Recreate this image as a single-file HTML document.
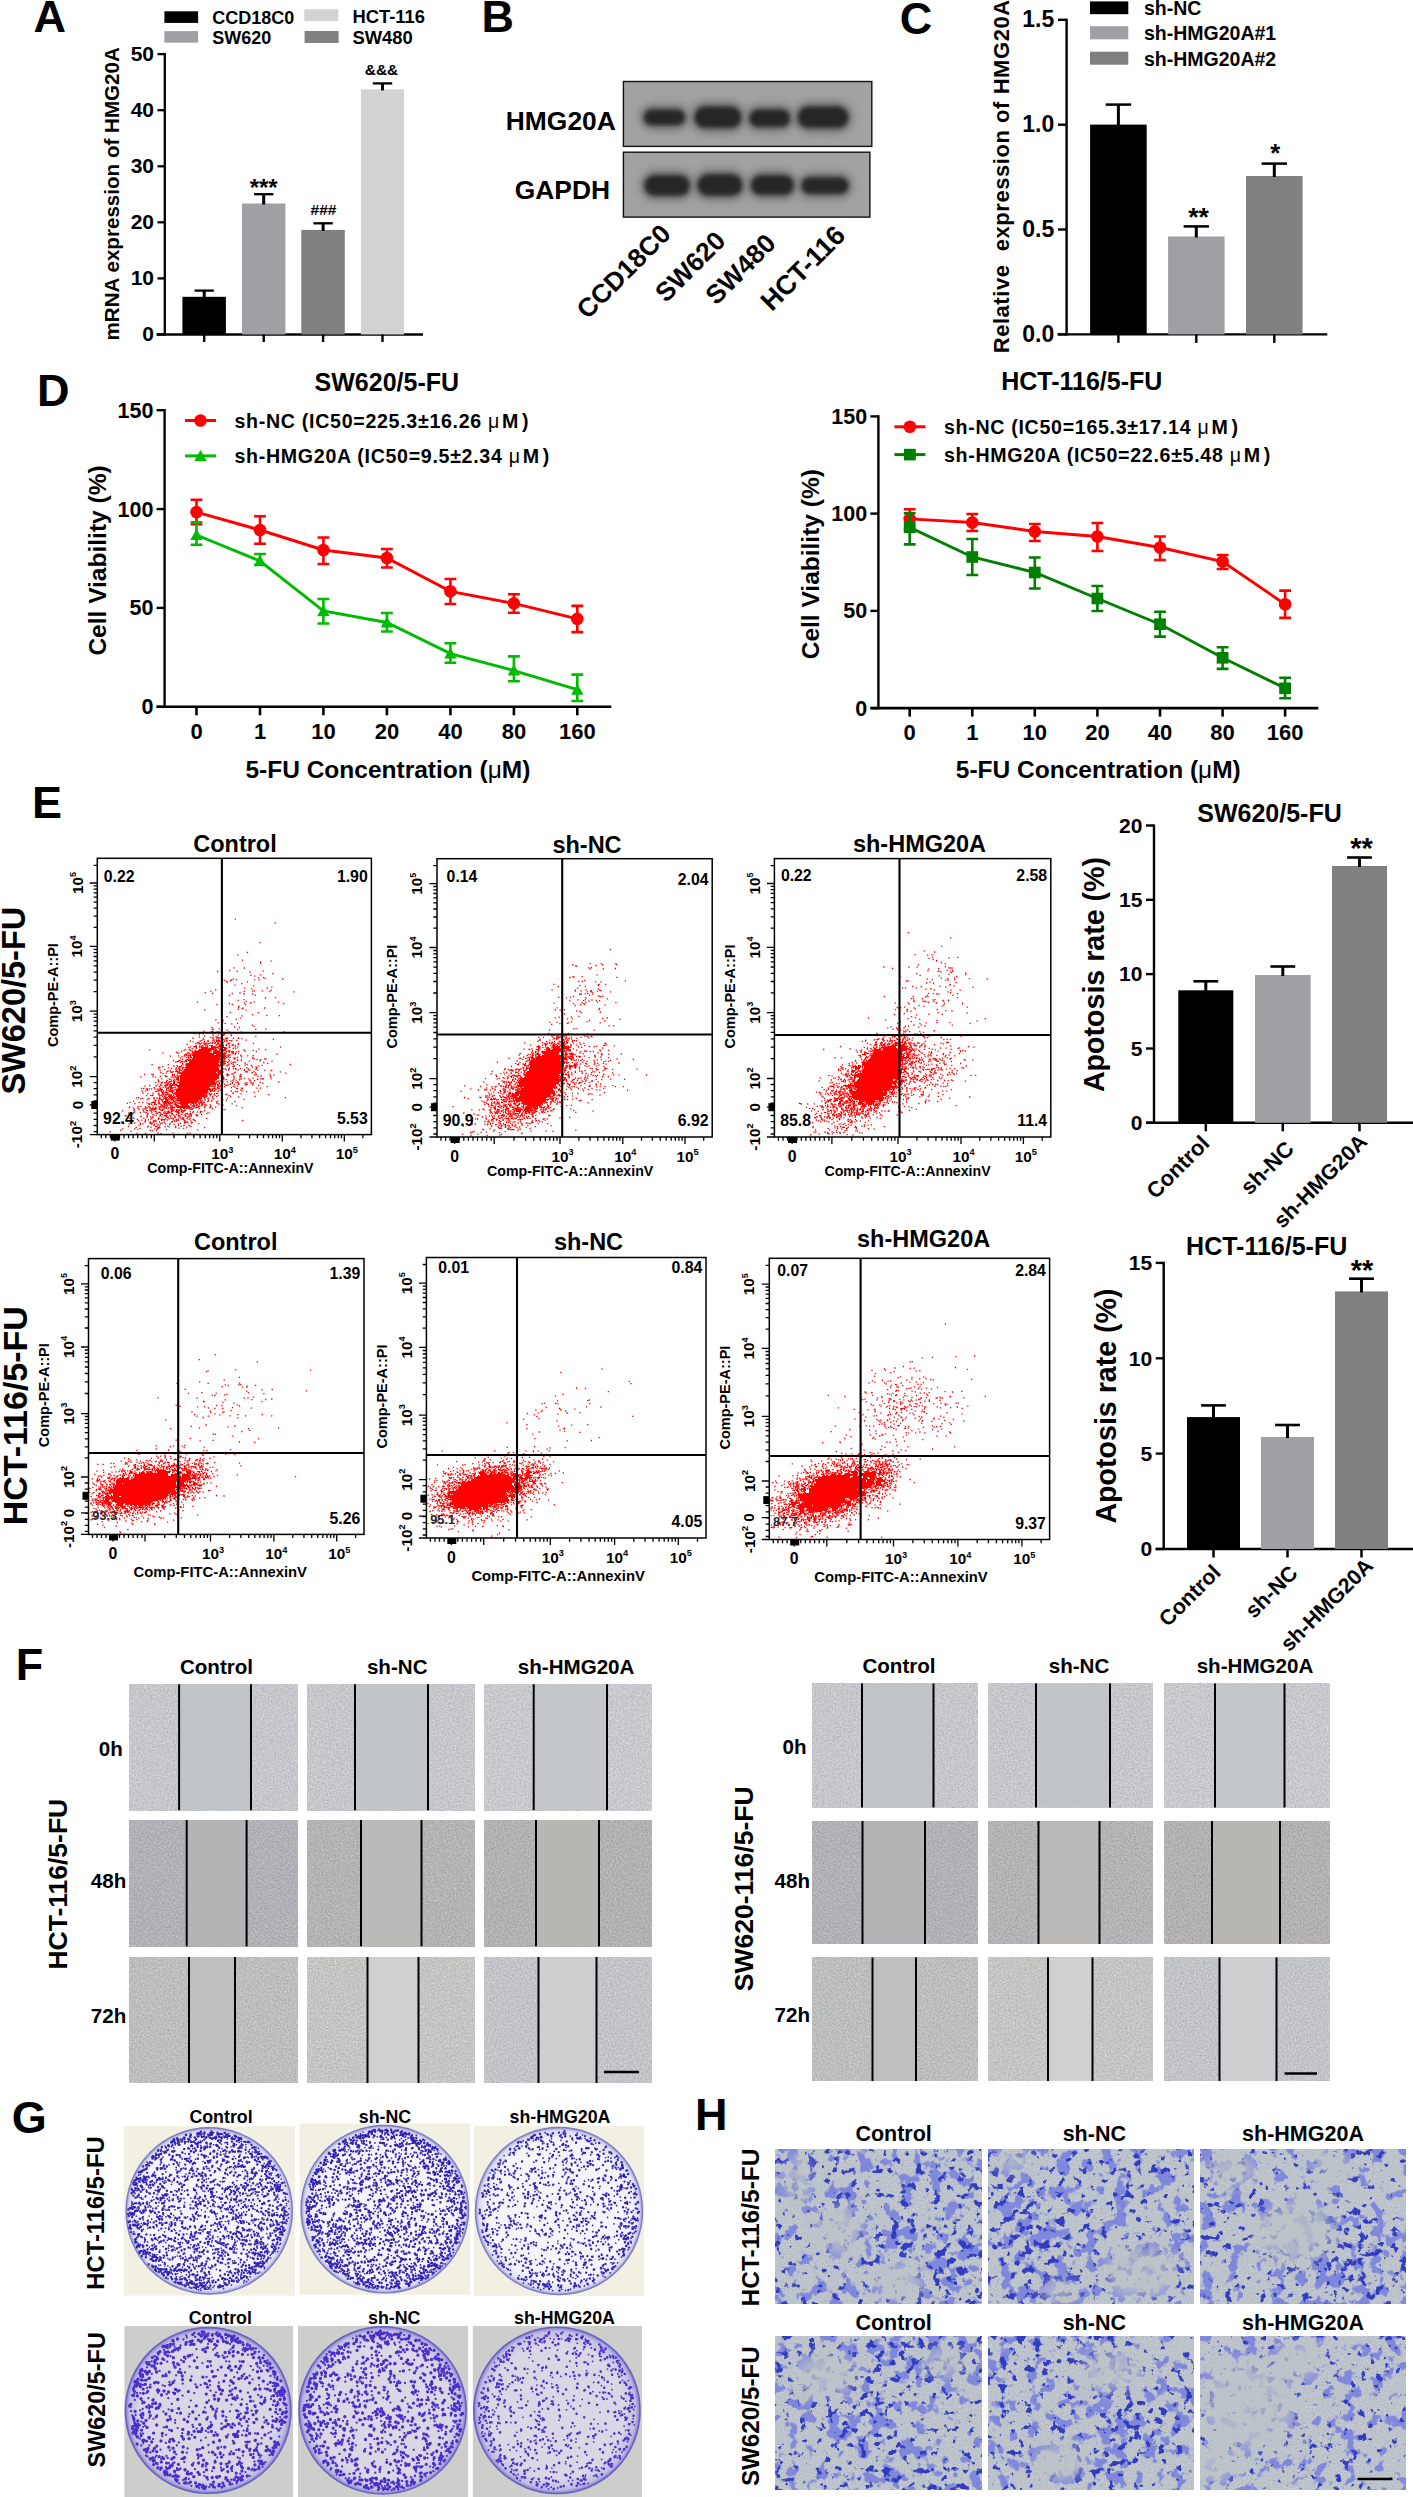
<!DOCTYPE html>
<html><head><meta charset="utf-8"><title>Figure</title>
<style>html,body{margin:0;padding:0;background:#fff;overflow:hidden;width:1413px;height:2497px;} svg{display:block;} text{font-family:"Liberation Sans", sans-serif;font-weight:bold;}</style>
</head><body>
<svg width="1413" height="2497" viewBox="0 0 1413 2497">
<rect width="1413" height="2497" fill="#fff"/>
<text x="33.6" y="31.7" font-size="45">A</text>
<rect x="164.4" y="11.3" width="33.7" height="11.6" fill="#000"/>
<text x="212.2" y="24.0" font-size="18">CCD18C0</text>
<rect x="164.4" y="31.1" width="33.7" height="11.6" fill="#a09fa4"/>
<text x="212.2" y="43.8" font-size="18">SW620</text>
<rect x="304.3" y="9.3" width="34.0" height="11.7" fill="#d3d3d3"/>
<text x="352.4" y="22.5" font-size="18.4">HCT-116</text>
<rect x="304.6" y="31.0" width="34.0" height="12.0" fill="#808080"/>
<text x="352.4" y="43.5" font-size="18.4">SW480</text>
<line x1="164.8" y1="53.0" x2="164.8" y2="335.6" stroke="#000" stroke-width="2.3"/>
<line x1="156.5" y1="334.5" x2="423.0" y2="334.5" stroke="#000" stroke-width="2.4"/>
<line x1="157.5" y1="334.5" x2="164.8" y2="334.5" stroke="#000" stroke-width="2.3"/>
<text x="154.0" y="341.3" font-size="21" text-anchor="end">0</text>
<line x1="157.5" y1="278.4" x2="164.8" y2="278.4" stroke="#000" stroke-width="2.3"/>
<text x="154.0" y="285.2" font-size="21" text-anchor="end">10</text>
<line x1="157.5" y1="222.3" x2="164.8" y2="222.3" stroke="#000" stroke-width="2.3"/>
<text x="154.0" y="229.1" font-size="21" text-anchor="end">20</text>
<line x1="157.5" y1="166.3" x2="164.8" y2="166.3" stroke="#000" stroke-width="2.3"/>
<text x="154.0" y="173.1" font-size="21" text-anchor="end">30</text>
<line x1="157.5" y1="110.2" x2="164.8" y2="110.2" stroke="#000" stroke-width="2.3"/>
<text x="154.0" y="117.0" font-size="21" text-anchor="end">40</text>
<line x1="157.5" y1="54.1" x2="164.8" y2="54.1" stroke="#000" stroke-width="2.3"/>
<text x="154.0" y="60.9" font-size="21" text-anchor="end">50</text>
<rect x="182.4" y="296.8" width="43.5" height="37.7" fill="#000"/>
<line x1="204.2" y1="297.8" x2="204.2" y2="290.6" stroke="#000" stroke-width="3"/>
<line x1="194.5" y1="290.6" x2="213.8" y2="290.6" stroke="#000" stroke-width="2.3"/>
<line x1="204.2" y1="334.5" x2="204.2" y2="342.0" stroke="#000" stroke-width="2.4"/>
<rect x="242.0" y="203.5" width="43.4" height="131.0" fill="#a09fa4"/>
<line x1="263.7" y1="204.5" x2="263.7" y2="194.2" stroke="#000" stroke-width="3"/>
<line x1="254.0" y1="194.2" x2="273.4" y2="194.2" stroke="#000" stroke-width="2.3"/>
<line x1="263.7" y1="334.5" x2="263.7" y2="342.0" stroke="#000" stroke-width="2.4"/>
<rect x="301.3" y="229.9" width="43.5" height="104.6" fill="#808080"/>
<line x1="323.1" y1="230.9" x2="323.1" y2="223.3" stroke="#000" stroke-width="3"/>
<line x1="313.4" y1="223.3" x2="332.8" y2="223.3" stroke="#000" stroke-width="2.3"/>
<line x1="323.1" y1="334.5" x2="323.1" y2="342.0" stroke="#000" stroke-width="2.4"/>
<rect x="360.9" y="89.4" width="43.2" height="245.1" fill="#d3d3d3"/>
<line x1="382.5" y1="90.4" x2="382.5" y2="83.4" stroke="#000" stroke-width="3"/>
<line x1="372.8" y1="83.4" x2="392.2" y2="83.4" stroke="#000" stroke-width="2.3"/>
<line x1="382.5" y1="334.5" x2="382.5" y2="342.0" stroke="#000" stroke-width="2.4"/>
<text x="263.7" y="196.0" font-size="24" text-anchor="middle">***</text>
<text x="323.5" y="215.0" font-size="15.5" text-anchor="middle">###</text>
<text x="381.5" y="74.9" font-size="15.5" text-anchor="middle">&amp;&amp;&amp;</text>
<text x="118.8" y="193.8" font-size="20.6" text-anchor="middle" transform="rotate(-90 118.8 193.8)">mRNA expression of HMG20A</text>
<text x="481.6" y="31.7" font-size="45">B</text>
<defs><filter id="bl" x="-30%" y="-80%" width="160%" height="260%"><feGaussianBlur stdDeviation="2.0"/></filter><filter id="bl2" x="-30%" y="-80%" width="160%" height="260%"><feGaussianBlur stdDeviation="4"/></filter></defs>
<rect x="623.4" y="81.5" width="248.4" height="64.9" fill="#a2a2a2" stroke="#111" stroke-width="1.4"/>
<rect x="640.4" y="105.2" width="48.1" height="24.2" rx="12.1" fill="#6a6a6a" filter="url(#bl2)"/>
<rect x="643.9" y="109.7" width="41.1" height="15.2" rx="7.6" fill="#262626" filter="url(#bl)"/>
<rect x="691.0" y="102.3" width="53.9" height="30.0" rx="15.0" fill="#6a6a6a" filter="url(#bl2)"/>
<rect x="694.5" y="106.8" width="46.9" height="21.0" rx="10.5" fill="#262626" filter="url(#bl)"/>
<rect x="746.0" y="105.2" width="47.6" height="26.1" rx="13.0" fill="#6a6a6a" filter="url(#bl2)"/>
<rect x="749.5" y="109.7" width="40.6" height="17.1" rx="8.5" fill="#262626" filter="url(#bl)"/>
<rect x="794.3" y="102.3" width="57.6" height="30.0" rx="15.0" fill="#6a6a6a" filter="url(#bl2)"/>
<rect x="797.8" y="106.8" width="50.6" height="21.0" rx="10.5" fill="#262626" filter="url(#bl)"/>
<rect x="623.4" y="152.2" width="246.5" height="64.9" fill="#a2a2a2" stroke="#111" stroke-width="1.4"/>
<rect x="641.0" y="171.1" width="52.3" height="29.0" rx="14.5" fill="#6a6a6a" filter="url(#bl2)"/>
<rect x="644.5" y="175.6" width="45.3" height="20.0" rx="10.0" fill="#262626" filter="url(#bl)"/>
<rect x="694.0" y="170.1" width="51.8" height="30.0" rx="15.0" fill="#6a6a6a" filter="url(#bl2)"/>
<rect x="697.5" y="174.6" width="44.8" height="21.0" rx="10.5" fill="#262626" filter="url(#bl)"/>
<rect x="747.5" y="171.1" width="49.9" height="28.1" rx="14.0" fill="#6a6a6a" filter="url(#bl2)"/>
<rect x="751.0" y="175.6" width="42.9" height="19.1" rx="9.5" fill="#262626" filter="url(#bl)"/>
<rect x="798.0" y="173.0" width="53.9" height="25.2" rx="12.6" fill="#6a6a6a" filter="url(#bl2)"/>
<rect x="801.5" y="177.5" width="46.9" height="16.2" rx="8.1" fill="#262626" filter="url(#bl)"/>
<text x="615.8" y="130.4" font-size="26.4" text-anchor="end">HMG20A</text>
<text x="610.0" y="199.0" font-size="26.4" text-anchor="end">GAPDH</text>
<text x="672.3" y="235.5" font-size="26.3" text-anchor="end" transform="rotate(-45 672.3 235.5)">CCD18C0</text>
<text x="727.0" y="242.4" font-size="26.3" text-anchor="end" transform="rotate(-45 727.0 242.4)">SW620</text>
<text x="777.3" y="244.9" font-size="26.3" text-anchor="end" transform="rotate(-45 777.3 244.9)">SW480</text>
<text x="847.0" y="236.9" font-size="27" text-anchor="end" transform="rotate(-45 847.0 236.9)">HCT-116</text>
<text x="899.7" y="34.4" font-size="45">C</text>
<line x1="1066.6" y1="18.7" x2="1066.6" y2="335.5" stroke="#000" stroke-width="2.4"/>
<line x1="1057.5" y1="334.4" x2="1327.3" y2="334.4" stroke="#000" stroke-width="2.4"/>
<line x1="1058.0" y1="334.4" x2="1066.6" y2="334.4" stroke="#000" stroke-width="2.4"/>
<text x="1054.3" y="341.8" font-size="23" text-anchor="end">0.0</text>
<line x1="1058.0" y1="229.5" x2="1066.6" y2="229.5" stroke="#000" stroke-width="2.4"/>
<text x="1054.3" y="236.9" font-size="23" text-anchor="end">0.5</text>
<line x1="1058.0" y1="124.7" x2="1066.6" y2="124.7" stroke="#000" stroke-width="2.4"/>
<text x="1054.3" y="132.1" font-size="23" text-anchor="end">1.0</text>
<line x1="1058.0" y1="19.8" x2="1066.6" y2="19.8" stroke="#000" stroke-width="2.4"/>
<text x="1054.3" y="27.2" font-size="23" text-anchor="end">1.5</text>
<rect x="1090.1" y="124.6" width="56.6" height="209.8" fill="#000"/>
<line x1="1118.4" y1="125.6" x2="1118.4" y2="104.6" stroke="#000" stroke-width="3"/>
<line x1="1105.7" y1="104.6" x2="1131.1" y2="104.6" stroke="#000" stroke-width="2.5"/>
<line x1="1118.4" y1="334.4" x2="1118.4" y2="342.9" stroke="#000" stroke-width="2.4"/>
<rect x="1168.1" y="236.5" width="56.5" height="97.9" fill="#a09fa4"/>
<line x1="1196.3" y1="237.5" x2="1196.3" y2="226.4" stroke="#000" stroke-width="3"/>
<line x1="1183.6" y1="226.4" x2="1209.0" y2="226.4" stroke="#000" stroke-width="2.5"/>
<line x1="1196.3" y1="334.4" x2="1196.3" y2="342.9" stroke="#000" stroke-width="2.4"/>
<rect x="1246.0" y="176.0" width="56.6" height="158.4" fill="#808080"/>
<line x1="1274.3" y1="177.0" x2="1274.3" y2="163.6" stroke="#000" stroke-width="3"/>
<line x1="1261.6" y1="163.6" x2="1287.0" y2="163.6" stroke="#000" stroke-width="2.5"/>
<line x1="1274.3" y1="334.4" x2="1274.3" y2="342.9" stroke="#000" stroke-width="2.4"/>
<text x="1198.5" y="226.4" font-size="26.6" text-anchor="middle">**</text>
<text x="1275.3" y="162.4" font-size="25.7" text-anchor="middle">*</text>
<rect x="1090.0" y="1.4" width="38.3" height="12.8" fill="#000"/>
<text x="1144.0" y="14.9" font-size="19.5">sh-NC</text>
<rect x="1090.0" y="26.2" width="38.3" height="13.1" fill="#a09fa4"/>
<text x="1144.0" y="40.4" font-size="19.5">sh-HMG20A#1</text>
<rect x="1090.0" y="51.7" width="38.3" height="13.0" fill="#808080"/>
<text x="1144.0" y="65.6" font-size="19.5">sh-HMG20A#2</text>
<text x="1008.9" y="353.3" font-size="22" transform="rotate(-90 1008.9 353.3)" letter-spacing="0.55">Relative&#160; expression of HMG20A</text>
<text x="37.0" y="406.0" font-size="45">D</text>
<line x1="164.6" y1="409.1" x2="164.6" y2="707.9" stroke="#000" stroke-width="2.4"/>
<line x1="156.6" y1="706.8" x2="611.3" y2="706.8" stroke="#000" stroke-width="2.6"/>
<line x1="156.6" y1="706.8" x2="164.6" y2="706.8" stroke="#000" stroke-width="2.4"/>
<text x="153.4" y="714.3" font-size="21.5" text-anchor="end">0</text>
<line x1="156.6" y1="607.9" x2="164.6" y2="607.9" stroke="#000" stroke-width="2.4"/>
<text x="153.4" y="615.4" font-size="21.5" text-anchor="end">50</text>
<line x1="156.6" y1="509.1" x2="164.6" y2="509.1" stroke="#000" stroke-width="2.4"/>
<text x="153.4" y="516.6" font-size="21.5" text-anchor="end">100</text>
<line x1="156.6" y1="410.2" x2="164.6" y2="410.2" stroke="#000" stroke-width="2.4"/>
<text x="153.4" y="417.7" font-size="21.5" text-anchor="end">150</text>
<line x1="196.5" y1="706.8" x2="196.5" y2="715.3" stroke="#000" stroke-width="2.6"/>
<text x="196.5" y="738.5" font-size="22" text-anchor="middle">0</text>
<line x1="260.0" y1="706.8" x2="260.0" y2="715.3" stroke="#000" stroke-width="2.6"/>
<text x="260.0" y="738.5" font-size="22" text-anchor="middle">1</text>
<line x1="323.4" y1="706.8" x2="323.4" y2="715.3" stroke="#000" stroke-width="2.6"/>
<text x="323.4" y="738.5" font-size="22" text-anchor="middle">10</text>
<line x1="386.9" y1="706.8" x2="386.9" y2="715.3" stroke="#000" stroke-width="2.6"/>
<text x="386.9" y="738.5" font-size="22" text-anchor="middle">20</text>
<line x1="450.4" y1="706.8" x2="450.4" y2="715.3" stroke="#000" stroke-width="2.6"/>
<text x="450.4" y="738.5" font-size="22" text-anchor="middle">40</text>
<line x1="513.9" y1="706.8" x2="513.9" y2="715.3" stroke="#000" stroke-width="2.6"/>
<text x="513.9" y="738.5" font-size="22" text-anchor="middle">80</text>
<line x1="577.3" y1="706.8" x2="577.3" y2="715.3" stroke="#000" stroke-width="2.6"/>
<text x="577.3" y="738.5" font-size="22" text-anchor="middle">160</text>
<text x="386.8" y="390.7" font-size="25" text-anchor="middle">SW620/5-FU</text>
<text x="387.9" y="778.0" font-size="24.5" text-anchor="middle">5-FU Concentration (<tspan font-weight="normal">&#956;</tspan>M)</text>
<text x="105.5" y="560.5" font-size="24.5" text-anchor="middle" transform="rotate(-90 105.5 560.5)">Cell Viability (%)</text>
<polyline points="196.5,512.1 260.0,530.0 323.4,550.0 386.9,558.0 450.4,591.3 513.9,603.4 577.3,618.9" fill="none" stroke="#ff0000" stroke-width="2.9"/>
<path d="M196.5 499.8V524.3M190.6 499.8h11.8M190.6 524.3h11.8" stroke="#ff0000" stroke-width="2.6" fill="none"/>
<circle cx="196.5" cy="512.1" r="6.3" fill="#ff0000"/>
<path d="M260.0 516.3V543.7M254.1 516.3h11.8M254.1 543.7h11.8" stroke="#ff0000" stroke-width="2.6" fill="none"/>
<circle cx="260.0" cy="530.0" r="6.3" fill="#ff0000"/>
<path d="M323.4 537.5V564.0M317.5 537.5h11.8M317.5 564.0h11.8" stroke="#ff0000" stroke-width="2.6" fill="none"/>
<circle cx="323.4" cy="550.0" r="6.3" fill="#ff0000"/>
<path d="M386.9 549.0V567.5M381.0 549.0h11.8M381.0 567.5h11.8" stroke="#ff0000" stroke-width="2.6" fill="none"/>
<circle cx="386.9" cy="558.0" r="6.3" fill="#ff0000"/>
<path d="M450.4 579.0V604.0M444.5 579.0h11.8M444.5 604.0h11.8" stroke="#ff0000" stroke-width="2.6" fill="none"/>
<circle cx="450.4" cy="591.3" r="6.3" fill="#ff0000"/>
<path d="M513.9 594.2V612.8M508.0 594.2h11.8M508.0 612.8h11.8" stroke="#ff0000" stroke-width="2.6" fill="none"/>
<circle cx="513.9" cy="603.4" r="6.3" fill="#ff0000"/>
<path d="M577.3 605.9V632.1M571.4 605.9h11.8M571.4 632.1h11.8" stroke="#ff0000" stroke-width="2.6" fill="none"/>
<circle cx="577.3" cy="618.9" r="6.3" fill="#ff0000"/>
<polyline points="196.5,535.0 260.0,561.0 323.4,611.0 386.9,622.5 450.4,653.6 513.9,670.6 577.3,689.7" fill="none" stroke="#00bb00" stroke-width="2.9"/>
<path d="M196.5 522.4V544.7M190.6 522.4h11.8M190.6 544.7h11.8" stroke="#00bb00" stroke-width="2.6" fill="none"/>
<path d="M196.5 529.0L202.7 540.0L190.3 540.0Z" fill="#00bb00"/>
<path d="M260.0 554.0V565.0M254.1 554.0h11.8M254.1 565.0h11.8" stroke="#00bb00" stroke-width="2.6" fill="none"/>
<path d="M260.0 555.0L266.2 566.0L253.8 566.0Z" fill="#00bb00"/>
<path d="M323.4 599.0V623.5M317.5 599.0h11.8M317.5 623.5h11.8" stroke="#00bb00" stroke-width="2.6" fill="none"/>
<path d="M323.4 605.0L329.6 616.0L317.2 616.0Z" fill="#00bb00"/>
<path d="M386.9 613.0V631.5M381.0 613.0h11.8M381.0 631.5h11.8" stroke="#00bb00" stroke-width="2.6" fill="none"/>
<path d="M386.9 616.5L393.1 627.5L380.7 627.5Z" fill="#00bb00"/>
<path d="M450.4 643.3V662.8M444.5 643.3h11.8M444.5 662.8h11.8" stroke="#00bb00" stroke-width="2.6" fill="none"/>
<path d="M450.4 647.6L456.6 658.6L444.2 658.6Z" fill="#00bb00"/>
<path d="M513.9 656.4V681.2M508.0 656.4h11.8M508.0 681.2h11.8" stroke="#00bb00" stroke-width="2.6" fill="none"/>
<path d="M513.9 664.6L520.1 675.6L507.7 675.6Z" fill="#00bb00"/>
<path d="M577.3 674.6V701.0M571.4 674.6h11.8M571.4 701.0h11.8" stroke="#00bb00" stroke-width="2.6" fill="none"/>
<path d="M577.3 683.7L583.5 694.7L571.1 694.7Z" fill="#00bb00"/>
<line x1="185.0" y1="420.5" x2="216.0" y2="420.5" stroke="#ff0000" stroke-width="3"/>
<circle cx="200.5" cy="420.5" r="6.3" fill="#ff0000"/>
<text x="234.5" y="428.0" font-size="19.6" letter-spacing="0.7">sh-NC (IC50=225.3±16.26 <tspan font-weight="normal">&#956;</tspan><tspan dx="2">M</tspan><tspan dx="3">)</tspan></text>
<line x1="185.0" y1="455.9" x2="216.0" y2="455.9" stroke="#00bb00" stroke-width="3"/>
<path d="M200.5 449.9L206.7 460.9L194.3 460.9Z" fill="#00bb00"/>
<text x="234.5" y="462.6" font-size="19.6" letter-spacing="0.7">sh-HMG20A (IC50=9.5±2.34 <tspan font-weight="normal">&#956;</tspan><tspan dx="2">M</tspan><tspan dx="3">)</tspan></text>
<line x1="878.4" y1="415.3" x2="878.4" y2="709.2" stroke="#000" stroke-width="2.4"/>
<line x1="870.4" y1="708.1" x2="1318.3" y2="708.1" stroke="#000" stroke-width="2.6"/>
<line x1="870.4" y1="708.1" x2="878.4" y2="708.1" stroke="#000" stroke-width="2.4"/>
<text x="867.2" y="715.6" font-size="21.5" text-anchor="end">0</text>
<line x1="870.4" y1="610.9" x2="878.4" y2="610.9" stroke="#000" stroke-width="2.4"/>
<text x="867.2" y="618.4" font-size="21.5" text-anchor="end">50</text>
<line x1="870.4" y1="513.6" x2="878.4" y2="513.6" stroke="#000" stroke-width="2.4"/>
<text x="867.2" y="521.1" font-size="21.5" text-anchor="end">100</text>
<line x1="870.4" y1="416.4" x2="878.4" y2="416.4" stroke="#000" stroke-width="2.4"/>
<text x="867.2" y="423.9" font-size="21.5" text-anchor="end">150</text>
<line x1="909.7" y1="708.1" x2="909.7" y2="716.6" stroke="#000" stroke-width="2.6"/>
<text x="909.7" y="740.0" font-size="22" text-anchor="middle">0</text>
<line x1="972.3" y1="708.1" x2="972.3" y2="716.6" stroke="#000" stroke-width="2.6"/>
<text x="972.3" y="740.0" font-size="22" text-anchor="middle">1</text>
<line x1="1034.8" y1="708.1" x2="1034.8" y2="716.6" stroke="#000" stroke-width="2.6"/>
<text x="1034.8" y="740.0" font-size="22" text-anchor="middle">10</text>
<line x1="1097.4" y1="708.1" x2="1097.4" y2="716.6" stroke="#000" stroke-width="2.6"/>
<text x="1097.4" y="740.0" font-size="22" text-anchor="middle">20</text>
<line x1="1160.0" y1="708.1" x2="1160.0" y2="716.6" stroke="#000" stroke-width="2.6"/>
<text x="1160.0" y="740.0" font-size="22" text-anchor="middle">40</text>
<line x1="1222.6" y1="708.1" x2="1222.6" y2="716.6" stroke="#000" stroke-width="2.6"/>
<text x="1222.6" y="740.0" font-size="22" text-anchor="middle">80</text>
<line x1="1285.1" y1="708.1" x2="1285.1" y2="716.6" stroke="#000" stroke-width="2.6"/>
<text x="1285.1" y="740.0" font-size="22" text-anchor="middle">160</text>
<text x="1081.8" y="390.0" font-size="25" text-anchor="middle">HCT-116/5-FU</text>
<text x="1098.3" y="778.2" font-size="24.5" text-anchor="middle">5-FU Concentration (<tspan font-weight="normal">&#956;</tspan>M)</text>
<text x="819.0" y="564.2" font-size="24.5" text-anchor="middle" transform="rotate(-90 819.0 564.2)">Cell Viability (%)</text>
<polyline points="909.7,518.9 972.3,522.5 1034.8,531.5 1097.4,536.5 1160.0,547.5 1222.6,561.5 1285.1,604.3" fill="none" stroke="#ff0000" stroke-width="2.9"/>
<path d="M909.7 509.3V529.1M903.8 509.3h11.8M903.8 529.1h11.8" stroke="#ff0000" stroke-width="2.6" fill="none"/>
<circle cx="909.7" cy="518.9" r="6.3" fill="#ff0000"/>
<path d="M972.3 514.0V531.0M966.4 514.0h11.8M966.4 531.0h11.8" stroke="#ff0000" stroke-width="2.6" fill="none"/>
<circle cx="972.3" cy="522.5" r="6.3" fill="#ff0000"/>
<path d="M1034.8 524.0V541.0M1028.9 524.0h11.8M1028.9 541.0h11.8" stroke="#ff0000" stroke-width="2.6" fill="none"/>
<circle cx="1034.8" cy="531.5" r="6.3" fill="#ff0000"/>
<path d="M1097.4 523.0V551.0M1091.5 523.0h11.8M1091.5 551.0h11.8" stroke="#ff0000" stroke-width="2.6" fill="none"/>
<circle cx="1097.4" cy="536.5" r="6.3" fill="#ff0000"/>
<path d="M1160.0 536.5V560.0M1154.1 536.5h11.8M1154.1 560.0h11.8" stroke="#ff0000" stroke-width="2.6" fill="none"/>
<circle cx="1160.0" cy="547.5" r="6.3" fill="#ff0000"/>
<path d="M1222.6 555.0V569.0M1216.7 555.0h11.8M1216.7 569.0h11.8" stroke="#ff0000" stroke-width="2.6" fill="none"/>
<circle cx="1222.6" cy="561.5" r="6.3" fill="#ff0000"/>
<path d="M1285.1 590.6V617.9M1279.2 590.6h11.8M1279.2 617.9h11.8" stroke="#ff0000" stroke-width="2.6" fill="none"/>
<circle cx="1285.1" cy="604.3" r="6.3" fill="#ff0000"/>
<polyline points="909.7,527.4 972.3,557.0 1034.8,572.5 1097.4,598.5 1160.0,624.2 1222.6,657.8 1285.1,688.3" fill="none" stroke="#008000" stroke-width="2.9"/>
<path d="M909.7 513.2V544.4M903.8 513.2h11.8M903.8 544.4h11.8" stroke="#008000" stroke-width="2.6" fill="none"/>
<rect x="903.8" y="521.6" width="11.8" height="11.6" fill="#008000"/>
<path d="M972.3 539.0V575.0M966.4 539.0h11.8M966.4 575.0h11.8" stroke="#008000" stroke-width="2.6" fill="none"/>
<rect x="966.4" y="551.2" width="11.8" height="11.6" fill="#008000"/>
<path d="M1034.8 557.5V588.5M1028.9 557.5h11.8M1028.9 588.5h11.8" stroke="#008000" stroke-width="2.6" fill="none"/>
<rect x="1028.9" y="566.7" width="11.8" height="11.6" fill="#008000"/>
<path d="M1097.4 586.0V611.0M1091.5 586.0h11.8M1091.5 611.0h11.8" stroke="#008000" stroke-width="2.6" fill="none"/>
<rect x="1091.5" y="592.7" width="11.8" height="11.6" fill="#008000"/>
<path d="M1160.0 611.8V636.6M1154.1 611.8h11.8M1154.1 636.6h11.8" stroke="#008000" stroke-width="2.6" fill="none"/>
<rect x="1154.1" y="618.4" width="11.8" height="11.6" fill="#008000"/>
<path d="M1222.6 647.2V668.9M1216.7 647.2h11.8M1216.7 668.9h11.8" stroke="#008000" stroke-width="2.6" fill="none"/>
<rect x="1216.7" y="652.0" width="11.8" height="11.6" fill="#008000"/>
<path d="M1285.1 677.7V698.2M1279.2 677.7h11.8M1279.2 698.2h11.8" stroke="#008000" stroke-width="2.6" fill="none"/>
<rect x="1279.2" y="682.5" width="11.8" height="11.6" fill="#008000"/>
<line x1="894.4" y1="426.8" x2="925.4" y2="426.8" stroke="#ff0000" stroke-width="3"/>
<circle cx="909.9" cy="426.8" r="6.3" fill="#ff0000"/>
<text x="943.9" y="434.3" font-size="19.6" letter-spacing="0.7">sh-NC (IC50=165.3±17.14 <tspan font-weight="normal">&#956;</tspan><tspan dx="2">M</tspan><tspan dx="3">)</tspan></text>
<line x1="894.4" y1="454.6" x2="925.4" y2="454.6" stroke="#008000" stroke-width="3"/>
<rect x="904.0" y="448.8" width="11.8" height="11.6" fill="#008000"/>
<text x="943.9" y="462.3" font-size="19.6" letter-spacing="0.7">sh-HMG20A (IC50=22.6±5.48 <tspan font-weight="normal">&#956;</tspan><tspan dx="2">M</tspan><tspan dx="3">)</tspan></text>
<text x="32.0" y="818.0" font-size="45">E</text>
<text x="24.7" y="1000.7" font-size="32.5" text-anchor="middle" transform="rotate(-90 24.7 1000.7)">SW620/5-FU</text>
<text x="27.0" y="1415.7" font-size="34" text-anchor="middle" transform="rotate(-90 27.0 1415.7)">HCT-116/5-FU</text>
<path d="M217 1043h1v1h-1zM211 1045h2v1h-2zM220 1045h1v1h-1zM222 1045h2v1h-2zM211 1046h3v1h-3zM220 1046h4v1h-4zM201 1047h7v1h-7zM211 1047h3v1h-3zM222 1047h4v1h-4zM201 1048h7v1h-7zM210 1048h4v1h-4zM224 1048h2v1h-2zM199 1049h15v1h-15zM223 1049h3v1h-3zM198 1050h14v1h-14zM214 1050h4v1h-4zM223 1050h3v1h-3zM195 1051h15v1h-15zM214 1051h6v1h-6zM193 1052h17v1h-17zM213 1052h7v1h-7zM193 1053h28v1h-28zM223 1053h1v1h-1zM192 1054h22v1h-22zM216 1054h9v1h-9zM189 1055h1v1h-1zM192 1055h33v1h-33zM193 1056h33v1h-33zM193 1057h27v1h-27zM223 1057h2v1h-2zM192 1058h28v1h-28zM192 1059h27v1h-27zM188 1060h31v1h-31zM221 1060h3v1h-3zM189 1061h30v1h-30zM220 1061h2v1h-2zM189 1062h29v1h-29zM220 1062h1v1h-1zM186 1063h32v1h-32zM186 1064h33v1h-33zM220 1064h1v1h-1zM186 1065h36v1h-36zM186 1066h32v1h-32zM185 1067h33v1h-33zM185 1068h34v1h-34zM184 1069h35v1h-35zM184 1070h37v1h-37zM183 1071h34v1h-34zM218 1071h3v1h-3zM182 1072h34v1h-34zM218 1072h3v1h-3zM182 1073h35v1h-35zM218 1073h3v1h-3zM181 1074h39v1h-39zM181 1075h38v1h-38zM180 1076h38v1h-38zM177 1077h2v1h-2zM180 1077h38v1h-38zM176 1078h3v1h-3zM180 1078h38v1h-38zM176 1079h3v1h-3zM180 1079h37v1h-37zM180 1080h35v1h-35zM173 1081h2v1h-2zM180 1081h35v1h-35zM173 1082h2v1h-2zM180 1082h35v1h-35zM173 1083h2v1h-2zM179 1083h37v1h-37zM172 1084h3v1h-3zM179 1084h36v1h-36zM171 1085h2v1h-2zM178 1085h33v1h-33zM170 1086h2v1h-2zM177 1086h33v1h-33zM170 1087h2v1h-2zM178 1087h31v1h-31zM178 1088h31v1h-31zM177 1089h32v1h-32zM176 1090h32v1h-32zM172 1091h1v1h-1zM176 1091h31v1h-31zM176 1092h31v1h-31zM176 1093h30v1h-30zM176 1094h29v1h-29zM169 1095h3v1h-3zM176 1095h29v1h-29zM169 1096h4v1h-4zM176 1096h29v1h-29zM165 1097h1v1h-1zM169 1097h4v1h-4zM177 1097h25v1h-25zM165 1098h2v1h-2zM170 1098h3v1h-3zM177 1098h24v1h-24zM165 1099h3v1h-3zM172 1099h1v1h-1zM177 1099h22v1h-22zM161 1100h1v1h-1zM165 1100h3v1h-3zM178 1100h20v1h-20zM164 1101h4v1h-4zM180 1101h18v1h-18zM154 1102h2v1h-2zM164 1102h5v1h-5zM180 1102h17v1h-17zM164 1103h2v1h-2zM168 1103h2v1h-2zM180 1103h9v1h-9zM192 1103h2v1h-2zM181 1104h7v1h-7zM177 1105h1v1h-1zM181 1105h8v1h-8zM172 1106h1v1h-1zM177 1106h12v1h-12zM171 1107h3v1h-3zM177 1107h11v1h-11zM172 1108h1v1h-1zM183 1108h2v1h-2z" fill="#ff0000"/>
<path d="M177.3 1071.6h0m-9.9 22.6h0m32.6 11.9h0m-0.8 -62.6h0m15.8 3.2h0m-41.0 48.0h0m6.7 -27.9h0m22.5 35.7h0m21.2 -61.0h0m-34.1 13.2h0m7.2 57.3h0m-8.6 -56.1h0m17.4 -13.0h0m14.6 4.7h0m-38.1 11.8h0m23.8 45.7h0m9.8 -22.8h0m-7.8 17.8h0m-8.4 -56.1h0m-11.6 13.8h0m7.6 56.8h0m-25.5 -26.0h0m51.2 -13.0h0m-2.5 12.6h0m-26.3 -46.4h0m14.9 1.7h0m-33.9 41.9h0m33.6 6.2h0m10.4 -13.7h0m5.3 1.5h0m-0.6 -57.3h0m-5.7 9.9h0m-0.3 64.7h0m-0.7 -60.3h0m-51.7 71.6h0m6.9 3.4h0m16.3 2.0h0m46.7 -54.4h0m-32.8 43.6h0m6.4 -10.2h0m-23.2 17.6h0m2.2 -50.2h0m27.6 27.3h0m-13.1 14.0h0m-29.2 -13.1h0m27.4 -54.9h0m21.3 53.2h0m-9.3 0.3h0m-23.7 -29.7h0m17.2 43.1h0m-3.4 4.5h0m4.7 -8.0h0m-27.2 -35.8h0m43.7 8.1h0m-29.2 35.3h0m-22.0 4.6h0m27.7 -73.9h0m-4.4 11.8h0m23.1 16.0h0m-0.6 24.7h0m-2.0 -44.6h0m-4.8 -5.3h0m-21.6 11.7h0m-19.3 55.8h0m29.9 -58.9h0m17.5 -5.1h0m-8.5 2.5h0m-4.0 -1.7h0m7.5 58.1h0m12.1 -46.1h0m0.3 9.6h0m-30.0 42.6h0m-27.4 -20.5h0m45.8 -47.7h0m-40.9 50.8h0m36.2 -47.5h0m-10.0 1.6h0m-8.5 65.2h0m-0.6 11.4h0m23.2 -75.9h0m6.7 -4.5h0m-18.9 2.2h0m-21.8 35.8h0m40.4 11.9h0m0.5 -42.1h0m-24.5 4.4h0m12.9 -10.0h0m12.1 -0.3h0m-23.6 5.2h0m20.1 -5.9h0m-26.5 69.0h0m-6.5 -38.2h0m13.0 -22.4h0m23.4 18.3h0m-25.0 39.8h0m4.7 -69.3h0m-1.4 69.9h0m-13.0 8.7h0m-15.9 3.0h0m49.2 -75.6h0m-31.0 75.5h0m26.6 -79.0h0m-3.0 66.2h0m6.3 -24.6h0m6.6 -3.3h0m-25.1 -35.7h0m24.9 -7.1h0m-3.7 15.0h0m-7.5 38.6h0m-37.0 -4.2h0m14.1 41.0h0m29.8 -85.1h0m-31.1 14.5h0m-6.1 1.8h0m0.8 7.8h0m30.6 -12.8h0m-9.7 -8.8h0m-1.2 3.1h0m-24.0 66.6h0m6.1 -57.8h0m-3.5 18.0h0m36.9 -32.4h0m-0.2 50.7h0m-31.2 -30.4h0m18.0 -19.5h0m-25.4 34.7h0m43.6 -24.5h0m-6.9 32.2h0m-8.8 8.8h0m-3.3 -52.9h0m-24.0 30.8h0m25.8 24.7h0m-9.2 -49.5h0m-20.1 65.4h0m15.9 -2.4h0m34.6 -34.2h0m-7.9 -12.2h0m-21.4 67.7h0m15.1 -87.6h0m-39.1 38.1h0m12.7 -22.9h0m12.9 51.0h0m21.2 -34.5h0m5.1 -12.6h0m-8.9 -19.8h0m-25.2 16.0h0m-25.2 56.0h0m24.2 -54.0h0m-10.9 22.9h0m11.2 -25.2h0m1.8 -4.8h0m11.7 45.2h0m2.5 -4.1h0m-21.2 -28.8h0m-12.0 -4.1h0m35.3 -12.3h0m9.7 -10.8h0m-42.2 48.1h0m14.8 18.1h0m27.2 -27.4h0m0.8 -25.5h0m-7.8 35.2h0m-38.7 -11.0h0m15.5 -15.8h0m-5.5 9.7h0m8.9 38.7h0m16.2 -6.0h0m-5.9 3.7h0m19.9 -70.1h0m-19.9 10.8h0m18.8 2.3h0m-15.4 46.6h0m17.1 -23.6h0m-10.5 -44.0h0m-46.7 68.7h0m48.6 -9.9h0m6.7 -27.7h0m-10.5 36.2h0m-8.1 -51.5h0m17.0 5.2h0m-35.2 63.3h0m16.1 -63.8h0m-9.1 9.3h0m-15.9 35.8h0m17.5 29.6h0m7.7 -19.4h0m16.2 -14.0h0m-23.1 16.5h0m-10.0 -44.2h0m-6.1 4.1h0m41.1 12.3h0m-4.7 -42.3h0m-16.3 69.5h0m19.1 -59.6h0m-28.4 7.8h0m25.1 35.3h0m-40.5 20.6h0m19.8 -58.4h0m11.7 -19.7h0m-11.1 81.4h0m26.7 -29.3h0m-10.5 -39.7h0m-30.6 38.9h0m32.3 7.1h0m11.6 -53.9h0m-0.1 39.2h0m-22.6 29.0h0m17.5 -59.2h0m-26.0 76.4h0m-12.6 -5.8h0m14.8 4.3h0m-12.5 -43.5h0m37.5 -40.8h0m-15.9 65.7h0m-32.1 -29.9h0m23.4 36.4h0m-15.2 -46.0h0m32.8 25.3h0m-31.5 -16.9h0m33.1 -31.4h0m-9.4 -4.5h0m-21.6 27.8h0m27.9 27.3h0m17.5 -58.8h0m-27.5 69.1h0m-3.4 -52.2h0m-19.0 65.4h0m32.1 -24.2h0m8.2 -0.4h0m-36.8 -29.7h0m-11.0 46.0h0m19.8 -50.9h0m4.2 -6.4h0m-10.1 71.1h0m-13.8 -33.2h0m49.4 -55.9h0m-26.3 23.9h0m2.1 -19.1h0m-9.3 27.4h0m-10.7 41.5h0m10.8 -41.7h0m34.4 -16.6h0m-2.1 -2.1h0m0.2 1.6h0m-29.6 3.6h0m-16.3 27.0h0m34.6 -27.4h0m10.9 34.4h0m-27.4 -25.5h0m18.4 42.2h0m-39.6 -16.7h0m15.0 -25.3h0m0.9 54.4h0m-8.1 -21.5h0m33.4 2.7h0m4.6 -43.0h0m-19.1 -1.1h0m6.3 -14.8h0m15.3 39.8h0m3.6 -9.3h0m-54.5 25.7h0m15.0 23.2h0m38.8 -48.4h0m-27.9 -11.9h0m10.2 -6.4h0m11.4 48.5h0m-17.2 22.0h0m-25.7 -47.6h0m46.3 2.8h0m-4.9 -37.3h0m-3.4 55.9h0m-20.0 16.7h0m-13.3 -7.6h0m3.0 -27.5h0m44.0 -9.8h0m-4.8 27.3h0m-37.9 -15.5h0m8.3 -17.6h0m-6.6 5.9h0m8.2 -20.7h0m14.4 -4.9h0m-20.7 74.5h0m28.9 -70.3h0m-31.3 71.3h0m1.2 -43.7h0m35.6 23.4h0m-30.3 -38.7h0m26.6 -19.4h0m-48.0 59.3h0m49.4 -43.1h0m-28.9 -5.0h0m18.2 1.8h0m-1.1 -2.2h0m12.8 -5.6h0m-39.0 72.5h0m12.9 -1.4h0m5.2 -5.7h0m-21.4 17.8h0m16.1 -62.1h0m-0.7 -8.8h0m-17.8 62.7h0m46.0 -27.3h0m-40.8 -12.4h0m36.2 -22.7h0m-20.9 -12.9h0m29.0 -5.0h0m-5.8 3.7h0m6.9 -16.5h0m-2.7 53.7h0m-37.6 -10.5h0m21.9 47.1h0m-4.5 -66.4h0m-9.9 5.6h0m11.2 -3.0h0m12.7 41.8h0m0.5 -40.4h0m-5.1 45.4h0m-3.9 11.2h0m7.3 -73.3h0m-12.8 69.7h0m-9.4 12.2h0m14.9 -68.9h0m13.3 -12.6h0m-6.1 6.2h0m12.4 25.4h0m-54.4 52.4h0m24.9 -72.4h0m11.5 52.5h0m-33.1 -15.8h0m31.4 -36.7h0m-5.6 3.1h0m7.0 67.1h0m8.4 -70.6h0m0.3 37.1h0m-23.4 -31.5h0m-6.5 5.4h0m16.8 49.7h0m-24.1 1.8h0m-8.7 -3.7h0m40.4 2.9h0m-7.5 -1.3h0m18.2 -18.1h0m-31.9 -26.8h0m43.0 -17.7h0m-72.9 87.0h0m61.4 -37.6h0m-63.9 40.0h0m2.0 -27.2h0m10.9 -24.1h0m8.8 41.3h0m6.1 1.5h0m-16.2 -37.7h0m-5.3 -10.5h0m58.3 16.5h0m-50.7 -4.4h0m10.1 -23.4h0m66.6 2.1h0m-112.4 47.6h0m87.4 -26.5h0m-47.3 4.2h0m37.7 -3.5h0m-51.1 4.6h0m43.4 15.7h0m-22.2 5.8h0m-19.6 -17.8h0m-15.5 -4.8h0m18.4 5.5h0m-1.3 2.8h0m-8.4 6.5h0m-21.3 -0.8h0m84.1 -19.0h0m-46.7 8.1h0m6.2 32.5h0m36.8 -40.5h0m7.6 -7.5h0m-55.5 29.1h0m8.5 5.4h0m-6.6 15.0h0m13.7 -7.8h0m-3.1 -16.8h0m-36.5 8.3h0m51.9 -6.8h0m-16.2 6.6h0m-8.9 -20.3h0m1.9 20.9h0m-4.6 6.8h0m-16.7 4.5h0m27.4 -20.9h0m8.9 20.5h0m-6.7 -61.7h0m-0.5 57.4h0m-24.0 -10.3h0m4.8 -16.3h0m-11.4 13.6h0m16.9 -31.3h0m0.6 17.4h0m19.1 31.5h0m10.3 -16.7h0m-30.3 -19.4h0m-15.9 22.2h0m29.8 -35.7h0m-13.3 41.5h0m-6.0 -37.7h0m16.3 28.2h0m-19.4 -19.6h0m57.0 5.7h0m-74.0 21.9h0m36.2 -5.9h0m-13.1 -15.6h0m16.3 24.1h0m-18.6 -10.8h0m25.8 9.5h0m57.6 -43.4h0m-11.2 -25.6h0m-61.4 58.6h0m-19.8 19.9h0m6.1 -43.4h0m68.4 -22.3h0m-8.5 9.5h0m-64.9 55.1h0m-12.4 -45.3h0m33.9 10.3h0m48.3 -15.2h0m-40.3 45.9h0m12.6 3.0h0m-33.8 -0.5h0m-1.3 -14.1h0m25.6 9.7h0m-10.3 -39.2h0m-11.1 42.8h0m-16.1 0.2h0m63.0 -29.4h0m-28.7 -22.4h0m-8.6 39.9h0m-6.0 4.1h0m-5.9 -29.7h0m6.0 35.5h0m43.4 -23.9h0m-47.9 -1.2h0m23.0 -31.1h0m-19.9 41.9h0m59.4 -33.9h0m12.5 -18.3h0m-84.1 53.1h0m11.8 -14.0h0m11.1 -37.6h0m-16.2 42.3h0m-3.4 33.5h0m-17.2 -22.2h0m13.3 19.2h0m9.7 -19.1h0m12.3 -0.9h0m32.4 -4.8h0m-37.0 -17.1h0m-20.9 11.6h0m11.2 -9.9h0m48.3 -39.7h0m-37.6 26.4h0m-2.4 51.4h0m57.2 -85.3h0m-58.9 26.5h0m1.9 5.7h0m-23.3 41.8h0m58.4 -15.0h0m-71.5 13.5h0m25.4 -7.1h0m33.2 5.5h0m36.0 -52.1h0m-37.8 58.2h0m-43.3 -0.4h0m81.4 -50.7h0m-52.7 13.4h0m42.2 0.7h0m-34.4 47.5h0m-9.6 -27.8h0m-8.6 -5.9h0m44.5 3.9h0m-54.5 -18.8h0m-7.8 49.8h0m1.9 -3.8h0m83.3 -29.8h0m-94.0 32.4h0m39.6 -69.9h0m31.6 35.0h0m-27.4 28.3h0m-2.2 4.2h0m-12.3 -36.1h0m-21.1 29.4h0m1.1 -18.2h0m20.6 -3.9h0m4.3 16.2h0m3.3 4.0h0m-20.6 5.8h0m15.9 -14.9h0m-5.0 10.1h0m-8.7 11.8h0m56.3 -40.0h0m-77.7 10.4h0m74.0 -54.8h0m-57.8 71.7h0m-42.7 17.0h0m58.5 -42.7h0m17.7 -33.7h0m-55.3 76.0h0m45.6 -46.7h0m38.2 10.4h0m-59.0 -3.6h0m2.9 2.8h0m-1.5 34.7h0m14.6 -38.2h0m-16.5 18.6h0m63.3 -32.3h0m-66.0 39.9h0m9.1 -27.2h0m-8.8 5.2h0m88.4 -35.2h0m-65.1 40.5h0m-14.0 10.1h0m65.0 -36.2h0m-61.8 49.7h0m-5.0 -39.2h0m80.6 -5.7h0m-99.8 37.3h0m36.0 -30.9h0m27.7 19.1h0m-29.0 15.7h0m1.6 -43.7h0m-15.8 31.1h0m9.1 5.3h0m58.1 -47.7h0m-30.7 41.7h0m-41.4 19.8h0m17.4 -52.1h0m-8.2 23.3h0m50.8 5.5h0m17.1 -41.2h0m-54.4 51.0h0m-18.6 20.4h0m-14.0 -30.7h0m67.1 -11.5h0m-57.0 0.0h0m88.0 -40.4h0m-6.8 -12.7h0m-79.5 29.0h0m20.7 5.9h0m-29.9 36.9h0m21.7 0.0h0m-6.4 -5.6h0m-16.6 9.2h0m23.6 4.5h0m0.4 -15.5h0m4.8 -41.0h0m-33.4 27.0h0m8.4 -24.1h0m12.5 5.0h0m12.5 5.7h0m-22.9 34.0h0m14.9 -14.9h0m10.6 -27.7h0m1.6 7.3h0m-40.9 50.4h0m19.2 -28.2h0m33.0 12.4h0m12.0 -0.7h0m-63.0 -19.6h0m64.7 6.7h0m-47.7 -5.0h0m6.1 23.9h0m22.7 19.4h0m44.4 -80.9h0m-24.0 -6.2h0m-35.5 59.6h0m4.2 -53.7h0m-21.1 59.2h0m8.2 -13.4h0m-9.6 16.9h0m-2.4 -10.3h0m77.9 -43.8h0m-68.5 34.9h0m9.6 10.9h0m0.2 -26.8h0m3.4 -3.5h0m-30.4 42.2h0m21.7 0.4h0m10.9 -47.5h0m-1.1 31.7h0m34.1 -54.5h0m-7.5 63.1h0m-26.0 -13.0h0m-6.0 17.4h0m52.0 -34.3h0m-45.6 28.2h0m-53.8 1.0h0m30.5 -4.9h0m72.0 3.7h0m2.4 -33.9h0m-74.3 17.3h0m61.7 -45.5h0m-58.3 64.3h0m-1.6 -8.1h0m-0.1 25.1h0m-41.2 -8.1h0m58.5 -6.4h0m6.7 -61.2h0m6.4 61.4h0m-25.8 -28.1h0m-5.2 35.1h0m-32.5 0.4h0m41.6 -29.2h0m-17.9 27.2h0m23.0 -9.2h0m22.7 5.6h0m-54.8 11.0h0m38.6 -29.6h0m13.7 -38.0h0m30.5 -14.7h0m-59.1 54.1h0m5.1 -5.1h0m-18.5 1.6h0m32.4 -27.9h0m-4.8 56.8h0m-15.4 -42.6h0m8.3 30.0h0m-1.5 -24.8h0m54.3 -37.7h0m-8.8 41.6h0m-1.3 16.4h0m25.5 -59.7h0m-59.7 46.6h0m-8.1 -10.5h0m-13.2 36.7h0m-3.6 -3.7h0m17.7 -49.1h0m0.3 28.5h0m-0.5 -1.8h0m-18.1 13.2h0m8.2 -17.2h0m2.2 22.8h0m74.6 -55.2h0m-28.4 60.3h0m-78.0 -5.3h0m35.6 -17.0h0m32.2 11.2h0m-5.7 19.0h0m-43.5 -26.5h0m86.3 -23.7h0m-65.6 6.9h0m9.7 26.4h0m2.5 8.3h0m-18.6 -12.4h0m72.4 -26.5h0m-60.8 21.5h0m-15.1 24.5h0m16.0 -20.5h0m52.0 -52.9h0m-87.2 58.1h0m89.1 -24.5h0m-57.0 9.4h0m66.8 -33.9h0m-69.9 44.5h0m53.6 -18.9h0m-16.5 18.8h0m23.8 -45.2h0m-103.5 56.2h0m107.8 -49.3h0m-52.0 42.3h0m18.2 -4.9h0m-78.4 26.4h0m39.2 -60.0h0m15.1 30.5h0m-30.2 21.2h0m71.6 -28.5h0m-32.4 31.7h0m-50.4 -7.3h0m39.5 -22.4h0m-6.8 -14.1h0m4.4 0.2h0m-2.5 5.5h0m-0.4 1.0h0m-1.7 41.4h0m-7.8 -11.5h0m56.6 -29.3h0m-56.3 4.3h0m-29.0 9.3h0m-0.7 21.4h0m43.8 -12.7h0m-32.8 17.3h0m34.9 -38.3h0m14.0 24.5h0m-51.6 4.8h0m77.9 -33.2h0m-18.6 20.9h0m-21.5 10.4h0m-28.0 -1.4h0m71.8 -33.4h0m-67.2 -8.5h0m14.5 33.1h0m-7.9 -13.3h0m-12.5 14.0h0m89.0 -6.5h0m-59.3 -29.8h0m22.1 43.4h0m-25.1 6.6h0m-17.2 -13.7h0m10.4 7.6h0m-5.4 0.1h0m20.8 10.6h0m17.1 -25.3h0m-29.9 12.2h0m52.7 -54.8h0m-98.0 65.3h0m38.1 -4.3h0m10.0 -47.1h0m13.7 48.2h0m-13.3 -39.4h0m-4.5 12.8h0m27.1 12.5h0m-40.4 1.8h0m35.3 17.3h0m16.4 -28.4h0m-30.5 20.1h0m-14.8 -9.5h0m0.3 -8.9h0m14.9 -10.9h0m-16.8 -19.0h0m15.6 32.6h0m-10.9 2.7h0m12.3 -42.0h0m7.3 9.6h0m-27.2 54.9h0m38.0 -15.1h0m37.1 -15.1h0m-83.9 20.6h0m17.8 -11.6h0m46.4 -53.5h0m-21.0 80.8h0m27.7 -47.2h0m-68.1 18.1h0m73.9 -40.7h0m3.3 31.1h0m-67.1 9.8h0m5.9 3.7h0m11.0 11.9h0m22.0 -13.7h0m12.9 -4.6h0m-53.2 18.1h0m23.1 -67.8h0m-20.8 37.9h0m-15.0 23.5h0m66.6 -81.3h0m-61.7 91.5h0m-0.2 7.2h0m-15.8 -20.8h0m38.7 -37.9h0m-30.3 37.3h0m-2.6 14.2h0m88.5 -71.2h0m-55.8 39.3h0m-9.0 16.2h0m11.4 -14.7h0m-11.0 23.0h0m2.5 -27.6h0m57.7 -25.2h0m-46.8 18.0h0m-26.8 46.3h0m20.3 -26.4h0m25.9 -57.6h0m-33.9 58.7h0m25.4 5.4h0m-15.3 -9.6h0m-13.6 -30.4h0m26.7 41.1h0m-18.0 -0.5h0m53.0 -9.3h0m-61.7 14.1h0m10.0 -21.8h0m-23.8 -1.9h0m16.9 4.4h0m1.2 26.8h0m17.2 -53.6h0m2.6 -16.3h0m-7.0 52.2h0m-22.9 -14.8h0m63.6 -3.3h0m5.6 -50.0h0m-53.7 50.6h0m-30.5 17.3h0m35.7 -5.6h0m-11.5 -9.4h0m69.8 -39.0h0m-73.3 67.5h0m35.7 5.0h0m-22.4 12.3h0m54.5 -58.8h0m-67.3 24.2h0m-3.9 17.0h0m18.0 -5.6h0m-4.3 -5.7h0m15.6 11.4h0m14.7 -3.1h0m-50.0 9.4h0m-1.3 -23.1h0m77.7 -60.5h0m-77.2 11.5h0m14.1 59.7h0m92.6 -58.0h0m-82.2 69.1h0m-46.8 -17.3h0m40.0 -10.2h0m23.5 11.0h0m43.5 -26.7h0m-16.2 3.4h0m-61.0 8.4h0m43.4 22.3h0m-20.8 -39.3h0m-4.5 44.3h0m26.4 -17.9h0m-1.0 1.2h0m-41.0 22.2h0m-14.0 11.3h0m90.0 -41.7h0m23.2 -25.7h0m-40.0 20.7h0m-56.2 5.9h0m14.2 -22.4h0m32.4 23.6h0m-46.1 5.6h0m7.5 3.3h0m17.5 14.6h0m-2.2 5.0h0m-26.9 -18.5h0m4.0 15.9h0m-34.5 6.8h0m42.6 -17.0h0m27.8 -3.2h0m-36.1 -39.6h0m15.0 33.9h0m51.6 -32.5h0m-57.8 31.3h0m-9.9 0.6h0m-8.4 -25.4h0m17.2 17.1h0m4.2 15.5h0m-10.0 -21.6h0m-7.8 12.5h0m36.9 7.0h0m24.0 -3.9h0m-51.4 4.0h0m65.0 -41.4h0m-76.5 25.4h0m31.5 -34.7h0m-30.6 46.1h0m29.4 21.4h0m-22.7 -20.9h0m-19.7 -2.6h0m71.0 0.2h0m-35.4 20.3h0m-16.1 0.4h0m-0.7 -40.4h0m-14.1 11.6h0m30.4 21.3h0m-18.9 -9.4h0m-29.3 4.7h0m44.3 -41.1h0m37.1 -33.9h0m-49.2 51.0h0m67.2 12.4h0m-61.7 18.2h0m10.4 -47.0h0m22.5 35.9h0m-8.0 3.2h0m9.3 8.9h0m-14.8 12.8h0m4.2 -13.4h0m0.3 -6.7h0m-46.5 1.6h0m31.9 12.2h0m-5.6 -8.2h0m-8.5 -23.6h0m65.0 -7.7h0m-48.9 34.3h0m-0.1 -47.2h0m-26.9 20.1h0m33.7 -39.6h0m-24.1 33.4h0m-15.8 24.2h0m86.6 -61.8h0m-64.1 26.0h0m15.6 48.8h0m-23.8 5.3h0m-30.5 -17.6h0m48.7 3.8h0m-25.9 -15.8h0m-3.5 8.3h0m14.2 -51.1h0m9.7 49.9h0m8.3 -27.1h0m-21.7 31.4h0m45.7 -8.6h0m2.2 -53.2h0m-72.3 83.6h0m84.0 -24.8h0m-40.4 -31.9h0m-26.9 36.8h0m-1.9 -20.1h0m73.6 -20.3h0m-24.4 55.2h0m-17.2 -12.7h0m-22.3 7.2h0m3.1 -3.6h0m2.9 -2.3h0m-39.1 3.3h0m21.8 -22.0h0m22.5 9.3h0m-2.6 23.2h0m3.9 -4.1h0m0.6 -29.4h0m4.4 -3.1h0m-11.9 22.1h0m-35.6 6.6h0m37.0 -22.9h0m-14.5 28.7h0m4.3 -38.0h0m42.5 16.5h0m-25.5 -24.6h0m-22.3 45.0h0m40.6 0.1h0m-11.4 -54.2h0m-39.1 47.9h0m27.2 -23.9h0m-12.0 28.8h0m34.8 -16.5h0m-22.7 -4.1h0m13.2 -30.7h0m-2.3 -9.1h0m-19.8 66.0h0m4.5 -25.1h0m-20.7 -9.1h0m80.4 -16.9h0m-48.6 3.2h0m-11.2 33.6h0m-11.4 -2.8h0m73.6 -25.0h0m-15.0 9.2h0m-43.9 -17.8h0m34.8 -36.2h0m-46.9 63.1h0m24.8 0.2h0m-20.7 -4.8h0m32.8 -44.6h0m-20.6 55.1h0m9.8 -1.2h0m-20.2 15.5h0m-1.3 -25.7h0m11.2 10.0h0m0.6 -30.8h0m5.2 -9.1h0m-13.3 34.4h0m-8.9 22.4h0m12.1 -40.4h0m1.0 13.0h0m8.1 14.3h0m-14.8 -23.2h0m38.9 15.4h0m17.3 -1.9h0m-42.2 14.1h0m65.2 -38.0h0m-66.5 40.5h0m-11.5 -26.6h0m26.1 30.9h0m-32.6 -21.7h0m43.8 4.9h0m-28.8 -22.1h0m-0.5 -2.0h0m13.9 46.3h0m-31.8 -15.5h0m18.3 -8.3h0m37.9 7.8h0m-46.1 4.8h0m10.8 -41.5h0m-4.9 29.1h0m53.1 -45.7h0m-69.3 43.6h0m44.0 5.6h0m22.0 -14.8h0m-84.3 14.6h0m4.6 -1.6h0m29.3 5.7h0m-1.9 3.9h0m42.3 -17.2h0m-69.8 9.2h0m14.0 10.3h0m86.3 -48.5h0m-56.6 41.5h0m-22.9 0.8h0m2.8 -22.6h0m8.1 34.9h0m3.4 -24.3h0m-7.4 -23.7h0m37.6 -37.9h0m28.9 7.1h0m-9.2 64.2h0m-56.3 7.2h0m12.3 11.2h0m28.1 -83.2h0m-68.4 75.5h0m47.4 -6.9h0m-15.2 -23.0h0m-37.4 22.4h0m42.3 14.6h0m-13.5 -4.6h0m-15.0 -15.2h0m86.1 -14.8h0m-79.5 17.9h0m69.8 -32.0h0m-39.8 -11.2h0m-18.6 17.6h0m1.9 -13.7h0m59.1 8.0h0m-68.0 21.1h0m65.1 -57.8h0m3.6 22.6h0m-53.8 22.2h0m49.5 -26.3h0m-52.2 -5.2h0m-24.2 54.0h0m-12.6 -8.9h0m84.6 -5.7h0m-22.5 -45.1h0m-16.6 65.1h0m-18.1 -1.3h0m-8.6 16.3h0m21.3 -11.4h0m-19.6 -21.6h0m-1.1 4.7h0m107.9 -42.6h0m-88.4 16.1h0m-23.8 30.9h0m20.2 -24.6h0m-12.0 41.7h0m-9.3 -34.9h0m108.2 -52.6h0m-101.3 87.9h0m5.5 -37.3h0m15.7 39.7h0m-18.1 -13.1h0m71.3 -44.5h0m-24.3 58.6h0m-63.9 -28.7h0m20.2 11.2h0m-5.6 -1.6h0m26.5 -42.1h0m-17.5 55.7h0m-22.2 -31.1h0m27.9 13.7h0m-7.4 -8.6h0m16.0 15.9h0m-16.4 -5.3h0m-12.5 -21.2h0m90.4 -10.3h0m-89.2 34.0h0m-5.0 -1.7h0m19.2 -31.8h0m10.5 27.1h0m-22.8 5.3h0m41.6 12.1h0m-49.0 0.6h0m70.7 -38.3h0m-41.3 7.6h0m-27.3 20.5h0m5.9 10.6h0m84.0 -56.5h0m-52.8 -2.9h0m-39.1 29.3h0m21.2 17.3h0m18.7 -48.3h0m-16.5 30.9h0m58.0 -39.3h0m-36.6 60.0h0m22.1 -3.2h0m14.9 -34.0h0m-60.0 6.0h0m57.3 3.6h0m-22.1 20.5h0m-43.4 -15.6h0m63.6 -5.2h0m13.5 -1.5h0m19.6 -53.0h0m-88.6 90.7h0m-44.5 8.8h0m36.6 -38.2h0m-5.1 7.3h0m-3.4 21.2h0m5.3 -5.8h0m3.8 -3.8h0m3.7 -15.4h0m1.8 -8.1h0m-10.2 14.8h0m13.6 -2.5h0m8.4 -15.5h0m1.3 41.0h0m-10.5 -23.7h0m56.0 -36.1h0m-56.2 24.2h0m21.6 25.9h0m-20.1 -1.4h0m-36.7 0.9h0m26.5 -18.7h0m28.4 21.9h0m46.0 -48.1h0m-45.5 48.5h0m-51.0 16.2h0m129.1 -74.2h0m-68.7 45.8h0m-21.6 -23.8h0m-3.5 9.5h0m61.4 -37.3h0m-89.1 21.0h0m68.3 22.0h0m18.4 -8.7h0m-34.9 27.4h0m19.4 -25.2h0m-40.3 14.5h0m-21.3 -5.3h0m14.7 8.9h0m-6.1 -2.4h0m-3.7 -4.6h0m-24.4 22.0h0m36.1 -34.5h0m-11.0 39.0h0m44.5 -25.0h0m6.3 4.5h0m-59.3 3.6h0m2.5 -8.6h0m36.3 16.5h0m-17.1 -27.8h0m-20.0 -14.2h0m20.9 22.5h0m-11.4 10.4h0m4.3 -24.9h0m-8.3 -3.8h0m76.0 -15.1h0m-12.3 11.8h0m-79.6 24.9h0m5.7 23.9h0m33.2 -7.3h0m0.0 -53.0h0m-0.8 50.9h0m-22.8 16.2h0m79.5 -75.6h0m-61.8 11.9h0m-37.1 28.2h0m36.8 -20.4h0m-27.9 37.5h0m93.0 -46.0h0m-74.7 28.3h0m-9.4 11.8h0m97.1 -65.4h0m-90.9 50.6h0m25.9 14.4h0m-17.4 9.7h0m11.0 -3.6h0m9.3 0.9h0m-22.4 -3.7h0m-13.2 -29.0h0m9.1 0.0h0m19.8 40.5h0m5.9 -76.3h0m-6.7 72.9h0m-5.3 -16.2h0m-25.7 5.8h0m45.6 -8.5h0m-33.6 5.4h0m1.2 -23.6h0m12.5 -2.2h0m-14.5 23.6h0m-4.9 -0.8h0m0.1 5.4h0m34.1 -70.4h0m-32.4 34.3h0m0.9 37.7h0m-23.8 18.9h0m98.6 -77.3h0m-54.3 58.5h0m-8.7 4.5h0m-8.4 12.1h0m3.1 -9.6h0m12.6 -12.4h0m-7.4 -3.3h0m-22.5 10.1h0m-9.2 8.4h0m2.2 -8.1h0m29.3 -18.3h0m4.9 -21.0h0m-35.0 51.2h0m11.3 -36.3h0m-4.8 19.9h0m30.1 2.5h0m1.2 -0.7h0m-36.0 -23.2h0m44.4 30.2h0m-17.9 -24.8h0m6.6 21.8h0m-8.3 -26.3h0m-0.1 12.7h0m6.7 6.3h0m52.4 -51.0h0m-1.5 -14.2h0m-5.3 18.4h0m10.9 -6.9h0m2.7 -6.7h0m-9.7 9.4h0m12.8 -11.5h0m-13.5 15.1h0m-4.2 -24.6h0m5.7 10.7h0m2.4 3.0h0m-13.1 0.0h0m6.4 3.2h0m-4.1 -4.3h0m-3.7 -3.3h0m18.5 1.4h0m-1.7 -4.1h0m-5.3 -0.4h0m2.0 3.5h0m-7.6 15.6h0m6.3 -17.7h0m2.0 9.4h0m-1.2 14.9h0m-4.9 -30.4h0m-1.1 4.1h0m8.3 15.4h0m-6.7 -10.2h0m-4.4 -3.5h0m18.1 -0.8h0m-8.5 2.9h0m6.2 -16.4h0m-7.6 38.3h0m0.4 -9.5h0m10.4 -8.6h0m-23.4 -6.1h0m2.4 -0.7h0m7.0 -0.9h0m-4.1 20.5h0m15.6 -5.6h0m0.3 -1.3h0m-11.6 6.7h0m-2.8 -11.0h0m17.0 -4.3h0m-12.6 8.9h0m8.6 4.6h0m4.4 -4.9h0m-14.3 5.7h0m9.0 -20.4h0m-9.2 1.4h0m-1.9 0.0h0m1.6 25.3h0m3.7 -27.1h0m2.1 14.0h0m-3.4 0.1h0m4.6 -18.3h0m-4.3 11.1h0m-6.6 0.8h0m6.1 11.5h0m-3.6 -16.3h0m-1.4 9.1h0m8.4 -4.2h0m-6.9 6.5h0m1.5 27.6h0m17.2 -47.8h0m-2.7 5.7h0m-11.8 11.1h0m-3.1 9.5h0m1.9 -20.3h0m4.3 2.5h0m-12.2 7.0h0m9.0 0.6h0m8.7 -2.1h0m-5.5 1.2h0m-3.6 -7.3h0m2.2 21.9h0m-3.8 -8.9h0m8.7 -1.3h0m-12.7 -9.6h0m9.2 1.1h0m0.3 14.3h0m-5.5 3.5h0m-4.5 -8.9h0m-3.8 -4.6h0m4.4 5.0h0m8.3 -8.7h0m-8.7 -6.0h0m1.7 0.8h0m13.6 10.1h0m-9.2 -3.0h0m3.3 5.0h0m1.7 -15.2h0m-9.9 6.5h0m-6.5 7.9h0m37.1 22.9h0m13.6 -23.2h0m-18.1 6.3h0m25.7 -16.5h0m-42.3 41.8h0m20.2 1.3h0m-16.3 4.7h0m-8.4 -1.9h0m32.1 5.8h0m-32.2 9.1h0m28.6 -3.9h0m9.7 -37.4h0m-12.3 8.1h0m-10.3 23.9h0m-8.0 -24.8h0m22.1 0.7h0m15.8 -5.6h0m-36.0 8.3h0m8.6 0.2h0m15.6 12.8h0m-13.9 2.1h0m14.2 3.6h0m-15.3 -23.1h0m22.5 -1.7h0m-39.0 6.6h0m22.2 12.5h0m7.7 3.0h0m-33.5 -16.7h0m8.5 -0.5h0m20.7 24.0h0m-12.8 -4.2h0m-8.7 -14.1h0m4.7 14.7h0m0.6 -6.2h0m19.5 -12.4h0m27.8 27.5h0m-31.4 -38.6h0m-20.6 27.4h0m11.6 -23.4h0m-2.3 57.4h0m6.6 -59.2h0m7.5 6.4h0m-10.2 24.0h0m-14.6 -40.1h0m20.8 6.0h0m10.4 21.5h0m-22.4 10.8h0m-12.4 -14.6h0m6.9 -3.0h0m2.2 13.6h0m-5.4 -31.9h0m25.8 22.7h0m-30.7 -2.2h0m12.3 5.4h0m-17.7 17.7h0m23.2 -13.9h0m-8.8 -3.5h0m4.6 -24.7h0m15.1 14.0h0m6.0 9.3h0m-30.9 -16.9h0m10.4 -1.2h0m5.8 11.4h0m6.1 -21.7h0m-40.9 40.2h0m15.3 -34.6h0m4.6 27.7h0m18.7 -0.9h0m13.6 -12.5h0m-17.7 1.3h0m-1.4 0.4h0m-9.0 16.5h0m16.6 -10.3h0m3.9 10.0h0m-25.7 2.9h0m12.5 -41.2h0m-6.0 32.0h0m-22.1 25.2h0m30.0 -22.2h0m12.2 -5.4h0m-5.4 -7.1h0m-0.3 11.7h0m-16.7 -21.9h0m25.4 16.7h0m-5.4 -5.9h0m-23.1 9.8h0m4.8 -23.0h0m7.1 18.7h0m8.3 -20.2h0m-6.5 -18.0h0m6.9 44.6h0m-18.7 -12.0h0m46.0 -1.0h0m-49.9 12.2h0m16.7 0.3h0m30.1 -29.9h0m-14.2 29.0h0m5.8 11.2h0m-28.4 -26.0h0m23.4 -6.1h0m20.5 -30.5h0m-35.9 37.9h0m-8.4 6.4h0m29.9 -2.1h0m15.9 -1.0h0m-36.0 -3.1h0m-11.0 26.9h0m2.2 -41.5h0m16.1 4.1h0m-24.2 3.1h0m21.1 8.4h0m-4.3 9.7h0m-7.8 -42.2h0m-29.2 58.9h0m28.8 -40.7h0m11.9 26.1h0m-6.6 -15.3h0m32.1 14.4h0m-34.7 17.4h0m13.2 -20.3h0m-18.8 5.3h0m2.4 -7.9h0m1.4 12.0h0m-19.6 11.1h0m18.4 -5.8h0m32.6 -18.9h0m-50.5 6.9h0m27.2 -1.6h0m-27.5 24.9h0m48.1 -26.3h0m-43.8 19.3h0m9.3 7.5h0m4.3 -31.2h0m10.3 -9.1h0m-19.0 38.5h0m14.8 -21.1h0m9.4 -8.2h0m-16.8 -8.9h0m-2.4 25.9h0m17.6 -16.5h0m15.9 1.8h0m19.6 -12.3h0m-19.2 6.2h0m-12.1 -21.5h0m0.9 11.8h0m-11.7 7.9h0m19.0 17.8h0m3.4 -10.7h0m-35.0 -7.4h0m-11.2 18.1h0m8.8 -22.3h0m23.0 4.1h0m-24.3 5.4h0m1.5 6.0h0m-13.2 0.9h0m31.4 -15.5h0m-6.4 17.9h0m-10.7 1.5h0m37.2 -14.2h0m-9.5 -5.2h0m18.5 -18.2h0m-47.8 33.7h0m9.2 26.9h0m12.4 -27.0h0m-28.7 14.0h0m13.3 -11.1h0m22.0 -7.6h0m-12.4 2.8h0m4.5 -23.1h0m-24.6 19.3h0m-1.1 -12.6h0m-22.8 -52.5h0m25.5 2.5h0m7.4 11.0h0m34.2 -36.2h0m3.7 10.5h0m-59.8 -7.8h0m27.4 18.2h0m12.3 -13.0h0m-17.5 -39.9h0m35.0 18.3h0m-34.4 34.0h0m12.4 -32.2h0m16.0 40.1h0m15.9 -36.4h0m-47.5 -59.9h0m12.0 62.8h0m31.2 20.2h0m-24.9 -16.3h0m-37.7 34.2h0m23.1 -13.5h0m32.3 -16.3h0m-46.1 33.1h0m34.8 -80.6h0m-13.9 67.4h0m23.8 -18.6h0m-17.4 23.1h0m31.2 -11.0h0m-62.1 -9.5h0m18.4 -1.1h0m-22.9 44.4h0m37.7 -61.2h0m-17.5 -4.9h0m8.2 33.3h0m12.9 8.0h0m-41.3 -8.0h0m48.6 24.6h0m-13.1 -35.2h0m-19.1 -15.1h0m0.7 -11.1h0m26.2 7.1h0m-1.9 3.0h0m-6.8 10.9h0m1.1 2.4h0m-8.8 8.4h0m-1.6 -39.5h0m-13.0 43.4h0m-16.7 -10.0h0m29.2 -9.9h0m-10.1 40.3h0m12.7 -20.9h0m-47.0 -0.9h0m44.7 13.7h0m33.1 -93.0h0m-38.4 110.2h0m13.3 -60.8h0m-8.1 36.6h0m-5.9 10.6h0m1.3 10.1h0m24.8 -38.6h0m-24.2 9.5h0m-11.0 -18.2h0m33.4 -20.3h0m-21.1 65.6h0m-27.1 1.7h0m67.1 -13.6h0m-16.2 -44.4h0m-45.6 0.3h0m76.4 20.4h0m-30.5 -14.3h0m-27.0 2.0h0m-25.6 11.5h0m19.6 -10.4h0m34.7 -2.4h0m-35.4 -7.8h0m-5.5 9.9h0m30.0 10.4h0m-10.4 3.2h0m23.3 -6.0h0m-20.9 13.4h0m1.2 -48.9h0m18.0 45.5h0m-33.7 -18.0h0m-13.5 42.9h0m-5.0 6.5h0m37.4 -26.4h0m-21.2 -7.7h0m41.6 -34.2h0m-32.8 48.3h0m15.7 17.0h0m0.7 -46.5h0m-30.2 54.5h0m10.3 -49.2h0m-7.8 31.5h0m2.2 15.3h0m21.8 -28.8h0m3.2 -1.3h0m-21.9 -8.4h0m20.1 31.6h0m12.3 -17.1h0m-19.9 -19.9h0m-18.2 -6.8h0m34.2 -17.9h0m-1.6 16.5h0m-53.9 12.8h0m27.0 11.8h0m8.1 13.3h0m3.9 -26.3h0m0.1 -23.5h0" stroke="#ff0000" stroke-width="1.3" stroke-linecap="square" fill="none"/>
<rect x="97.3" y="858.3" width="274.1" height="276.3" fill="none" stroke="#000" stroke-width="1.5"/>
<line x1="221.9" y1="858.3" x2="221.9" y2="1134.6" stroke="#000" stroke-width="2.1"/>
<line x1="97.3" y1="1032.8" x2="371.4" y2="1032.8" stroke="#000" stroke-width="2.1"/>
<text x="235.0" y="851.9" font-size="23.5" text-anchor="middle">Control</text>
<text x="103.8" y="882.3" font-size="15.8">0.22</text>
<text x="367.7" y="882.3" font-size="15.8" text-anchor="end">1.90</text>
<text x="103.1" y="1124.0" font-size="15.8">92.4</text>
<text x="367.7" y="1124.0" font-size="15.8" text-anchor="end">5.53</text>
<path d="M89.8 883.0H97.3M89.8 946.4H97.3M89.8 1011.1H97.3M89.8 1076.6H97.3M89.8 1105.0H97.3M89.8 1134.6H97.3M93.6 927.3H97.3M93.6 916.2H97.3M93.6 908.2H97.3M93.6 902.1H97.3M93.6 897.1H97.3M93.6 892.8H97.3M93.6 889.1H97.3M93.6 885.9H97.3M93.6 991.6H97.3M93.6 980.2H97.3M93.6 972.2H97.3M93.6 965.9H97.3M93.6 960.8H97.3M93.6 956.5H97.3M93.6 952.7H97.3M93.6 949.4H97.3M93.6 1056.9H97.3M93.6 1045.3H97.3M93.6 1037.2H97.3M93.6 1030.8H97.3M93.6 1025.6H97.3M93.6 1021.2H97.3M93.6 1017.4H97.3M93.6 1014.1H97.3M93.6 865.3H97.3M93.6 1082.6H97.3M93.6 1088.7H97.3M93.6 1094.8H97.3M93.6 1101.0H97.3M93.6 1107.1H97.3M93.6 1113.2H97.3M93.6 1119.3H97.3M93.6 1125.5H97.3M93.6 1131.6H97.3M114.8 1134.6V1141.6M154.3 1134.6V1141.6M219.8 1134.6V1141.6M282.3 1134.6V1141.6M344.3 1134.6V1141.6M174.0 1134.6V1138.3M185.6 1134.6V1138.3M193.8 1134.6V1138.3M200.1 1134.6V1138.3M205.3 1134.6V1138.3M209.7 1134.6V1138.3M213.5 1134.6V1138.3M216.8 1134.6V1138.3M238.6 1134.6V1138.3M249.6 1134.6V1138.3M257.4 1134.6V1138.3M263.5 1134.6V1138.3M268.5 1134.6V1138.3M272.6 1134.6V1138.3M276.3 1134.6V1138.3M279.5 1134.6V1138.3M301.0 1134.6V1138.3M311.9 1134.6V1138.3M319.6 1134.6V1138.3M325.6 1134.6V1138.3M330.5 1134.6V1138.3M334.7 1134.6V1138.3M338.3 1134.6V1138.3M341.4 1134.6V1138.3M362.9 1134.6V1138.3M101.3 1134.6V1138.3M105.8 1134.6V1138.3M110.4 1134.6V1138.3M114.9 1134.6V1138.3M119.5 1134.6V1138.3M124.0 1134.6V1138.3M128.6 1134.6V1138.3M133.1 1134.6V1138.3M137.7 1134.6V1138.3M142.2 1134.6V1138.3M146.8 1134.6V1138.3M151.3 1134.6V1138.3" stroke="#000" stroke-width="1.3" fill="none"/>
<rect x="110.8" y="1134.6" width="9" height="6" fill="#000"/>
<rect x="91.3" y="1101.0" width="6" height="8" fill="#000"/>
<text x="82.5" y="883.0" font-size="15.3" text-anchor="middle" transform="rotate(-90 82.5 883.0)">10<tspan font-size="9.2" dy="-6.4">5</tspan></text>
<text x="82.5" y="946.4" font-size="15.3" text-anchor="middle" transform="rotate(-90 82.5 946.4)">10<tspan font-size="9.2" dy="-6.4">4</tspan></text>
<text x="82.5" y="1011.1" font-size="15.3" text-anchor="middle" transform="rotate(-90 82.5 1011.1)">10<tspan font-size="9.2" dy="-6.4">3</tspan></text>
<text x="82.5" y="1076.6" font-size="15.3" text-anchor="middle" transform="rotate(-90 82.5 1076.6)">10<tspan font-size="9.2" dy="-6.4">2</tspan></text>
<text x="82.5" y="1105.0" font-size="15.3" text-anchor="middle" transform="rotate(-90 82.5 1105.0)">0</text>
<text x="82.5" y="1134.6" font-size="15.3" text-anchor="middle" transform="rotate(-90 82.5 1134.6)">-10<tspan font-size="9.2" dy="-6.4">2</tspan></text>
<text x="114.8" y="1159.2" font-size="15.8" text-anchor="middle">0</text>
<text x="222.3" y="1159.2" font-size="15.3" text-anchor="middle">10<tspan font-size="9.2" dy="-6.4">3</tspan></text>
<text x="284.8" y="1159.2" font-size="15.3" text-anchor="middle">10<tspan font-size="9.2" dy="-6.4">4</tspan></text>
<text x="346.8" y="1159.2" font-size="15.3" text-anchor="middle">10<tspan font-size="9.2" dy="-6.4">5</tspan></text>
<text x="147.3" y="1173.1" font-size="14.2">Comp-FITC-A::AnnexinV</text>
<text x="57.7" y="995.1" font-size="14.5" text-anchor="middle" transform="rotate(-90 57.7 995.1)">Comp-PE-A::PI</text>
<path d="M562 1042h2v1h-2zM561 1043h3v1h-3zM553 1044h1v1h-1zM561 1044h3v1h-3zM553 1045h2v1h-2zM557 1045h1v1h-1zM562 1045h3v1h-3zM553 1046h6v1h-6zM563 1046h4v1h-4zM553 1047h7v1h-7zM563 1047h6v1h-6zM538 1048h1v1h-1zM547 1048h3v1h-3zM553 1048h9v1h-9zM563 1048h6v1h-6zM538 1049h1v1h-1zM546 1049h5v1h-5zM552 1049h12v1h-12zM568 1049h2v1h-2zM538 1050h1v1h-1zM546 1050h17v1h-17zM569 1050h1v1h-1zM543 1051h18v1h-18zM542 1052h16v1h-16zM537 1053h2v1h-2zM543 1053h15v1h-15zM566 1053h1v1h-1zM569 1053h2v1h-2zM537 1054h3v1h-3zM544 1054h14v1h-14zM565 1054h2v1h-2zM538 1055h2v1h-2zM542 1055h18v1h-18zM537 1056h27v1h-27zM531 1057h2v1h-2zM537 1057h29v1h-29zM531 1058h3v1h-3zM536 1058h31v1h-31zM532 1059h28v1h-28zM562 1059h5v1h-5zM531 1060h29v1h-29zM561 1060h3v1h-3zM530 1061h35v1h-35zM529 1062h36v1h-36zM530 1063h35v1h-35zM530 1064h34v1h-34zM530 1065h34v1h-34zM530 1066h33v1h-33zM529 1067h32v1h-32zM529 1068h32v1h-32zM529 1069h33v1h-33zM529 1070h33v1h-33zM527 1071h35v1h-35zM526 1072h35v1h-35zM526 1073h34v1h-34zM526 1074h33v1h-33zM525 1075h34v1h-34zM525 1076h34v1h-34zM524 1077h35v1h-35zM521 1078h38v1h-38zM520 1079h41v1h-41zM519 1080h43v1h-43zM519 1081h43v1h-43zM519 1082h40v1h-40zM519 1083h38v1h-38zM519 1084h37v1h-37zM518 1085h38v1h-38zM519 1086h3v1h-3zM523 1086h32v1h-32zM521 1087h1v1h-1zM524 1087h30v1h-30zM521 1088h32v1h-32zM521 1089h32v1h-32zM517 1090h2v1h-2zM520 1090h33v1h-33zM516 1091h38v1h-38zM515 1092h40v1h-40zM515 1093h40v1h-40zM512 1094h7v1h-7zM520 1094h31v1h-31zM553 1094h2v1h-2zM512 1095h7v1h-7zM520 1095h30v1h-30zM512 1096h4v1h-4zM519 1096h31v1h-31zM513 1097h4v1h-4zM518 1097h29v1h-29zM515 1098h31v1h-31zM515 1099h32v1h-32zM514 1100h32v1h-32zM514 1101h1v1h-1zM516 1101h3v1h-3zM522 1101h24v1h-24zM514 1102h1v1h-1zM522 1102h21v1h-21zM514 1103h1v1h-1zM523 1103h19v1h-19zM523 1104h18v1h-18zM517 1105h2v1h-2zM527 1105h13v1h-13zM517 1106h1v1h-1zM527 1106h10v1h-10zM517 1107h1v1h-1zM526 1107h6v1h-6zM533 1107h3v1h-3zM506 1108h2v1h-2zM518 1108h1v1h-1zM525 1108h7v1h-7zM534 1108h2v1h-2zM506 1109h2v1h-2zM516 1109h5v1h-5zM524 1109h8v1h-8zM516 1110h5v1h-5zM524 1110h8v1h-8zM516 1111h5v1h-5zM525 1111h4v1h-4zM519 1112h1v1h-1zM508 1113h2v1h-2z" fill="#ff0000"/>
<path d="M511.0 1073.6h0m8.9 16.4h0m-8.4 6.5h0m47.1 -43.1h0m-27.9 1.0h0m-1.0 -4.9h0m31.1 -3.6h0m-35.8 19.9h0m-0.6 6.3h0m-4.5 -9.5h0m41.6 10.7h0m-31.5 -12.4h0m5.0 51.4h0m13.5 -78.4h0m-25.2 71.7h0m24.0 -5.6h0m4.6 -0.5h0m-30.2 10.1h0m9.5 1.9h0m24.0 -24.5h0m-30.0 -12.7h0m23.3 -26.8h0m-10.3 -6.3h0m-20.6 48.1h0m18.3 -34.1h0m21.4 -19.3h0m-28.6 32.3h0m22.6 -24.6h0m13.3 35.6h0m-18.0 -37.7h0m-8.2 5.9h0m-15.3 62.8h0m13.6 -52.8h0m-18.4 47.4h0m24.5 -51.0h0m-25.2 54.9h0m5.7 -40.1h0m-13.0 46.0h0m-4.1 -7.3h0m59.9 -36.9h0m-22.2 31.6h0m20.0 -47.4h0m-5.0 -10.8h0m1.8 33.1h0m-31.7 -27.5h0m27.5 37.5h0m0.1 11.5h0m-24.1 -42.9h0m28.0 4.4h0m-10.7 -19.8h0m-21.6 25.4h0m37.1 12.1h0m-36.1 -13.7h0m16.2 -17.1h0m-8.0 60.5h0m13.6 -11.2h0m-20.4 -50.9h0m18.9 -15.2h0m-9.7 18.8h0m18.3 34.5h0m2.9 -6.3h0m-31.6 34.7h0m21.2 -14.8h0m1.3 13.6h0m-9.6 -59.2h0m-5.9 57.2h0m5.8 13.3h0m3.3 -76.6h0m7.8 -6.0h0m0.5 -3.8h0m-18.1 74.4h0m21.6 -8.7h0m7.7 -45.2h0m-36.5 9.7h0m11.5 -11.2h0m4.9 52.4h0m20.1 -14.2h0m5.1 -41.7h0m-17.0 -13.6h0m-11.9 68.2h0m4.0 -62.0h0m26.8 31.1h0m-14.2 -31.5h0m-31.0 24.5h0m0.0 -6.2h0m20.5 45.4h0m1.7 1.6h0m-41.2 -10.9h0m24.4 15.5h0m37.0 -46.5h0m7.2 -6.7h0m-3.0 -11.0h0m-15.1 41.0h0m-13.3 -40.1h0m-21.5 24.1h0m47.3 -14.4h0m-32.0 -22.1h0m-10.0 20.2h0m30.7 28.4h0m-24.8 -27.3h0m-19.8 26.0h0m47.0 -12.6h0m1.0 8.6h0m1.0 -1.5h0m-15.3 26.9h0m-40.0 -8.8h0m52.0 -6.9h0m6.3 -15.1h0m-48.7 40.2h0m47.8 -62.5h0m6.9 -12.3h0m-48.5 33.9h0m18.1 -31.9h0m-10.2 78.3h0m7.4 -81.1h0m-26.2 49.1h0m27.1 17.0h0m14.7 -88.0h0m5.6 55.5h0m9.6 -7.6h0m-19.8 41.9h0m-31.6 -3.5h0m39.2 -67.6h0m-23.7 74.0h0m37.1 -37.8h0m-15.1 -28.1h0m-11.2 0.0h0m21.3 13.0h0m-7.8 -13.3h0m2.8 40.2h0m0.7 -2.3h0m-17.7 20.9h0m-1.8 -55.9h0m27.4 20.3h0m-32.4 -18.0h0m9.7 61.9h0m27.8 -43.5h0m-48.8 -0.7h0m-6.0 1.9h0m26.9 -21.8h0m-26.2 75.7h0m46.6 -50.5h0m-8.8 -35.3h0m-49.0 47.7h0m-2.8 14.9h0m8.1 -23.7h0m27.7 31.4h0m18.7 -40.6h0m-8.5 31.7h0m-34.8 -34.7h0m17.2 -11.4h0m-6.2 6.2h0m-2.3 64.3h0m35.7 -68.3h0m-36.1 14.5h0m34.0 9.6h0m-26.2 30.1h0m30.3 -64.3h0m-43.7 33.1h0m8.3 -18.0h0m-12.2 53.6h0m45.7 -29.6h0m0.3 -9.5h0m-23.3 -27.0h0m-28.1 47.7h0m9.3 6.7h0m42.2 -35.3h0m1.0 1.5h0m-25.8 -22.2h0m6.2 -2.1h0m18.6 9.9h0m13.2 -3.4h0m-14.6 -3.2h0m1.2 26.9h0m-19.0 33.6h0m-18.1 -45.8h0m34.4 30.4h0m-25.1 27.2h0m-2.8 -9.4h0m0.0 3.7h0m29.7 -41.7h0m2.8 -2.3h0m-41.8 36.4h0m2.8 -40.2h0m38.7 -14.2h0m-39.4 55.6h0m41.6 -44.3h0m3.9 -7.9h0m-33.5 51.7h0m-13.9 1.3h0m-4.2 -4.8h0m16.6 -51.6h0m4.1 54.4h0m-7.4 -54.9h0m7.5 -11.7h0m-10.5 74.6h0m-11.6 -26.0h0m41.0 -44.7h0m-7.5 0.5h0m20.2 23.0h0m-47.2 -2.0h0m11.4 -7.0h0m1.0 53.8h0m-4.0 -56.3h0m6.5 -8.7h0m10.9 57.6h0m12.3 -19.0h0m-30.6 -28.5h0m-13.1 13.0h0m-2.2 20.0h0m23.0 -39.9h0m27.3 -3.8h0m-16.1 51.6h0m-1.7 0.3h0m5.5 -2.3h0m-0.4 -51.4h0m-31.0 63.6h0m47.3 -38.6h0m-4.8 -6.7h0m-16.1 -19.3h0m-17.8 5.7h0m-8.9 18.6h0m-2.0 1.4h0m25.5 -20.6h0m-27.4 22.0h0m24.3 -32.8h0m-5.0 13.6h0m14.0 -8.6h0m-27.5 70.5h0m27.8 -65.9h0m-8.8 62.6h0m20.5 -9.9h0m-28.0 -50.4h0m-12.7 58.7h0m33.9 -24.3h0m-31.8 -13.3h0m7.8 40.2h0m-5.8 -50.3h0m8.4 -6.4h0m23.2 -7.2h0m-33.9 23.8h0m29.8 16.7h0m-35.9 1.6h0m-3.8 -25.5h0m5.5 14.7h0m20.0 30.8h0m22.1 -39.5h0m-8.2 32.9h0m-33.9 -30.0h0m4.4 -8.6h0m12.6 -16.3h0m13.8 0.8h0m6.2 50.7h0m-32.4 13.8h0m9.7 -3.3h0m17.7 -9.8h0m-31.4 -22.0h0m37.2 -22.6h0m-2.4 -16.2h0m-3.5 4.1h0m1.7 -4.4h0m-8.1 6.1h0m-14.1 12.1h0m14.0 52.8h0m19.6 -43.6h0m-7.9 18.6h0m-11.1 -41.0h0m-22.3 32.3h0m33.8 14.4h0m-33.3 -25.2h0m6.6 -5.0h0m-5.6 46.8h0m21.0 -9.6h0m-32.0 -21.2h0m50.8 3.2h0m-6.2 -3.6h0m-10.5 -33.2h0m3.9 67.1h0m-17.8 -58.0h0m-4.4 60.6h0m10.6 -4.7h0m7.0 8.2h0m17.6 -63.3h0m-42.7 18.1h0m27.1 26.4h0m2.4 -6.2h0m-23.9 21.1h0m8.8 -60.6h0m-14.0 23.1h0m36.6 12.2h0m5.5 -30.9h0m-22.5 52.6h0m-40.4 2.3h0m-6.1 9.4h0m70.0 -33.6h0m-35.0 35.4h0m-4.3 4.2h0m45.9 -15.4h0m-20.4 -14.8h0m-43.2 -12.3h0m0.4 22.0h0m16.1 11.3h0m-14.4 -9.2h0m23.6 11.1h0m-37.6 -1.9h0m15.0 -16.9h0m-9.6 24.1h0m76.0 -56.1h0m-74.3 64.0h0m5.9 -29.8h0m31.4 1.3h0m-37.1 -16.6h0m27.9 -28.7h0m-40.9 41.8h0m26.6 1.7h0m10.9 22.4h0m-35.8 -7.7h0m12.4 -28.8h0m20.5 -29.4h0m-20.3 27.2h0m60.3 -21.8h0m-5.5 -25.7h0m-70.0 64.9h0m18.6 -25.8h0m3.4 0.8h0m41.8 -32.6h0m21.5 0.2h0m-53.2 66.4h0m-23.3 1.9h0m-6.4 5.1h0m26.0 -6.3h0m-23.9 -25.7h0m17.8 7.2h0m-14.9 -9.0h0m-14.5 4.9h0m29.7 -14.0h0m-3.7 38.4h0m-15.1 -27.3h0m11.1 29.8h0m-22.9 13.2h0m40.9 -64.3h0m-3.8 50.1h0m-14.7 -10.4h0m25.8 -52.5h0m5.3 56.6h0m-22.8 -10.9h0m32.5 4.6h0m9.4 -14.9h0m-45.7 6.0h0m-27.8 35.4h0m19.4 -23.1h0m15.2 -9.0h0m-5.6 -26.7h0m-19.5 26.0h0m74.1 -35.6h0m-72.5 46.8h0m27.6 -4.2h0m-16.7 -20.7h0m8.1 24.4h0m3.2 10.9h0m-2.0 -0.2h0m-8.2 -16.7h0m44.7 0.5h0m-34.9 -22.8h0m-4.3 32.0h0m14.9 12.0h0m25.7 -86.9h0m-19.1 78.9h0m-34.2 -8.3h0m20.3 0.7h0m-19.7 -28.8h0m73.0 -15.9h0m-47.1 51.0h0m25.4 -2.8h0m-52.7 -1.4h0m63.4 -25.9h0m-61.7 49.2h0m5.7 -64.0h0m45.5 -22.8h0m-61.9 47.0h0m65.8 -4.9h0m-28.0 -19.1h0m-12.6 40.0h0m15.6 -44.0h0m-19.3 5.1h0m44.9 18.3h0m-54.1 36.2h0m-5.1 -19.8h0m16.4 -11.3h0m-17.8 36.4h0m43.0 -21.5h0m24.8 -40.1h0m-66.2 6.9h0m4.0 30.4h0m60.8 -14.1h0m-67.9 4.4h0m57.9 29.9h0m-46.8 -24.7h0m68.3 -7.6h0m-87.6 28.1h0m69.2 -29.5h0m-62.2 12.9h0m19.7 -28.7h0m-17.2 19.3h0m38.6 27.1h0m-13.2 -44.1h0m-18.4 28.1h0m73.6 -52.1h0m-70.9 27.0h0m-5.1 29.6h0m18.2 6.2h0m-1.4 -9.3h0m-10.0 2.7h0m-34.8 24.4h0m17.9 -15.0h0m-24.2 -34.3h0m59.8 -43.0h0m-20.8 43.5h0m53.3 1.6h0m-9.2 19.6h0m-24.3 -1.5h0m55.4 -49.6h0m-51.3 12.0h0m-13.4 13.1h0m-19.1 17.3h0m20.9 -29.4h0m55.0 11.8h0m-18.3 15.4h0m-57.2 15.7h0m37.8 -4.3h0m-26.7 -12.2h0m-0.4 -14.5h0m-18.3 40.2h0m13.3 5.1h0m46.6 -15.3h0m-37.1 16.3h0m45.3 -29.6h0m-57.9 14.4h0m15.7 -0.4h0m-21.9 7.7h0m19.5 -32.9h0m6.2 -9.7h0m-6.0 0.3h0m40.7 23.4h0m-68.4 1.2h0m1.0 2.6h0m58.2 14.7h0m-49.1 -19.9h0m2.5 12.4h0m80.6 -46.9h0m-46.2 66.3h0m-34.3 -54.7h0m64.2 26.1h0m-50.6 4.1h0m49.3 -31.1h0m0.4 42.6h0m-64.6 -31.3h0m24.6 -33.3h0m19.0 -7.0h0m-74.3 51.3h0m64.6 25.6h0m36.8 -49.7h0m-62.1 32.0h0m17.2 13.6h0m-49.3 -9.6h0m117.7 -24.4h0m-89.7 49.8h0m22.8 -22.2h0m-10.2 -6.0h0m47.0 -22.1h0m-12.3 17.4h0m-62.4 21.8h0m24.4 -2.0h0m-18.2 -14.4h0m-28.1 26.7h0m32.5 -26.3h0m8.2 4.3h0m3.7 -5.4h0m-26.1 25.4h0m25.0 -19.1h0m6.1 4.7h0m39.5 -93.5h0m-57.0 77.3h0m7.5 -20.9h0m15.7 -0.6h0m-0.1 3.6h0m47.9 10.8h0m-60.4 11.7h0m-15.2 6.5h0m53.2 -1.2h0m-56.9 20.2h0m25.0 -65.6h0m0.6 3.3h0m57.7 -11.2h0m-36.3 58.4h0m-18.6 -2.1h0m-5.0 -15.3h0m7.8 -14.0h0m-22.9 17.7h0m15.2 -13.1h0m37.9 15.4h0m-41.2 -32.9h0m15.4 60.9h0m-34.2 -29.6h0m37.8 -40.4h0m-27.6 43.3h0m39.9 -53.8h0m-57.1 44.4h0m31.8 10.3h0m-7.4 19.7h0m10.9 -8.9h0m50.8 -68.0h0m-42.6 20.8h0m-20.4 43.8h0m65.2 -57.1h0m-74.1 31.3h0m-7.7 6.7h0m-15.2 28.1h0m13.4 -45.4h0m76.4 13.7h0m-72.4 23.8h0m-25.7 -3.1h0m27.2 -3.7h0m22.0 -38.3h0m-6.0 50.2h0m-6.5 -24.3h0m51.4 -49.2h0m-9.3 -2.5h0m-39.2 65.0h0m-15.0 11.7h0m26.5 4.6h0m-1.3 -16.7h0m-23.1 1.2h0m12.4 -16.8h0m-7.2 30.6h0m7.5 -25.3h0m38.4 -47.7h0m4.4 79.3h0m-46.6 -5.9h0m13.6 -27.6h0m-13.9 20.4h0m27.1 -48.3h0m27.8 39.2h0m-41.2 0.7h0m44.6 -6.7h0m-54.2 5.0h0m-31.0 24.1h0m46.7 -61.0h0m-18.7 19.9h0m18.5 -15.8h0m9.8 41.4h0m-35.5 5.0h0m52.4 -11.4h0m-34.6 -27.0h0m88.2 -17.9h0m-7.1 29.0h0m-55.8 -36.4h0m-38.9 52.5h0m89.4 -59.1h0m-89.6 60.1h0m24.6 2.8h0m-19.8 -28.1h0m14.4 29.5h0m-6.2 -44.8h0m8.7 8.1h0m-17.6 38.7h0m40.6 -5.5h0m-42.5 -9.6h0m13.8 -1.6h0m-17.4 -2.3h0m23.4 -43.1h0m-1.0 58.4h0m38.5 -76.7h0m-43.7 64.6h0m-18.3 16.7h0m76.6 -52.1h0m-65.9 35.7h0m-0.7 -27.8h0m5.1 51.6h0m-4.5 -28.4h0m-3.4 13.5h0m0.7 4.5h0m22.0 -0.1h0m37.7 -46.0h0m-51.0 18.9h0m4.8 -15.4h0m-3.1 41.2h0m11.4 4.4h0m-4.9 -5.3h0m-18.0 15.3h0m9.2 -45.4h0m75.5 -2.6h0m-73.7 45.4h0m4.5 1.7h0m11.5 -73.2h0m-47.3 43.2h0m37.1 22.3h0m-9.2 -7.2h0m6.6 -22.6h0m53.9 -13.2h0m-78.8 46.9h0m22.5 6.0h0m20.3 -76.5h0m10.7 65.5h0m-38.5 -31.0h0m17.3 -28.3h0m-14.1 42.6h0m0.8 3.1h0m-6.3 -22.8h0m33.7 -35.7h0m47.8 41.3h0m-83.4 23.4h0m12.0 0.8h0m-29.1 -2.3h0m25.3 -24.7h0m-0.8 10.9h0m-17.7 15.8h0m23.9 -7.5h0m20.7 7.0h0m-44.1 4.1h0m-0.6 -8.1h0m6.4 -45.2h0m37.9 64.6h0m-64.6 5.9h0m41.5 -8.1h0m-0.9 -19.4h0m1.0 -16.6h0m27.3 33.2h0m-31.2 -40.4h0m63.0 -15.6h0m-67.8 30.9h0m-16.7 -11.7h0m39.4 42.5h0m-9.4 -18.4h0m-5.4 -27.0h0m-12.6 1.7h0m32.6 30.9h0m-25.1 -29.8h0m87.0 -33.3h0m-64.7 65.0h0m-23.3 -7.2h0m30.9 11.4h0m-32.4 -15.3h0m-24.8 4.4h0m31.0 1.8h0m10.3 8.2h0m-17.6 -19.5h0m17.2 -25.0h0m-6.9 11.7h0m11.5 -15.8h0m-10.7 35.6h0m-15.1 16.2h0m27.3 -10.1h0m56.4 -53.6h0m-79.6 59.5h0m14.9 -38.6h0m34.3 18.3h0m-2.1 17.2h0m-31.9 -26.5h0m-1.4 -2.8h0m50.9 10.2h0m-72.7 2.4h0m3.2 27.8h0m16.8 -4.8h0m-23.1 3.9h0m7.7 2.4h0m21.0 -74.7h0m-11.6 28.7h0m8.5 -17.7h0m-23.0 47.3h0m78.9 -46.5h0m-66.0 11.4h0m14.5 48.4h0m-16.4 -13.6h0m-35.1 4.5h0m31.3 10.1h0m-10.0 -32.4h0m-6.0 2.1h0m19.2 9.6h0m-12.2 8.1h0m17.3 7.2h0m-18.4 -8.3h0m7.7 -5.2h0m72.4 -17.8h0m-66.5 2.6h0m11.3 -9.6h0m-55.3 8.8h0m54.7 -3.5h0m-10.2 24.9h0m9.6 -9.0h0m-24.0 -5.0h0m16.5 19.6h0m24.7 -7.4h0m-45.2 -13.1h0m87.7 -32.9h0m-90.0 37.8h0m20.2 15.7h0m3.8 -14.3h0m-17.3 22.5h0m17.2 -31.8h0m60.9 22.6h0m-47.4 -2.4h0m-7.1 -4.5h0m44.4 -21.4h0m-21.5 34.5h0m-23.5 -36.4h0m-8.0 35.5h0m67.6 -36.2h0m-81.4 19.3h0m20.8 8.2h0m-3.8 -8.0h0m9.6 -4.9h0m-8.4 12.2h0m61.3 -55.3h0m-58.5 71.7h0m13.1 -11.8h0m23.1 -19.0h0m35.0 -33.2h0m-18.7 1.2h0m-73.5 56.4h0m29.8 -7.1h0m-2.1 -7.9h0m-2.6 8.3h0m-21.3 3.4h0m13.0 -21.7h0m-4.1 -8.8h0m8.2 14.2h0m-20.0 -5.1h0m28.7 4.5h0m-16.2 1.5h0m-4.6 -2.1h0m8.9 -9.8h0m56.3 -11.2h0m-56.1 31.7h0m42.3 18.2h0m-7.1 -29.3h0m18.2 -29.8h0m-57.5 46.4h0m-2.0 -3.0h0m8.5 -17.2h0m1.7 23.4h0m51.8 -81.1h0m-24.3 63.5h0m-26.9 -34.4h0m36.5 -27.8h0m23.4 29.4h0m-81.7 20.7h0m27.2 -33.9h0m-48.2 60.0h0m26.7 -14.1h0m11.0 12.6h0m-14.8 -7.7h0m85.6 -48.5h0m-65.3 11.3h0m-17.4 55.6h0m-0.1 -27.9h0m13.3 -13.8h0m-3.3 36.4h0m64.6 -39.8h0m-61.9 47.2h0m-33.8 -14.8h0m31.5 -4.3h0m2.6 -37.7h0m-8.0 4.8h0m30.2 -22.8h0m-26.5 40.1h0m-3.3 -4.1h0m11.3 13.4h0m52.4 -38.2h0m-54.5 9.4h0m-3.4 40.8h0m10.8 0.0h0m9.7 2.1h0m38.0 -34.5h0m-71.0 19.5h0m62.9 -1.7h0m-44.7 17.2h0m-11.2 6.1h0m3.9 -28.1h0m-2.8 -5.6h0m18.7 -23.0h0m8.9 48.4h0m-31.2 17.9h0m2.7 -56.4h0m60.9 -9.2h0m-86.7 21.1h0m37.0 -6.2h0m-12.2 5.4h0m44.4 15.6h0m39.7 -68.5h0m-75.5 79.1h0m-6.1 10.4h0m-7.2 -33.1h0m69.9 -18.2h0m-64.6 -2.4h0m-5.9 40.0h0m12.5 -29.6h0m74.6 -4.9h0m-57.1 -11.2h0m-24.7 44.2h0m-4.7 -7.4h0m22.1 -15.2h0m-20.0 2.6h0m19.9 -13.9h0m36.2 27.4h0m-67.8 -7.0h0m20.4 31.9h0m31.5 -21.9h0m-5.0 8.3h0m-22.9 -3.4h0m2.5 -32.5h0m9.3 -7.1h0m43.7 -9.7h0m-49.8 19.8h0m43.1 -3.3h0m-22.9 41.2h0m-28.0 -16.5h0m-9.8 -30.3h0m-23.4 45.4h0m41.0 10.1h0m-5.2 -50.0h0m-22.9 20.4h0m27.4 31.4h0m37.8 -31.1h0m-46.5 1.0h0m-1.0 8.1h0m86.1 -78.7h0m-98.3 45.0h0m4.0 46.4h0m46.5 -19.1h0m-1.8 9.8h0m43.1 -35.4h0m-109.9 57.3h0m5.2 -25.2h0m90.0 -29.4h0m-50.6 7.2h0m-12.8 -2.2h0m26.1 -28.4h0m47.5 -2.5h0m-10.7 26.6h0m-64.1 7.5h0m-5.0 28.5h0m6.1 -24.2h0m-8.7 29.3h0m26.3 -65.9h0m64.9 44.1h0m-73.9 -34.8h0m0.5 8.6h0m56.8 -1.1h0m-57.0 14.0h0m-54.1 11.0h0m54.9 21.8h0m-13.9 5.6h0m5.2 -1.5h0m27.2 -82.1h0m-35.6 76.0h0m19.4 16.6h0m29.7 -31.6h0m-3.9 16.7h0m-33.9 -18.7h0m6.3 7.8h0m-19.0 -16.3h0m-9.6 -17.6h0m-1.4 48.1h0m9.4 -12.4h0m-3.9 -2.8h0m64.6 -83.2h0m18.1 55.0h0m-76.1 47.1h0m71.7 -66.4h0m-53.3 69.7h0m-14.1 -27.6h0m23.9 27.0h0m-56.0 3.0h0m74.2 -24.6h0m-38.4 -13.8h0m-2.2 6.5h0m-8.5 21.1h0m17.2 -44.5h0m-10.2 21.6h0m0.0 -12.5h0m10.5 28.3h0m-14.1 -11.3h0m-4.1 7.9h0m-8.0 -20.0h0m18.3 36.8h0m59.6 -93.6h0m-28.5 6.9h0m7.7 83.3h0m-60.6 -23.1h0m21.7 -7.1h0m55.6 -13.3h0m-53.8 16.0h0m25.3 -41.1h0m-35.2 30.9h0m2.4 10.6h0m86.3 -50.0h0m-107.4 54.6h0m77.1 -5.6h0m-49.8 -37.2h0m5.3 52.8h0m15.9 -54.0h0m-22.1 57.7h0m-15.8 -26.3h0m36.7 -28.2h0m-6.0 3.7h0m-24.7 48.0h0m-2.0 0.8h0m15.5 16.9h0m36.5 -30.0h0m-33.6 13.4h0m-6.3 6.9h0m58.2 -54.4h0m-54.3 15.1h0m-13.5 34.7h0m-7.6 -9.7h0m83.3 -38.5h0m-4.1 20.9h0m-2.0 -11.8h0m-48.9 50.5h0m-2.6 -65.8h0m55.1 21.4h0m-82.3 46.5h0m31.9 -15.4h0m-13.0 -38.4h0m16.9 -16.5h0m-8.5 13.7h0m-38.5 42.9h0m7.6 3.9h0m22.5 -14.8h0m15.3 14.6h0m32.7 -26.9h0m-61.8 -2.0h0m76.4 -52.9h0m-83.3 62.4h0m32.2 22.0h0m-67.2 -14.9h0m51.3 -14.9h0m-9.0 17.9h0m21.0 -22.5h0m43.1 -1.8h0m-33.4 28.1h0m-24.7 -13.8h0m14.3 25.4h0m-15.9 -29.4h0m-19.9 1.7h0m89.3 -41.0h0m1.8 1.7h0m-14.2 37.9h0m28.7 -14.2h0m-6.4 1.8h0m-66.1 5.9h0m-8.6 8.3h0m35.1 15.4h0m30.3 -46.0h0m-78.3 53.2h0m16.4 5.1h0m-7.7 2.9h0m-14.3 -31.2h0m32.5 -15.3h0m35.6 16.0h0m-43.1 17.7h0m55.8 -9.9h0m-21.4 14.5h0m5.9 -20.8h0m-67.3 -17.2h0m83.1 -22.8h0m-73.4 43.6h0m-6.5 32.4h0m21.2 -65.8h0m73.4 -22.2h0m-20.5 59.3h0m9.0 -55.6h0m-84.4 38.8h0m33.6 14.6h0m-14.4 -4.8h0m-7.8 -20.5h0m4.0 36.3h0m15.8 -39.8h0m-31.1 40.3h0m5.7 -16.1h0m54.2 8.6h0m-37.7 2.9h0m4.6 -31.7h0m30.4 31.4h0m-46.2 8.2h0m35.6 -65.6h0m25.8 41.7h0m22.7 -9.6h0m8.0 -48.5h0m-77.0 79.3h0m72.3 -60.3h0m-71.0 63.0h0m78.1 -83.1h0m-71.9 22.3h0m2.4 48.1h0m-35.4 -3.4h0m21.8 -25.2h0m31.3 29.1h0m9.1 -73.6h0m-73.5 90.6h0m33.3 5.6h0m-1.9 -31.0h0m80.9 -64.6h0m-82.2 65.4h0m-41.8 26.9h0m106.6 -42.1h0m-83.9 33.9h0m-10.5 0.8h0m103.6 -49.7h0m9.6 -31.4h0m-9.5 29.3h0m-71.6 46.9h0m3.5 4.6h0m58.1 -33.7h0m-35.6 27.3h0m-40.9 7.3h0m16.7 -18.0h0m-9.5 17.2h0m22.4 0.4h0m-2.7 -2.0h0m-12.1 11.5h0m74.5 -55.2h0m-81.9 49.9h0m71.2 -67.1h0m-43.3 56.4h0m44.4 -57.7h0m-79.0 76.3h0m13.8 -39.9h0m-33.5 22.7h0m58.7 -6.2h0m27.1 -30.3h0m5.2 21.9h0m-58.8 10.9h0m-2.2 -21.8h0m-23.4 -2.1h0m84.6 -47.0h0m-5.2 51.0h0m-44.3 23.3h0m-4.2 -15.3h0m4.5 11.0h0m-11.8 -16.3h0m49.4 8.4h0m-40.6 20.7h0m2.7 -42.6h0m-10.5 10.0h0m18.2 15.5h0m31.8 -10.7h0m31.9 -32.9h0m-51.0 59.5h0m-12.0 -71.8h0m18.6 63.3h0m-48.2 -3.8h0m5.4 19.5h0m76.4 -45.3h0m-12.9 -13.5h0m-33.9 43.6h0m-24.7 -43.3h0m-12.2 47.3h0m22.7 8.5h0m-6.0 -24.0h0m-21.8 23.4h0m-5.0 -7.9h0m41.2 -60.0h0m39.9 23.5h0m-50.3 -5.4h0m-21.4 28.5h0m19.9 -33.5h0m17.6 42.2h0m-1.6 6.0h0m-38.7 -20.9h0m12.5 0.3h0m14.9 -1.1h0m-9.0 -18.0h0m-20.9 9.4h0m8.3 18.2h0m60.1 -63.1h0m5.5 52.6h0m-17.4 14.1h0m-24.8 13.2h0m-22.8 -9.3h0m-8.8 -23.9h0m45.0 32.7h0m-25.9 4.2h0m45.3 -23.9h0m-34.9 2.7h0m31.5 -6.2h0m-38.6 19.6h0m-19.6 -8.8h0m27.5 -4.4h0m-12.8 -13.1h0m-6.1 11.2h0m-8.3 -8.7h0m1.9 24.9h0m16.9 -1.9h0m32.2 -8.1h0m-16.7 7.3h0m-9.2 -12.9h0m-6.2 -18.8h0m-12.4 38.8h0m72.8 -46.5h0m-71.6 24.1h0m20.5 -16.2h0m0.6 -10.0h0m0.8 -6.3h0m-9.7 25.1h0m17.0 18.9h0m-34.6 -26.7h0m11.3 33.5h0m-14.5 -14.3h0m72.5 -33.2h0m-64.0 40.8h0m5.4 0.5h0m6.4 -21.0h0m-16.0 25.1h0m15.3 -31.0h0m-7.5 6.1h0m10.2 7.4h0m-7.1 3.5h0m75.8 -51.2h0m-58.0 56.1h0m10.7 7.4h0m-25.7 -33.9h0m1.8 25.8h0m56.3 -40.0h0m-47.3 12.2h0m-8.3 17.2h0m-38.5 -9.0h0m92.6 -11.5h0m-75.5 46.5h0m46.0 -10.6h0m-19.3 -4.9h0m-17.8 -8.3h0m-4.5 -28.5h0m24.6 31.1h0m0.2 -33.6h0m-49.0 29.6h0m35.5 8.8h0m81.3 -56.7h0m-83.9 57.4h0m21.4 16.0h0m49.1 -70.1h0m-66.3 36.8h0m-15.8 3.8h0m-0.9 9.8h0m2.0 19.9h0m12.6 -4.1h0m71.5 -55.4h0m-16.6 -26.4h0m9.1 17.9h0m-6.3 -11.4h0m4.4 -0.9h0m1.8 -0.8h0m7.5 -2.3h0m-15.2 0.3h0m10.6 13.0h0m-4.3 -0.8h0m-0.7 -2.7h0m-0.6 -8.0h0m12.3 -2.1h0m-9.0 -6.3h0m2.8 15.6h0m-3.2 -6.5h0m-1.1 -8.2h0m10.9 3.2h0m-13.7 -3.3h0m10.1 19.6h0m-6.7 -12.7h0m-0.3 7.8h0m3.1 -2.1h0m2.1 12.3h0m-6.3 -24.8h0m3.3 21.7h0m-5.4 -5.0h0m1.9 -7.5h0m-1.6 -4.6h0m2.0 17.0h0m7.2 -15.6h0m-4.9 8.5h0m-15.4 -4.5h0m13.8 -6.9h0m-7.0 8.7h0m5.0 -10.2h0m-1.5 18.5h0m18.2 -3.7h0m-22.9 -14.3h0m16.5 3.4h0m-10.1 0.5h0m-1.9 14.3h0m5.7 -14.6h0m-3.9 9.2h0m8.1 -8.6h0m-1.8 5.5h0m-10.2 8.6h0m7.8 -9.0h0m3.2 -1.2h0m0.4 7.6h0m-5.7 -17.8h0m7.0 18.5h0m-4.8 -14.7h0m3.6 -4.9h0m-5.1 33.1h0m-0.2 -3.7h0m11.7 -16.5h0m-4.7 -3.7h0m-2.9 1.5h0m-1.9 6.1h0m-1.6 10.2h0m-2.6 -19.6h0m3.9 4.9h0m-2.1 -9.5h0m1.3 17.4h0m-0.1 -15.2h0m4.0 0.1h0m-11.4 -2.5h0m3.7 14.6h0m5.7 -13.2h0m-2.2 16.2h0m-5.9 -1.6h0m-3.0 -0.2h0m14.1 3.9h0m-12.3 -14.4h0m-3.6 -2.5h0m5.6 16.2h0m12.5 7.8h0m-0.1 -2.9h0m-5.6 -13.7h0m6.9 -18.3h0m27.9 45.8h0m-9.1 -10.4h0m1.5 12.3h0m-36.4 19.5h0m4.8 -18.0h0m-3.5 0.7h0m8.3 -9.7h0m20.7 17.3h0m18.4 -32.0h0m28.6 15.1h0m-34.8 7.7h0m-26.3 -12.8h0m19.2 -7.1h0m-29.4 -19.5h0m23.2 28.3h0m-9.5 5.3h0m22.3 -15.9h0m-29.1 3.7h0m9.4 14.0h0m13.9 12.1h0m-13.2 4.1h0m20.2 -18.4h0m-33.6 15.3h0m11.4 -25.5h0m15.6 26.3h0m-31.3 -16.1h0m19.9 -0.2h0m9.5 -14.7h0m-16.1 4.4h0m21.0 12.1h0m-8.3 2.0h0m-14.9 24.1h0m-10.4 -30.5h0m23.9 14.7h0m-10.8 -4.4h0m42.3 -24.3h0m-40.4 28.9h0m22.9 5.6h0m-7.5 -3.7h0m-14.3 -13.6h0m5.0 7.4h0m-14.4 20.6h0m40.0 -26.3h0m-33.1 9.7h0m-10.6 1.8h0m0.5 -19.5h0m24.8 -0.6h0m-18.4 2.5h0m5.2 11.2h0m5.9 -13.9h0m-20.4 25.5h0m21.9 0.0h0m7.8 -10.2h0m-21.9 3.9h0m18.0 -14.4h0m-33.2 20.0h0m44.4 -43.1h0m-44.3 56.7h0m30.0 -44.7h0m-14.9 21.5h0m10.4 -0.1h0m-15.8 8.6h0m44.8 -12.9h0m-32.2 -3.6h0m-4.2 9.1h0m3.8 19.8h0m12.0 -24.6h0m-24.0 -18.5h0m50.9 -37.6h0m-28.4 53.2h0m9.7 -18.4h0m-25.2 12.3h0m5.0 33.8h0m33.3 -54.4h0m-10.8 28.4h0m-18.9 -38.3h0m23.7 40.5h0m-25.6 -14.1h0m-18.4 34.6h0m23.7 5.8h0m27.3 -16.2h0m-27.4 -11.4h0m3.9 -38.4h0m-31.1 49.6h0m44.9 -25.3h0m-28.8 26.0h0m28.3 -17.2h0m-46.0 24.4h0m12.2 11.0h0m8.3 -62.5h0m27.2 25.5h0m-42.5 15.1h0m39.6 -21.8h0m-31.9 25.1h0m36.5 -25.4h0m-18.6 32.3h0m-14.2 18.7h0m10.4 -38.8h0m9.1 2.1h0m-15.7 -18.5h0m23.3 19.0h0m-6.1 -6.1h0m8.1 -24.7h0m-20.1 0.3h0m23.9 4.8h0m-2.2 -5.3h0m-28.1 43.4h0m26.5 -2.2h0m-2.3 -38.2h0m-4.6 21.6h0m0.0 -16.8h0m2.9 4.1h0m-6.2 5.4h0m-4.2 5.9h0m-36.2 23.1h0m37.7 -2.7h0m-2.8 -2.6h0m8.9 -4.3h0m-31.7 -1.7h0m17.0 10.7h0m27.3 -11.6h0m-36.2 -13.0h0m25.5 28.6h0m27.5 -4.3h0m-46.4 -53.2h0m18.8 52.6h0m-46.7 5.1h0m22.2 -30.1h0m21.4 24.9h0m-14.0 -8.1h0m13.2 2.5h0m-11.3 -0.5h0m-14.0 25.5h0m-7.9 -34.2h0m3.3 -0.8h0m31.1 -14.4h0m49.3 15.2h0m-40.7 -31.6h0m-32.3 14.0h0m10.6 3.2h0m-25.8 34.5h0m43.8 -41.4h0m-21.7 3.0h0m12.5 14.8h0m8.1 -20.3h0m-15.4 12.3h0m12.0 0.0h0m-9.2 30.7h0m45.0 -34.9h0m-24.7 -1.7h0m-28.5 6.4h0m17.5 11.3h0m-20.6 -12.6h0m24.3 -3.4h0m-25.8 6.5h0m25.7 -31.0h0m-1.2 51.6h0m-35.0 -11.8h0m2.2 8.9h0m9.4 -19.5h0m-8.1 7.9h0m36.0 -3.3h0m-49.0 31.7h0m16.7 -33.4h0m2.6 17.5h0m28.5 -21.0h0m-23.6 37.6h0m32.8 -31.6h0m-43.8 5.7h0m24.4 36.1h0m-15.3 -17.7h0m16.4 -46.9h0m2.5 -0.4h0m-14.8 34.6h0m5.1 -14.2h0m9.0 2.1h0m-11.1 -17.1h0m5.4 0.0h0m-26.2 31.7h0m15.1 -26.9h0m15.7 -1.2h0m1.8 11.0h0m-20.1 -9.7h0m-12.6 14.5h0m8.4 24.9h0m8.3 -51.5h0m24.1 -0.9h0m-10.3 28.4h0m-9.2 4.2h0m38.1 10.5h0m-32.0 -5.4h0m12.3 -14.7h0m-3.2 17.5h0m5.4 -19.9h0m-39.6 -6.2h0m35.5 21.7h0m-18.0 -36.3h0m26.5 17.1h0m-39.7 -4.1h0m23.3 4.2h0m30.6 18.9h0m-5.7 -16.4h0m-14.5 29.6h0m8.2 -7.0h0m-37.0 -7.7h0m0.2 52.3h0m-9.1 -62.7h0m38.6 0.6h0m-24.7 14.8h0m36.4 -24.1h0m2.1 16.4h0m-26.5 5.8h0m-25.1 -38.9h0m0.0 57.4h0m37.6 -55.8h0m-16.1 -42.7h0m-3.2 -3.1h0m-12.9 -21.3h0m27.0 73.4h0m-18.7 -55.8h0m35.6 -16.9h0m-17.6 18.9h0m-8.5 -4.7h0m-30.6 18.6h0m13.4 -13.6h0m27.8 -32.9h0m-44.3 58.5h0m14.4 -4.9h0m31.3 -21.1h0m-12.5 -32.4h0m9.5 26.6h0m-23.0 -24.2h0m-10.3 31.8h0m36.9 -28.9h0m-24.5 12.5h0m10.8 13.7h0m12.9 23.1h0m-27.2 -27.2h0m-20.0 18.9h0m30.1 -23.6h0m10.8 -20.9h0m-23.3 -0.5h0m0.6 38.6h0m18.7 -11.2h0m8.8 -1.8h0m-19.9 0.2h0m18.5 17.7h0m-17.6 -5.9h0m-23.3 -5.3h0m21.0 -2.9h0m-29.9 27.9h0m17.6 1.0h0m32.2 -22.7h0m-35.0 9.1h0m26.4 -19.0h0m-15.8 14.8h0m16.7 -5.5h0m-19.6 18.8h0m26.0 -22.7h0m-44.3 7.0h0m17.5 18.8h0m26.9 -32.9h0m-14.9 11.7h0m32.4 1.9h0m-10.3 -18.3h0m-35.7 -6.8h0m16.1 12.3h0m-0.2 12.7h0m9.8 -20.7h0m-6.0 38.7h0m-22.1 -1.7h0m8.2 -52.9h0m15.6 1.7h0m13.8 37.6h0m8.8 20.5h0m-39.8 -48.6h0m24.4 7.5h0m2.2 12.0h0m9.7 -47.1h0m-30.4 62.0h0m1.2 -17.8h0m7.5 -25.8h0m-6.3 13.6h0m34.1 -16.9h0m-9.3 53.4h0m-16.0 -27.0h0m6.4 11.2h0m-16.9 2.4h0m16.7 -13.5h0m28.0 -10.2h0m-26.5 28.6h0m-16.7 -32.8h0m15.0 -1.8h0m-40.1 33.0h0m58.8 -44.3h0m-30.4 30.2h0m-8.7 17.2h0m1.1 -11.2h0m-24.1 -15.4h0m4.1 53.8h0m32.3 -69.4h0m-6.4 34.8h0m-3.9 -17.9h0m-4.6 4.5h0m40.1 -21.7h0m-16.8 17.0h0m-28.1 11.7h0m25.8 3.3h0m-11.8 -20.2h0m-10.8 48.5h0m11.7 -29.0h0m22.0 -0.9h0m-7.2 23.9h0m-30.4 -21.9h0m18.1 -7.3h0m-0.9 28.1h0m13.4 -9.7h0m4.5 9.0h0m-5.8 -36.5h0m10.1 41.3h0m-44.6 -11.8h0m36.5 -32.2h0m-41.9 35.4h0m33.4 -23.1h0m-11.3 18.6h0m-13.0 10.2h0m16.2 -18.5h0m-26.2 -17.8h0m-6.2 3.2h0m2.4 51.6h0m48.2 -76.4h0m-23.7 51.4h0m31.6 -24.5h0m-32.8 -3.7h0m9.6 3.6h0" stroke="#ff0000" stroke-width="1.3" stroke-linecap="square" fill="none"/>
<rect x="437" y="858.7" width="275.2" height="278.3" fill="none" stroke="#000" stroke-width="1.5"/>
<line x1="562.2" y1="858.7" x2="562.2" y2="1137.0" stroke="#000" stroke-width="2.1"/>
<line x1="437.0" y1="1034.5" x2="712.2" y2="1034.5" stroke="#000" stroke-width="2.1"/>
<text x="587.0" y="852.6" font-size="23.5" text-anchor="middle">sh-NC</text>
<text x="446.6" y="882.0" font-size="15.8">0.14</text>
<text x="708.5" y="885.0" font-size="15.8" text-anchor="end">2.04</text>
<text x="442.8" y="1126.4" font-size="15.8">90.9</text>
<text x="708.5" y="1126.4" font-size="15.8" text-anchor="end">6.92</text>
<path d="M429.5 883.6H437M429.5 947.5H437M429.5 1012.6H437M429.5 1078.6H437M429.5 1107.2H437M429.5 1137.0H437M433.3 928.2H437M433.3 917.0H437M433.3 909.0H437M433.3 902.8H437M433.3 897.8H437M433.3 893.5H437M433.3 889.8H437M433.3 886.5H437M433.3 993.0H437M433.3 981.5H437M433.3 973.4H437M433.3 967.1H437M433.3 961.9H437M433.3 957.6H437M433.3 953.8H437M433.3 950.5H437M433.3 1058.7H437M433.3 1047.1H437M433.3 1038.8H437M433.3 1032.5H437M433.3 1027.2H437M433.3 1022.8H437M433.3 1019.0H437M433.3 1015.6H437M433.3 865.7H437M433.3 1084.6H437M433.3 1090.7H437M433.3 1096.9H437M433.3 1103.1H437M433.3 1109.3H437M433.3 1115.5H437M433.3 1121.6H437M433.3 1127.8H437M433.3 1134.0H437M454.6 1137V1144M494.2 1137V1144M560.0 1137V1144M622.8 1137V1144M685.0 1137V1144M514.0 1137V1140.7M525.6 1137V1140.7M533.8 1137V1140.7M540.2 1137V1140.7M545.4 1137V1140.7M549.8 1137V1140.7M553.6 1137V1140.7M557.0 1137V1140.7M578.9 1137V1140.7M590.0 1137V1140.7M597.8 1137V1140.7M603.9 1137V1140.7M608.8 1137V1140.7M613.0 1137V1140.7M616.7 1137V1140.7M619.9 1137V1140.7M641.5 1137V1140.7M652.4 1137V1140.7M660.2 1137V1140.7M666.2 1137V1140.7M671.2 1137V1140.7M675.3 1137V1140.7M678.9 1137V1140.7M682.1 1137V1140.7M703.7 1137V1140.7M441.0 1137V1140.7M445.6 1137V1140.7M450.1 1137V1140.7M454.7 1137V1140.7M459.3 1137V1140.7M463.8 1137V1140.7M468.4 1137V1140.7M473.0 1137V1140.7M477.5 1137V1140.7M482.1 1137V1140.7M486.7 1137V1140.7M491.2 1137V1140.7" stroke="#000" stroke-width="1.3" fill="none"/>
<rect x="450.6" y="1137" width="9" height="6" fill="#000"/>
<rect x="431.0" y="1103.2" width="6" height="8" fill="#000"/>
<text x="422.2" y="883.6" font-size="15.3" text-anchor="middle" transform="rotate(-90 422.2 883.6)">10<tspan font-size="9.2" dy="-6.4">5</tspan></text>
<text x="422.2" y="947.5" font-size="15.3" text-anchor="middle" transform="rotate(-90 422.2 947.5)">10<tspan font-size="9.2" dy="-6.4">4</tspan></text>
<text x="422.2" y="1012.6" font-size="15.3" text-anchor="middle" transform="rotate(-90 422.2 1012.6)">10<tspan font-size="9.2" dy="-6.4">3</tspan></text>
<text x="422.2" y="1078.6" font-size="15.3" text-anchor="middle" transform="rotate(-90 422.2 1078.6)">10<tspan font-size="9.2" dy="-6.4">2</tspan></text>
<text x="422.2" y="1107.2" font-size="15.3" text-anchor="middle" transform="rotate(-90 422.2 1107.2)">0</text>
<text x="422.2" y="1137.0" font-size="15.3" text-anchor="middle" transform="rotate(-90 422.2 1137.0)">-10<tspan font-size="9.2" dy="-6.4">2</tspan></text>
<text x="454.6" y="1161.6" font-size="15.8" text-anchor="middle">0</text>
<text x="562.5" y="1161.6" font-size="15.3" text-anchor="middle">10<tspan font-size="9.2" dy="-6.4">3</tspan></text>
<text x="625.3" y="1161.6" font-size="15.3" text-anchor="middle">10<tspan font-size="9.2" dy="-6.4">4</tspan></text>
<text x="687.5" y="1161.6" font-size="15.3" text-anchor="middle">10<tspan font-size="9.2" dy="-6.4">5</tspan></text>
<text x="487.0" y="1175.5" font-size="14.2">Comp-FITC-A::AnnexinV</text>
<text x="397.4" y="996.6" font-size="14.5" text-anchor="middle" transform="rotate(-90 397.4 996.6)">Comp-PE-A::PI</text>
<path d="M896 1042h1v1h-1zM895 1043h3v1h-3zM904 1043h1v1h-1zM895 1044h2v1h-2zM902 1044h3v1h-3zM891 1045h6v1h-6zM900 1045h5v1h-5zM884 1046h1v1h-1zM888 1046h8v1h-8zM900 1046h6v1h-6zM883 1047h13v1h-13zM900 1047h7v1h-7zM875 1048h1v1h-1zM883 1048h14v1h-14zM900 1048h8v1h-8zM874 1049h6v1h-6zM883 1049h24v1h-24zM874 1050h7v1h-7zM882 1050h25v1h-25zM874 1051h29v1h-29zM873 1052h29v1h-29zM873 1053h29v1h-29zM873 1054h29v1h-29zM907 1054h2v1h-2zM871 1055h31v1h-31zM907 1055h2v1h-2zM871 1056h33v1h-33zM906 1056h3v1h-3zM871 1057h38v1h-38zM870 1058h35v1h-35zM869 1059h34v1h-34zM868 1060h35v1h-35zM867 1061h33v1h-33zM901 1061h1v1h-1zM863 1062h3v1h-3zM867 1062h33v1h-33zM862 1063h38v1h-38zM862 1064h38v1h-38zM859 1065h2v1h-2zM862 1065h36v1h-36zM854 1066h3v1h-3zM858 1066h3v1h-3zM864 1066h34v1h-34zM855 1067h6v1h-6zM864 1067h34v1h-34zM856 1068h4v1h-4zM864 1068h34v1h-34zM901 1068h2v1h-2zM858 1069h1v1h-1zM863 1069h41v1h-41zM862 1070h40v1h-40zM862 1071h40v1h-40zM862 1072h40v1h-40zM855 1073h1v1h-1zM858 1073h44v1h-44zM854 1074h47v1h-47zM854 1075h47v1h-47zM854 1076h46v1h-46zM854 1077h2v1h-2zM859 1077h41v1h-41zM859 1078h35v1h-35zM895 1078h4v1h-4zM858 1079h35v1h-35zM896 1079h4v1h-4zM858 1080h35v1h-35zM899 1080h5v1h-5zM857 1081h39v1h-39zM899 1081h5v1h-5zM855 1082h42v1h-42zM899 1082h3v1h-3zM854 1083h42v1h-42zM899 1083h2v1h-2zM850 1084h1v1h-1zM854 1084h38v1h-38zM894 1084h2v1h-2zM848 1085h44v1h-44zM846 1086h5v1h-5zM852 1086h44v1h-44zM848 1087h2v1h-2zM855 1087h41v1h-41zM857 1088h34v1h-34zM892 1088h3v1h-3zM850 1089h2v1h-2zM857 1089h33v1h-33zM893 1089h1v1h-1zM850 1090h3v1h-3zM856 1090h33v1h-33zM850 1091h4v1h-4zM855 1091h28v1h-28zM884 1091h3v1h-3zM851 1092h36v1h-36zM851 1093h36v1h-36zM852 1094h35v1h-35zM852 1095h34v1h-34zM852 1096h31v1h-31zM852 1097h32v1h-32zM836 1098h2v1h-2zM849 1098h1v1h-1zM854 1098h30v1h-30zM835 1099h3v1h-3zM849 1099h2v1h-2zM855 1099h28v1h-28zM835 1100h3v1h-3zM849 1100h2v1h-2zM859 1100h16v1h-16zM879 1100h3v1h-3zM840 1101h1v1h-1zM853 1101h2v1h-2zM859 1101h5v1h-5zM865 1101h10v1h-10zM839 1102h2v1h-2zM853 1102h2v1h-2zM858 1102h5v1h-5zM866 1102h8v1h-8zM839 1103h2v1h-2zM853 1103h2v1h-2zM858 1103h6v1h-6zM868 1103h6v1h-6zM859 1104h5v1h-5zM868 1104h4v1h-4zM876 1104h2v1h-2zM862 1105h2v1h-2zM876 1105h2v1h-2zM862 1106h2v1h-2zM870 1107h1v1h-1zM850 1108h2v1h-2zM870 1108h1v1h-1z" fill="#ff0000"/>
<path d="M906.8 1054.7h0m-35.4 70.1h0m30.6 -63.4h0m-41.6 -6.1h0m21.0 -11.5h0m-4.9 3.6h0m6.5 -7.5h0m20.2 20.4h0m-42.0 -8.3h0m7.9 64.4h0m17.3 -20.0h0m-23.8 -26.5h0m-7.2 -9.4h0m21.5 -13.7h0m12.3 -5.1h0m9.1 26.0h0m7.9 -4.4h0m-3.7 -23.1h0m-29.9 14.0h0m-10.7 16.1h0m41.2 -31.4h0m-3.9 28.1h0m-0.9 -20.0h0m5.4 -13.8h0m5.5 10.3h0m-35.9 71.3h0m-2.0 -6.6h0m-0.4 -59.8h0m24.1 30.0h0m-0.4 23.6h0m4.0 -65.9h0m-25.8 14.0h0m11.3 -4.6h0m-18.3 61.1h0m7.9 -59.6h0m14.4 -3.3h0m-28.0 27.1h0m3.3 40.7h0m1.0 -4.7h0m1.1 -53.8h0m28.3 -8.1h0m-54.4 47.8h0m66.1 -23.1h0m-20.6 -24.4h0m-29.7 20.8h0m5.4 47.5h0m33.0 -17.2h0m-41.2 -21.1h0m9.8 36.3h0m14.7 -63.6h0m-34.8 52.9h0m39.2 -58.3h0m15.4 45.5h0m-24.0 -34.2h0m-7.2 -1.1h0m15.9 -5.2h0m24.1 -4.2h0m-43.1 23.7h0m37.1 -22.5h0m-43.9 25.1h0m7.8 39.1h0m2.3 -67.5h0m-6.7 29.8h0m20.7 -23.1h0m-8.9 3.6h0m-4.3 9.0h0m37.8 -46.8h0m-41.6 104.2h0m24.8 -72.7h0m-6.8 -1.2h0m2.7 0.6h0m20.4 -9.3h0m-4.9 -2.4h0m-9.0 5.3h0m-19.4 19.7h0m-4.2 4.1h0m17.0 -23.2h0m17.3 23.8h0m-3.2 -33.0h0m3.8 54.6h0m-39.6 -24.7h0m34.0 -16.9h0m-39.1 39.3h0m8.0 -28.6h0m17.3 -5.2h0m-32.4 40.4h0m55.8 -10.9h0m-34.3 -21.9h0m-12.7 15.2h0m32.2 -32.1h0m-26.4 22.0h0m-12.2 40.6h0m27.9 -53.0h0m-10.9 8.4h0m19.0 41.6h0m-31.1 3.3h0m28.2 -58.1h0m10.3 -0.6h0m-23.9 67.9h0m33.3 -46.8h0m-52.0 6.8h0m16.4 37.6h0m36.7 -31.2h0m-35.4 -22.5h0m-16.3 28.0h0m21.0 25.9h0m-17.6 -36.3h0m11.3 -12.5h0m19.8 35.7h0m-0.7 -67.8h0m4.7 14.1h0m-13.6 61.6h0m23.2 -36.1h0m-36.1 37.0h0m21.6 -2.9h0m16.4 -63.3h0m-52.7 55.8h0m37.8 -49.0h0m10.5 -6.2h0m-43.7 50.7h0m17.7 20.1h0m13.6 -62.9h0m-9.4 54.5h0m-15.3 -46.5h0m37.0 23.6h0m-15.2 -42.0h0m-21.4 32.0h0m8.3 -14.7h0m34.9 7.4h0m-26.1 -15.4h0m-12.9 11.4h0m34.5 7.3h0m-27.8 -16.1h0m-3.3 58.2h0m-9.7 -55.2h0m21.5 -11.7h0m10.3 -3.4h0m1.6 7.9h0m-41.3 64.7h0m31.7 -64.4h0m14.3 -16.2h0m-24.5 11.8h0m32.4 43.8h0m-24.0 -44.7h0m12.2 1.5h0m-5.3 51.3h0m20.2 -28.3h0m-17.3 29.9h0m-9.9 -47.6h0m31.6 7.7h0m-50.2 7.8h0m41.2 -34.9h0m-9.2 55.6h0m-14.0 18.2h0m5.3 -59.3h0m-31.5 31.4h0m53.7 -24.8h0m-4.8 -4.9h0m-38.5 10.3h0m35.6 -16.5h0m-40.4 13.6h0m13.4 -4.6h0m-21.3 22.4h0m52.7 0.6h0m-31.7 -28.7h0m1.2 4.6h0m-36.0 49.9h0m50.1 6.2h0m11.6 -57.9h0m-3.6 2.8h0m-19.5 -6.2h0m-2.0 6.0h0m28.5 23.9h0m-31.9 -17.2h0m-2.0 -0.1h0m16.5 -11.3h0m-32.7 65.7h0m10.1 -54.1h0m29.6 26.1h0m-11.5 -30.5h0m-25.6 4.5h0m9.6 51.4h0m-17.6 -12.9h0m17.9 -41.6h0m7.5 -0.6h0m-1.5 2.0h0m28.2 -15.3h0m-37.2 69.8h0m-10.4 0.8h0m42.3 -20.6h0m-20.6 22.1h0m-11.8 -52.5h0m39.3 -0.2h0m-22.9 -5.5h0m19.1 -30.4h0m6.6 48.6h0m-3.1 -4.1h0m-1.4 21.4h0m-35.8 -44.3h0m14.3 8.5h0m-0.3 -3.1h0m-29.4 31.7h0m17.9 35.9h0m-10.0 -42.3h0m6.3 53.9h0m32.7 -96.1h0m2.0 13.7h0m-27.9 6.8h0m19.9 43.5h0m-29.9 14.3h0m39.3 -43.2h0m-14.3 34.3h0m-37.2 -13.1h0m53.9 -12.3h0m-12.4 -32.4h0m-13.9 62.5h0m28.5 -38.7h0m-13.0 -23.5h0m-4.8 4.4h0m-4.3 -7.1h0m-31.0 50.2h0m23.9 13.5h0m4.5 -58.3h0m-15.1 74.2h0m49.5 -42.4h0m-58.2 -12.0h0m31.2 33.3h0m-12.0 15.1h0m43.0 -56.9h0m-42.3 -10.0h0m-9.1 9.1h0m31.4 -12.1h0m-32.2 15.1h0m-8.4 14.4h0m21.0 34.1h0m-21.9 5.7h0m48.9 -52.3h0m-62.8 22.7h0m22.2 -23.3h0m13.2 46.2h0m-18.1 -32.1h0m43.6 2.6h0m-2.4 -32.2h0m-4.2 40.5h0m-38.1 27.0h0m-7.8 -21.5h0m29.9 -43.1h0m-7.3 56.7h0m18.0 -11.0h0m-0.7 -48.1h0m-45.4 58.6h0m58.5 -59.7h0m-9.4 1.0h0m-51.3 45.8h0m26.3 -44.0h0m-9.5 12.3h0m16.1 -23.7h0m7.1 7.2h0m-1.0 59.7h0m-16.2 -46.9h0m34.9 33.9h0m-25.6 -45.3h0m5.0 7.8h0m-1.0 51.7h0m-10.3 -46.5h0m5.2 -10.4h0m14.7 -3.3h0m5.6 -4.8h0m3.7 5.9h0m-2.8 45.1h0m4.4 -42.7h0m4.5 13.5h0m-19.7 -15.0h0m1.7 56.8h0m-18.5 -46.6h0m37.7 18.7h0m-24.3 -25.0h0m20.2 17.4h0m10.4 -2.7h0m-59.4 10.5h0m2.1 44.7h0m10.4 -5.0h0m1.8 -64.2h0m24.0 45.4h0m-23.5 17.2h0m-23.0 3.1h0m51.8 -32.9h0m-21.2 -38.0h0m1.9 65.9h0m19.2 -80.6h0m-18.5 79.7h0m-4.6 -2.4h0m30.6 -67.3h0m1.1 22.3h0m-16.1 50.4h0m-37.3 -10.8h0m25.7 -60.3h0m15.0 5.5h0m-47.2 70.7h0m23.6 -64.6h0m49.7 -0.7h0m-61.1 30.1h0m32.3 -36.4h0m21.0 -1.2h0m-57.0 36.5h0m35.7 12.0h0m39.6 -32.0h0m-80.0 4.3h0m15.6 -8.9h0m-4.8 17.4h0m-29.9 27.3h0m38.2 29.2h0m-31.0 -19.6h0m-23.2 23.1h0m42.6 -30.7h0m-17.5 -23.7h0m6.1 13.4h0m-5.8 8.2h0m42.7 1.1h0m-53.8 -11.1h0m22.8 9.0h0m-24.5 22.7h0m14.3 -14.8h0m1.7 21.0h0m25.7 -15.1h0m-25.1 12.4h0m-14.2 -24.2h0m11.6 -11.2h0m0.8 -7.7h0m23.8 40.8h0m16.9 -6.5h0m-37.0 -41.2h0m-16.2 42.3h0m79.6 -56.9h0m-10.2 29.8h0m-15.2 16.6h0m-49.7 26.3h0m61.4 -52.6h0m-57.7 41.3h0m52.7 -25.0h0m-43.6 -2.6h0m-8.7 -6.3h0m5.4 1.9h0m8.1 32.7h0m22.5 -18.0h0m-29.9 7.1h0m1.8 -8.1h0m-14.0 7.9h0m5.0 -19.2h0m29.1 19.6h0m-16.3 -5.5h0m-35.1 -2.0h0m22.6 28.4h0m-4.0 -16.8h0m17.9 -10.6h0m1.6 -4.8h0m-6.8 7.1h0m-9.3 -13.0h0m73.7 -16.1h0m-65.1 52.9h0m75.4 -63.2h0m-43.6 40.1h0m48.5 -51.1h0m-125.8 46.5h0m63.0 3.8h0m-10.9 3.9h0m1.0 4.9h0m10.2 -2.3h0m-28.6 2.2h0m15.4 -11.3h0m45.7 -19.2h0m-30.9 -37.9h0m-23.7 57.4h0m14.3 5.0h0m-23.6 -5.7h0m14.3 -2.9h0m29.2 4.5h0m-33.8 10.3h0m6.6 -5.1h0m-4.6 -5.8h0m36.5 7.8h0m-36.4 -38.0h0m0.6 29.5h0m15.3 8.0h0m-6.0 -5.1h0m47.3 -64.8h0m5.0 43.5h0m-58.5 24.0h0m2.7 2.2h0m61.3 -57.3h0m-36.5 52.9h0m-10.3 0.4h0m1.6 -53.0h0m-15.8 33.7h0m43.6 1.5h0m-47.1 17.2h0m-11.1 -6.2h0m0.7 -9.8h0m16.1 31.3h0m21.9 -10.7h0m-40.2 -25.8h0m0.6 12.0h0m48.9 6.7h0m-0.1 0.1h0m-44.1 -1.0h0m37.7 6.9h0m-45.2 -11.8h0m12.3 -7.4h0m12.0 38.9h0m1.1 -25.3h0m-8.3 0.8h0m3.0 -9.6h0m1.4 12.9h0m35.6 -11.9h0m-51.5 -12.4h0m8.9 -10.5h0m3.8 21.9h0m49.6 -5.8h0m-58.3 -24.2h0m-17.6 40.4h0m29.6 -19.3h0m52.6 9.0h0m-87.5 14.5h0m21.0 -5.1h0m7.8 1.4h0m4.9 -36.1h0m14.6 31.7h0m-19.7 -7.3h0m57.0 -0.4h0m-63.1 -49.0h0m4.6 63.8h0m6.0 -36.3h0m-12.8 -3.6h0m-2.6 37.0h0m-12.7 -10.2h0m20.2 -16.5h0m59.0 -39.3h0m-69.3 63.6h0m14.4 5.4h0m0.8 -2.3h0m8.8 -6.9h0m-18.7 12.8h0m16.0 -43.0h0m-29.1 61.2h0m38.6 -18.4h0m5.9 -3.6h0m10.7 -8.0h0m-46.7 -0.9h0m10.6 -15.9h0m0.1 -6.0h0m-7.3 47.1h0m5.4 -16.4h0m8.9 -31.8h0m7.5 36.4h0m-8.7 -11.8h0m-12.0 -23.3h0m12.1 13.5h0m-23.1 16.3h0m84.0 -16.2h0m-76.7 17.7h0m43.5 -7.8h0m32.6 -60.6h0m-95.5 71.8h0m7.0 -8.3h0m19.3 -48.1h0m9.4 51.8h0m-9.3 -22.8h0m-10.2 3.8h0m20.9 30.6h0m-1.1 -46.7h0m-32.5 46.1h0m42.1 -11.1h0m-12.3 -13.9h0m36.5 15.3h0m-34.4 -33.9h0m11.7 35.1h0m36.9 -0.7h0m-68.8 -18.7h0m7.3 36.0h0m6.0 -42.9h0m-18.8 46.3h0m2.6 -20.3h0m103.1 -56.8h0m-76.5 26.5h0m-8.8 -1.3h0m67.5 -21.9h0m-60.7 23.6h0m-31.7 23.9h0m-4.9 24.0h0m24.0 -28.5h0m56.0 -91.5h0m-45.3 95.8h0m-18.1 25.9h0m0.1 -49.1h0m23.4 -16.9h0m-22.5 52.5h0m-0.9 -35.6h0m25.7 31.7h0m-12.7 -32.2h0m9.7 45.6h0m-30.2 -6.5h0m14.4 3.0h0m86.0 -86.3h0m-90.9 50.0h0m66.6 -57.6h0m-35.1 75.8h0m-46.6 28.2h0m18.0 -26.0h0m20.2 2.8h0m34.0 -12.2h0m-22.5 15.3h0m-15.7 -9.5h0m-3.5 -23.0h0m60.0 -27.5h0m-85.4 35.5h0m7.2 23.2h0m10.0 -11.8h0m55.4 -14.6h0m7.5 -15.1h0m-74.1 11.6h0m83.6 -15.8h0m-2.0 28.2h0m-19.4 6.7h0m-56.2 -11.8h0m-1.1 7.8h0m-2.4 16.6h0m104.3 -94.1h0m-95.0 87.8h0m6.3 19.0h0m45.9 -34.3h0m-2.5 -3.7h0m-43.0 25.2h0m-14.8 -0.6h0m23.2 -42.1h0m6.1 38.0h0m-32.4 -23.2h0m-1.1 43.2h0m17.4 -36.7h0m-2.3 21.3h0m70.6 -59.2h0m-87.8 77.1h0m6.1 -18.0h0m7.6 -18.7h0m13.1 -16.1h0m2.6 30.4h0m49.0 -70.0h0m-64.8 54.4h0m-0.8 21.4h0m8.3 -8.7h0m64.3 -44.1h0m-12.3 14.7h0m-81.6 3.6h0m22.4 8.0h0m34.5 12.1h0m-58.6 5.1h0m59.6 11.3h0m-38.1 -25.5h0m15.8 -13.5h0m-17.6 32.1h0m-5.0 8.8h0m2.4 -18.9h0m50.6 4.5h0m7.2 -13.2h0m-35.7 20.5h0m-5.6 1.9h0m-2.3 -30.0h0m-20.5 3.6h0m86.5 -12.3h0m-82.4 58.1h0m-4.6 -33.6h0m1.3 11.2h0m7.9 -2.8h0m14.3 -1.5h0m0.4 13.9h0m40.4 -26.5h0m-53.4 9.1h0m10.7 -28.1h0m-2.8 53.0h0m19.0 -11.0h0m-26.9 -1.1h0m41.7 2.0h0m-31.7 -3.7h0m-8.1 -0.6h0m7.5 -20.0h0m14.0 39.1h0m-36.3 -20.6h0m8.6 -14.7h0m-11.0 11.5h0m5.7 -33.8h0m13.2 11.5h0m1.2 25.1h0m11.2 -29.9h0m29.5 20.3h0m-38.3 -1.5h0m-12.4 5.5h0m23.3 14.4h0m-8.7 -8.3h0m3.6 -0.2h0m27.2 -11.4h0m-40.0 -2.2h0m23.1 7.5h0m-19.7 -41.5h0m3.9 8.6h0m6.6 -9.3h0m-10.6 35.6h0m-5.9 -8.3h0m41.2 16.6h0m-66.8 26.8h0m42.9 -36.4h0m-18.0 -20.4h0m13.2 16.7h0m3.3 -15.7h0m66.0 10.6h0m-66.9 35.5h0m-10.5 -54.9h0m13.4 36.7h0m13.3 3.5h0m-46.6 -16.0h0m122.8 -41.0h0m-102.7 26.0h0m5.1 29.0h0m8.4 -3.6h0m-33.7 10.5h0m-17.2 8.2h0m18.3 -4.8h0m31.3 -38.2h0m-3.9 -1.4h0m59.8 -3.2h0m-87.0 31.3h0m90.5 -57.5h0m-66.8 36.5h0m14.8 34.9h0m-1.7 -17.0h0m25.6 22.5h0m28.6 -65.6h0m-93.4 54.3h0m19.6 -1.7h0m15.3 1.2h0m55.7 -36.8h0m-71.2 8.5h0m-18.5 6.2h0m-7.8 29.7h0m9.2 -15.9h0m15.8 -11.8h0m-3.4 11.7h0m5.5 -12.4h0m27.2 -36.2h0m-8.5 46.3h0m-21.3 12.8h0m5.2 -22.9h0m14.5 16.3h0m-8.3 -11.7h0m-5.2 6.9h0m-2.4 -4.8h0m0.2 -13.2h0m41.9 18.2h0m-36.1 -2.7h0m36.9 -61.9h0m-42.3 66.7h0m-24.1 9.0h0m34.3 -45.4h0m-15.0 37.2h0m8.7 -15.6h0m-2.1 34.0h0m12.4 -56.9h0m46.1 8.8h0m-35.4 37.4h0m-1.0 -57.6h0m-26.3 60.4h0m-5.3 -9.1h0m6.9 -14.5h0m2.2 -27.6h0m9.1 -1.9h0m-10.6 7.2h0m19.1 35.3h0m-7.6 -27.2h0m1.4 -1.1h0m-25.3 36.9h0m60.8 -25.1h0m-57.7 11.9h0m63.9 -23.6h0m9.0 13.9h0m-74.6 23.4h0m0.0 -10.5h0m2.5 -1.2h0m63.7 -18.4h0m-69.9 2.5h0m3.8 10.9h0m16.2 29.1h0m-4.0 -32.3h0m1.1 17.1h0m75.2 -52.3h0m-69.1 53.6h0m40.4 -19.6h0m22.2 -40.4h0m-84.2 72.5h0m33.3 -11.5h0m31.5 -22.4h0m24.0 -37.1h0m-13.0 22.5h0m-39.3 -26.4h0m-28.9 51.1h0m78.7 -54.0h0m-59.1 21.8h0m1.1 41.8h0m-4.4 -30.0h0m-24.3 29.3h0m18.0 -27.5h0m44.5 3.3h0m12.0 -1.1h0m10.6 0.6h0m-92.2 32.7h0m41.6 -80.5h0m-15.7 47.6h0m6.2 23.3h0m-19.0 -4.9h0m-8.5 -3.7h0m70.6 -9.4h0m-31.3 9.9h0m-21.1 -5.7h0m24.9 22.5h0m-21.2 -50.0h0m0.8 0.8h0m14.3 39.1h0m-67.9 7.6h0m114.6 -11.6h0m-82.3 -4.9h0m17.2 -8.0h0m-3.7 39.4h0m-1.7 -64.2h0m57.3 27.5h0m-48.5 4.9h0m-13.8 -23.4h0m11.7 2.8h0m43.0 30.5h0m-72.1 5.5h0m39.3 2.8h0m-26.5 -6.0h0m33.3 4.1h0m-17.4 5.5h0m10.8 -55.0h0m-13.4 29.0h0m10.7 37.9h0m-18.4 -35.2h0m20.8 26.3h0m-8.4 -24.1h0m78.7 -28.3h0m-85.8 19.6h0m62.3 -27.4h0m-51.6 21.4h0m-18.6 -11.6h0m51.7 28.8h0m-39.8 6.7h0m6.9 -34.3h0m-6.9 24.7h0m3.0 -13.7h0m55.4 -8.2h0m22.1 2.9h0m-97.3 34.2h0m22.8 -25.1h0m52.5 -29.8h0m-37.8 -7.2h0m-35.6 79.0h0m8.4 -46.8h0m19.6 24.7h0m-28.2 -36.2h0m-0.2 19.2h0m77.5 -22.7h0m-7.4 -41.4h0m6.8 7.2h0m-56.6 60.2h0m-7.6 -18.7h0m2.4 31.4h0m5.8 -0.4h0m22.1 -59.2h0m-20.9 49.9h0m20.4 8.4h0m26.2 5.5h0m6.1 -59.2h0m-55.1 14.1h0m-6.5 43.5h0m-13.2 2.8h0m35.9 -13.9h0m-21.4 -33.0h0m-3.5 45.8h0m75.9 -48.3h0m-64.6 47.1h0m61.2 -57.0h0m-61.9 62.9h0m-18.7 -16.5h0m22.2 -36.4h0m-2.3 42.5h0m69.6 -56.5h0m-88.0 55.3h0m-4.9 -1.7h0m26.8 -28.2h0m-5.2 38.2h0m9.5 -3.4h0m85.3 -109.8h0m-32.5 70.9h0m-49.3 -4.3h0m-15.0 22.9h0m11.3 -37.4h0m5.4 50.7h0m13.5 0.1h0m-43.6 -21.9h0m22.1 43.1h0m-8.1 -22.1h0m-28.0 -27.5h0m47.6 47.3h0m-45.8 -37.7h0m51.9 41.7h0m-27.0 -28.7h0m6.4 -34.0h0m-0.1 4.2h0m66.8 -24.5h0m-92.7 72.1h0m0.8 -8.0h0m48.6 2.9h0m20.3 -67.9h0m-36.9 11.9h0m38.3 25.1h0m-46.6 1.6h0m-5.2 -8.7h0m-35.2 36.0h0m35.1 -5.2h0m9.1 -1.1h0m-18.4 23.3h0m63.5 -51.2h0m-62.0 28.3h0m2.9 4.1h0m12.8 3.5h0m-6.9 -36.5h0m-21.9 17.8h0m39.8 20.4h0m15.3 -13.2h0m-18.9 24.8h0m-21.2 0.4h0m29.5 -8.3h0m-1.5 -12.6h0m-21.2 -12.1h0m-16.5 0.5h0m-7.3 -44.5h0m21.1 46.7h0m13.2 -19.1h0m-23.3 38.2h0m-10.6 4.5h0m38.7 -10.6h0m-8.0 3.4h0m-27.1 -19.0h0m22.6 2.9h0m-7.1 -3.2h0m7.6 -9.7h0m-16.2 16.9h0m-13.2 19.2h0m23.0 -17.0h0m7.4 -23.3h0m-11.3 32.5h0m-6.6 -27.4h0m7.3 32.6h0m8.9 -68.1h0m66.2 19.5h0m-66.0 11.0h0m-17.6 6.6h0m1.2 36.4h0m-6.2 -16.1h0m63.1 -9.8h0m-49.4 18.2h0m25.0 0.3h0m-18.2 -41.7h0m6.3 34.5h0m-14.5 -12.3h0m36.9 -55.9h0m34.0 5.5h0m-82.2 56.5h0m28.8 8.2h0m-43.0 7.7h0m22.1 -0.1h0m-11.9 -0.5h0m-5.4 -24.5h0m11.0 17.8h0m-2.5 -5.5h0m17.6 -19.6h0m7.4 -18.1h0m-11.5 1.2h0m34.6 37.0h0m-41.1 22.6h0m-12.0 -18.4h0m-1.2 -8.3h0m24.0 -32.4h0m3.0 45.8h0m6.1 -5.9h0m23.3 -2.0h0m-18.2 26.2h0m2.1 -70.6h0m-21.9 28.3h0m11.4 -16.5h0m-16.5 51.8h0m45.7 -11.3h0m-33.6 -3.3h0m6.3 -5.1h0m-21.9 -26.2h0m-8.9 40.1h0m20.5 -10.7h0m-16.7 -17.5h0m76.5 12.0h0m-17.6 -6.3h0m-27.6 33.6h0m-8.7 -9.9h0m-10.1 -23.4h0m57.9 -59.6h0m-52.6 53.6h0m3.1 42.8h0m-14.7 -39.4h0m24.2 18.4h0m-15.8 10.1h0m14.1 -35.7h0m69.4 -33.4h0m-97.4 52.5h0m14.6 -9.4h0m-19.8 -1.7h0m50.0 12.6h0m-29.7 -9.3h0m-19.1 -2.2h0m65.6 6.1h0m-35.6 -31.6h0m1.1 28.8h0m-19.5 11.8h0m6.5 -12.7h0m15.1 -10.5h0m1.3 19.0h0m43.3 -42.1h0m-64.4 48.6h0m15.8 -11.4h0m-23.3 12.3h0m19.1 5.5h0m60.6 -71.5h0m20.6 2.7h0m-87.0 39.9h0m32.2 18.3h0m-46.7 23.1h0m14.6 -32.5h0m6.7 -35.6h0m-4.6 62.0h0m-3.6 -35.9h0m53.7 0.4h0m-66.4 24.4h0m82.3 -35.2h0m-63.1 47.0h0m-7.5 -9.9h0m-32.1 -14.2h0m100.0 -30.7h0m-79.0 48.6h0m6.0 -27.2h0m57.7 -57.5h0m-37.9 51.8h0m27.4 22.0h0m-34.7 -22.3h0m1.1 35.6h0m-6.9 -12.0h0m82.6 -36.2h0m-25.7 11.0h0m-81.5 26.3h0m29.4 -28.1h0m-10.5 8.2h0m29.9 -35.2h0m1.9 51.2h0m-54.4 18.1h0m19.3 -36.6h0m-2.8 27.7h0m3.8 -4.8h0m10.8 -10.7h0m17.4 8.8h0m43.6 -42.3h0m-42.2 -6.9h0m-4.2 51.7h0m-4.1 -23.1h0m-3.9 28.4h0m8.4 -4.4h0m6.9 0.1h0m-14.5 -2.4h0m35.3 -10.5h0m-33.1 -31.3h0m-2.3 -3.4h0m63.2 9.8h0m-16.5 -38.0h0m-54.1 55.3h0m-4.1 37.9h0m2.4 -29.0h0m9.2 -30.8h0m67.8 7.6h0m-52.1 33.6h0m-18.8 -14.2h0m-2.2 7.8h0m4.2 -24.4h0m-7.7 21.2h0m61.2 -40.3h0m-5.8 1.6h0m-76.9 51.7h0m20.1 -50.8h0m-0.5 39.3h0m14.0 15.6h0m-21.6 -35.2h0m10.4 46.0h0m12.0 -71.4h0m-4.8 40.6h0m-30.7 15.1h0m19.7 -10.0h0m18.4 -41.5h0m-12.2 60.0h0m4.2 -2.7h0m-5.8 -33.1h0m-1.3 19.7h0m24.4 -6.3h0m-20.4 -6.0h0m-12.9 -4.0h0m30.2 22.7h0m-16.2 3.5h0m-8.7 0.3h0m-23.9 -1.6h0m0.1 14.0h0m85.5 -37.4h0m3.0 -12.4h0m-55.5 20.6h0m2.3 -8.3h0m-11.3 38.0h0m9.5 -35.2h0m-2.3 -20.2h0m1.8 21.1h0m-10.2 -21.5h0m-4.5 34.3h0m79.5 -39.3h0m-65.6 8.6h0m-19.9 21.3h0m-18.6 7.2h0m53.6 -47.7h0m26.9 33.1h0m-58.6 16.2h0m75.4 -18.7h0m-44.8 26.2h0m35.3 -74.8h0m-51.4 32.7h0m-2.2 13.1h0m0.8 1.0h0m-52.7 34.7h0m32.9 -25.8h0m18.8 -17.5h0m-42.7 22.5h0m37.9 -11.8h0m12.8 7.0h0m-35.2 21.1h0m24.3 -21.6h0m15.7 -48.2h0m36.8 34.9h0m-40.8 -7.2h0m51.7 -1.3h0m-64.9 6.9h0m4.8 34.4h0m35.3 -79.1h0m-57.9 78.4h0m26.8 2.1h0m-42.3 -5.4h0m99.8 -71.9h0m-69.3 88.8h0m17.0 -20.2h0m-51.8 -6.5h0m35.5 11.9h0m30.4 -72.7h0m-25.6 85.7h0m-28.7 -2.3h0m11.9 -26.1h0m31.6 -31.3h0m-31.1 33.3h0m28.0 -27.3h0m-19.0 28.9h0m-0.5 -11.8h0m30.6 -32.9h0m-58.1 47.9h0m75.8 -64.7h0m-35.0 43.1h0m4.9 -15.9h0m-39.5 38.5h0m27.2 -14.8h0m9.9 -28.0h0m-14.8 -8.0h0m44.2 45.5h0m-47.2 20.7h0m65.3 -36.7h0m-21.1 -44.1h0m-44.7 43.3h0m9.6 11.3h0m32.0 6.8h0m-34.0 -7.9h0m75.9 -62.8h0m-79.8 77.9h0m9.0 -14.3h0m62.2 -45.5h0m-91.9 57.9h0m15.5 -23.6h0m18.1 8.6h0m14.1 16.9h0m-37.7 0.7h0m69.5 -18.4h0m-29.6 32.5h0m26.7 -85.5h0m18.9 16.2h0m-57.9 5.3h0m-23.5 27.0h0m51.7 14.4h0m-63.8 -11.6h0m38.8 23.7h0m-3.7 -0.9h0m5.3 -3.6h0m53.2 -58.8h0m-76.7 37.5h0m65.4 -54.6h0m-73.2 70.2h0m22.3 -30.9h0m8.8 54.2h0m1.1 -20.4h0m-21.3 -25.3h0m-15.1 30.1h0m18.3 -21.6h0m58.9 -55.3h0m14.1 12.3h0m-3.2 -9.8h0m-5.2 14.4h0m-5.3 -16.6h0m3.9 6.1h0m-0.4 11.0h0m7.0 -6.6h0m4.7 -3.8h0m2.8 11.9h0m-11.8 -2.6h0m6.5 -4.8h0m-0.1 2.1h0m-1.3 1.4h0m6.4 -2.3h0m-17.1 -16.0h0m8.3 -3.6h0m0.2 19.0h0m-0.1 25.0h0m-9.6 -29.9h0m10.9 8.1h0m5.6 -2.7h0m-0.4 8.9h0m-11.1 -18.2h0m7.8 -5.3h0m8.3 0.5h0m-34.3 11.4h0m26.1 4.6h0m-4.0 11.0h0m1.0 -18.8h0m-0.5 -5.4h0m3.3 13.4h0m-2.6 -8.4h0m4.4 -4.9h0m3.7 17.9h0m-2.3 -10.1h0m6.7 17.9h0m-16.8 6.4h0m0.7 -9.5h0m2.8 -14.2h0m-14.6 -17.2h0m20.8 14.7h0m-2.8 3.4h0m-11.6 -8.4h0m10.1 -7.1h0m-3.9 2.8h0m-1.3 2.2h0m-11.4 -0.3h0m4.0 3.1h0m11.5 20.9h0m-2.7 -17.1h0m11.9 -9.3h0m-7.3 25.0h0m8.2 2.4h0m-1.1 -18.4h0m-6.2 3.3h0m-3.9 7.5h0m-0.9 -7.5h0m0.0 -10.3h0m3.6 13.7h0m-5.9 5.6h0m21.1 -9.8h0m-18.6 8.0h0m-2.9 -22.5h0m9.7 19.1h0m-7.4 -6.0h0m5.5 21.5h0m4.2 -19.6h0m-17.0 2.7h0m14.3 -4.9h0m-14.7 4.0h0m11.8 -2.6h0m-6.3 21.6h0m7.6 -4.9h0m10.2 -16.3h0m-12.6 12.7h0m-4.5 -16.4h0m2.5 -1.2h0m-8.9 7.9h0m7.1 -16.8h0m4.0 22.3h0m-14.7 -17.1h0m15.2 24.1h0m8.4 -25.5h0m-3.6 20.2h0m-7.3 -2.4h0m-1.9 10.6h0m4.3 -19.9h0m0.8 5.8h0m-21.1 -6.6h0m19.2 -17.3h0m11.3 70.8h0m24.9 -32.1h0m-15.3 19.9h0m-4.1 17.1h0m-5.7 -42.0h0m-7.9 48.0h0m47.7 -59.8h0m-13.7 7.6h0m-70.2 48.7h0m23.0 -19.3h0m20.9 -18.3h0m23.8 -22.7h0m-11.1 24.9h0m-10.3 12.9h0m-7.2 -19.4h0m20.2 6.3h0m-10.2 -21.7h0m4.6 48.0h0m20.7 -35.9h0m-2.7 -19.7h0m-15.8 13.8h0m-25.3 26.5h0m30.5 -18.8h0m3.4 17.6h0m22.8 -27.9h0m-34.4 11.0h0m8.4 -6.1h0m6.2 -0.7h0m-17.3 26.3h0m-11.8 -4.0h0m33.9 -1.9h0m-37.0 -10.6h0m-2.6 4.6h0m-0.2 24.9h0m62.9 -18.6h0m-23.5 -33.1h0m0.1 41.3h0m-5.3 -23.3h0m-9.3 -1.2h0m8.0 -15.9h0m-16.7 20.9h0m21.7 -15.9h0m-38.0 -8.4h0m26.9 46.2h0m-28.2 2.6h0m31.1 -8.1h0m-24.8 -0.9h0m25.0 -28.4h0m-22.8 -6.1h0m-12.1 31.5h0m47.0 -8.2h0m-49.3 43.5h0m31.1 -47.8h0m7.8 -4.9h0m-24.7 23.3h0m-0.5 5.5h0m22.8 -22.7h0m-32.8 41.0h0m18.6 -13.8h0m-3.3 -6.5h0m0.6 -13.9h0m6.8 7.5h0m13.7 6.5h0m-10.0 -10.6h0m-12.0 -4.1h0m12.3 8.3h0m15.6 11.4h0m-56.7 1.1h0m29.5 -40.7h0m3.4 28.3h0m24.8 5.9h0m25.0 -25.9h0m-50.1 -0.5h0m24.6 -1.4h0m-31.6 3.9h0m-1.3 -10.6h0m26.1 -3.2h0m-33.9 54.0h0m61.9 -55.4h0m-63.8 38.9h0m5.2 -50.9h0m11.3 59.9h0m-14.9 -14.7h0m32.8 -2.9h0m-41.1 6.3h0m22.9 -49.7h0m4.3 8.0h0m5.9 35.3h0m-5.0 23.2h0m34.7 -48.5h0m-28.0 26.1h0m-16.8 1.5h0m-5.7 9.6h0m14.7 -0.8h0m1.5 -12.8h0m-12.9 19.6h0m5.5 -36.4h0m32.3 31.4h0m-43.1 8.4h0m15.2 -27.8h0m11.5 -11.6h0m30.5 22.5h0m-29.6 -7.9h0m13.4 -0.8h0m-49.0 25.7h0m21.3 -40.4h0m-1.3 30.9h0m31.1 -27.0h0m-8.9 29.2h0m17.1 -37.4h0m-11.4 27.1h0m-26.3 -36.1h0m30.2 27.9h0m0.0 -1.7h0m-29.3 24.8h0m21.6 -31.7h0m-6.0 3.5h0m-29.3 30.6h0m7.5 -52.5h0m11.7 51.0h0m-4.5 -20.6h0m38.2 -8.0h0m-59.8 15.0h0m11.3 -11.7h0m9.8 -34.5h0m-5.1 39.0h0m-1.1 0.1h0m24.0 23.8h0m-2.1 -30.4h0m-28.9 8.7h0m17.9 2.6h0m-21.0 7.3h0m34.0 -19.3h0m3.2 -7.1h0m-36.9 1.5h0m-1.4 3.8h0m6.9 10.9h0m29.9 -2.0h0m-19.6 -5.9h0m3.5 -4.2h0m15.2 12.5h0m8.5 -25.4h0m6.8 18.3h0m-22.0 -0.2h0m-29.3 9.9h0m17.3 -3.1h0m10.7 1.8h0m0.9 -7.3h0m-18.3 37.5h0m-3.1 -41.7h0m-3.0 -3.2h0m28.0 31.8h0m-27.1 -33.2h0m9.5 16.3h0m49.4 -56.0h0m-45.8 26.0h0m25.8 24.9h0m-41.7 0.9h0m-1.4 15.4h0m29.4 -25.8h0m-17.4 -21.8h0m4.1 26.4h0m-1.3 9.7h0m-23.0 28.4h0m10.7 3.0h0m41.0 -71.2h0m-34.9 25.7h0m16.1 24.4h0m17.9 8.8h0m-12.4 -37.2h0m9.3 8.1h0m4.2 -23.3h0m-37.0 35.7h0m7.7 -18.9h0m-2.5 -1.8h0m32.8 19.2h0m-10.9 -20.2h0m-21.0 -28.1h0m-4.4 46.3h0m1.0 -19.7h0m17.3 -0.2h0m-8.0 18.2h0m28.5 -1.7h0m-37.2 5.4h0m37.8 -11.3h0m-25.7 -54.3h0m-14.0 75.7h0m54.6 6.9h0m-5.5 -37.4h0m-22.8 8.2h0m-38.0 31.7h0m27.5 -45.9h0m44.8 21.8h0m-59.4 -14.4h0m7.8 6.9h0m-22.1 44.6h0m43.1 -55.7h0m-22.7 38.0h0m12.5 -35.2h0m25.5 -23.4h0m-43.4 40.1h0m32.2 -21.1h0m-19.0 5.8h0m18.1 -18.6h0m-45.8 51.3h0m17.5 -2.9h0m10.3 -31.6h0m4.9 -9.5h0m19.5 6.1h0m-18.9 4.5h0m-41.5 29.5h0m19.5 -35.5h0m15.1 -18.1h0m11.9 38.0h0m19.9 -10.7h0m-75.7 35.4h0m35.4 -32.1h0m-16.5 5.5h0m4.2 25.5h0m43.7 -32.5h0m-49.8 13.6h0m8.5 -20.5h0m20.6 -2.6h0m12.8 -16.2h0m-7.5 19.5h0m17.0 14.6h0m12.9 -7.7h0m-39.9 12.2h0m-20.9 -6.9h0m37.6 23.3h0m-22.6 -13.7h0m-19.5 10.8h0m42.8 -5.1h0m-35.0 -21.7h0m15.0 -3.1h0m9.4 12.7h0m-20.5 -7.2h0m16.0 -2.5h0m8.8 19.7h0m0.2 17.2h0m-31.8 -7.1h0m4.8 -27.2h0m-13.9 24.8h0m50.0 -49.7h0m18.6 8.5h0m-23.0 18.9h0m10.8 10.9h0m-31.1 -20.8h0m-10.4 18.3h0m16.4 -21.5h0m4.2 -7.6h0m-11.7 22.6h0m39.7 -20.9h0m-40.6 -3.7h0m-11.2 5.8h0m26.7 33.2h0m-1.7 -17.5h0m43.6 -47.9h0m-77.2 73.7h0m36.1 -21.9h0m-9.7 5.1h0m0.9 7.6h0m4.4 -16.3h0m11.6 14.1h0m13.1 22.6h0m-55.7 -40.3h0m30.3 17.3h0m-21.8 1.3h0m3.4 -20.2h0m25.9 -2.5h0m-41.4 41.4h0m16.9 -23.4h0m30.7 1.2h0m-21.2 13.9h0m-8.9 -5.8h0m25.3 -25.5h0m-17.1 -9.9h0m28.5 5.0h0m-26.0 29.8h0m-14.1 -8.6h0m23.4 -34.8h0m-17.7 31.1h0m14.8 -3.1h0m-13.5 3.6h0m39.9 -27.7h0m-55.4 27.8h0m41.3 -13.3h0m-30.7 5.5h0m15.9 0.8h0m-3.3 18.1h0m-2.4 4.2h0m8.2 -39.6h0m15.9 22.2h0m-42.3 -11.0h0m-1.2 4.1h0m20.3 -30.4h0m-25.5 69.9h0m29.3 -51.7h0m35.4 12.9h0m-34.2 -19.6h0m-17.2 24.5h0m-11.2 16.7h0m64.5 -29.5h0m-58.8 39.7h0m-0.4 -22.5h0m28.0 -4.0h0m4.1 19.7h0m-19.2 -21.6h0m-8.8 6.1h0m18.4 -22.7h0m-12.5 33.0h0m26.5 -29.7h0m-42.2 26.9h0m45.7 -20.8h0m-16.1 6.9h0m-12.5 8.3h0m18.1 4.7h0m-28.7 -11.1h0m22.3 3.0h0m-6.2 -9.1h0m-2.9 -6.8h0m21.1 -22.6h0m15.3 35.9h0m-44.9 17.6h0m21.0 -6.5h0m-1.0 -14.2h0m19.4 -21.0h0m-76.6 57.8h0m57.9 -37.4h0m-25.6 28.7h0m20.9 -29.0h0m2.3 5.0h0m-17.1 -20.2h0m-8.1 14.2h0m25.7 3.6h0m10.6 -2.2h0m-16.6 9.1h0m-14.7 3.5h0m16.2 -12.8h0m-16.2 -20.4h0m-2.8 38.9h0m27.3 -57.2h0m0.9 27.8h0m1.4 8.4h0m-25.7 -21.3h0m8.0 57.7h0m19.1 -33.3h0m-9.0 30.5h0m-5.3 -39.4h0m22.1 25.0h0m-20.4 16.5h0m48.5 -55.6h0m-49.9 -3.6h0m-25.3 -35.5h0m34.9 -24.6h0m17.1 -45.6h0m-36.7 63.6h0m10.9 24.5h0m-12.2 -39.6h0m15.0 -31.2h0m24.3 55.8h0m-17.9 19.7h0m18.7 -59.3h0m-25.4 24.1h0m9.6 -1.8h0m13.3 -25.7h0m1.3 4.6h0m-46.1 15.6h0m14.6 -12.9h0m22.8 25.2h0m-40.3 -12.7h0m64.6 19.4h0m-50.8 -19.3h0m-5.5 23.2h0m-3.8 -0.1h0m33.8 -39.2h0m-27.8 24.6h0m-8.5 10.7h0m23.9 -37.9h0m10.1 -0.5h0m-0.5 2.6h0m24.4 31.8h0m-13.6 -45.3h0m-35.5 40.6h0m49.2 5.4h0m-62.3 -27.7h0m54.5 3.4h0m-18.5 23.5h0m0.9 6.5h0m32.3 -30.9h0m-52.6 -5.1h0m24.4 -11.0h0m15.4 14.0h0m-2.6 9.3h0m-61.6 -17.4h0m49.3 -22.2h0m8.2 76.2h0m-31.7 -57.7h0m30.6 9.7h0m-41.0 44.3h0m24.7 -61.3h0m-13.9 69.7h0m15.3 -25.6h0m-4.0 -19.3h0m-46.2 -15.2h0m55.1 4.2h0m8.7 7.5h0m-33.6 21.4h0m-14.7 -7.7h0m33.1 -12.7h0m-33.5 -14.5h0m9.4 -32.5h0m-2.2 98.2h0m-8.9 -23.4h0m-28.7 10.5h0m48.1 -3.2h0m-1.4 -60.2h0m42.4 39.0h0m-66.4 33.3h0m34.7 -25.4h0m-16.8 -34.5h0m27.9 55.7h0m-25.7 -1.0h0m19.3 -32.9h0m36.5 24.4h0m-36.1 -24.3h0m8.0 5.3h0m-0.9 18.4h0m14.2 12.6h0m-1.9 -53.3h0m-9.1 6.3h0m7.6 -10.4h0m-49.3 18.1h0m48.6 -5.7h0m-4.3 24.8h0m-20.3 27.3h0m20.1 -31.2h0m-9.1 -49.1h0m-6.5 44.8h0m-13.9 11.0h0m35.7 -22.8h0m-36.0 40.0h0m40.7 -47.1h0m-47.2 31.6h0m0.7 -28.7h0m43.9 -12.8h0m-4.9 2.1h0m-21.4 26.9h0m-5.7 26.6h0m30.2 -39.1h0m-64.5 35.3h0m48.7 -30.0h0m-6.5 -19.0h0m0.6 22.5h0m-19.2 10.9h0m19.8 -45.9h0m3.9 41.5h0m-0.9 -44.9h0m-20.0 85.3h0m14.1 -17.4h0m16.1 -8.5h0m8.6 -24.2h0m-24.2 -7.1h0m1.6 19.4h0m-27.9 19.2h0m50.1 -29.0h0m-56.0 21.9h0m3.3 9.0h0m50.2 -31.6h0m-23.8 -41.1h0m32.0 31.8h0m-19.3 11.6h0m-0.2 8.7h0m-17.7 2.8h0m20.8 -19.4h0m-28.5 12.4h0m61.7 -11.3h0m-7.3 -14.4h0m-38.2 64.5h0m14.7 -31.3h0m-43.0 7.6h0m16.1 3.9h0m-14.6 -9.8h0m35.9 -46.7h0m-10.7 27.9h0m39.9 -14.5h0m-32.6 -15.1h0m0.1 34.2h0m-21.7 22.9h0m34.1 -36.5h0m-21.4 21.2h0m35.9 -11.2h0m-7.2 5.0h0m-57.8 8.0h0m24.5 16.3h0m1.6 -32.8h0m24.4 0.5h0m-41.7 40.9h0m18.9 -26.9h0m-28.6 39.2h0m29.6 -34.2h0m11.2 -6.4h0m22.1 -2.0h0m-18.0 -21.9h0m6.3 -9.0h0m0.2 43.9h0m6.5 -40.6h0m-30.8 55.1h0m23.8 -61.6h0m42.0 15.4h0m-38.7 21.7h0m-33.4 8.1h0m42.6 -51.5h0m-40.5 9.9h0m-32.9 29.3h0m38.2 2.2h0m-14.4 4.2h0m28.5 -42.5h0m48.7 58.3h0m-58.1 -39.5h0m21.2 21.0h0m-41.7 -19.2h0" stroke="#ff0000" stroke-width="1.3" stroke-linecap="square" fill="none"/>
<rect x="774.4" y="858.6" width="276.4" height="278.4" fill="none" stroke="#000" stroke-width="1.5"/>
<line x1="899.5" y1="858.6" x2="899.5" y2="1137.0" stroke="#000" stroke-width="2.1"/>
<line x1="774.4" y1="1035.0" x2="1050.8" y2="1035.0" stroke="#000" stroke-width="2.1"/>
<text x="919.5" y="852.3" font-size="23.5" text-anchor="middle">sh-HMG20A</text>
<text x="780.9" y="880.9" font-size="15.8">0.22</text>
<text x="1047.1" y="880.9" font-size="15.8" text-anchor="end">2.58</text>
<text x="780.2" y="1126.4" font-size="15.8">85.8</text>
<text x="1047.1" y="1126.4" font-size="15.8" text-anchor="end">11.4</text>
<path d="M766.9 883.5H774.4M766.9 947.4H774.4M766.9 1012.6H774.4M766.9 1078.5H774.4M766.9 1107.2H774.4M766.9 1137.0H774.4M770.7 928.2H774.4M770.7 916.9H774.4M770.7 908.9H774.4M770.7 902.7H774.4M770.7 897.7H774.4M770.7 893.4H774.4M770.7 889.7H774.4M770.7 886.4H774.4M770.7 992.9H774.4M770.7 981.5H774.4M770.7 973.3H774.4M770.7 967.0H774.4M770.7 961.9H774.4M770.7 957.5H774.4M770.7 953.7H774.4M770.7 950.4H774.4M770.7 1058.7H774.4M770.7 1047.1H774.4M770.7 1038.8H774.4M770.7 1032.4H774.4M770.7 1027.2H774.4M770.7 1022.8H774.4M770.7 1018.9H774.4M770.7 1015.6H774.4M770.7 865.6H774.4M770.7 1084.5H774.4M770.7 1090.7H774.4M770.7 1096.9H774.4M770.7 1103.1H774.4M770.7 1109.3H774.4M770.7 1115.5H774.4M770.7 1121.6H774.4M770.7 1127.8H774.4M770.7 1134.0H774.4M792.1 1137V1144M831.9 1137V1144M898.0 1137V1144M961.0 1137V1144M1023.4 1137V1144M851.8 1137V1140.7M863.4 1137V1140.7M871.7 1137V1140.7M878.1 1137V1140.7M883.3 1137V1140.7M887.7 1137V1140.7M891.5 1137V1140.7M894.9 1137V1140.7M916.9 1137V1140.7M928.0 1137V1140.7M935.9 1137V1140.7M942.0 1137V1140.7M947.0 1137V1140.7M951.2 1137V1140.7M954.9 1137V1140.7M958.1 1137V1140.7M979.8 1137V1140.7M990.8 1137V1140.7M998.6 1137V1140.7M1004.6 1137V1140.7M1009.6 1137V1140.7M1013.8 1137V1140.7M1017.4 1137V1140.7M1020.6 1137V1140.7M1042.2 1137V1140.7M778.4 1137V1140.7M783.0 1137V1140.7M787.6 1137V1140.7M792.2 1137V1140.7M796.8 1137V1140.7M801.4 1137V1140.7M805.9 1137V1140.7M810.5 1137V1140.7M815.1 1137V1140.7M819.7 1137V1140.7M824.3 1137V1140.7M828.9 1137V1140.7" stroke="#000" stroke-width="1.3" fill="none"/>
<rect x="788.1" y="1137" width="9" height="6" fill="#000"/>
<rect x="768.4" y="1103.2" width="6" height="8" fill="#000"/>
<text x="759.6" y="883.5" font-size="15.3" text-anchor="middle" transform="rotate(-90 759.6 883.5)">10<tspan font-size="9.2" dy="-6.4">5</tspan></text>
<text x="759.6" y="947.4" font-size="15.3" text-anchor="middle" transform="rotate(-90 759.6 947.4)">10<tspan font-size="9.2" dy="-6.4">4</tspan></text>
<text x="759.6" y="1012.6" font-size="15.3" text-anchor="middle" transform="rotate(-90 759.6 1012.6)">10<tspan font-size="9.2" dy="-6.4">3</tspan></text>
<text x="759.6" y="1078.5" font-size="15.3" text-anchor="middle" transform="rotate(-90 759.6 1078.5)">10<tspan font-size="9.2" dy="-6.4">2</tspan></text>
<text x="759.6" y="1107.2" font-size="15.3" text-anchor="middle" transform="rotate(-90 759.6 1107.2)">0</text>
<text x="759.6" y="1137.0" font-size="15.3" text-anchor="middle" transform="rotate(-90 759.6 1137.0)">-10<tspan font-size="9.2" dy="-6.4">2</tspan></text>
<text x="792.1" y="1161.6" font-size="15.8" text-anchor="middle">0</text>
<text x="900.5" y="1161.6" font-size="15.3" text-anchor="middle">10<tspan font-size="9.2" dy="-6.4">3</tspan></text>
<text x="963.5" y="1161.6" font-size="15.3" text-anchor="middle">10<tspan font-size="9.2" dy="-6.4">4</tspan></text>
<text x="1025.9" y="1161.6" font-size="15.3" text-anchor="middle">10<tspan font-size="9.2" dy="-6.4">5</tspan></text>
<text x="824.4" y="1175.5" font-size="14.2">Comp-FITC-A::AnnexinV</text>
<text x="734.8" y="996.5" font-size="14.5" text-anchor="middle" transform="rotate(-90 734.8 996.5)">Comp-PE-A::PI</text>
<path d="M177 1468h3v1h-3zM156 1469h3v1h-3zM177 1469h2v1h-2zM156 1470h10v1h-10zM157 1471h13v1h-13zM189 1471h1v1h-1zM141 1472h3v1h-3zM148 1472h1v1h-1zM150 1472h2v1h-2zM157 1472h13v1h-13zM177 1472h5v1h-5zM189 1472h2v1h-2zM139 1473h6v1h-6zM146 1473h22v1h-22zM176 1473h5v1h-5zM189 1473h2v1h-2zM135 1474h33v1h-33zM172 1474h7v1h-7zM182 1474h7v1h-7zM135 1475h33v1h-33zM171 1475h8v1h-8zM182 1475h8v1h-8zM194 1475h2v1h-2zM135 1476h45v1h-45zM182 1476h8v1h-8zM193 1476h3v1h-3zM122 1477h2v1h-2zM127 1477h2v1h-2zM134 1477h47v1h-47zM182 1477h9v1h-9zM192 1477h4v1h-4zM120 1478h9v1h-9zM133 1478h48v1h-48zM182 1478h14v1h-14zM198 1478h1v1h-1zM117 1479h12v1h-12zM132 1479h58v1h-58zM116 1480h70v1h-70zM187 1480h1v1h-1zM116 1481h69v1h-69zM189 1481h2v1h-2zM116 1482h60v1h-60zM178 1482h6v1h-6zM190 1482h1v1h-1zM116 1483h6v1h-6zM123 1483h53v1h-53zM179 1483h5v1h-5zM193 1483h2v1h-2zM116 1484h60v1h-60zM179 1484h6v1h-6zM193 1484h2v1h-2zM115 1485h61v1h-61zM178 1485h10v1h-10zM194 1485h1v1h-1zM115 1486h70v1h-70zM187 1486h2v1h-2zM114 1487h67v1h-67zM110 1488h1v1h-1zM114 1488h61v1h-61zM178 1488h3v1h-3zM110 1489h64v1h-64zM179 1489h2v1h-2zM109 1490h66v1h-66zM180 1490h1v1h-1zM109 1491h67v1h-67zM109 1492h68v1h-68zM113 1493h57v1h-57zM171 1493h6v1h-6zM106 1494h2v1h-2zM113 1494h55v1h-55zM171 1494h5v1h-5zM106 1495h3v1h-3zM113 1495h54v1h-54zM172 1495h1v1h-1zM183 1495h1v1h-1zM105 1496h5v1h-5zM111 1496h8v1h-8zM121 1496h46v1h-46zM183 1496h2v1h-2zM104 1497h62v1h-62zM105 1498h59v1h-59zM105 1499h5v1h-5zM113 1499h47v1h-47zM104 1500h5v1h-5zM113 1500h45v1h-45zM104 1501h5v1h-5zM113 1501h40v1h-40zM103 1502h6v1h-6zM115 1502h37v1h-37zM107 1503h3v1h-3zM117 1503h7v1h-7zM126 1503h25v1h-25zM108 1504h3v1h-3zM117 1504h6v1h-6zM127 1504h1v1h-1zM130 1504h20v1h-20zM108 1505h3v1h-3zM118 1505h5v1h-5zM134 1505h3v1h-3zM138 1505h5v1h-5zM145 1505h2v1h-2zM120 1506h4v1h-4zM139 1506h2v1h-2zM121 1507h3v1h-3zM131 1508h1v1h-1z" fill="#ff0000"/>
<path d="M105.8 1493.7h0m74.6 -16.8h0m-17.2 29.5h0m-53.1 -4.7h0m77.9 -38.9h0m-20.9 4.9h0m-3.3 36.9h0m-19.9 -36.8h0m22.9 29.4h0m12.0 -4.3h0m-67.9 14.3h0m44.6 -35.1h0m-5.2 43.0h0m-17.2 0.5h0m-25.2 -23.0h0m51.4 -26.8h0m-49.3 12.3h0m8.7 29.6h0m55.1 12.5h0m-46.5 -11.2h0m-20.1 7.2h0m-4.4 -12.0h0m74.5 -10.0h0m-60.6 10.7h0m14.9 -33.0h0m5.6 -3.0h0m26.4 0.8h0m10.7 -4.4h0m-76.1 38.5h0m71.9 -3.3h0m-28.7 -33.4h0m-42.9 21.8h0m48.5 -17.3h0m1.9 33.8h0m-33.6 0.9h0m-9.3 -16.0h0m80.2 7.1h0m3.4 -12.4h0m-76.2 2.0h0m63.4 2.3h0m-31.1 19.3h0m-44.7 -6.3h0m-1.5 -9.1h0m56.8 -39.6h0m-53.1 39.5h0m67.0 2.8h0m5.1 -36.7h0m1.0 6.6h0m-19.6 39.4h0m16.0 -35.4h0m25.4 18.8h0m-24.3 -22.0h0m24.1 26.0h0m-43.1 8.4h0m-59.8 10.9h0m77.9 -42.3h0m-75.1 10.7h0m26.7 31.3h0m3.2 -40.7h0m-34.6 28.0h0m68.1 -32.7h0m1.8 41.8h0m18.1 -30.7h0m-20.5 -21.2h0m31.6 15.1h0m-92.3 26.1h0m30.1 -25.3h0m-31.1 30.5h0m59.3 5.6h0m27.6 -8.7h0m-90.2 13.3h0m77.0 -40.2h0m2.6 17.9h0m-1.3 -19.9h0m-66.7 36.3h0m42.1 3.5h0m-6.2 -4.5h0m19.6 1.3h0m-51.5 -4.5h0m78.5 -44.1h0m-76.0 20.7h0m-16.4 34.5h0m39.8 -6.7h0m27.1 2.0h0m18.7 -38.5h0m-45.6 -0.5h0m71.9 6.3h0m-92.4 32.7h0m38.1 -40.3h0m-39.3 8.7h0m69.1 -8.6h0m-84.0 27.9h0m57.9 7.9h0m27.6 -24.2h0m-88.9 17.7h0m72.5 -3.6h0m-56.0 -10.0h0m-3.2 8.6h0m66.2 -22.5h0m-25.0 -5.1h0m-2.2 41.8h0m-27.4 8.4h0m66.2 -43.4h0m-86.0 28.3h0m-2.6 -10.7h0m61.0 -22.0h0m-27.6 52.6h0m75.3 -42.5h0m-60.5 -14.4h0m19.0 34.5h0m-34.7 -26.1h0m-32.2 32.4h0m74.5 -35.6h0m5.3 -3.1h0m-75.9 15.4h0m72.9 -15.9h0m37.1 11.3h0m-70.1 -10.3h0m59.6 7.2h0m-41.3 26.7h0m-37.0 3.3h0m-8.6 0.9h0m67.8 -8.6h0m-1.5 -1.0h0m-53.9 -18.0h0m13.4 -4.7h0m-2.1 37.4h0m-44.9 -10.4h0m121.0 -12.6h0m-52.3 -22.6h0m7.2 2.2h0m13.7 -5.9h0m-14.4 -3.8h0m-40.5 19.3h0m59.9 5.0h0m-3.5 -11.1h0m-61.0 42.5h0m-13.9 -5.8h0m-7.8 -8.4h0m30.8 10.1h0m29.5 -41.6h0m-49.8 12.2h0m-7.8 10.1h0m38.7 17.9h0m31.9 -15.3h0m-14.3 -24.2h0m-43.4 51.4h0m97.9 -48.7h0m-114.7 35.4h0m-1.7 -4.8h0m10.1 -24.6h0m-5.5 27.8h0m57.6 3.2h0m-49.2 -26.0h0m36.0 -8.9h0m29.3 3.1h0m-71.7 18.8h0m73.1 -21.8h0m-81.5 14.9h0m54.3 -20.1h0m-36.3 9.8h0m43.4 23.2h0m21.2 -30.6h0m16.4 11.5h0m-66.7 -1.0h0m-22.7 8.2h0m8.2 19.7h0m30.6 -35.1h0m-30.8 39.9h0m66.2 -43.5h0m-82.9 19.7h0m41.1 25.0h0m-49.9 -16.8h0m32.8 -22.5h0m41.5 27.4h0m3.9 -33.2h0m-14.2 3.7h0m26.0 6.6h0m-10.6 16.0h0m-65.6 -14.2h0m26.8 25.3h0m-18.0 6.0h0m67.6 -38.7h0m-19.6 -8.1h0m-26.8 42.7h0m36.0 -49.1h0m-19.6 49.8h0m29.3 -32.6h0m-70.3 12.1h0m16.3 16.5h0m-35.6 15.5h0m11.7 -24.3h0m35.1 -29.8h0m-12.8 40.7h0m45.1 -10.3h0m-44.6 7.3h0m49.6 -30.2h0m-36.3 37.2h0m13.6 -6.8h0m-52.5 -4.9h0m0.4 14.6h0m13.7 -26.6h0m40.6 -17.3h0m-58.2 48.0h0m10.3 -5.9h0m0.9 -33.6h0m23.8 29.5h0m18.3 -35.5h0m-7.8 44.2h0m-23.0 -2.9h0m50.2 -50.7h0m-67.1 48.5h0m28.0 -50.6h0m-25.2 47.0h0m45.9 -35.8h0m-40.6 9.2h0m-5.3 26.5h0m24.8 -0.2h0m-18.2 -11.6h0m66.6 3.5h0m17.2 -16.2h0m-46.7 -18.1h0m13.5 42.2h0m-16.9 -39.1h0m27.6 28.5h0m-9.3 5.7h0m-57.8 -8.1h0m46.6 -23.5h0m-30.2 1.4h0m28.9 -2.7h0m29.8 -5.0h0m-17.3 3.8h0m-46.9 44.7h0m17.4 -6.2h0m-33.5 -13.0h0m54.7 -22.6h0m-36.1 0.7h0m-10.3 18.1h0m5.5 -5.4h0m13.4 28.1h0m31.4 -8.1h0m-16.3 5.0h0m-30.6 -25.1h0m39.1 -26.0h0m-37.2 59.0h0m-22.9 -13.1h0m46.5 9.4h0m28.7 -44.4h0m-40.2 40.1h0m14.8 -43.5h0m28.5 36.1h0m4.6 -30.2h0m1.5 -12.1h0m0.6 25.7h0m-63.7 29.8h0m-0.5 -7.1h0m-8.0 -10.7h0m91.0 -8.3h0m-100.8 -4.4h0m9.3 -14.2h0m50.9 -3.0h0m19.0 36.3h0m-1.2 -38.5h0m-63.5 8.9h0m56.2 29.3h0m-38.6 -40.1h0m37.3 0.3h0m-61.0 28.5h0m74.2 12.3h0m-19.7 -37.0h0m-7.7 0.4h0m-40.1 40.8h0m83.2 -21.1h0m-2.5 -17.3h0m-62.4 40.4h0m67.0 -47.7h0m-82.3 15.4h0m83.4 -10.7h0m-37.7 -9.3h0m-20.8 48.9h0m-19.7 -1.2h0m25.7 -34.2h0m-38.3 20.7h0m80.9 -4.3h0m-46.7 -18.6h0m68.1 13.3h0m-73.3 -7.9h0m48.0 -1.8h0m16.4 12.2h0m-95.3 1.3h0m78.7 -21.8h0m-69.3 36.5h0m42.0 -35.2h0m-13.1 41.4h0m36.7 -45.5h0m6.0 30.5h0m6.1 -12.5h0m-30.2 20.1h0m35.8 -15.1h0m8.5 -6.3h0m-13.9 -7.7h0m-75.3 8.2h0m43.8 28.6h0m-62.1 -12.3h0m13.6 14.0h0m45.0 -38.0h0m-38.4 34.3h0m-13.7 -7.5h0m33.6 10.0h0m51.3 -34.9h0m-35.8 -0.6h0m-50.4 12.9h0m56.5 16.3h0m32.9 -16.9h0m-55.7 -19.6h0m-33.9 30.0h0m82.9 -29.6h0m-26.3 35.6h0m4.4 4.0h0m-14.2 -33.6h0m-19.7 42.5h0m44.0 -47.4h0m-37.9 6.1h0m43.3 -11.2h0m-8.6 4.5h0m-45.2 5.2h0m25.6 34.0h0m-18.0 -32.3h0m7.3 34.1h0m43.8 -38.7h0m-71.6 43.5h0m32.4 -4.8h0m4.2 -39.3h0m-13.6 -0.4h0m33.1 28.0h0m42.0 -5.4h0m-65.4 -19.6h0m41.8 -4.9h0m15.7 11.4h0m-6.3 -9.8h0m-83.6 32.5h0m94.7 -24.7h0m-96.4 6.9h0m67.3 9.6h0m7.9 -33.7h0m-75.5 29.7h0m11.0 -9.9h0m72.7 4.6h0m-84.7 -3.9h0m80.3 -4.5h0m-55.3 1.9h0m58.6 19.7h0m-23.5 -31.2h0m-65.0 36.6h0m65.2 -35.3h0m19.1 -0.7h0m-11.6 24.4h0m-82.7 3.2h0m85.7 -1.1h0m-65.8 -5.6h0m56.8 18.9h0m18.6 -44.8h0m-26.7 42.0h0m-14.5 5.0h0m-10.1 0.5h0m-5.5 12.8h0m13.3 -51.9h0m19.6 -11.4h0m-67.9 43.3h0m5.3 5.5h0m82.2 -35.9h0m-40.6 -0.4h0m18.8 30.0h0m-17.7 7.2h0m-9.9 -33.1h0m17.8 30.1h0m35.6 -43.2h0m-11.5 37.5h0m-25.0 -27.1h0m-44.8 49.0h0m17.7 -14.8h0m47.6 -34.8h0m-59.2 34.9h0m52.8 -45.5h0m17.5 11.0h0m-60.3 3.9h0m-23.2 27.1h0m81.1 -33.4h0m-69.3 39.2h0m-0.7 -4.4h0m19.0 -31.5h0m-23.0 19.2h0m28.1 15.7h0m49.0 -14.6h0m-56.7 14.6h0m64.3 -43.1h0m4.5 -4.0h0m-65.4 19.5h0m44.8 -8.7h0m-64.8 18.6h0m95.1 -14.3h0m-100.3 16.3h0m-3.0 0.4h0m67.5 -23.8h0m-33.0 1.0h0m61.4 4.0h0m-33.8 25.6h0m-11.1 5.5h0m-39.7 9.6h0m70.2 -46.4h0m-11.4 -1.3h0m-72.6 48.5h0m45.1 -44.5h0m25.7 5.2h0m-37.2 33.4h0m59.2 -26.7h0m-64.2 29.4h0m86.0 -57.9h0m-63.0 52.1h0m12.8 -5.4h0m-56.1 10.6h0m77.7 -38.1h0m-26.6 -2.3h0m-1.2 32.6h0m-24.6 -34.5h0m-42.0 25.7h0m50.9 -26.6h0m-45.1 40.6h0m21.8 12.2h0m-21.6 -24.2h0m71.3 -25.6h0m-1.3 -3.0h0m-61.4 26.2h0m-4.0 32.0h0m49.8 -55.4h0m-30.4 39.1h0m14.5 10.9h0m14.5 -55.1h0m-21.5 43.1h0m25.8 -2.0h0m-24.5 -33.5h0m64.4 2.1h0m-99.7 28.5h0m49.6 9.7h0m49.1 -13.0h0m-93.6 -17.3h0m10.0 11.8h0m71.4 -47.9h0m-83.6 42.7h0m46.8 -22.3h0m51.5 11.4h0m-31.7 28.7h0m-21.9 1.6h0m36.1 -14.0h0m-69.9 21.7h0m63.9 -17.4h0m18.9 -22.9h0m-44.0 39.2h0m27.8 -55.2h0m-56.6 19.2h0m45.5 19.4h0m-20.6 -25.3h0m-11.8 40.7h0m-8.2 -55.7h0m-19.6 30.6h0m-0.7 3.7h0m20.2 -16.7h0m-16.2 15.4h0m75.2 8.4h0m-81.6 -22.3h0m-1.1 37.1h0m-7.7 -31.1h0m61.3 25.2h0m0.5 15.6h0m-53.3 -13.2h0m88.6 -20.9h0m-91.1 -13.8h0m34.7 -1.1h0m-20.8 33.9h0m7.3 -33.7h0m42.3 26.2h0m-28.4 -24.5h0m-0.9 36.2h0m0.5 -1.1h0m-1.8 -4.5h0m14.5 -46.6h0m36.6 50.0h0m4.1 -49.7h0m-8.3 49.1h0m12.0 -39.8h0m-64.9 50.7h0m34.7 -60.9h0m-33.3 49.6h0m63.0 -39.0h0m-95.4 3.7h0m25.5 35.1h0m23.9 -43.8h0m73.2 9.6h0m-88.5 29.4h0m-2.3 10.9h0m-12.6 -30.5h0m89.5 -5.6h0m-39.4 27.5h0m21.2 -15.5h0m-17.8 30.7h0m3.3 -25.6h0m4.3 -27.8h0m0.4 1.6h0m-39.0 -10.5h0m43.6 -3.8h0m-66.9 61.4h0m55.0 -55.4h0m-38.7 11.2h0m-27.9 18.0h0m73.0 -20.9h0m-54.6 41.2h0m-16.9 -12.0h0m35.7 18.4h0m10.9 -53.5h0m-17.0 59.8h0m-36.2 -28.6h0m38.9 14.2h0m-13.9 -38.7h0m-25.3 14.3h0m87.7 9.3h0m-61.2 -24.7h0m-8.3 40.6h0m-13.5 0.6h0m-10.0 -8.3h0m54.9 -36.7h0m-25.5 43.7h0m21.2 11.6h0m-42.2 -27.1h0m82.9 0.2h0m-37.9 -30.0h0m-8.8 3.5h0m-1.4 -2.4h0m-23.4 37.8h0m14.3 3.0h0m51.5 -39.6h0m-42.3 50.3h0m-3.8 -8.4h0m-21.0 6.3h0m1.9 -35.7h0m86.2 -1.3h0m-68.3 -4.6h0m57.0 -19.5h0m-29.0 52.5h0m-26.7 -34.4h0m106.7 2.6h0m-95.9 -11.8h0m33.3 50.1h0m-63.7 -49.7h0m28.6 46.7h0m42.7 -22.3h0m-6.4 9.5h0m-74.8 -7.9h0m11.0 -6.5h0m2.1 -7.4h0m-4.4 31.1h0m4.6 -40.0h0m-13.0 46.7h0m82.0 -14.0h0m-69.0 -18.2h0m51.9 20.8h0m-74.2 14.1h0m85.2 -12.3h0m-66.9 8.5h0m-8.5 -27.6h0m37.0 23.2h0m31.5 -8.7h0m13.5 -8.1h0m-84.4 19.2h0m96.0 -23.0h0m2.6 -4.5h0m-63.6 26.9h0m-27.5 -25.5h0m0.0 30.9h0m55.2 -54.7h0m-38.9 47.7h0m-19.4 -4.7h0m82.6 -33.6h0m-80.8 13.1h0m34.0 -10.3h0m7.4 -6.5h0m-46.4 21.1h0m31.1 36.0h0m-5.1 -60.0h0m73.6 -5.0h0m-24.1 43.6h0m29.1 -25.9h0m-22.4 12.4h0m-35.7 33.3h0m2.5 -52.1h0m-27.4 46.5h0m82.6 -18.2h0m-28.9 -32.4h0m-71.5 40.3h0m76.6 1.7h0m-68.6 -7.0h0m87.4 -32.4h0m-29.1 31.6h0m-45.5 -35.3h0m1.8 52.6h0m72.7 -29.9h0m-64.5 -20.0h0m46.3 21.6h0m-51.3 -18.2h0m57.9 22.4h0m-50.6 21.2h0m-0.7 -63.5h0m-40.2 49.2h0m-5.6 3.7h0m-1.4 -11.0h0m12.5 11.7h0m70.1 -38.5h0m-67.9 61.9h0m31.1 -62.7h0m-38.0 17.1h0m18.5 -9.9h0m-23.4 39.8h0m12.0 -24.9h0m1.3 3.2h0m-8.7 20.5h0m22.8 -40.7h0m-13.3 18.6h0m68.0 10.3h0m29.0 -14.5h0m-31.3 -13.5h0m-2.1 0.7h0m-6.8 46.7h0m26.0 -35.6h0m-39.3 -22.3h0m-9.7 52.3h0m17.4 -7.1h0m3.1 -5.2h0m32.7 -33.2h0m-34.7 35.9h0m25.7 -5.0h0m-28.5 -48.9h0m-66.2 39.3h0m77.4 -21.4h0m-65.3 54.8h0m9.9 -49.6h0m-12.1 26.7h0m115.6 -64.4h0m-79.2 83.3h0m24.3 -6.7h0m-2.4 -46.0h0m81.3 -1.9h0m-104.1 47.1h0m-16.2 -3.1h0m14.9 -42.1h0m-3.1 -2.9h0m0.3 47.6h0m-7.9 -36.1h0m7.8 45.6h0m21.2 -11.7h0m-61.3 -11.2h0m61.8 19.8h0m-29.7 -45.4h0m-9.1 12.8h0m-15.6 13.5h0m47.6 10.4h0m-37.1 -13.4h0m-3.0 21.2h0m-3.9 -19.7h0m90.2 -10.7h0m-83.1 8.8h0m61.2 -47.0h0m3.6 16.7h0m-80.0 45.0h0m86.0 -36.6h0m-83.5 32.7h0m32.1 -45.4h0m-4.6 49.3h0m50.4 -19.2h0m-66.0 18.0h0m27.7 -34.1h0m-12.9 3.2h0m59.9 -18.6h0m-69.9 52.1h0m15.6 1.9h0m41.4 -6.6h0m-37.6 10.3h0m-8.3 -2.1h0m1.4 -1.2h0m18.9 0.7h0m7.2 -50.9h0m-41.8 12.2h0m-10.4 5.5h0m68.6 15.8h0m-21.4 -34.6h0m-43.9 34.1h0m94.7 20.3h0m-22.3 -61.3h0m-17.9 49.9h0m17.3 -35.3h0m29.3 15.1h0m-64.9 -29.1h0m-40.8 22.5h0m84.7 -6.3h0m25.0 -0.9h0m-100.8 34.9h0m28.0 -38.6h0m-39.9 51.7h0m97.1 -51.1h0m-75.8 51.7h0m-3.2 -0.7h0m13.0 -6.7h0m54.7 -39.1h0m-35.1 -9.0h0m35.0 -10.3h0m-63.1 58.1h0m-17.3 -26.6h0m36.6 -21.9h0m10.9 56.5h0m-20.9 -54.6h0m13.1 43.7h0m-17.9 -31.3h0m84.6 -25.7h0m-1.9 2.4h0m-40.2 1.8h0m22.8 41.9h0m-7.7 -39.4h0m-36.9 5.0h0m-2.3 44.7h0m48.6 -17.3h0m-47.9 -21.2h0m20.7 -7.1h0m-36.0 12.8h0m32.9 -12.2h0m-14.4 47.5h0m-16.8 19.9h0m96.1 -33.5h0m-115.7 11.5h0m-11.0 -27.6h0m-5.8 39.4h0m24.7 6.7h0m0.4 -6.3h0m55.9 -47.1h0m-74.5 32.3h0m97.6 -37.8h0m-60.7 4.1h0m-6.4 -9.7h0m3.2 18.1h0m53.9 20.3h0m-81.9 -27.6h0m62.8 -4.5h0m-38.7 37.4h0m33.0 13.0h0m-64.0 -37.4h0m97.2 12.3h0m-15.0 5.0h0m-38.6 -36.9h0m65.3 8.2h0m-77.0 5.8h0m-13.1 32.4h0m5.2 6.0h0m4.8 -5.3h0m66.5 -17.1h0m-17.0 -26.1h0m-23.8 6.8h0m23.4 25.5h0m-55.5 -19.0h0m12.9 -0.8h0m69.7 -11.9h0m-64.1 46.4h0m14.5 -2.3h0m-10.1 -2.9h0m12.3 -40.9h0m-24.6 49.7h0m14.1 -52.5h0m-26.9 46.8h0m-18.0 -29.7h0m-0.8 23.3h0m17.8 5.1h0m59.7 -0.6h0m-21.4 8.7h0m-56.7 -38.2h0m76.8 -14.4h0m-71.4 33.5h0m88.2 -21.5h0m-97.5 26.7h0m87.6 -11.9h0m-13.7 -28.3h0m43.2 15.3h0m-116.8 34.7h0m15.6 -10.1h0m-13.5 -1.2h0m25.4 11.1h0m10.0 -2.6h0m3.9 3.9h0m23.3 -45.6h0m-54.1 24.8h0m26.3 -19.9h0m50.2 -16.7h0m-38.6 55.6h0m52.9 -44.1h0m-4.8 21.8h0m-28.8 15.8h0m-29.3 2.8h0m59.4 -9.2h0m-17.6 6.3h0m-31.7 2.8h0m7.5 -43.2h0m-25.1 45.9h0m2.4 -1.1h0m28.7 -3.2h0m-38.2 -31.0h0m-0.5 37.3h0m99.2 -17.4h0m-89.2 16.2h0m31.8 5.3h0m11.8 -16.3h0m-57.9 -12.6h0m-16.9 2.5h0m6.5 28.6h0m62.5 -57.1h0m13.4 44.8h0m11.0 -19.0h0m-90.8 14.3h0m50.2 -32.3h0m31.6 37.1h0m-62.6 -0.2h0m-6.3 -7.1h0m11.1 -30.9h0m-22.8 33.0h0m16.2 12.6h0m47.6 -46.3h0m-71.4 10.7h0m77.5 35.1h0m-34.2 -3.4h0m11.6 -1.1h0m10.2 -5.6h0m-7.0 4.2h0m7.1 -6.8h0m-32.4 -30.5h0m-32.2 30.2h0m10.9 -25.6h0m57.5 -15.4h0m-6.0 1.9h0m-31.0 56.4h0m10.4 -44.0h0m12.1 -4.5h0m-37.4 7.1h0m24.5 -3.4h0m35.9 23.4h0m-74.9 3.5h0m61.4 -38.9h0m-19.3 8.7h0m55.4 30.3h0m-10.8 1.8h0m-63.5 6.3h0m-7.6 -20.5h0m15.1 25.7h0m-32.8 -26.4h0m101.1 9.8h0m-42.5 11.9h0m47.3 -44.4h0m-93.2 46.4h0m82.7 -39.8h0m-96.3 28.6h0m11.1 -35.3h0m5.5 48.5h0m17.1 -50.3h0m19.0 6.1h0m-41.6 26.3h0m43.5 16.7h0m21.5 -10.1h0m-1.3 -34.9h0m-62.8 37.1h0m52.8 -47.6h0m-5.1 50.8h0m54.2 -30.3h0m-19.5 -5.4h0m-85.4 9.9h0m-8.8 34.8h0m-1.1 -3.6h0m74.5 -49.8h0m24.2 24.5h0m3.1 19.1h0m-39.8 -4.0h0m-27.5 -29.3h0m-28.6 29.7h0m13.5 -18.0h0m93.7 -37.5h0m-87.1 31.7h0m-16.1 -3.0h0m52.7 31.4h0m-57.1 -17.9h0m6.7 -8.2h0m75.7 -6.8h0m-13.8 -16.2h0m1.7 41.9h0m9.1 14.3h0m-32.5 3.5h0m26.5 -20.6h0m-49.3 35.5h0m80.6 -47.2h0m-55.1 25.6h0m-47.7 -10.8h0m8.3 -15.5h0m17.5 21.4h0m-2.0 -31.0h0m25.4 45.0h0m-27.3 -4.9h0m-14.0 -11.4h0m3.3 -19.1h0m61.6 -15.8h0m-68.3 18.3h0m10.5 17.9h0m-14.5 -8.8h0m85.8 -28.7h0m-82.3 34.8h0m77.4 -51.5h0m-66.8 28.0h0m19.5 -9.7h0m10.4 2.5h0m15.3 -14.3h0m-41.0 65.0h0m14.6 -45.5h0m45.0 -5.7h0m-39.1 -2.0h0m11.0 -8.3h0m11.7 0.6h0m-10.0 42.5h0m30.0 -36.7h0m-11.9 -17.5h0m-65.6 34.9h0m18.3 -23.7h0m-8.4 47.0h0m-1.4 7.9h0m46.0 -47.3h0m-50.9 17.9h0m23.5 26.0h0m-20.8 -25.7h0m85.4 -22.7h0m-42.0 4.5h0m-21.8 36.5h0m32.5 -3.6h0m-34.6 -35.7h0m85.9 -3.7h0m-30.5 -14.6h0m19.1 44.4h0m-48.5 32.3h0m-7.2 -18.1h0m19.4 -3.5h0m-12.3 -33.5h0m25.4 -7.7h0m-23.4 50.2h0m11.0 -42.7h0m16.0 25.4h0m-4.3 -27.2h0m-18.3 50.5h0m-41.2 13.8h0m45.2 -75.7h0m-66.6 44.4h0m114.7 -60.0h0m-91.6 73.3h0m-10.7 -16.9h0m0.2 -29.3h0m-2.2 13.7h0m43.3 -15.4h0m35.4 4.3h0m12.5 -9.6h0m-53.1 48.1h0m52.3 -23.2h0m-24.0 14.4h0m-71.9 6.3h0m43.1 -34.1h0m53.4 13.1h0m-60.7 -21.5h0m8.4 5.9h0m53.8 18.9h0m-103.6 -23.9h0m11.0 9.4h0m15.8 34.1h0m-25.7 -14.3h0m18.4 -17.8h0m71.2 -8.6h0m-74.8 -3.6h0m60.4 -3.7h0m51.9 -5.9h0m-130.0 55.2h0m136.5 -56.7h0m-135.6 18.6h0m10.1 39.2h0m4.6 -23.7h0m-18.9 32.4h0m91.7 -52.8h0m-86.8 58.1h0m141.8 -82.3h0m-36.5 33.0h0m-44.6 32.4h0m5.7 -43.7h0m0.8 39.0h0m-30.4 6.4h0m-32.0 4.8h0m63.2 -51.4h0m-72.9 42.9h0m11.7 11.3h0m4.3 3.4h0m1.7 -10.9h0m51.4 -39.5h0m-8.9 -1.4h0m28.5 49.6h0m4.3 -49.6h0m-35.0 -3.0h0m-46.6 16.8h0m55.2 -18.8h0m18.4 19.7h0m-48.7 -5.1h0m74.4 -16.9h0m4.3 2.8h0m-21.0 25.2h0m16.4 -22.6h0m-1.0 3.5h0m-13.8 18.0h0m5.1 -15.5h0m14.2 3.7h0m-8.9 16.8h0m-6.5 -17.6h0m14.0 2.3h0m-21.4 10.9h0m-9.1 7.4h0m24.2 -4.4h0m-22.1 -1.1h0m27.6 -12.6h0m-21.1 -3.9h0m5.4 -3.4h0m13.7 3.1h0m-2.8 8.2h0m-3.1 2.7h0m2.7 -25.6h0m-11.9 27.0h0m2.1 3.4h0m10.4 -3.4h0m-13.8 -21.1h0m-0.8 3.2h0m29.8 2.9h0m-15.8 -1.6h0m-1.1 8.9h0m-24.2 17.1h0m1.7 5.9h0m26.6 -37.1h0m-19.0 31.1h0m13.4 -23.6h0m-11.1 16.7h0m13.3 -16.7h0m-8.6 10.2h0m11.6 -4.3h0m-3.7 -5.3h0m-2.3 3.6h0m13.1 -8.5h0m-6.8 -11.9h0m-14.7 25.8h0m11.4 -1.3h0m5.1 -7.4h0m-16.5 14.6h0m11.4 -20.6h0m-13.2 17.9h0m19.5 -20.7h0m-9.5 9.9h0m-12.1 -10.4h0m6.1 11.0h0m9.5 -11.8h0m-18.1 29.1h0m12.3 -19.6h0m8.5 -2.2h0m-6.1 22.0h0m-2.4 -19.5h0m-3.3 13.8h0m11.6 -31.3h0m-17.3 27.3h0m-15.3 16.2h0m18.6 -17.0h0m-11.2 12.5h0m-1.2 2.9h0m14.4 -21.9h0m-7.1 32.6h0m15.3 -33.3h0m-21.0 37.7h0m18.0 -44.7h0m-9.5 17.1h0m4.9 -16.0h0m2.3 7.8h0m-0.2 22.4h0m5.7 -20.7h0m2.6 -6.3h0m-5.2 12.9h0m6.6 -7.2h0m-13.8 19.7h0m10.0 -35.9h0m-12.1 13.1h0m0.7 19.1h0m21.8 -17.2h0m-11.3 12.6h0m-2.5 -36.1h0m-6.3 14.6h0m8.4 13.6h0m-7.0 9.6h0m-11.3 5.1h0m31.8 -23.7h0m-11.0 2.5h0m-3.8 17.0h0m7.2 -40.6h0m-8.2 37.7h0m-4.6 1.9h0m19.8 -7.1h0m-4.7 -14.1h0m-8.4 2.6h0m6.8 8.3h0m-3.2 -16.1h0m5.5 9.5h0m0.5 4.2h0m-17.2 5.7h0m19.9 -24.5h0m-12.5 29.2h0m9.3 -24.4h0m-19.5 9.2h0m-3.2 15.1h0m-0.7 17.3h0m23.2 -29.9h0m-6.9 23.2h0m-2.5 -22.7h0m5.3 -15.7h0m-11.4 32.8h0m2.9 -7.1h0m-1.0 6.7h0m9.5 -19.4h0m-9.3 16.2h0m1.8 -15.2h0m4.6 4.4h0m-0.9 -12.9h0m-3.1 14.7h0m-18.1 12.6h0m9.9 -10.1h0m20.5 -19.3h0m-13.1 19.3h0m-5.7 8.8h0m-2.5 -20.5h0m9.8 12.5h0m-3.3 5.9h0m-0.3 -15.2h0m-10.2 16.1h0m3.1 -3.9h0m9.2 3.3h0m12.7 -19.0h0m-28.8 25.2h0m11.7 -16.1h0m23.5 -22.7h0m-8.6 13.4h0m-3.8 14.3h0m-7.1 -17.6h0m6.2 6.8h0m-22.8 21.7h0m30.7 -4.8h0m-26.1 -26.1h0m-3.8 19.5h0m21.4 -8.2h0m-16.1 11.8h0m16.3 -20.5h0m-4.3 -6.7h0m-0.6 35.3h0m3.1 -15.8h0m-5.9 8.4h0m-0.7 -6.9h0m-3.5 -17.1h0m9.5 10.3h0m2.4 0.6h0m-5.7 14.3h0m-13.5 5.3h0m21.4 -26.8h0m-19.8 23.1h0m13.6 -12.4h0m2.6 -7.2h0m0.7 17.1h0m-8.3 -22.0h0m21.5 7.1h0m-17.2 -9.7h0m17.3 3.1h0m-13.3 10.0h0m-12.1 18.7h0m9.0 -27.1h0m-7.7 0.6h0m2.2 2.7h0m10.4 -5.1h0m-14.5 14.5h0m7.3 -6.5h0m4.8 -11.5h0m-6.7 12.3h0m4.4 -11.8h0m7.2 -5.4h0m-8.8 24.6h0m0.5 -22.7h0m19.5 -46.7h0m-4.9 -2.6h0m-21.7 -17.8h0m15.8 8.3h0m-5.0 -42.1h0m79.3 68.3h0m-63.9 -32.2h0m-58.5 50.1h0m97.3 -48.6h0m-56.3 1.0h0m19.6 7.3h0m21.0 9.1h0m-0.6 -9.8h0m34.6 -5.8h0m-74.2 60.9h0m74.6 -70.4h0m-36.6 -19.7h0m-20.6 25.6h0m36.4 12.7h0m44.1 68.5h0m-54.5 -10.8h0m-82.9 -67.9h0m105.8 -4.3h0m-16.6 -7.5h0m-25.1 0.6h0m26.3 41.9h0m-69.8 -25.6h0m63.2 28.5h0m-71.2 -2.8h0m59.2 -12.9h0m-28.1 -23.1h0m13.5 -38.0h0m-39.2 85.5h0m62.7 -55.6h0m-44.1 30.0h0m11.4 10.4h0m4.9 -12.7h0m8.8 2.5h0m-20.4 13.3h0m-14.2 -38.7h0m70.4 -4.1h0m-47.5 -1.9h0m5.3 50.6h0m30.8 -35.9h0m-78.4 21.8h0m89.1 22.6h0m-40.1 -34.2h0m12.2 -14.0h0m24.9 5.3h0m-5.2 -8.5h0m-23.8 11.2h0m34.4 -40.4h0m-77.2 44.5h0m42.7 6.0h0m1.2 -0.6h0m18.8 -24.6h0m2.8 28.6h0m-13.0 -8.2h0m-1.5 3.0h0m-31.5 -28.8h0m8.5 -11.0h0m13.8 34.7h0m3.4 -20.6h0m36.9 5.0h0m-22.8 -12.5h0m-54.6 68.1h0m18.4 -28.0h0m3.3 -45.8h0m-29.5 11.7h0m26.6 17.9h0m-6.0 5.5h0m30.4 20.0h0m-2.8 -27.0h0m85.4 -29.6h0m-118.7 41.7h0m47.6 -5.9h0m-49.1 32.3h0m0.9 -11.9h0m57.2 -33.5h0m-72.3 12.4h0m86.1 9.2h0m-39.6 -6.0h0m-49.1 37.3h0m23.3 -29.6h0m-19.0 -3.5h0m71.7 17.6h0m-15.7 -27.1h0m0.9 22.8h0m-34.7 14.9h0m39.5 -57.7h0m66.8 7.6h0m-59.7 -3.5h0m-12.1 67.1h0m-10.0 -59.6h0m-8.4 -1.4h0m55.5 22.4h0m-43.7 -30.3h0m-19.6 30.7h0m15.8 -36.4h0m-19.5 27.1h0m57.3 -5.3h0m-14.0 -3.8h0m-17.3 51.9h0m27.9 -10.8h0m-46.3 -43.7h0m53.4 4.3h0m-24.9 -14.8h0m-32.4 23.2h0m24.4 28.3h0m5.1 -18.4h0" stroke="#ff0000" stroke-width="1.3" stroke-linecap="square" fill="none"/>
<rect x="88.5" y="1258.6" width="275.5" height="275.8" fill="none" stroke="#000" stroke-width="1.5"/>
<line x1="178.2" y1="1258.6" x2="178.2" y2="1534.4" stroke="#000" stroke-width="2.1"/>
<line x1="88.5" y1="1453.0" x2="364.0" y2="1453.0" stroke="#000" stroke-width="2.1"/>
<text x="235.7" y="1249.7" font-size="23.5" text-anchor="middle">Control</text>
<text x="100.8" y="1278.5" font-size="15.8">0.06</text>
<text x="360.3" y="1278.5" font-size="15.8" text-anchor="end">1.39</text>
<text x="92.3" y="1520.4" font-size="12.8" font-weight="normal" fill="#2a2a2a">93.3</text>
<text x="360.3" y="1523.8" font-size="15.8" text-anchor="end">5.26</text>
<path d="M81.0 1283.9H88.5M81.0 1347.0H88.5M81.0 1413.6H88.5M81.0 1477.0H88.5M81.0 1512.9H88.5M81.0 1534.4H88.5M84.8 1328.0H88.5M84.8 1316.9H88.5M84.8 1309.0H88.5M84.8 1302.9H88.5M84.8 1297.9H88.5M84.8 1293.7H88.5M84.8 1290.0H88.5M84.8 1286.8H88.5M84.8 1393.5H88.5M84.8 1381.8H88.5M84.8 1373.5H88.5M84.8 1367.0H88.5M84.8 1361.8H88.5M84.8 1357.3H88.5M84.8 1353.4H88.5M84.8 1350.0H88.5M84.8 1457.9H88.5M84.8 1446.8H88.5M84.8 1438.8H88.5M84.8 1432.7H88.5M84.8 1427.7H88.5M84.8 1423.4H88.5M84.8 1419.7H88.5M84.8 1416.5H88.5M84.8 1265.6H88.5M84.8 1483.0H88.5M84.8 1489.1H88.5M84.8 1495.1H88.5M84.8 1501.2H88.5M84.8 1507.2H88.5M84.8 1513.3H88.5M84.8 1519.3H88.5M84.8 1525.4H88.5M84.8 1531.4H88.5M113.0 1534.4V1541.4M145.0 1534.4V1541.4M210.5 1534.4V1541.4M273.9 1534.4V1541.4M336.7 1534.4V1541.4M164.7 1534.4V1538.1000000000001M176.3 1534.4V1538.1000000000001M184.5 1534.4V1538.1000000000001M190.8 1534.4V1538.1000000000001M196.0 1534.4V1538.1000000000001M200.4 1534.4V1538.1000000000001M204.2 1534.4V1538.1000000000001M207.5 1534.4V1538.1000000000001M229.6 1534.4V1538.1000000000001M240.8 1534.4V1538.1000000000001M248.7 1534.4V1538.1000000000001M254.8 1534.4V1538.1000000000001M259.9 1534.4V1538.1000000000001M264.1 1534.4V1538.1000000000001M267.8 1534.4V1538.1000000000001M271.0 1534.4V1538.1000000000001M292.8 1534.4V1538.1000000000001M303.9 1534.4V1538.1000000000001M311.7 1534.4V1538.1000000000001M317.8 1534.4V1538.1000000000001M322.8 1534.4V1538.1000000000001M327.0 1534.4V1538.1000000000001M330.6 1534.4V1538.1000000000001M333.9 1534.4V1538.1000000000001M355.6 1534.4V1538.1000000000001M92.5 1534.4V1538.1000000000001M97.0 1534.4V1538.1000000000001M101.5 1534.4V1538.1000000000001M106.0 1534.4V1538.1000000000001M110.5 1534.4V1538.1000000000001M115.0 1534.4V1538.1000000000001M119.5 1534.4V1538.1000000000001M124.0 1534.4V1538.1000000000001M128.5 1534.4V1538.1000000000001M133.0 1534.4V1538.1000000000001M137.5 1534.4V1538.1000000000001M142.0 1534.4V1538.1000000000001" stroke="#000" stroke-width="1.3" fill="none"/>
<rect x="109.0" y="1534.4" width="9" height="6" fill="#000"/>
<rect x="82.5" y="1491.8" width="6" height="8" fill="#000"/>
<text x="73.7" y="1283.9" font-size="15.3" text-anchor="middle" transform="rotate(-90 73.7 1283.9)">10<tspan font-size="9.2" dy="-6.4">5</tspan></text>
<text x="73.7" y="1347.0" font-size="15.3" text-anchor="middle" transform="rotate(-90 73.7 1347.0)">10<tspan font-size="9.2" dy="-6.4">4</tspan></text>
<text x="73.7" y="1413.6" font-size="15.3" text-anchor="middle" transform="rotate(-90 73.7 1413.6)">10<tspan font-size="9.2" dy="-6.4">3</tspan></text>
<text x="73.7" y="1477.0" font-size="15.3" text-anchor="middle" transform="rotate(-90 73.7 1477.0)">10<tspan font-size="9.2" dy="-6.4">2</tspan></text>
<text x="73.7" y="1512.9" font-size="15.3" text-anchor="middle" transform="rotate(-90 73.7 1512.9)">0</text>
<text x="73.7" y="1534.4" font-size="15.3" text-anchor="middle" transform="rotate(-90 73.7 1534.4)">-10<tspan font-size="9.2" dy="-6.4">2</tspan></text>
<text x="113.0" y="1559.0" font-size="15.8" text-anchor="middle">0</text>
<text x="213.0" y="1559.0" font-size="15.3" text-anchor="middle">10<tspan font-size="9.2" dy="-6.4">3</tspan></text>
<text x="276.4" y="1559.0" font-size="15.3" text-anchor="middle">10<tspan font-size="9.2" dy="-6.4">4</tspan></text>
<text x="339.2" y="1559.0" font-size="15.3" text-anchor="middle">10<tspan font-size="9.2" dy="-6.4">5</tspan></text>
<text x="133.5" y="1577.0" font-size="14.8">Comp-FITC-A::AnnexinV</text>
<text x="48.9" y="1395.2" font-size="14.5" text-anchor="middle" transform="rotate(-90 48.9 1395.2)">Comp-PE-A::PI</text>
<path d="M528 1470h1v1h-1zM482 1471h2v1h-2zM527 1471h3v1h-3zM479 1472h6v1h-6zM491 1472h1v1h-1zM498 1472h2v1h-2zM527 1472h4v1h-4zM537 1472h2v1h-2zM479 1473h7v1h-7zM490 1473h2v1h-2zM494 1473h1v1h-1zM497 1473h5v1h-5zM513 1473h3v1h-3zM527 1473h3v1h-3zM480 1474h6v1h-6zM489 1474h14v1h-14zM513 1474h4v1h-4zM527 1474h2v1h-2zM480 1475h29v1h-29zM513 1475h5v1h-5zM526 1475h3v1h-3zM477 1476h33v1h-33zM513 1476h5v1h-5zM520 1476h2v1h-2zM526 1476h3v1h-3zM476 1477h35v1h-35zM513 1477h5v1h-5zM519 1477h4v1h-4zM525 1477h4v1h-4zM474 1478h38v1h-38zM513 1478h5v1h-5zM520 1478h8v1h-8zM466 1479h1v1h-1zM472 1479h47v1h-47zM524 1479h3v1h-3zM471 1480h43v1h-43zM463 1481h2v1h-2zM467 1481h47v1h-47zM533 1481h2v1h-2zM457 1482h3v1h-3zM462 1482h52v1h-52zM533 1482h2v1h-2zM458 1483h54v1h-54zM515 1483h5v1h-5zM461 1484h51v1h-51zM514 1484h6v1h-6zM523 1484h2v1h-2zM461 1485h52v1h-52zM514 1485h7v1h-7zM524 1485h1v1h-1zM459 1486h55v1h-55zM515 1486h7v1h-7zM458 1487h64v1h-64zM458 1488h63v1h-63zM457 1489h63v1h-63zM456 1490h54v1h-54zM511 1490h8v1h-8zM449 1491h60v1h-60zM511 1491h8v1h-8zM449 1492h57v1h-57zM512 1492h1v1h-1zM515 1492h2v1h-2zM448 1493h4v1h-4zM453 1493h53v1h-53zM448 1494h2v1h-2zM453 1494h52v1h-52zM513 1494h1v1h-1zM448 1495h3v1h-3zM452 1495h54v1h-54zM509 1495h5v1h-5zM448 1496h59v1h-59zM511 1496h3v1h-3zM449 1497h59v1h-59zM511 1497h2v1h-2zM450 1498h58v1h-58zM450 1499h59v1h-59zM452 1500h57v1h-57zM452 1501h56v1h-56zM451 1502h54v1h-54zM450 1503h44v1h-44zM501 1503h1v1h-1zM449 1504h39v1h-39zM490 1504h3v1h-3zM447 1505h4v1h-4zM454 1505h34v1h-34zM490 1505h2v1h-2zM454 1506h34v1h-34zM455 1507h10v1h-10zM468 1507h13v1h-13zM483 1507h5v1h-5zM456 1508h2v1h-2zM461 1508h3v1h-3zM469 1508h11v1h-11zM483 1508h4v1h-4zM469 1509h10v1h-10zM486 1509h1v1h-1zM457 1510h1v1h-1zM474 1510h4v1h-4zM475 1511h1v1h-1z" fill="#ff0000"/>
<path d="M456.7 1509.2h0m67.0 -40.2h0m-51.8 7.7h0m-17.9 31.5h0m67.8 -36.0h0m-59.0 5.3h0m58.1 5.4h0m-15.8 -8.7h0m-62.9 36.7h0m42.5 -49.8h0m28.2 17.8h0m17.7 20.6h0m-73.0 21.4h0m-16.1 -29.3h0m26.3 17.1h0m19.9 -36.6h0m16.2 32.4h0m-16.2 -36.1h0m-54.9 31.3h0m74.9 -37.5h0m-63.4 45.2h0m66.3 -15.9h0m21.5 -16.2h0m-79.1 31.7h0m19.8 17.4h0m-6.3 -53.5h0m41.0 24.4h0m-3.4 -24.5h0m-1.9 3.0h0m14.2 6.6h0m13.4 -17.9h0m-61.2 14.9h0m-14.7 7.7h0m-1.7 1.9h0m49.0 21.6h0m25.0 -12.0h0m-45.7 12.7h0m-11.3 5.0h0m31.2 -52.3h0m30.5 17.1h0m-68.1 32.0h0m25.7 -4.9h0m42.9 -20.4h0m-5.4 -34.9h0m-22.6 75.6h0m-63.1 -20.9h0m7.2 -8.0h0m73.9 -4.0h0m-34.8 -24.4h0m38.4 31.6h0m-8.8 -7.3h0m-26.1 -22.4h0m24.0 23.4h0m-5.7 -25.1h0m10.8 -0.8h0m3.7 29.2h0m-10.8 -20.2h0m0.3 16.5h0m-11.1 -23.4h0m41.5 22.1h0m-84.4 18.5h0m30.4 -38.2h0m20.3 -2.9h0m1.7 22.6h0m-3.4 -19.1h0m15.9 8.0h0m-7.0 14.9h0m-1.9 -25.6h0m-6.0 30.1h0m7.3 -19.1h0m-59.2 7.0h0m50.7 18.0h0m-55.8 8.9h0m44.6 -43.8h0m16.2 27.9h0m-37.8 -25.9h0m7.1 45.6h0m31.4 -45.0h0m-30.1 -4.1h0m-36.4 44.5h0m40.6 -4.8h0m43.6 -18.9h0m-40.4 -21.5h0m-46.6 36.7h0m74.9 6.5h0m2.9 -7.4h0m-73.5 -1.5h0m-5.7 4.8h0m22.1 -34.4h0m55.3 4.2h0m-84.5 17.7h0m53.7 8.4h0m-53.2 -3.8h0m70.4 -36.0h0m13.8 37.3h0m-9.2 -28.5h0m-28.4 -3.9h0m-14.4 7.0h0m-14.6 29.4h0m3.5 -19.3h0m-24.0 23.5h0m20.0 2.8h0m16.8 -2.7h0m-2.1 -2.4h0m34.7 -0.3h0m8.8 -34.9h0m-32.3 -0.9h0m-32.7 0.7h0m14.5 35.4h0m60.1 -2.1h0m-73.3 -9.8h0m1.6 33.1h0m3.0 -34.4h0m39.4 18.2h0m-47.3 -7.5h0m59.9 5.1h0m18.8 -38.4h0m28.8 3.0h0m-60.7 38.4h0m-4.3 -3.3h0m-47.1 -4.4h0m81.7 -13.8h0m-40.5 19.9h0m8.8 4.4h0m-56.5 -15.3h0m51.5 18.9h0m-5.9 -48.1h0m0.2 3.5h0m46.7 7.5h0m-88.5 31.7h0m18.6 -26.8h0m35.5 -16.5h0m27.3 11.2h0m-7.0 19.5h0m-62.4 -10.4h0m0.2 -1.1h0m2.0 -13.2h0m23.5 -3.3h0m25.7 33.1h0m32.3 -25.6h0m-28.5 -19.5h0m4.5 12.2h0m6.1 9.0h0m-18.5 20.7h0m-30.3 9.2h0m-10.5 -39.4h0m72.5 10.5h0m-5.8 4.8h0m-66.4 -0.9h0m19.5 -15.6h0m-44.8 15.2h0m55.5 30.2h0m9.6 -11.4h0m-41.9 1.5h0m-8.6 -8.6h0m1.7 5.4h0m64.7 -35.5h0m-8.9 2.5h0m3.9 -6.8h0m-50.0 48.3h0m53.5 -16.9h0m6.1 11.7h0m-34.1 5.2h0m7.3 -3.8h0m27.1 -9.9h0m-82.9 -13.6h0m98.2 -13.9h0m-42.7 33.8h0m1.4 0.3h0m-15.7 -30.5h0m-20.5 3.7h0m67.7 16.9h0m-34.8 -22.1h0m-5.5 36.3h0m33.0 -13.3h0m-7.3 -29.1h0m-35.6 50.9h0m-20.5 -30.4h0m70.5 9.3h0m-36.2 -39.4h0m-11.2 54.7h0m22.7 -7.4h0m35.1 -25.0h0m-61.1 -3.0h0m-24.8 18.7h0m60.4 -24.3h0m-20.0 -2.8h0m-38.9 23.8h0m31.0 17.8h0m40.4 -31.1h0m-51.2 32.8h0m-28.6 -16.6h0m21.4 -14.2h0m-18.4 21.4h0m-1.7 -0.3h0m38.4 14.0h0m-30.6 -24.8h0m16.8 17.9h0m55.3 1.7h0m-41.7 0.3h0m21.3 -41.6h0m12.2 22.7h0m-67.2 1.0h0m47.9 -20.6h0m-35.7 49.7h0m24.2 -7.4h0m-18.1 -46.0h0m63.1 4.7h0m-55.0 0.8h0m-26.5 21.5h0m90.5 -7.0h0m-77.8 19.6h0m29.7 -1.7h0m-24.1 -30.9h0m56.8 3.4h0m-53.4 -4.1h0m67.2 7.2h0m-72.9 -8.9h0m8.8 37.5h0m24.7 -45.3h0m20.3 29.2h0m-40.9 -28.3h0m38.1 26.0h0m6.8 -24.9h0m-90.4 26.2h0m29.1 -18.1h0m39.7 27.2h0m8.6 -0.9h0m-0.5 -30.8h0m-14.8 -6.0h0m-20.2 46.3h0m-4.4 -32.3h0m48.5 11.8h0m-76.0 2.8h0m18.7 -12.3h0m-8.3 2.1h0m67.9 15.8h0m2.6 -18.1h0m-19.2 21.8h0m10.0 -37.6h0m21.4 20.6h0m-5.8 -11.3h0m-5.6 -0.1h0m-57.1 3.5h0m-25.9 26.6h0m18.7 -26.6h0m64.0 -0.5h0m6.8 7.3h0m-66.8 -11.3h0m0.2 4.8h0m34.1 29.2h0m-36.5 12.7h0m26.0 -51.4h0m-13.8 8.5h0m39.7 13.4h0m5.3 3.6h0m11.6 -10.2h0m-59.1 26.1h0m26.3 2.2h0m14.7 -21.1h0m-4.9 -20.3h0m5.1 -3.4h0m-11.4 39.0h0m-55.3 -10.0h0m33.0 -20.4h0m-29.7 29.3h0m63.6 -11.1h0m-26.0 -30.7h0m52.1 32.0h0m-100.7 -1.1h0m30.7 20.6h0m55.3 -15.7h0m-26.0 -30.2h0m-13.8 43.1h0m-36.6 -4.4h0m83.7 -27.2h0m-20.6 12.6h0m-51.2 -13.0h0m-17.2 23.1h0m69.2 -2.6h0m-8.1 -36.9h0m27.0 5.0h0m-35.4 40.0h0m31.5 -35.6h0m-53.5 5.5h0m23.7 -9.1h0m-22.6 1.8h0m12.0 47.4h0m24.1 -48.2h0m-7.6 -4.7h0m-2.7 37.2h0m-0.4 -36.0h0m16.5 29.7h0m34.9 -9.5h0m-39.3 17.1h0m0.5 -52.9h0m-52.0 57.5h0m-8.9 -29.5h0m74.1 -17.4h0m-17.0 40.1h0m23.3 -21.3h0m-43.4 26.8h0m9.7 -1.5h0m1.3 -0.6h0m15.8 -30.7h0m-4.6 16.8h0m-4.7 -21.1h0m-40.4 6.8h0m53.5 -13.7h0m-30.1 5.3h0m48.7 0.6h0m-36.5 -4.1h0m-2.9 2.2h0m28.7 -1.2h0m-8.2 26.6h0m-67.4 8.2h0m86.8 -8.7h0m-85.1 5.1h0m18.4 8.5h0m-17.5 -21.7h0m75.6 -5.2h0m-8.2 12.7h0m3.1 0.2h0m-73.1 1.5h0m43.7 15.0h0m-1.3 -40.6h0m-35.1 11.4h0m-9.0 14.6h0m11.7 -24.0h0m-20.8 16.2h0m83.4 3.3h0m-76.4 -15.4h0m31.0 -5.0h0m-7.3 3.6h0m56.0 16.8h0m-70.6 2.1h0m49.0 -35.4h0m40.7 11.0h0m-109.6 28.2h0m83.7 2.0h0m-63.7 -12.2h0m56.2 -12.6h0m-61.2 24.1h0m2.3 8.6h0m83.1 -19.8h0m-64.1 26.1h0m60.7 -21.6h0m-11.1 0.9h0m-73.0 24.2h0m66.2 -12.2h0m3.1 -21.7h0m-51.0 -8.7h0m65.7 3.7h0m-75.1 33.9h0m8.9 4.6h0m70.5 -44.7h0m-31.9 33.2h0m-45.6 -19.7h0m61.5 -16.0h0m-21.2 42.7h0m-40.2 -0.2h0m18.3 -0.7h0m34.6 -10.3h0m-3.0 -30.1h0m-17.7 -0.1h0m-13.5 40.9h0m58.0 -31.1h0m-83.4 9.7h0m66.3 -22.0h0m-12.1 -3.1h0m-34.3 13.7h0m44.0 23.9h0m17.9 -27.4h0m-24.8 -16.0h0m-17.4 7.7h0m23.4 -2.2h0m-82.5 46.9h0m19.2 -3.5h0m72.4 -26.8h0m-52.5 33.6h0m9.4 -4.5h0m32.4 -16.4h0m-40.2 16.4h0m49.3 -35.7h0m-29.2 -2.6h0m1.6 0.2h0m-26.7 43.9h0m-10.3 -8.3h0m49.2 -35.9h0m-40.9 45.8h0m-11.6 -35.4h0m69.7 14.0h0m-51.6 -20.8h0m37.8 33.4h0m-37.0 -31.7h0m37.1 15.1h0m13.4 -22.0h0m-89.4 28.8h0m42.0 -30.1h0m1.3 4.5h0m7.3 -11.8h0m4.1 11.3h0m7.4 33.3h0m-43.4 11.3h0m15.1 -38.5h0m-21.9 11.0h0m7.4 5.3h0m30.9 15.4h0m5.2 5.0h0m6.5 -4.6h0m-51.1 -22.9h0m51.6 15.4h0m18.2 -28.4h0m-2.8 18.6h0m-32.6 17.8h0m27.5 -37.3h0m-22.7 37.9h0m-3.1 0.8h0m25.9 -47.0h0m-45.5 49.1h0m33.2 -8.8h0m-33.0 3.8h0m-7.6 -3.8h0m21.7 -32.8h0m-32.2 32.6h0m-4.0 -13.4h0m13.7 -19.0h0m31.9 35.3h0m-49.6 -22.4h0m12.3 20.0h0m22.5 10.9h0m25.7 -2.0h0m-56.0 1.0h0m10.9 0.9h0m79.8 -20.1h0m-34.1 -25.2h0m-62.5 27.3h0m96.7 -15.2h0m-73.9 3.1h0m-0.2 20.8h0m51.1 -1.6h0m-66.0 -7.2h0m-5.9 -0.3h0m92.9 -5.8h0m-57.6 27.3h0m-19.3 -21.7h0m48.6 7.9h0m15.0 -44.8h0m19.9 -10.5h0m-56.7 17.4h0m-29.6 13.1h0m-17.3 16.9h0m92.5 -36.4h0m-74.9 52.6h0m31.2 -53.1h0m-41.1 2.7h0m80.2 33.8h0m-66.7 -24.2h0m84.8 2.8h0m-7.5 -7.9h0m-82.5 14.4h0m23.3 37.1h0m-25.5 -12.0h0m49.2 6.7h0m12.9 -6.2h0m12.6 -5.8h0m-15.0 3.1h0m20.2 -52.9h0m1.1 35.1h0m-36.3 -31.5h0m-27.6 56.7h0m78.8 -15.1h0m-78.9 10.2h0m47.7 -16.4h0m-57.6 -21.1h0m51.0 44.9h0m21.1 -35.5h0m-21.2 -14.1h0m-62.9 19.7h0m-2.1 34.6h0m65.2 -14.0h0m61.5 -34.3h0m-121.9 41.3h0m36.7 9.2h0m-37.1 -26.5h0m84.0 -13.6h0m-77.6 2.4h0m36.3 -25.3h0m25.4 69.2h0m-13.0 -59.1h0m7.8 -1.4h0m25.7 -11.8h0m-61.2 65.8h0m58.6 -56.1h0m1.4 -0.7h0m-79.2 11.0h0m41.2 -17.7h0m47.2 27.7h0m-74.1 23.5h0m50.6 -50.0h0m-83.0 29.9h0m108.7 -2.2h0m-86.8 0.4h0m45.9 -19.4h0m-2.4 39.8h0m-55.0 -19.4h0m-0.5 0.4h0m55.2 12.8h0m-7.4 6.2h0m-23.9 -1.3h0m-7.1 -32.5h0m19.0 37.7h0m-25.7 -6.7h0m-7.3 -23.4h0m94.5 8.3h0m-67.5 -15.6h0m-39.1 38.7h0m49.5 -42.7h0m18.3 -2.2h0m-14.4 41.6h0m-33.5 -25.9h0m72.4 9.7h0m-79.0 -12.7h0m20.2 -1.2h0m13.3 -5.3h0m-36.4 29.6h0m0.7 -19.1h0m-0.5 13.3h0m47.6 5.5h0m-46.7 8.4h0m-12.6 -8.8h0m43.1 14.4h0m46.0 -17.0h0m-71.3 -15.2h0m23.4 -7.7h0m19.2 -12.2h0m-53.0 53.6h0m37.3 -63.0h0m-39.5 49.7h0m75.2 -7.9h0m14.4 1.9h0m-24.1 -34.0h0m0.1 37.4h0m-25.9 21.6h0m-6.6 -50.9h0m-10.9 10.6h0m70.5 5.9h0m-33.7 -41.1h0m-1.7 63.6h0m-51.4 -3.4h0m-9.6 -16.4h0m99.3 14.9h0m-27.1 -45.9h0m-31.1 67.4h0m-13.1 -76.6h0m38.2 15.0h0m-30.0 41.3h0m-19.1 -27.0h0m-5.4 2.1h0m58.6 -20.2h0m-19.8 47.8h0m48.0 -36.3h0m-28.5 -15.9h0m-22.6 6.6h0m22.7 40.2h0m4.1 -40.6h0m7.2 -14.9h0m-69.8 49.0h0m30.6 -27.4h0m38.4 -2.2h0m-37.2 5.8h0m-25.7 38.1h0m81.6 -29.9h0m-59.3 36.3h0m-14.8 -53.4h0m63.6 32.2h0m-12.7 20.1h0m14.4 -29.6h0m-25.7 -25.5h0m-47.0 12.3h0m10.1 0.6h0m31.6 57.1h0m-56.8 -55.2h0m6.6 46.2h0m14.6 -16.0h0m-6.8 -30.7h0m43.6 30.6h0m61.6 -6.4h0m-103.1 8.3h0m33.9 -47.7h0m38.7 44.7h0m-9.4 -40.8h0m-16.8 65.6h0m-29.1 -64.0h0m26.5 3.0h0m-54.9 28.7h0m70.9 -30.8h0m-10.3 49.2h0m-10.3 -50.9h0m-61.0 9.1h0m11.3 23.3h0m30.9 -32.9h0m33.8 0.6h0m-7.0 34.7h0m-48.6 6.2h0m-6.0 -7.1h0m39.2 8.6h0m34.1 -4.6h0m11.3 -21.9h0m-46.1 25.9h0m38.8 -21.8h0m3.1 22.8h0m-29.4 -47.0h0m-7.3 43.4h0m-24.7 -44.2h0m51.3 16.5h0m-11.7 23.2h0m-73.1 1.8h0m35.7 11.7h0m35.7 -49.6h0m3.7 2.6h0m-1.7 54.7h0m-25.6 -8.1h0m14.6 -4.8h0m-24.1 -34.6h0m74.8 -19.4h0m-107.1 42.0h0m-1.7 21.2h0m19.2 -48.0h0m77.7 19.0h0m-45.7 -26.1h0m-48.7 23.5h0m86.7 -4.6h0m-36.3 -23.2h0m8.8 3.6h0m-46.8 22.7h0m-10.8 21.1h0m35.1 19.7h0m16.1 -65.6h0m-16.7 9.4h0m46.0 2.8h0m-64.9 43.1h0m46.1 13.4h0m3.0 -62.7h0m-21.1 38.4h0m-39.8 -15.9h0m11.6 -4.1h0m-15.7 13.0h0m-7.1 9.6h0m76.0 -56.6h0m-63.6 49.2h0m54.6 2.0h0m-31.6 -26.1h0m56.6 -22.3h0m-15.3 12.6h0m-61.5 29.9h0m65.0 -3.4h0m-56.4 21.7h0m91.3 -23.7h0m-109.0 5.8h0m2.3 -0.8h0m84.8 -39.3h0m-70.6 68.5h0m-15.9 -34.8h0m38.1 -25.6h0m-15.3 6.3h0m86.2 17.6h0m-98.7 -6.9h0m48.0 24.4h0m-62.5 -20.1h0m30.8 -18.7h0m-6.5 40.1h0m36.0 -38.7h0m14.0 -25.0h0m-35.0 66.0h0m-32.9 -12.5h0m52.8 20.0h0m-19.3 -6.3h0m74.8 -24.5h0m-85.5 21.2h0m18.6 -39.8h0m-33.3 29.5h0m7.2 24.9h0m-5.9 -16.4h0m75.2 -29.0h0m-68.9 6.2h0m-10.1 24.4h0m13.6 20.6h0m46.7 -66.1h0m-48.5 17.0h0m-23.3 39.9h0m28.8 -53.7h0m80.9 -14.2h0m-95.1 52.8h0m50.6 -40.4h0m-17.8 44.3h0m-38.6 -15.5h0m41.8 26.7h0m-24.0 -51.6h0m8.4 55.9h0m-25.5 -21.4h0m80.2 -0.3h0m-36.1 6.9h0m75.2 -29.4h0m-113.8 26.5h0m-13.2 -18.6h0m52.4 21.3h0m-29.6 1.5h0m44.8 -43.4h0m-49.4 -2.6h0m67.7 17.7h0m-75.7 22.2h0m24.8 6.2h0m38.4 -0.4h0m-0.1 -38.8h0m-12.1 31.4h0m-45.1 12.3h0m51.7 -51.1h0m45.2 22.0h0m-80.8 -11.0h0m-9.7 -5.4h0m-14.9 16.1h0m90.9 3.4h0m-54.0 -23.4h0m-5.4 8.2h0m34.2 19.0h0m-69.2 15.4h0m52.7 1.4h0m6.1 7.3h0m-25.7 -7.8h0m31.6 -7.8h0m-43.3 -36.6h0m-17.2 27.0h0m21.4 13.7h0m29.7 -36.4h0m-54.9 53.9h0m74.5 -22.0h0m-40.7 -28.1h0m17.3 37.2h0m-46.5 -31.3h0m19.5 32.2h0m65.8 -51.5h0m-1.8 20.1h0m-69.5 29.3h0m54.3 -11.3h0m-9.5 18.9h0m-62.6 -24.5h0m81.2 12.7h0m-13.9 2.6h0m-73.3 -27.5h0m53.9 -19.3h0m-39.3 52.5h0m13.1 -34.0h0m20.4 -12.1h0m-32.1 32.8h0m83.6 -13.4h0m-91.1 25.6h0m13.8 4.8h0m-24.8 -34.9h0m14.3 4.0h0m60.5 17.4h0m5.3 -32.8h0m-13.4 43.7h0m-50.4 -36.7h0m53.6 30.6h0m-4.6 14.9h0m-19.0 -58.4h0m19.3 43.3h0m-43.9 -33.0h0m54.4 -3.3h0m-18.5 -8.9h0m-54.9 41.9h0m8.8 -36.0h0m-9.6 37.0h0m41.6 6.7h0m52.6 -50.9h0m4.3 37.1h0m-79.1 -10.9h0m3.4 -3.0h0m-17.5 28.9h0m104.9 -47.2h0m-51.6 45.5h0m-0.4 -46.7h0m-45.7 21.5h0m78.6 12.9h0m-13.5 -43.5h0m19.9 58.2h0m-94.1 -13.4h0m12.0 -20.6h0m85.7 -19.5h0m-85.7 45.1h0m99.2 -8.3h0m-9.6 -22.2h0m-33.0 16.1h0m30.5 5.6h0m-23.4 -1.1h0m-71.8 8.1h0m-13.2 -3.1h0m51.4 -38.4h0m12.0 53.6h0m-24.8 -6.9h0m-12.3 -28.0h0m68.7 26.9h0m-70.2 -28.7h0m63.8 -9.0h0m-2.9 27.5h0m-48.7 -26.1h0m42.4 -16.4h0m8.9 15.9h0m-71.4 14.6h0m64.3 7.5h0m-29.1 15.0h0m-7.2 -47.4h0m-1.0 54.6h0m13.4 -52.6h0m24.6 -1.1h0m1.0 30.1h0m-71.5 0.8h0m5.1 13.8h0m-0.9 13.4h0m80.0 -34.8h0m-8.7 -26.1h0m-73.6 45.3h0m63.8 -37.1h0m-48.2 10.7h0m-11.5 -6.6h0m-17.0 12.2h0m8.6 -5.9h0m16.3 32.6h0m-20.3 9.8h0m32.3 -48.4h0m61.4 -3.8h0m-15.0 29.7h0m-59.7 -13.2h0m4.7 -25.4h0m13.7 11.4h0m-25.7 41.9h0m44.8 -49.5h0m-38.7 50.2h0m-0.1 -32.5h0m-3.9 24.3h0m37.7 -41.1h0m2.5 -3.8h0m4.1 45.1h0m10.6 -41.6h0m30.3 20.8h0m6.1 -8.2h0m-19.5 22.9h0m-84.7 5.0h0m28.2 -25.3h0m23.3 -11.3h0m-41.9 39.6h0m23.2 -33.1h0m50.9 15.9h0m-31.8 -20.8h0m21.4 40.3h0m9.5 -55.6h0m-67.4 32.9h0m74.9 -35.2h0m-82.1 -2.9h0m11.2 19.5h0m5.6 7.0h0m5.2 47.3h0m59.1 -41.6h0m-77.6 13.2h0m26.3 -20.0h0m39.0 -7.8h0m-62.6 29.0h0m74.5 2.2h0m-19.4 -39.3h0m-26.1 7.7h0m39.0 28.6h0m-9.0 12.0h0m-34.5 13.0h0m30.9 -47.5h0m5.6 -13.1h0m-40.5 49.6h0m3.6 -32.1h0m54.7 12.6h0m-79.2 -17.2h0m51.8 -11.5h0m-55.9 40.7h0m32.4 8.7h0m43.6 -48.8h0m-9.5 51.0h0m-51.6 7.5h0m-17.9 -19.1h0m87.7 -11.5h0m-74.6 19.3h0m45.2 -43.7h0m12.7 45.4h0m-34.2 -43.4h0m-32.3 14.2h0m3.3 -14.4h0m1.9 6.6h0m7.7 36.2h0m-14.2 -24.5h0m60.6 -30.9h0m18.1 49.4h0m-63.9 -20.3h0m14.6 28.7h0m65.5 -20.5h0m-103.3 -14.8h0m-3.9 10.4h0m62.7 16.6h0m-43.5 -4.6h0m94.8 -17.0h0m-85.8 26.6h0m-12.2 -5.7h0m0.7 -29.7h0m13.7 5.6h0m2.2 -6.1h0m2.3 36.4h0m13.6 3.1h0m0.2 -5.5h0m12.6 -41.4h0m42.7 -12.1h0m-42.6 7.6h0m18.2 11.1h0m4.7 19.4h0m-73.8 7.2h0m6.4 -26.2h0m16.5 -9.5h0m-15.1 20.9h0m13.5 -13.3h0m-3.8 13.0h0m-8.5 43.7h0m-12.7 -28.3h0m21.6 -27.4h0m-15.8 0.1h0m-16.1 50.3h0m15.4 -51.9h0m115.8 -1.0h0m-115.2 32.4h0m101.2 -29.6h0m-48.5 34.2h0m4.1 -37.7h0m-49.6 8.1h0m59.5 32.8h0m-26.5 -52.0h0m10.4 11.1h0m-10.0 -6.5h0m36.7 25.4h0m17.8 -11.6h0m-101.3 45.3h0m11.1 -19.2h0m69.3 -0.8h0m-75.8 -11.1h0m-5.5 34.8h0m51.8 -56.5h0m-32.9 21.0h0m27.0 35.5h0m-45.7 -31.8h0m92.1 -7.5h0m-30.5 23.2h0m-50.0 -2.7h0m21.3 8.7h0m-28.0 -0.9h0m92.8 -43.0h0m-18.4 -7.4h0m-72.5 27.9h0m28.1 27.5h0m31.1 -53.6h0m35.6 3.9h0m-13.7 -9.0h0m-75.8 26.9h0m-10.6 19.6h0m82.9 -2.4h0m-39.0 20.6h0m-30.1 -12.8h0m76.4 -28.5h0m7.5 4.8h0m-92.2 16.0h0m61.1 -42.8h0m-30.1 6.7h0m-29.2 28.9h0m4.1 13.9h0m58.3 -9.6h0m16.0 -9.7h0m11.1 -26.9h0m-5.9 20.5h0m-67.5 29.8h0m3.4 -7.6h0m69.8 -28.1h0m-89.3 21.9h0m16.5 -29.4h0m-8.4 14.2h0m43.4 20.6h0m19.0 -41.8h0m1.6 9.2h0m-12.4 30.0h0m21.3 14.2h0m-4.5 -37.8h0m14.4 20.4h0m-96.9 -5.5h0m49.0 -34.5h0m-36.6 20.7h0m34.8 35.1h0m2.3 -50.8h0m29.9 35.4h0m-10.5 -50.5h0m-66.4 28.8h0m83.9 -26.0h0m6.0 24.9h0m6.6 -2.6h0m-3.7 2.4h0m-1.7 -15.5h0m10.6 2.3h0m-19.1 7.1h0m7.6 -8.5h0m1.2 12.2h0m14.7 -7.9h0m-4.6 1.8h0m-13.5 4.3h0m-0.7 1.7h0m-3.2 -10.9h0m12.5 6.3h0m10.7 -8.5h0m-13.7 7.8h0m-2.8 -21.1h0m20.2 10.9h0m-21.2 2.0h0m-12.3 27.4h0m25.3 -23.0h0m-2.1 -5.6h0m-14.4 4.0h0m-8.9 7.8h0m26.3 -6.6h0m-11.6 5.8h0m3.8 3.7h0m4.5 -2.7h0m-9.4 14.8h0m-9.5 -9.4h0m26.9 -6.7h0m4.3 0.1h0m-32.8 6.4h0m9.8 13.3h0m3.3 -13.8h0m5.7 -26.2h0m2.5 3.3h0m-2.2 11.9h0m-22.7 6.2h0m26.8 -4.6h0m-8.4 3.3h0m-22.8 -2.0h0m10.5 12.9h0m12.1 -19.4h0m-9.4 5.0h0m7.8 9.9h0m-9.0 -7.2h0m0.3 7.7h0m-1.2 15.5h0m3.0 -33.8h0m5.4 -2.0h0m-19.8 20.5h0m8.7 -12.0h0m24.3 0.4h0m-14.6 16.0h0m7.1 -9.2h0m-16.8 -4.3h0m7.4 0.5h0m-7.0 -6.6h0m19.5 3.0h0m-11.4 19.0h0m-1.0 -16.1h0m-0.6 6.9h0m-0.2 -3.1h0m-5.2 -0.7h0m14.6 -12.2h0m-2.7 9.0h0m-4.6 6.7h0m9.2 -10.9h0m1.6 19.0h0m-1.9 -22.6h0m-0.5 11.3h0m-5.3 14.6h0m11.5 -34.7h0m3.5 2.0h0m-8.0 27.2h0m-7.2 -36.9h0m-3.1 38.8h0m5.6 -17.0h0m0.7 9.3h0m-11.4 -3.8h0m-6.9 7.6h0m30.0 -13.6h0m-27.6 4.2h0m13.7 -4.6h0m-4.8 23.0h0m4.1 -18.0h0m3.2 -21.5h0m-1.2 20.8h0m-7.4 7.2h0m-6.7 15.1h0m6.9 -12.9h0m17.5 -21.1h0m-13.8 7.5h0m0.4 10.2h0m-0.2 -4.2h0m11.5 4.4h0m-16.1 -9.1h0m1.9 -0.7h0m13.7 2.6h0m-6.6 -4.2h0m-15.0 25.0h0m18.2 -7.3h0m-16.8 -10.0h0m13.7 -3.3h0m-4.2 -5.1h0m0.7 7.0h0m2.3 13.0h0m-10.9 -19.9h0m-0.9 20.2h0m-0.3 8.0h0m8.3 -26.0h0m15.7 6.9h0m-26.5 7.8h0m-0.3 -1.2h0m11.0 -13.6h0m-9.5 17.6h0m0.4 7.9h0m5.6 -12.7h0m-9.5 8.8h0m12.0 -22.2h0m-5.5 0.7h0m11.3 10.4h0m-15.1 -5.3h0m8.4 -8.5h0m-1.3 11.6h0m10.4 6.8h0m4.3 0.0h0m-3.6 -11.7h0m-21.0 23.4h0m22.5 -24.0h0m-20.5 -1.5h0m17.1 2.1h0m-17.1 20.8h0m13.1 -11.7h0m-6.5 12.0h0m5.8 -8.8h0m-12.5 -8.3h0m-0.5 4.0h0m21.6 -14.7h0m-18.9 21.9h0m3.2 -20.2h0m14.0 10.8h0m-13.4 11.8h0m9.2 -8.3h0m3.5 -0.1h0m-10.2 -9.0h0m2.2 15.9h0m13.6 -0.5h0m-6.1 -18.9h0m-32.2 4.0h0m34.7 13.0h0m2.5 -19.9h0m-5.4 -3.9h0m-14.8 14.1h0m18.7 2.1h0m-6.0 -11.3h0m0.9 -5.6h0m-3.4 1.1h0m0.4 21.5h0m-4.7 -2.1h0m-19.3 -6.0h0m80.0 -34.8h0m-30.4 -30.5h0m-37.3 9.2h0m51.1 -10.0h0m-38.9 0.9h0m31.3 30.8h0m-34.4 -6.7h0m32.8 -23.2h0m20.9 -4.2h0m-19.4 6.2h0m9.5 -25.0h0m-34.4 15.7h0m17.3 4.7h0m28.2 16.2h0m-23.1 3.9h0m24.8 -28.5h0m-28.4 -27.5h0m71.9 43.9h0m-98.5 -1.5h0m30.7 32.7h0m-0.5 -16.3h0m25.3 -27.7h0m-43.6 3.9h0m16.6 -13.1h0m66.4 -13.0h0m-80.0 69.5h0m-12.5 -34.3h0m48.7 -28.2h0m-44.3 23.2h0m22.4 17.2h0m16.4 3.5h0m-22.1 -28.6h0m-19.6 9.5h0m8.9 36.0h0m-8.1 -30.5h0m-4.2 20.0h0m15.2 9.3h0m7.7 -33.9h0m-30.8 10.5h0m31.7 1.6h0m-31.8 2.5h0m75.1 -59.5h0m-46.2 34.3h0m15.8 21.6h0m-64.7 -2.2h0m124.2 -39.3h0m-51.1 29.1h0m-20.1 -3.9h0m48.5 -17.1h0m-69.0 40.3h0m18.1 -31.2h0m-15.2 9.4h0m-14.9 3.3h0m32.6 16.6h0m39.0 7.5h0m-54.3 -34.4h0m12.4 17.6h0m-1.5 -24.7h0m32.1 4.6h0m13.4 6.3h0" stroke="#ff0000" stroke-width="1.3" stroke-linecap="square" fill="none"/>
<rect x="426.4" y="1257.5" width="279.6" height="280.5" fill="none" stroke="#000" stroke-width="1.5"/>
<line x1="517.0" y1="1257.5" x2="517.0" y2="1538.0" stroke="#000" stroke-width="2.1"/>
<line x1="426.4" y1="1455.0" x2="706.0" y2="1455.0" stroke="#000" stroke-width="2.1"/>
<text x="588.5" y="1249.5" font-size="23.5" text-anchor="middle">sh-NC</text>
<text x="438.3" y="1273.2" font-size="15.8">0.01</text>
<text x="702.3" y="1273.2" font-size="15.8" text-anchor="end">0.84</text>
<text x="430.2" y="1524.0" font-size="12.8" font-weight="normal" fill="#2a2a2a">95.1</text>
<text x="702.3" y="1527.4" font-size="15.8" text-anchor="end">4.05</text>
<path d="M418.9 1283.2H426.4M418.9 1347.4H426.4M418.9 1415.1H426.4M418.9 1479.7H426.4M418.9 1516.1H426.4M418.9 1538.0H426.4M422.7 1328.1H426.4M422.7 1316.8H426.4M422.7 1308.8H426.4M422.7 1302.5H426.4M422.7 1297.5H426.4M422.7 1293.2H426.4M422.7 1289.4H426.4M422.7 1286.2H426.4M422.7 1394.7H426.4M422.7 1382.8H426.4M422.7 1374.4H426.4M422.7 1367.8H426.4M422.7 1362.4H426.4M422.7 1357.9H426.4M422.7 1354.0H426.4M422.7 1350.5H426.4M422.7 1460.2H426.4M422.7 1448.9H426.4M422.7 1440.8H426.4M422.7 1434.6H426.4M422.7 1429.5H426.4M422.7 1425.1H426.4M422.7 1421.4H426.4M422.7 1418.1H426.4M422.7 1264.5H426.4M422.7 1485.7H426.4M422.7 1491.8H426.4M422.7 1498.0H426.4M422.7 1504.2H426.4M422.7 1510.3H426.4M422.7 1516.5H426.4M422.7 1522.7H426.4M422.7 1528.8H426.4M422.7 1535.0H426.4M451.3 1538V1545M483.7 1538V1545M550.3 1538V1545M614.6 1538V1545M678.3 1538V1545M503.7 1538V1541.7M515.5 1538V1541.7M523.8 1538V1541.7M530.2 1538V1541.7M535.5 1538V1541.7M540.0 1538V1541.7M543.8 1538V1541.7M547.2 1538V1541.7M569.6 1538V1541.7M580.9 1538V1541.7M589.0 1538V1541.7M595.2 1538V1541.7M600.3 1538V1541.7M604.6 1538V1541.7M608.3 1538V1541.7M611.6 1538V1541.7M633.8 1538V1541.7M645.0 1538V1541.7M653.0 1538V1541.7M659.1 1538V1541.7M664.2 1538V1541.7M668.4 1538V1541.7M672.1 1538V1541.7M675.4 1538V1541.7M697.5 1538V1541.7M430.4 1538V1541.7M435.0 1538V1541.7M439.5 1538V1541.7M444.1 1538V1541.7M448.7 1538V1541.7M453.3 1538V1541.7M457.8 1538V1541.7M462.4 1538V1541.7M467.0 1538V1541.7M471.6 1538V1541.7M476.1 1538V1541.7M480.7 1538V1541.7" stroke="#000" stroke-width="1.3" fill="none"/>
<rect x="447.3" y="1538" width="9" height="6" fill="#000"/>
<rect x="420.4" y="1494.7" width="6" height="8" fill="#000"/>
<text x="411.6" y="1283.2" font-size="15.3" text-anchor="middle" transform="rotate(-90 411.6 1283.2)">10<tspan font-size="9.2" dy="-6.4">5</tspan></text>
<text x="411.6" y="1347.4" font-size="15.3" text-anchor="middle" transform="rotate(-90 411.6 1347.4)">10<tspan font-size="9.2" dy="-6.4">4</tspan></text>
<text x="411.6" y="1415.1" font-size="15.3" text-anchor="middle" transform="rotate(-90 411.6 1415.1)">10<tspan font-size="9.2" dy="-6.4">3</tspan></text>
<text x="411.6" y="1479.7" font-size="15.3" text-anchor="middle" transform="rotate(-90 411.6 1479.7)">10<tspan font-size="9.2" dy="-6.4">2</tspan></text>
<text x="411.6" y="1516.1" font-size="15.3" text-anchor="middle" transform="rotate(-90 411.6 1516.1)">0</text>
<text x="411.6" y="1538.0" font-size="15.3" text-anchor="middle" transform="rotate(-90 411.6 1538.0)">-10<tspan font-size="9.2" dy="-6.4">2</tspan></text>
<text x="451.3" y="1562.6" font-size="15.8" text-anchor="middle">0</text>
<text x="552.8" y="1562.6" font-size="15.3" text-anchor="middle">10<tspan font-size="9.2" dy="-6.4">3</tspan></text>
<text x="617.1" y="1562.6" font-size="15.3" text-anchor="middle">10<tspan font-size="9.2" dy="-6.4">4</tspan></text>
<text x="680.8" y="1562.6" font-size="15.3" text-anchor="middle">10<tspan font-size="9.2" dy="-6.4">5</tspan></text>
<text x="471.4" y="1580.6" font-size="14.8">Comp-FITC-A::AnnexinV</text>
<text x="386.8" y="1396.5" font-size="14.5" text-anchor="middle" transform="rotate(-90 386.8 1396.5)">Comp-PE-A::PI</text>
<path d="M855 1470h1v1h-1zM880 1470h1v1h-1zM851 1471h6v1h-6zM867 1471h1v1h-1zM872 1471h3v1h-3zM879 1471h2v1h-2zM851 1472h7v1h-7zM865 1472h11v1h-11zM879 1472h2v1h-2zM883 1472h1v1h-1zM839 1473h1v1h-1zM848 1473h1v1h-1zM853 1473h5v1h-5zM860 1473h16v1h-16zM878 1473h3v1h-3zM831 1474h5v1h-5zM838 1474h3v1h-3zM844 1474h14v1h-14zM860 1474h16v1h-16zM878 1474h2v1h-2zM823 1475h2v1h-2zM826 1475h2v1h-2zM830 1475h27v1h-27zM860 1475h16v1h-16zM822 1476h28v1h-28zM853 1476h8v1h-8zM863 1476h12v1h-12zM818 1477h32v1h-32zM852 1477h8v1h-8zM863 1477h4v1h-4zM869 1477h6v1h-6zM880 1477h1v1h-1zM818 1478h42v1h-42zM862 1478h5v1h-5zM870 1478h5v1h-5zM877 1478h5v1h-5zM816 1479h58v1h-58zM877 1479h6v1h-6zM815 1480h51v1h-51zM867 1480h7v1h-7zM877 1480h7v1h-7zM816 1481h50v1h-50zM867 1481h6v1h-6zM876 1481h8v1h-8zM809 1482h2v1h-2zM816 1482h57v1h-57zM876 1482h5v1h-5zM816 1483h57v1h-57zM876 1483h5v1h-5zM815 1484h57v1h-57zM876 1484h6v1h-6zM810 1485h2v1h-2zM815 1485h57v1h-57zM876 1485h7v1h-7zM810 1486h61v1h-61zM882 1486h1v1h-1zM811 1487h60v1h-60zM804 1488h1v1h-1zM809 1488h55v1h-55zM803 1489h3v1h-3zM809 1489h48v1h-48zM858 1489h4v1h-4zM803 1490h3v1h-3zM809 1490h53v1h-53zM873 1490h1v1h-1zM797 1491h2v1h-2zM804 1491h1v1h-1zM809 1491h55v1h-55zM798 1492h1v1h-1zM804 1492h2v1h-2zM809 1492h56v1h-56zM798 1493h2v1h-2zM803 1493h63v1h-63zM798 1494h68v1h-68zM798 1495h67v1h-67zM798 1496h61v1h-61zM799 1497h59v1h-59zM800 1498h45v1h-45zM850 1498h7v1h-7zM800 1499h45v1h-45zM850 1499h4v1h-4zM791 1500h1v1h-1zM800 1500h46v1h-46zM850 1500h2v1h-2zM857 1500h1v1h-1zM791 1501h2v1h-2zM795 1501h2v1h-2zM803 1501h48v1h-48zM791 1502h6v1h-6zM803 1502h48v1h-48zM791 1503h6v1h-6zM801 1503h40v1h-40zM845 1503h6v1h-6zM790 1504h6v1h-6zM800 1504h41v1h-41zM847 1504h4v1h-4zM792 1505h3v1h-3zM799 1505h13v1h-13zM813 1505h29v1h-29zM848 1505h2v1h-2zM798 1506h43v1h-43zM798 1507h6v1h-6zM806 1507h23v1h-23zM831 1507h7v1h-7zM798 1508h6v1h-6zM807 1508h21v1h-21zM832 1508h6v1h-6zM799 1509h5v1h-5zM807 1509h21v1h-21zM832 1509h5v1h-5zM800 1510h4v1h-4zM807 1510h20v1h-20zM832 1510h4v1h-4zM800 1511h4v1h-4zM809 1511h5v1h-5zM815 1511h7v1h-7zM800 1512h3v1h-3zM810 1512h3v1h-3zM799 1513h3v1h-3zM799 1514h2v1h-2z" fill="#ff0000"/>
<path d="M780.8 1500.4h0m1.4 -8.5h0m54.7 -25.3h0m21.4 0.7h0m-16.2 36.1h0m-35.2 6.1h0m1.5 -32.9h0m81.2 -7.6h0m-83.1 16.9h0m-13.7 2.8h0m86.7 2.9h0m-65.0 30.5h0m-29.7 -34.6h0m55.2 21.2h0m12.7 -35.6h0m-54.6 0.1h0m0.1 11.6h0m-5.3 3.8h0m4.1 17.0h0m18.0 -24.2h0m64.9 -3.7h0m-54.4 33.8h0m-43.3 10.5h0m78.9 -54.4h0m-67.5 15.3h0m33.6 45.3h0m53.3 -25.8h0m-30.9 8.9h0m-20.1 4.2h0m19.6 -16.8h0m20.4 -1.8h0m-28.4 21.5h0m20.8 -20.0h0m-48.5 23.5h0m-15.5 -36.5h0m86.5 -16.7h0m-15.3 21.1h0m-34.8 -16.5h0m-37.4 11.4h0m-5.0 22.0h0m37.1 10.1h0m14.7 -48.8h0m15.9 6.8h0m-30.8 35.4h0m41.0 -41.9h0m-74.1 45.7h0m66.7 -17.8h0m-4.6 -28.9h0m26.3 12.8h0m-61.6 -13.3h0m-7.2 53.0h0m-20.7 -0.8h0m48.1 -55.6h0m16.6 39.1h0m-22.2 7.4h0m-23.7 9.8h0m61.6 -33.3h0m-55.9 34.7h0m-37.1 1.3h0m23.1 -51.8h0m82.5 9.7h0m-24.4 -10.4h0m-78.7 39.9h0m54.2 0.8h0m-42.2 -20.3h0m31.6 -17.2h0m-22.0 -1.5h0m8.9 40.3h0m-26.5 -15.8h0m52.9 10.6h0m-24.8 -40.1h0m49.8 -1.1h0m-33.7 47.8h0m-27.1 0.2h0m9.9 3.2h0m25.8 -44.1h0m17.5 27.9h0m-76.1 8.2h0m14.0 -18.5h0m-5.3 8.9h0m43.4 13.6h0m-42.4 0.2h0m-0.4 -17.5h0m23.2 -15.6h0m79.4 -22.3h0m-37.3 49.3h0m-42.8 -22.8h0m39.2 21.8h0m-33.5 13.2h0m59.6 -54.9h0m-20.8 3.4h0m-3.2 -11.6h0m-66.5 60.3h0m64.6 -15.6h0m-2.6 -34.8h0m-3.2 0.0h0m-43.1 57.9h0m-15.9 -42.2h0m-4.9 2.7h0m52.9 -17.9h0m-30.2 10.3h0m45.8 -13.4h0m-20.8 54.0h0m-14.7 -40.5h0m14.7 -2.9h0m27.3 -0.7h0m-53.4 41.5h0m24.4 -6.6h0m59.5 -38.0h0m-91.9 51.5h0m42.5 -51.7h0m14.8 -5.6h0m-45.5 17.8h0m-23.6 18.1h0m55.1 -28.5h0m7.6 -1.4h0m5.0 34.6h0m6.0 -41.5h0m-70.3 21.0h0m75.0 6.7h0m-16.4 -17.4h0m-32.3 10.3h0m-18.3 6.4h0m90.2 -23.9h0m-99.0 40.2h0m5.1 -21.5h0m56.0 -18.4h0m37.0 6.7h0m-77.0 46.5h0m-18.9 -12.2h0m12.2 5.4h0m-3.5 2.8h0m10.4 5.0h0m56.0 -59.3h0m-60.1 23.9h0m-11.5 10.5h0m71.4 5.5h0m-1.7 -4.0h0m-6.1 1.5h0m-49.0 26.1h0m35.4 -56.5h0m-22.5 43.5h0m33.6 -43.6h0m-17.8 46.7h0m-0.5 -51.3h0m-35.3 24.4h0m10.0 -6.2h0m60.6 8.9h0m-42.2 29.9h0m11.9 -54.7h0m23.4 29.7h0m2.2 -35.4h0m-55.0 25.3h0m-0.8 -2.2h0m-2.5 33.6h0m25.1 -1.1h0m38.6 -16.6h0m-83.4 8.3h0m-0.1 9.5h0m53.1 -12.3h0m-63.8 16.7h0m43.4 -6.1h0m19.2 -8.4h0m-37.2 2.9h0m30.3 -36.3h0m-26.8 39.3h0m62.8 -12.0h0m-6.6 -29.5h0m5.9 -18.9h0m-17.6 6.0h0m-38.7 57.0h0m-18.5 -2.5h0m59.6 -8.5h0m-70.9 18.1h0m15.5 -20.0h0m14.1 -20.0h0m39.1 22.0h0m-67.2 5.2h0m1.6 -5.6h0m5.9 -4.5h0m49.1 -27.2h0m8.1 -1.7h0m-23.6 0.4h0m45.0 19.7h0m-70.4 25.9h0m-3.3 -9.1h0m-0.8 0.6h0m4.8 -24.7h0m-5.1 53.7h0m61.8 -67.5h0m-54.1 37.6h0m3.3 -18.8h0m-13.2 18.2h0m29.8 5.9h0m20.1 -2.7h0m-11.4 3.8h0m34.7 -43.7h0m-89.0 44.7h0m65.0 -4.9h0m-35.8 -21.7h0m-18.8 23.6h0m-10.5 -8.3h0m97.6 -31.4h0m-77.5 29.6h0m-26.4 4.9h0m67.8 -42.3h0m17.2 4.2h0m-17.1 41.1h0m20.2 -13.5h0m-45.6 -11.5h0m-21.3 28.7h0m2.7 -13.2h0m27.5 14.9h0m23.3 -54.5h0m26.4 26.4h0m-54.8 32.0h0m-7.2 -1.7h0m30.4 -44.3h0m26.2 22.8h0m-75.0 -12.0h0m28.4 -13.2h0m5.4 1.8h0m20.8 32.5h0m15.2 -35.2h0m-77.5 39.9h0m7.9 5.8h0m-3.1 -14.5h0m16.7 21.1h0m31.7 -9.3h0m26.8 -13.6h0m41.4 -39.7h0m-129.5 41.4h0m17.2 14.6h0m17.8 -30.9h0m-20.0 29.0h0m19.3 -35.3h0m-20.4 37.5h0m101.6 -39.7h0m-41.2 1.7h0m-21.5 -4.1h0m-29.5 7.0h0m-1.9 25.2h0m46.5 -1.2h0m-1.0 4.2h0m0.9 -70.4h0m-5.0 26.7h0m-46.8 35.8h0m50.0 15.0h0m-34.0 2.5h0m16.2 -45.2h0m-42.1 35.4h0m24.0 4.8h0m53.1 -40.6h0m-20.6 39.9h0m-42.2 -9.9h0m62.6 -30.9h0m-41.3 -1.0h0m49.9 -0.2h0m-39.2 45.7h0m-3.9 -51.9h0m53.1 0.4h0m-92.9 39.1h0m55.7 12.0h0m-48.5 -40.3h0m37.6 -3.6h0m57.8 -3.3h0m-71.6 8.0h0m37.3 -14.5h0m-36.3 13.4h0m-39.1 36.1h0m92.0 -42.6h0m-91.5 40.1h0m78.6 -6.8h0m-10.7 11.0h0m-70.9 -14.7h0m29.7 12.3h0m67.7 -29.5h0m-51.0 37.2h0m-32.6 -17.0h0m5.6 -15.6h0m51.1 21.4h0m-0.3 -40.1h0m5.7 -3.7h0m-50.1 21.5h0m58.2 -17.2h0m-45.3 50.2h0m-1.0 -6.3h0m-20.5 1.4h0m37.2 -2.3h0m-6.0 2.5h0m-2.3 -39.2h0m-22.5 29.7h0m66.4 -15.1h0m-15.8 16.5h0m-48.5 21.7h0m67.1 -55.4h0m-62.0 12.9h0m29.1 -11.5h0m11.9 32.4h0m-9.5 1.7h0m-26.8 -31.4h0m-32.1 21.9h0m77.2 -28.0h0m-28.3 47.8h0m25.7 -56.7h0m-59.6 35.2h0m14.3 15.8h0m0.5 12.7h0m47.2 -22.1h0m-47.0 -27.1h0m2.9 7.2h0m29.0 -25.3h0m-36.2 25.9h0m-2.6 6.0h0m32.9 28.2h0m5.5 -5.3h0m-55.0 -5.2h0m50.1 6.8h0m17.6 -48.0h0m-56.8 34.4h0m51.4 6.8h0m24.6 -15.8h0m-1.7 -22.8h0m-25.2 30.9h0m-11.9 -37.6h0m-34.8 49.4h0m-3.3 -10.6h0m46.4 4.5h0m-19.7 -40.7h0m-31.3 31.1h0m6.5 8.0h0m95.3 -41.4h0m-108.8 42.4h0m80.1 -32.3h0m-65.1 12.1h0m-17.2 25.4h0m24.6 15.7h0m-2.6 -37.6h0m41.6 -16.5h0m-1.2 38.0h0m-11.5 -39.5h0m15.1 2.8h0m-26.2 44.0h0m-25.7 -30.3h0m12.7 26.4h0m6.1 6.8h0m-11.3 -6.9h0m79.0 -41.9h0m-73.9 48.4h0m2.3 -0.4h0m54.2 -59.0h0m5.3 39.2h0m2.7 -17.7h0m-52.8 33.4h0m50.3 -22.2h0m-16.5 -28.2h0m-53.3 57.3h0m39.8 -54.4h0m6.0 41.5h0m-53.2 -14.2h0m69.0 -26.6h0m3.8 24.4h0m17.1 -6.2h0m-48.2 -13.3h0m27.8 -6.5h0m-55.9 51.9h0m1.6 -32.1h0m73.5 -20.1h0m-107.4 47.3h0m48.9 2.4h0m51.0 -44.6h0m-3.1 16.0h0m-67.0 32.8h0m44.7 -46.0h0m-16.7 43.0h0m18.8 -50.1h0m21.2 18.2h0m-58.5 36.2h0m8.3 -6.3h0m-17.9 -31.9h0m15.5 30.2h0m7.9 -1.2h0m29.1 -47.0h0m-57.7 13.6h0m15.5 42.5h0m36.0 -51.4h0m-47.8 42.8h0m18.2 -42.5h0m-2.0 49.8h0m-25.7 -36.1h0m12.6 -10.3h0m44.3 -14.2h0m-63.2 51.1h0m80.9 -41.7h0m-22.8 5.1h0m-68.6 26.3h0m14.8 14.4h0m83.4 -27.2h0m-62.3 26.9h0m-25.9 -1.2h0m14.1 14.8h0m12.9 -53.8h0m-27.0 44.2h0m31.6 -45.2h0m27.0 31.4h0m-9.0 -39.4h0m-27.7 18.2h0m28.1 29.8h0m-4.5 -39.9h0m-1.3 -7.3h0m-53.1 26.2h0m20.3 23.2h0m57.8 -56.5h0m42.4 -6.0h0m-25.2 30.6h0m-6.4 5.7h0m-56.1 25.7h0m-5.0 -34.9h0m39.2 -12.7h0m-48.0 41.2h0m69.4 -36.6h0m-17.8 29.5h0m6.9 18.7h0m16.4 -64.8h0m-19.2 52.2h0m-64.6 4.7h0m52.4 -0.3h0m4.6 -40.2h0m-64.6 26.2h0m95.9 -7.0h0m-79.6 -5.7h0m67.2 3.7h0m7.9 19.2h0m-77.9 -14.1h0m8.1 25.6h0m-11.3 -36.0h0m20.9 -21.5h0m-6.1 26.4h0m-26.2 26.2h0m76.8 -45.1h0m-53.2 15.6h0m-14.4 19.2h0m76.9 -5.9h0m-0.2 -38.3h0m8.8 31.1h0m-33.8 -20.9h0m-34.3 41.3h0m72.5 -13.4h0m-39.6 -24.3h0m-52.4 50.3h0m0.7 -36.4h0m4.1 12.4h0m86.8 -6.4h0m-94.4 9.2h0m54.3 9.9h0m-35.8 -26.1h0m2.4 -17.1h0m11.2 -2.4h0m-3.3 49.2h0m-9.1 4.6h0m5.7 -43.9h0m17.3 -2.6h0m-19.1 42.7h0m34.8 -50.1h0m-51.9 31.5h0m53.2 14.1h0m-55.5 2.1h0m29.8 2.3h0m28.9 -46.4h0m-18.9 46.4h0m-57.4 -16.8h0m110.2 1.4h0m-44.3 -27.9h0m-7.1 -3.4h0m31.3 1.8h0m-62.1 27.0h0m45.3 -28.4h0m-9.9 -5.6h0m5.0 45.8h0m17.6 -44.5h0m-23.6 3.4h0m39.2 -16.7h0m-67.2 63.3h0m-13.6 -2.0h0m55.8 -40.6h0m13.4 -6.7h0m-56.8 21.6h0m71.3 2.1h0m-26.0 -18.3h0m30.3 -13.8h0m-82.9 37.3h0m-21.7 12.2h0m97.4 -19.3h0m-74.4 -5.6h0m13.1 -5.6h0m-18.6 15.3h0m68.2 3.6h0m-41.6 19.0h0m46.1 -24.0h0m-66.9 9.7h0m19.2 23.5h0m-37.0 -8.5h0m73.1 -54.0h0m-37.2 56.1h0m-36.2 -1.0h0m116.1 -30.0h0m-39.7 13.1h0m-56.0 -21.3h0m51.8 -25.1h0m7.0 0.3h0m-87.0 43.8h0m64.4 -46.5h0m5.1 64.3h0m-33.2 1.9h0m-6.7 -28.8h0m-20.5 13.8h0m34.1 -25.1h0m12.7 -18.5h0m-42.8 42.8h0m46.3 17.4h0m4.9 -60.2h0m69.3 -8.5h0m-88.9 23.4h0m-21.6 52.0h0m60.5 -58.7h0m-31.5 57.0h0m40.1 -59.9h0m-42.1 57.2h0m-4.6 10.2h0m-45.8 -28.2h0m12.9 -22.4h0m71.8 31.8h0m-55.7 16.1h0m24.8 -60.7h0m51.7 28.5h0m10.5 14.3h0m-73.5 8.7h0m73.5 -34.6h0m-86.2 0.2h0m-13.6 22.7h0m9.3 9.1h0m46.4 -0.6h0m-50.6 -7.6h0m-1.2 1.4h0m11.8 -38.2h0m11.7 -8.0h0m35.8 60.4h0m-19.9 -65.0h0m-17.5 57.2h0m-21.4 -53.1h0m40.5 8.6h0m62.8 12.6h0m-33.0 14.2h0m37.2 4.9h0m-95.3 10.7h0m34.1 -55.1h0m26.6 7.8h0m-30.4 -0.7h0m40.4 15.3h0m0.0 25.5h0m-55.2 -30.9h0m-37.5 34.0h0m33.6 6.2h0m-11.5 5.5h0m50.2 -22.6h0m4.8 -40.9h0m28.5 6.1h0m-109.3 48.1h0m141.4 -54.0h0m-107.0 55.7h0m-5.8 2.6h0m30.7 -6.2h0m16.3 -48.0h0m-54.4 71.4h0m12.6 -19.0h0m11.1 -40.9h0m6.8 50.9h0m11.2 -56.4h0m2.7 -7.0h0m-12.0 1.4h0m-3.4 54.8h0m-27.5 -45.2h0m22.0 -4.9h0m-29.1 45.5h0m-8.5 -13.6h0m40.3 -30.1h0m-15.0 66.5h0m70.9 -79.0h0m-84.7 31.4h0m0.5 11.8h0m28.9 16.5h0m-28.9 -0.7h0m-1.4 -29.5h0m8.8 -3.5h0m24.6 28.5h0m-34.2 22.0h0m2.3 -46.6h0m38.8 24.5h0m-11.0 0.5h0m-44.9 -19.4h0m21.9 -14.0h0m78.8 58.0h0m-36.4 -27.8h0m17.0 -65.1h0m-78.9 75.0h0m-10.6 -36.9h0m116.1 -22.2h0m-79.1 15.7h0m-15.4 14.6h0m44.1 35.8h0m20.5 -55.1h0m-75.0 28.4h0m52.8 -34.0h0m-21.8 46.5h0m61.2 -49.3h0m-87.1 47.8h0m-3.4 -2.8h0m89.5 -2.5h0m-93.9 6.8h0m70.4 0.6h0m-71.2 -0.7h0m100.7 -62.2h0m-45.4 71.5h0m4.5 -54.1h0m-28.7 49.2h0m-32.5 20.9h0m80.6 -36.0h0m1.9 -33.9h0m-33.4 4.2h0m36.9 -16.0h0m-82.8 56.1h0m67.0 13.4h0m-77.1 -24.3h0m42.8 -31.3h0m60.9 -8.1h0m-75.8 31.9h0m-21.9 34.0h0m23.1 -2.3h0m35.6 -11.0h0m11.5 11.0h0m-20.6 -13.6h0m22.0 -56.0h0m-40.7 31.1h0m5.5 -8.3h0m10.7 36.4h0m-14.9 -45.3h0m18.9 42.4h0m-20.4 3.3h0m-33.8 -9.6h0m22.7 0.8h0m-13.0 10.7h0m87.5 -49.6h0m-67.9 59.5h0m-25.4 -50.9h0m39.8 40.2h0m41.6 -69.1h0m-3.9 54.1h0m-41.4 -35.4h0m42.4 34.3h0m-66.8 1.2h0m55.4 -30.2h0m-64.9 27.5h0m3.5 17.3h0m-6.3 4.9h0m39.4 -43.5h0m-26.6 40.4h0m-0.9 -24.1h0m30.0 23.7h0m-47.5 10.4h0m53.0 -6.1h0m-41.1 -8.0h0m30.2 -27.8h0m36.6 24.2h0m-80.1 0.3h0m41.4 26.4h0m-14.6 -54.9h0m69.3 14.3h0m13.0 12.3h0m-103.9 -25.5h0m27.2 3.9h0m-4.1 43.6h0m12.1 -65.0h0m-29.8 34.9h0m96.5 17.9h0m-56.4 11.6h0m-2.5 -13.5h0m-22.8 -30.3h0m-11.6 41.8h0m74.4 -65.0h0m2.3 36.0h0m-90.9 9.7h0m54.2 5.8h0m-17.5 -29.5h0m0.9 -7.8h0m13.2 -2.4h0m39.5 -8.8h0m-28.2 49.5h0m9.6 -55.1h0m-4.2 5.6h0m-2.7 45.9h0m32.7 8.2h0m13.9 -21.3h0m-60.1 20.1h0m6.8 -48.0h0m-33.7 17.2h0m15.8 -27.9h0m61.7 -21.4h0m36.3 26.2h0m-83.4 6.4h0m38.4 -20.9h0m-65.3 68.6h0m-2.5 -5.7h0m30.4 -43.0h0m25.2 38.3h0m-8.5 -1.5h0m-16.6 -39.6h0m-10.3 55.3h0m14.0 -1.1h0m-28.4 -19.4h0m27.9 11.2h0m-44.0 -13.6h0m-2.0 13.6h0m41.0 7.0h0m2.6 6.8h0m-14.5 -51.9h0m37.0 49.3h0m-12.2 -51.8h0m8.0 -18.5h0m-72.0 71.9h0m87.1 -12.1h0m-64.4 -15.5h0m45.0 -45.2h0m46.2 36.9h0m5.2 8.1h0m-66.0 19.4h0m5.8 -5.9h0m-42.9 15.9h0m-6.4 -27.6h0m94.5 -33.4h0m-61.5 4.2h0m-22.9 39.4h0m31.8 9.1h0m0.9 -7.5h0m-21.4 2.1h0m50.3 -10.5h0m-66.6 -7.6h0m21.0 24.6h0m20.7 -2.0h0m52.0 -42.8h0m-21.9 -14.9h0m-41.0 69.8h0m47.6 -62.9h0m-38.1 50.8h0m78.3 -53.8h0m-116.5 52.3h0m11.3 -50.9h0m-3.9 31.4h0m57.0 9.1h0m-45.7 -29.1h0m-3.9 44.7h0m-10.5 4.2h0m0.3 -33.7h0m21.5 -20.0h0m30.7 -8.6h0m-44.1 55.2h0m73.8 -12.1h0m-57.1 12.6h0m-43.2 -22.9h0m24.6 -5.4h0m8.8 -18.9h0m-23.4 50.6h0m41.2 -60.4h0m-19.4 20.8h0m34.7 33.8h0m-34.4 -30.2h0m8.2 35.2h0m71.6 -52.1h0m-53.3 43.0h0m-37.5 -0.8h0m116.2 -29.7h0m-85.8 30.5h0m-23.7 10.0h0m29.7 -61.0h0m-38.4 31.7h0m52.2 37.4h0m20.9 -16.0h0m-88.6 9.2h0m64.1 -10.0h0m44.2 -58.0h0m-51.7 13.8h0m-35.9 46.9h0m43.8 -6.4h0m-66.1 -7.6h0m19.7 -16.8h0m91.0 -6.1h0m-88.0 9.3h0m-25.8 9.3h0m70.5 10.4h0m-1.0 -5.2h0m38.3 -27.5h0m-69.4 -0.7h0m-6.9 53.2h0m18.4 -9.8h0m13.4 1.6h0m33.3 -60.6h0m-77.2 31.7h0m59.9 19.4h0m3.4 -46.4h0m-16.5 46.5h0m-68.0 3.9h0m33.7 15.8h0m-13.7 -21.0h0m2.9 -31.1h0m-22.5 48.4h0m16.0 0.7h0m6.4 3.9h0m-4.3 -16.4h0m28.0 -2.9h0m-4.9 -33.2h0m-40.7 10.2h0m38.1 -10.3h0m-26.1 34.9h0m39.1 1.2h0m-29.0 -26.7h0m26.7 -25.3h0m-52.5 52.1h0m79.3 4.6h0m-52.4 4.1h0m88.8 -51.2h0m-76.2 41.7h0m-14.8 -32.0h0m73.8 20.7h0m-41.7 -40.4h0m-56.0 44.3h0m11.1 6.7h0m7.4 -29.7h0m18.7 37.2h0m-11.7 -43.9h0m-0.4 32.9h0m43.7 -37.0h0m-54.6 36.0h0m3.4 -5.7h0m-1.3 -17.2h0m6.7 20.7h0m76.0 -45.0h0m-8.5 40.3h0m-18.8 -33.0h0m-24.0 63.9h0m-46.9 -36.0h0m97.2 -29.0h0m-47.5 3.7h0m43.4 34.0h0m-61.4 -22.6h0m26.4 32.2h0m3.9 -53.0h0m-33.0 53.4h0m48.2 2.6h0m1.7 -53.5h0m-65.9 57.1h0m10.6 0.0h0m46.1 -12.0h0m-71.0 16.8h0m24.4 -3.5h0m-3.7 -3.9h0m89.5 -33.1h0m-39.0 -30.7h0m-21.0 14.8h0m-13.8 2.5h0m-13.3 22.3h0m43.7 -25.2h0m19.2 -1.9h0m-59.2 46.1h0m43.8 -6.3h0m-8.1 -35.6h0m-28.0 37.4h0m-2.3 -28.6h0m42.6 34.1h0m-17.2 -57.8h0m-30.2 32.1h0m50.2 32.8h0m31.6 -57.8h0m-43.9 50.8h0m12.8 -6.0h0m-69.8 -13.7h0m52.8 25.4h0m-10.7 0.7h0m73.8 -32.5h0m-124.5 11.1h0m105.4 -10.5h0m-17.4 -19.8h0m37.5 2.8h0m-113.1 36.9h0m4.4 12.3h0m5.2 -32.3h0m-13.9 18.0h0m26.6 11.5h0m5.9 -42.8h0m42.8 -6.8h0m-14.3 -9.6h0m-61.9 49.1h0m77.2 -5.0h0m-64.1 15.2h0m-9.8 -13.5h0m83.5 -8.7h0m-58.7 26.1h0m-7.5 -18.8h0m2.6 -14.3h0m14.1 24.7h0m-2.7 -2.0h0m-25.4 -15.8h0m73.3 5.8h0m-23.5 -31.8h0m3.1 -11.8h0m35.0 12.0h0m-48.4 65.3h0m37.0 -36.9h0m-88.5 -19.4h0m68.9 -18.0h0m-35.5 17.1h0m4.6 0.4h0m21.7 32.4h0m7.2 -53.7h0m15.9 -4.3h0m-24.1 9.3h0m37.1 6.9h0m-41.9 37.4h0m-28.3 16.7h0m-17.2 -14.6h0m-4.2 2.2h0m76.7 -45.8h0m36.6 -12.6h0m-47.2 56.5h0m-73.1 -10.2h0m106.8 -7.2h0m-39.5 -22.5h0m41.5 3.8h0m-25.5 34.2h0m-61.6 11.1h0m-2.2 -4.6h0m13.3 12.3h0m-7.4 -40.0h0m-21.8 22.6h0m5.4 -24.5h0m-2.9 14.7h0m24.3 -8.8h0m83.8 -17.7h0m-91.1 41.4h0m86.2 -37.6h0m-72.3 -10.8h0m40.2 0.9h0m-3.4 38.6h0m-24.8 -45.3h0m-33.2 47.9h0m90.9 -38.9h0m-51.6 0.0h0m-30.8 24.8h0m-19.6 28.9h0m26.7 -44.7h0m1.6 28.6h0m9.5 27.0h0m23.0 -71.9h0m-1.1 64.6h0m-23.9 -48.9h0m-24.9 4.4h0m85.1 17.6h0m-28.5 -34.0h0m38.3 7.6h0m-34.9 -15.3h0m-40.7 13.9h0m39.7 -7.3h0m-16.7 45.7h0m-7.3 -39.3h0m-8.8 54.4h0m4.0 -62.5h0m27.8 64.4h0m-65.1 -36.8h0m61.7 24.3h0m-62.8 7.4h0m27.4 -3.8h0m54.1 -22.4h0m-19.6 15.6h0m68.1 -33.0h0m-71.7 47.3h0m-19.6 -56.2h0m39.1 5.3h0m-73.9 41.0h0m7.6 10.5h0m82.5 -40.9h0m-80.5 0.3h0m2.5 -3.1h0m19.6 35.9h0m45.2 -16.4h0m-13.7 8.1h0m-5.8 -1.9h0m-39.6 -15.9h0m-22.3 29.5h0m70.5 -17.9h0m-41.2 -22.6h0m19.9 -8.1h0m35.4 -14.7h0m-70.8 51.8h0m-22.0 13.8h0m25.1 -12.0h0m57.5 -8.0h0m-67.5 -9.6h0m36.2 -29.5h0m30.0 37.4h0m-56.1 10.8h0m96.9 -36.0h0m-45.8 -10.7h0m-7.4 -25.0h0m26.6 29.2h0m-67.5 49.9h0m29.6 -50.4h0m-31.6 4.2h0m-14.1 39.5h0m30.7 3.3h0m36.4 -2.8h0m8.7 -62.1h0m-66.0 53.1h0m15.0 -25.7h0m77.9 -1.7h0m-70.2 -1.6h0m-14.5 42.6h0m-14.5 -9.9h0m2.6 -2.1h0m61.2 -40.6h0m-59.0 20.6h0m-5.3 21.1h0m74.5 -52.2h0m-35.7 68.9h0m29.0 -10.9h0m-18.4 1.5h0m-51.5 -3.5h0m10.7 -1.8h0m12.2 2.2h0m79.6 -18.3h0m-88.7 -8.2h0m66.5 -32.2h0m-65.5 45.7h0m2.9 19.2h0m2.7 -5.8h0m60.4 -51.8h0m-18.5 56.7h0m27.3 -34.2h0m26.6 -7.5h0m-99.7 12.7h0m7.5 41.7h0m0.4 -11.0h0m62.2 -65.1h0m3.9 28.3h0m-27.3 26.4h0m-49.0 9.3h0m8.7 -40.3h0m-17.5 26.5h0m89.4 -7.2h0m-8.5 -40.8h0m-38.1 4.4h0m-49.1 46.0h0m20.9 3.9h0m88.4 -42.6h0m-79.4 12.5h0m33.7 27.6h0m-57.1 -11.0h0m21.0 19.7h0m43.1 -9.2h0m31.2 -61.4h0m-31.6 17.7h0m-64.7 46.9h0m22.8 13.6h0m-12.3 0.4h0m39.1 -11.0h0m-43.0 -25.8h0m77.3 -20.7h0m-68.0 19.0h0m72.6 -26.4h0m-81.7 58.1h0m97.0 -42.5h0m-67.6 45.9h0m-15.5 -41.1h0m-3.2 49.7h0m-10.9 -16.2h0m48.2 -10.0h0m-0.9 6.7h0m-36.7 -33.1h0m60.8 27.5h0m-53.0 22.0h0m13.4 -3.1h0m-39.1 -31.1h0m60.6 -23.1h0m-43.9 53.0h0m-5.8 -35.2h0m-2.3 -6.8h0m84.9 -12.1h0m-27.9 35.8h0m-29.8 20.8h0m28.6 -13.1h0m-38.3 4.2h0m-35.5 -8.7h0m92.2 -7.5h0m-86.9 15.2h0m84.1 -46.9h0m-5.8 30.9h0m-69.0 -5.9h0m22.6 27.6h0m4.8 9.0h0m2.0 -18.0h0m-29.1 9.8h0m25.5 -1.0h0m-37.6 -6.0h0m58.0 -5.6h0m1.6 -41.1h0m18.6 -7.8h0m2.1 -4.0h0m-37.7 56.0h0m-7.1 -0.5h0m-6.6 -30.9h0m28.7 42.7h0m2.7 -55.0h0m10.7 37.9h0m-49.0 -26.4h0m72.4 -17.0h0m-25.6 41.3h0m8.7 8.1h0m-17.6 -47.1h0m-18.0 7.3h0m58.6 23.3h0m-34.7 3.4h0m5.6 -40.7h0m79.6 -10.8h0m-89.7 14.1h0m16.5 3.6h0m-85.6 44.2h0m1.2 -24.4h0m39.0 -5.3h0m0.4 -5.4h0m-16.6 7.1h0m-5.5 -2.0h0m79.2 -25.1h0m-92.5 50.7h0m13.9 4.8h0m12.8 -34.2h0m17.0 39.0h0m-4.6 8.7h0m-27.5 -38.7h0m-7.2 43.6h0m102.9 -54.3h0m-2.4 11.3h0m7.4 -6.9h0m-32.0 21.0h0m27.5 -36.7h0m-16.9 33.3h0m19.7 -20.8h0m-11.1 31.4h0m7.7 -45.1h0m-6.1 11.4h0m5.1 15.8h0m-11.2 -0.4h0m-1.0 5.3h0m1.9 -3.8h0m15.2 -5.9h0m-14.1 -7.9h0m8.5 6.3h0m8.0 -4.0h0m3.8 1.3h0m-9.5 -25.8h0m-2.8 29.0h0m-9.7 -20.7h0m13.3 -2.7h0m10.3 5.7h0m-3.0 5.0h0m-45.5 -0.1h0m38.3 -4.4h0m-11.6 -1.7h0m-0.2 22.8h0m11.3 -5.5h0m0.5 3.2h0m-13.5 12.9h0m18.2 -29.2h0m-18.7 -0.7h0m14.2 4.2h0m-1.8 17.6h0m2.1 -17.3h0m-20.1 19.4h0m18.0 -24.3h0m6.0 1.8h0m-34.0 0.0h0m18.5 8.5h0m6.8 8.0h0m-31.6 23.3h0m21.4 -40.4h0m11.8 10.4h0m-27.8 29.5h0m32.5 -45.1h0m0.1 19.3h0m5.1 3.8h0m-10.4 9.1h0m-2.8 -28.6h0m1.8 3.6h0m-9.2 -10.7h0m3.5 40.1h0m11.7 -37.7h0m-5.4 9.2h0m9.5 -6.8h0m-6.9 -0.2h0m-9.9 4.8h0m12.6 -10.2h0m-0.4 11.8h0m10.9 -0.3h0m-14.5 -8.1h0m0.1 -2.3h0m-9.4 15.1h0m12.9 4.9h0m-22.8 11.1h0m20.7 -19.6h0m6.8 8.8h0m-9.6 -7.5h0m-7.1 -7.5h0m5.8 23.0h0m1.7 -20.6h0m-13.6 22.4h0m23.6 -19.5h0m-1.5 17.9h0m-27.1 -17.9h0m24.3 -12.1h0m-1.6 26.9h0m-3.7 -31.5h0m5.2 39.0h0m0.3 -11.0h0m12.4 -15.9h0m-15.3 17.2h0m-6.7 -20.1h0m4.2 0.0h0m-3.5 8.3h0m-15.7 27.3h0m21.7 -13.6h0m-8.7 -17.0h0m18.0 -10.3h0m-13.9 5.0h0m-3.8 29.9h0m17.8 -19.2h0m-12.0 -8.5h0m-9.4 0.1h0m15.1 4.2h0m4.0 16.9h0m-33.6 21.2h0m13.5 -28.9h0m11.1 -18.0h0m-0.5 -0.2h0m-5.2 -0.1h0m5.3 28.8h0m-13.1 -0.1h0m11.0 -27.3h0m-22.5 6.4h0m28.9 6.0h0m-13.2 -13.4h0m0.1 34.1h0m-5.4 -34.6h0m-6.7 28.9h0m13.3 -21.4h0m-1.4 27.1h0m-1.8 -42.2h0m-16.9 7.7h0m26.0 9.4h0m8.1 13.0h0m-22.2 -15.1h0m14.4 1.3h0m-16.2 22.3h0m-16.6 -20.6h0m47.1 -9.7h0m-15.5 4.8h0m2.9 11.1h0m-2.9 -19.7h0m-12.4 37.4h0m8.1 -7.3h0m-1.5 2.0h0m-5.0 -23.1h0m-8.2 -10.8h0m33.7 15.1h0m-19.2 -10.4h0m13.7 20.8h0m-12.6 -19.4h0m31.2 17.1h0m-27.7 14.4h0m-4.6 -6.9h0m7.9 -16.3h0m-16.3 18.9h0m10.4 15.0h0m3.1 -31.1h0m-12.2 -6.1h0m13.0 20.1h0m-2.4 -20.3h0m1.7 20.4h0m18.4 -23.8h0m-8.9 -13.1h0m-0.9 29.9h0m2.2 -6.5h0m-40.3 26.4h0m36.5 -15.2h0m6.9 -8.5h0m-17.9 -0.7h0m9.6 1.3h0m-1.3 -13.1h0m-7.2 23.6h0m9.7 0.5h0m12.7 -21.0h0m-11.3 -6.4h0m-27.0 37.3h0m15.4 -29.2h0m3.5 -2.2h0m11.5 23.8h0m-18.4 -4.6h0m-2.4 -17.0h0m-6.9 -4.6h0m15.9 20.3h0m7.7 -24.4h0m-4.6 22.1h0m-8.4 -9.0h0m9.6 -12.6h0m-16.1 -4.6h0m12.1 13.6h0m5.7 -0.9h0m-12.7 0.1h0m-9.6 33.5h0m13.8 -35.3h0m12.2 -10.8h0m-17.0 23.7h0m-9.2 8.7h0m24.9 -15.6h0m7.8 -8.6h0m-13.9 1.4h0m-19.2 26.8h0m10.5 -27.6h0m14.4 -9.0h0m-11.9 19.6h0m0.2 15.9h0m10.4 -19.2h0m-1.0 -15.9h0m0.1 -0.4h0m2.7 19.5h0m-6.4 9.7h0m-9.2 3.3h0m30.0 -20.3h0m-35.0 19.5h0m3.0 3.9h0m1.3 -6.1h0m26.0 -36.0h0m-31.7 15.3h0m21.4 1.5h0m-14.2 22.1h0m3.6 -21.7h0m11.2 6.2h0m0.0 -7.1h0m4.9 1.1h0m-11.5 15.7h0m-17.8 -4.6h0m19.7 11.3h0m-4.5 -22.6h0m5.8 -10.4h0m3.5 19.6h0m-13.5 -23.2h0m-0.3 20.5h0m0.3 -13.7h0m-10.0 44.3h0m17.7 -44.6h0m-16.4 35.8h0m17.5 -53.4h0m3.4 45.3h0m-12.7 8.7h0m7.1 -14.5h0m-2.3 -6.1h0m2.6 -2.4h0m-7.5 -4.2h0m7.7 24.2h0m4.4 -15.9h0m-5.9 -5.8h0m14.7 -1.5h0m-23.3 26.0h0m10.8 -24.6h0m-32.1 30.3h0m37.7 -29.0h0m-13.2 -5.2h0m-8.1 35.6h0m16.3 -19.1h0m0.6 -11.0h0m-0.9 -17.6h0m-6.3 8.1h0m9.9 18.2h0m5.5 -15.8h0m-19.8 2.8h0m-16.7 30.9h0m20.6 -37.3h0m-3.3 15.6h0m5.6 -4.8h0m0.9 -10.7h0m-0.8 2.1h0m-17.1 24.9h0m16.2 -39.9h0m20.7 -40.7h0m-12.0 3.4h0m-7.9 22.8h0m16.1 -15.7h0m9.2 -23.3h0m-16.4 -14.8h0m35.8 7.2h0m-51.0 -14.6h0m14.5 68.7h0m51.1 -38.9h0m17.3 0.0h0m-89.1 -20.5h0m-4.8 37.6h0m50.9 -9.6h0m-12.0 -44.4h0m-9.3 34.1h0m52.2 35.3h0m-26.3 -3.9h0m-28.7 -46.5h0m16.6 21.4h0m-10.6 38.6h0m23.1 -26.8h0m-40.6 -13.8h0m39.6 1.0h0m-42.3 -6.1h0m2.7 36.2h0m13.8 -0.6h0m-19.1 -26.0h0m-46.0 -14.1h0m74.5 -9.7h0m-13.4 8.2h0m50.5 6.6h0m9.8 22.5h0m-49.5 -46.1h0m14.1 10.1h0m-3.1 19.3h0m-20.3 16.1h0m4.5 -37.9h0m9.8 43.9h0m21.3 -15.0h0m-22.0 -4.3h0m1.8 8.4h0m-10.0 -9.9h0m13.5 -2.4h0m-16.4 3.1h0m-8.0 25.7h0m53.4 -14.8h0m-29.1 -14.7h0m35.8 0.7h0m-49.3 -14.7h0m15.5 19.0h0m-12.6 16.1h0m45.9 -33.9h0m-64.4 28.6h0m66.3 -16.1h0m-95.8 44.3h0m73.4 -39.5h0m-28.3 32.8h0m-73.6 0.9h0m63.3 -14.5h0m40.9 -34.0h0m7.3 23.8h0m-32.9 -5.5h0m-0.8 10.9h0m-1.9 -36.2h0m22.5 -2.8h0m-33.2 31.4h0m2.6 -43.1h0m31.4 48.5h0m-34.4 -27.3h0m29.1 1.8h0m-6.3 -33.8h0m44.4 85.0h0m-32.6 -88.9h0m21.7 59.5h0m-71.8 -24.7h0m34.1 40.0h0m17.2 -50.0h0m-32.6 31.7h0m3.5 -42.8h0m24.5 57.6h0m-15.6 7.9h0m27.7 -57.6h0m-40.6 19.4h0m42.2 26.7h0m-28.1 -17.2h0m-27.8 7.3h0m13.2 -7.2h0m-1.1 18.8h0m20.5 -39.0h0m7.1 -17.1h0m41.1 35.8h0m-59.2 -29.1h0m-24.4 59.2h0m27.1 -32.7h0m35.3 -6.3h0m-35.4 3.9h0m22.0 18.6h0m-7.3 -16.9h0m-80.0 22.4h0m89.5 -24.6h0m-10.6 -33.3h0m-31.4 66.8h0m31.2 -28.7h0m57.5 -26.9h0m-66.7 14.1h0m-11.3 35.1h0m70.2 -30.8h0m-63.9 1.5h0m1.0 3.9h0m0.2 13.8h0m9.9 -29.0h0m9.3 5.2h0m-45.0 18.4h0m36.7 -20.5h0m0.3 -29.5h0m-39.8 19.2h0m45.5 3.5h0m4.8 55.3h0m11.1 -36.0h0m-62.3 -11.0h0m40.3 -13.3h0m-17.8 44.8h0m-19.9 -8.2h0m-19.8 -6.5h0m47.3 -0.7h0m10.3 -11.2h0m-31.9 24.7h0m57.4 -34.8h0m-86.6 49.3h0m56.0 -56.7h0m10.0 24.0h0m-38.3 16.6h0m12.9 -25.4h0m30.0 3.0h0m-24.2 9.0h0m39.3 19.5h0m-55.6 -13.6h0m30.2 -13.1h0m-23.1 -18.6h0m49.1 25.4h0m-31.5 0.7h0m-28.2 -9.6h0m-3.8 28.2h0m31.1 2.3h0m15.7 -25.9h0m-30.0 -15.0h0m14.2 8.2h0m-39.7 -3.7h0m7.0 -21.6h0m78.1 26.1h0m-61.5 5.9h0m18.0 8.5h0m-8.5 14.7h0m-7.2 -26.2h0m46.2 36.8h0m-72.2 -37.0h0m64.3 2.1h0m26.3 -33.8h0m-33.8 21.6h0m-2.6 27.3h0m33.4 -24.4h0m-68.0 -23.0h0m66.8 55.3h0m-54.4 -21.4h0m-25.7 1.4h0m53.6 28.5h0m-9.2 0.1h0m46.2 -41.5h0m-65.3 3.4h0m-46.7 34.7h0m62.4 -28.3h0m-46.0 24.5h0m-27.8 -17.9h0m43.6 -10.1h0m55.2 0.2h0m-43.5 22.9h0m22.7 -38.6h0m8.1 29.5h0m1.4 -33.2h0m-18.0 49.6h0m-16.2 -0.6h0m14.9 -38.8h0m14.3 9.1h0m-2.3 1.7h0m37.6 3.6h0m-72.0 0.2h0m23.7 43.6h0m19.9 -51.5h0m17.0 24.9h0m-69.6 18.9h0m38.8 -24.4h0m53.8 -8.6h0m-88.5 18.2h0m8.4 -3.8h0m-24.7 -5.7h0m5.0 -5.1h0m19.7 -3.6h0m22.5 -37.9h0m30.2 58.0h0m-24.3 -26.2h0m-39.3 19.4h0m61.2 12.0h0m-41.7 -19.3h0m12.5 14.3h0m-62.4 8.7h0m59.1 -8.5h0m13.0 -38.2h0m21.4 8.6h0m-57.5 4.0h0m81.3 20.1h0m-76.3 -1.1h0m63.2 12.9h0m-65.1 -62.9h0m10.2 69.1h0m30.1 -32.4h0m-36.6 -6.3h0m-49.2 41.3h0m75.3 -50.0h0m-39.5 39.2h0m28.7 -24.7h0m-1.5 -3.5h0m12.2 15.4h0m8.2 9.2h0m61.9 -31.0h0m-101.0 26.3h0m25.8 -21.1h0m9.6 -22.8h0m-64.8 40.4h0m85.6 -11.3h0m-35.1 10.9h0m-30.9 -42.7h0m35.5 37.2h0m-44.3 3.9h0m7.1 -21.8h0m77.7 1.5h0m-8.8 32.3h0m3.7 -105.1h0m-52.4 69.3h0m23.3 13.2h0m-3.3 6.7h0m-17.7 -3.7h0m27.1 -3.8h0m-0.7 17.5h0m18.9 -7.1h0m-36.1 25.0h0m38.3 -43.4h0m-58.2 -14.9h0m-24.3 43.4h0m37.5 -0.7h0m55.6 -6.2h0m-24.0 -19.4h0m-30.4 15.5h0m33.1 5.9h0m-39.2 -12.1h0m39.7 20.2h0m-32.1 -27.5h0m44.4 1.9h0m-55.2 15.0h0m34.6 -25.9h0m-42.6 3.3h0m60.3 27.4h0m-60.1 0.3h0m-5.7 9.7h0m26.5 -13.4h0m53.3 -63.6h0m-62.1 49.6h0m-18.9 3.2h0m46.8 7.5h0m-24.7 -30.0h0m-27.4 43.0h0m42.1 0.6h0m-17.3 -13.2h0m39.5 9.6h0m-51.6 -46.7h0m-0.6 65.9h0m26.8 -45.3h0m66.2 -44.9h0m-71.9 52.3h0m3.7 26.9h0m5.4 -57.9h0m29.0 21.0h0m21.1 10.0h0m-75.7 -1.2h0m23.5 -5.5h0m-78.8 30.0h0m88.1 -10.8h0m-44.3 -38.7h0m0.1 29.4h0m-12.3 -11.9h0m33.2 -8.3h0m0.7 -6.5h0m25.1 26.8h0m-62.4 1.0h0m11.0 22.2h0m-4.1 -33.0h0m28.3 -0.5h0m14.3 31.8h0m1.0 -50.9h0m-13.5 13.2h0m4.8 -12.4h0m-0.4 26.0h0m-10.0 17.5h0m12.4 -6.7h0m29.4 -62.4h0m-36.4 72.1h0m71.4 -60.2h0m-79.9 20.4h0m-42.6 6.8h0m104.5 35.5h0m-59.6 -26.1h0m29.9 -35.2h0m-24.8 -2.7h0m24.9 18.9h0m4.9 20.3h0m22.3 5.5h0m-62.2 13.7h0m11.9 -35.8h0m37.1 28.4h0m-38.3 -23.5h0m55.0 12.2h0m-47.1 -10.4h0m-1.5 20.6h0m-35.7 -24.8h0m30.6 19.7h0m25.9 -2.6h0m39.2 3.6h0m-75.6 -30.0h0m45.1 5.3h0m-34.8 32.4h0m-36.9 4.4h0m29.4 -27.3h0m44.1 -18.7h0m-27.2 27.7h0m-4.4 2.6h0m24.8 -12.7h0m-27.8 -7.2h0m-10.2 24.4h0m31.5 -15.5h0m-35.2 25.2h0m38.9 -47.6h0m-42.5 29.3h0m48.0 -13.4h0m-56.0 12.8h0m20.3 -4.1h0m-23.8 24.7h0m54.2 -14.1h0m-28.0 2.0h0m8.0 -14.2h0" stroke="#ff0000" stroke-width="1.3" stroke-linecap="square" fill="none"/>
<rect x="769.3" y="1258.3" width="280.3" height="281.2" fill="none" stroke="#000" stroke-width="1.5"/>
<line x1="860.6" y1="1258.3" x2="860.6" y2="1539.5" stroke="#000" stroke-width="2.1"/>
<line x1="769.3" y1="1456.0" x2="1049.6" y2="1456.0" stroke="#000" stroke-width="2.1"/>
<text x="923.6" y="1247.3" font-size="23.5" text-anchor="middle">sh-HMG20A</text>
<text x="777.3" y="1276.1" font-size="15.8">0.07</text>
<text x="1045.9" y="1276.1" font-size="15.8" text-anchor="end">2.84</text>
<text x="773.1" y="1525.5" font-size="12.8" font-weight="normal" fill="#2a2a2a">87.7</text>
<text x="1045.9" y="1528.9" font-size="15.8" text-anchor="end">9.37</text>
<path d="M761.8 1284.1H769.3M761.8 1348.4H769.3M761.8 1416.3H769.3M761.8 1481.0H769.3M761.8 1517.6H769.3M761.8 1539.5H769.3M765.6 1329.1H769.3M765.6 1317.7H769.3M765.6 1309.7H769.3M765.6 1303.5H769.3M765.6 1298.4H769.3M765.6 1294.1H769.3M765.6 1290.3H769.3M765.6 1287.0H769.3M765.6 1395.9H769.3M765.6 1383.9H769.3M765.6 1375.4H769.3M765.6 1368.9H769.3M765.6 1363.5H769.3M765.6 1358.9H769.3M765.6 1355.0H769.3M765.6 1351.5H769.3M765.6 1461.5H769.3M765.6 1450.2H769.3M765.6 1442.1H769.3M765.6 1435.8H769.3M765.6 1430.7H769.3M765.6 1426.4H769.3M765.6 1422.6H769.3M765.6 1419.3H769.3M765.6 1265.3H769.3M765.6 1487.0H769.3M765.6 1493.2H769.3M765.6 1499.4H769.3M765.6 1505.6H769.3M765.6 1511.8H769.3M765.6 1517.9H769.3M765.6 1524.1H769.3M765.6 1530.3H769.3M765.6 1536.5H769.3M794.2 1539.5V1546.5M826.8 1539.5V1546.5M893.5 1539.5V1546.5M957.9 1539.5V1546.5M1021.9 1539.5V1546.5M846.8 1539.5V1543.2M858.6 1539.5V1543.2M866.9 1539.5V1543.2M873.4 1539.5V1543.2M878.7 1539.5V1543.2M883.1 1539.5V1543.2M887.0 1539.5V1543.2M890.4 1539.5V1543.2M912.9 1539.5V1543.2M924.2 1539.5V1543.2M932.3 1539.5V1543.2M938.5 1539.5V1543.2M943.6 1539.5V1543.2M948.0 1539.5V1543.2M951.7 1539.5V1543.2M955.0 1539.5V1543.2M977.2 1539.5V1543.2M988.4 1539.5V1543.2M996.4 1539.5V1543.2M1002.6 1539.5V1543.2M1007.7 1539.5V1543.2M1012.0 1539.5V1543.2M1015.7 1539.5V1543.2M1018.9 1539.5V1543.2M1041.1 1539.5V1543.2M773.3 1539.5V1543.2M777.9 1539.5V1543.2M782.5 1539.5V1543.2M787.1 1539.5V1543.2M791.6 1539.5V1543.2M796.2 1539.5V1543.2M800.8 1539.5V1543.2M805.4 1539.5V1543.2M810.0 1539.5V1543.2M814.6 1539.5V1543.2M819.2 1539.5V1543.2M823.8 1539.5V1543.2" stroke="#000" stroke-width="1.3" fill="none"/>
<rect x="790.2" y="1539.5" width="9" height="6" fill="#000"/>
<rect x="763.3" y="1496.1" width="6" height="8" fill="#000"/>
<text x="754.5" y="1284.1" font-size="15.3" text-anchor="middle" transform="rotate(-90 754.5 1284.1)">10<tspan font-size="9.2" dy="-6.4">5</tspan></text>
<text x="754.5" y="1348.4" font-size="15.3" text-anchor="middle" transform="rotate(-90 754.5 1348.4)">10<tspan font-size="9.2" dy="-6.4">4</tspan></text>
<text x="754.5" y="1416.3" font-size="15.3" text-anchor="middle" transform="rotate(-90 754.5 1416.3)">10<tspan font-size="9.2" dy="-6.4">3</tspan></text>
<text x="754.5" y="1481.0" font-size="15.3" text-anchor="middle" transform="rotate(-90 754.5 1481.0)">10<tspan font-size="9.2" dy="-6.4">2</tspan></text>
<text x="754.5" y="1517.6" font-size="15.3" text-anchor="middle" transform="rotate(-90 754.5 1517.6)">0</text>
<text x="754.5" y="1539.5" font-size="15.3" text-anchor="middle" transform="rotate(-90 754.5 1539.5)">-10<tspan font-size="9.2" dy="-6.4">2</tspan></text>
<text x="794.2" y="1564.1" font-size="15.8" text-anchor="middle">0</text>
<text x="896.0" y="1564.1" font-size="15.3" text-anchor="middle">10<tspan font-size="9.2" dy="-6.4">3</tspan></text>
<text x="960.4" y="1564.1" font-size="15.3" text-anchor="middle">10<tspan font-size="9.2" dy="-6.4">4</tspan></text>
<text x="1024.4" y="1564.1" font-size="15.3" text-anchor="middle">10<tspan font-size="9.2" dy="-6.4">5</tspan></text>
<text x="814.3" y="1582.1" font-size="14.8">Comp-FITC-A::AnnexinV</text>
<text x="729.7" y="1397.6" font-size="14.5" text-anchor="middle" transform="rotate(-90 729.7 1397.6)">Comp-PE-A::PI</text>
<line x1="1154.0" y1="824.4" x2="1154.0" y2="1123.9" stroke="#000" stroke-width="2.4"/>
<line x1="1146.0" y1="1122.8" x2="1413.0" y2="1122.8" stroke="#000" stroke-width="2.5"/>
<line x1="1146.0" y1="1122.8" x2="1154.0" y2="1122.8" stroke="#000" stroke-width="2.4"/>
<text x="1142.4" y="1130.0" font-size="21" text-anchor="end">0</text>
<line x1="1146.0" y1="1048.5" x2="1154.0" y2="1048.5" stroke="#000" stroke-width="2.4"/>
<text x="1142.4" y="1055.7" font-size="21" text-anchor="end">5</text>
<line x1="1146.0" y1="974.1" x2="1154.0" y2="974.1" stroke="#000" stroke-width="2.4"/>
<text x="1142.4" y="981.4" font-size="21" text-anchor="end">10</text>
<line x1="1146.0" y1="899.8" x2="1154.0" y2="899.8" stroke="#000" stroke-width="2.4"/>
<text x="1142.4" y="907.0" font-size="21" text-anchor="end">15</text>
<line x1="1146.0" y1="825.5" x2="1154.0" y2="825.5" stroke="#000" stroke-width="2.4"/>
<text x="1142.4" y="832.7" font-size="21" text-anchor="end">20</text>
<rect x="1178.3" y="990.3" width="55.0" height="132.5" fill="#000"/>
<line x1="1205.8" y1="991.3" x2="1205.8" y2="981.3" stroke="#000" stroke-width="3"/>
<line x1="1193.4" y1="981.3" x2="1218.2" y2="981.3" stroke="#000" stroke-width="2.6"/>
<line x1="1205.8" y1="1122.8" x2="1205.8" y2="1131.3" stroke="#000" stroke-width="2.5"/>
<rect x="1255.0" y="975.0" width="55.6" height="147.8" fill="#a09fa4"/>
<line x1="1282.8" y1="976.0" x2="1282.8" y2="966.5" stroke="#000" stroke-width="3"/>
<line x1="1270.4" y1="966.5" x2="1295.2" y2="966.5" stroke="#000" stroke-width="2.6"/>
<line x1="1282.8" y1="1122.8" x2="1282.8" y2="1131.3" stroke="#000" stroke-width="2.5"/>
<rect x="1332.0" y="866.0" width="55.0" height="256.8" fill="#808080"/>
<line x1="1359.5" y1="867.0" x2="1359.5" y2="857.5" stroke="#000" stroke-width="3"/>
<line x1="1347.1" y1="857.5" x2="1371.9" y2="857.5" stroke="#000" stroke-width="2.6"/>
<line x1="1359.5" y1="1122.8" x2="1359.5" y2="1131.3" stroke="#000" stroke-width="2.5"/>
<text x="1361.5" y="857.5" font-size="29" text-anchor="middle">**</text>
<text x="1269.5" y="821.6" font-size="25" text-anchor="middle">SW620/5-FU</text>
<text x="1103.8" y="974.5" font-size="28.6" text-anchor="middle" transform="rotate(-90 1103.8 974.5)">Apotosis rate (%)</text>
<text x="1210.8" y="1144.6" font-size="22" text-anchor="end" transform="rotate(-45 1210.8 1144.6)">Control</text>
<text x="1295.3" y="1150.2" font-size="22" text-anchor="end" transform="rotate(-45 1295.3 1150.2)">sh-NC</text>
<text x="1368.6" y="1143.1" font-size="21.5" text-anchor="end" transform="rotate(-45 1368.6 1143.1)">sh-HMG20A</text>
<line x1="1163.7" y1="1261.8" x2="1163.7" y2="1550.1" stroke="#000" stroke-width="2.4"/>
<line x1="1155.7" y1="1549.0" x2="1413.0" y2="1549.0" stroke="#000" stroke-width="2.5"/>
<line x1="1155.7" y1="1549.0" x2="1163.7" y2="1549.0" stroke="#000" stroke-width="2.4"/>
<text x="1152.1" y="1556.2" font-size="21" text-anchor="end">0</text>
<line x1="1155.7" y1="1453.6" x2="1163.7" y2="1453.6" stroke="#000" stroke-width="2.4"/>
<text x="1152.1" y="1460.8" font-size="21" text-anchor="end">5</text>
<line x1="1155.7" y1="1358.3" x2="1163.7" y2="1358.3" stroke="#000" stroke-width="2.4"/>
<text x="1152.1" y="1365.5" font-size="21" text-anchor="end">10</text>
<line x1="1155.7" y1="1262.9" x2="1163.7" y2="1262.9" stroke="#000" stroke-width="2.4"/>
<text x="1152.1" y="1270.1" font-size="21" text-anchor="end">15</text>
<rect x="1187.0" y="1417.1" width="53.0" height="131.9" fill="#000"/>
<line x1="1213.5" y1="1418.1" x2="1213.5" y2="1405.4" stroke="#000" stroke-width="3"/>
<line x1="1201.1" y1="1405.4" x2="1225.9" y2="1405.4" stroke="#000" stroke-width="2.6"/>
<line x1="1213.5" y1="1549.0" x2="1213.5" y2="1557.5" stroke="#000" stroke-width="2.5"/>
<rect x="1261.0" y="1437.0" width="53.0" height="112.0" fill="#a09fa4"/>
<line x1="1287.5" y1="1438.0" x2="1287.5" y2="1425.0" stroke="#000" stroke-width="3"/>
<line x1="1275.1" y1="1425.0" x2="1299.9" y2="1425.0" stroke="#000" stroke-width="2.6"/>
<line x1="1287.5" y1="1549.0" x2="1287.5" y2="1557.5" stroke="#000" stroke-width="2.5"/>
<rect x="1335.0" y="1291.4" width="53.0" height="257.6" fill="#808080"/>
<line x1="1361.5" y1="1292.4" x2="1361.5" y2="1278.7" stroke="#000" stroke-width="3"/>
<line x1="1349.1" y1="1278.7" x2="1373.9" y2="1278.7" stroke="#000" stroke-width="2.6"/>
<line x1="1361.5" y1="1549.0" x2="1361.5" y2="1557.5" stroke="#000" stroke-width="2.5"/>
<text x="1362.0" y="1279.5" font-size="29" text-anchor="middle">**</text>
<text x="1266.7" y="1255.3" font-size="25" text-anchor="middle">HCT-116/5-FU</text>
<text x="1115.7" y="1406.0" font-size="28.6" text-anchor="middle" transform="rotate(-90 1115.7 1406.0)">Apotosis rate (%)</text>
<text x="1221.9" y="1573.7" font-size="21.5" text-anchor="end" transform="rotate(-45 1221.9 1573.7)">Control</text>
<text x="1298.9" y="1574.4" font-size="21.5" text-anchor="end" transform="rotate(-45 1298.9 1574.4)">sh-NC</text>
<text x="1374.5" y="1567.2" font-size="21.3" text-anchor="end" transform="rotate(-45 1374.5 1567.2)">sh-HMG20A</text>
<text x="15.7" y="1680.0" font-size="45">F</text>
<defs>
<filter id="tf00" x="0" y="0" width="100%" height="100%" color-interpolation-filters="sRGB"><feTurbulence type="fractalNoise" baseFrequency="0.6" numOctaves="2" seed="4"/><feColorMatrix type="matrix" values="0.24 0 0 0 0.653  0.24 0 0 0 0.660  0.24 0 0 0 0.684  0 0 0 0 1"/></filter>
<filter id="tf01" x="0" y="0" width="100%" height="100%" color-interpolation-filters="sRGB"><feTurbulence type="fractalNoise" baseFrequency="0.6" numOctaves="2" seed="5"/><feColorMatrix type="matrix" values="0.24 0 0 0 0.653  0.24 0 0 0 0.660  0.24 0 0 0 0.684  0 0 0 0 1"/></filter>
<filter id="tf02" x="0" y="0" width="100%" height="100%" color-interpolation-filters="sRGB"><feTurbulence type="fractalNoise" baseFrequency="0.6" numOctaves="2" seed="6"/><feColorMatrix type="matrix" values="0.24 0 0 0 0.660  0.24 0 0 0 0.668  0.24 0 0 0 0.692  0 0 0 0 1"/></filter>
<filter id="tf10" x="0" y="0" width="100%" height="100%" color-interpolation-filters="sRGB"><feTurbulence type="fractalNoise" baseFrequency="0.6" numOctaves="2" seed="7"/><feColorMatrix type="matrix" values="0.24 0 0 0 0.574  0.24 0 0 0 0.574  0.24 0 0 0 0.594  0 0 0 0 1"/></filter>
<filter id="tf11" x="0" y="0" width="100%" height="100%" color-interpolation-filters="sRGB"><feTurbulence type="fractalNoise" baseFrequency="0.6" numOctaves="2" seed="8"/><feColorMatrix type="matrix" values="0.24 0 0 0 0.586  0.24 0 0 0 0.582  0.24 0 0 0 0.594  0 0 0 0 1"/></filter>
<filter id="tf12" x="0" y="0" width="100%" height="100%" color-interpolation-filters="sRGB"><feTurbulence type="fractalNoise" baseFrequency="0.6" numOctaves="2" seed="9"/><feColorMatrix type="matrix" values="0.24 0 0 0 0.582  0.24 0 0 0 0.574  0.24 0 0 0 0.578  0 0 0 0 1"/></filter>
<filter id="tf20" x="0" y="0" width="100%" height="100%" color-interpolation-filters="sRGB"><feTurbulence type="fractalNoise" baseFrequency="0.6" numOctaves="2" seed="10"/><feColorMatrix type="matrix" values="0.24 0 0 0 0.617  0.24 0 0 0 0.625  0.24 0 0 0 0.614  0 0 0 0 1"/></filter>
<filter id="tf21" x="0" y="0" width="100%" height="100%" color-interpolation-filters="sRGB"><feTurbulence type="fractalNoise" baseFrequency="0.6" numOctaves="2" seed="11"/><feColorMatrix type="matrix" values="0.24 0 0 0 0.656  0.24 0 0 0 0.653  0.24 0 0 0 0.645  0 0 0 0 1"/></filter>
<filter id="tf22" x="0" y="0" width="100%" height="100%" color-interpolation-filters="sRGB"><feTurbulence type="fractalNoise" baseFrequency="0.6" numOctaves="2" seed="12"/><feColorMatrix type="matrix" values="0.24 0 0 0 0.641  0.24 0 0 0 0.649  0.24 0 0 0 0.672  0 0 0 0 1"/></filter>
</defs>
<rect x="129.1" y="1684.3" width="168.6" height="125.9" filter="url(#tf00)"/>
<rect x="179.1" y="1684.3" width="71.9" height="125.9" fill="#c1c4c6"/>
<line x1="179.1" y1="1684.3" x2="179.1" y2="1810.2" stroke="#000" stroke-width="2"/>
<line x1="251.0" y1="1684.3" x2="251.0" y2="1810.2" stroke="#000" stroke-width="2"/>
<rect x="307.8" y="1684.3" width="166.6" height="125.9" filter="url(#tf01)"/>
<rect x="355.0" y="1684.3" width="73.0" height="125.9" fill="#c2c5c7"/>
<line x1="355.0" y1="1684.3" x2="355.0" y2="1810.2" stroke="#000" stroke-width="2"/>
<line x1="428.0" y1="1684.3" x2="428.0" y2="1810.2" stroke="#000" stroke-width="2"/>
<rect x="484.5" y="1684.3" width="167.0" height="125.9" filter="url(#tf02)"/>
<rect x="533.7" y="1684.3" width="73.3" height="125.9" fill="#c4c7c9"/>
<line x1="533.7" y1="1684.3" x2="533.7" y2="1810.2" stroke="#000" stroke-width="2"/>
<line x1="607.0" y1="1684.3" x2="607.0" y2="1810.2" stroke="#000" stroke-width="2"/>
<rect x="129.1" y="1820.1" width="168.6" height="126.2" filter="url(#tf10)"/>
<rect x="186.7" y="1820.1" width="59.9" height="126.2" fill="#b4b4b6"/>
<line x1="186.7" y1="1820.1" x2="186.7" y2="1946.3" stroke="#000" stroke-width="2"/>
<line x1="246.6" y1="1820.1" x2="246.6" y2="1946.3" stroke="#000" stroke-width="2"/>
<rect x="307.8" y="1820.1" width="166.6" height="126.2" filter="url(#tf11)"/>
<rect x="361.0" y="1820.1" width="60.5" height="126.2" fill="#bbbab9"/>
<line x1="361.0" y1="1820.1" x2="361.0" y2="1946.3" stroke="#000" stroke-width="2"/>
<line x1="421.5" y1="1820.1" x2="421.5" y2="1946.3" stroke="#000" stroke-width="2"/>
<rect x="484.5" y="1820.1" width="167.0" height="126.2" filter="url(#tf12)"/>
<rect x="536.0" y="1820.1" width="63.0" height="126.2" fill="#b8b6b3"/>
<line x1="536.0" y1="1820.1" x2="536.0" y2="1946.3" stroke="#000" stroke-width="2"/>
<line x1="599.0" y1="1820.1" x2="599.0" y2="1946.3" stroke="#000" stroke-width="2"/>
<rect x="129.1" y="1957" width="168.6" height="126.0" filter="url(#tf20)"/>
<rect x="189.0" y="1957.0" width="46.0" height="126.0" fill="#bec0bd"/>
<line x1="189.0" y1="1957.0" x2="189.0" y2="2083.0" stroke="#000" stroke-width="2"/>
<line x1="235.0" y1="1957.0" x2="235.0" y2="2083.0" stroke="#000" stroke-width="2"/>
<rect x="307.8" y="1957" width="166.6" height="126.0" filter="url(#tf21)"/>
<rect x="367.5" y="1957.0" width="51.0" height="126.0" fill="#d0d0ce"/>
<line x1="367.5" y1="1957.0" x2="367.5" y2="2083.0" stroke="#000" stroke-width="2"/>
<line x1="418.5" y1="1957.0" x2="418.5" y2="2083.0" stroke="#000" stroke-width="2"/>
<rect x="484.5" y="1957" width="167.0" height="126.0" filter="url(#tf22)"/>
<rect x="538.5" y="1957.0" width="58.0" height="126.0" fill="#cdced0"/>
<line x1="538.5" y1="1957.0" x2="538.5" y2="2083.0" stroke="#000" stroke-width="2"/>
<line x1="596.5" y1="1957.0" x2="596.5" y2="2083.0" stroke="#000" stroke-width="2"/>
<rect x="812" y="1683.5" width="165.5" height="124.0" filter="url(#tf00)"/>
<rect x="862.0" y="1683.5" width="71.5" height="124.0" fill="#c1c4c6"/>
<line x1="862.0" y1="1683.5" x2="862.0" y2="1807.5" stroke="#000" stroke-width="2"/>
<line x1="933.5" y1="1683.5" x2="933.5" y2="1807.5" stroke="#000" stroke-width="2"/>
<rect x="988.5" y="1683.5" width="164.0" height="124.0" filter="url(#tf01)"/>
<rect x="1036.0" y="1683.5" width="74.0" height="124.0" fill="#c2c5c7"/>
<line x1="1036.0" y1="1683.5" x2="1036.0" y2="1807.5" stroke="#000" stroke-width="2"/>
<line x1="1110.0" y1="1683.5" x2="1110.0" y2="1807.5" stroke="#000" stroke-width="2"/>
<rect x="1164.5" y="1683.5" width="165.5" height="124.0" filter="url(#tf02)"/>
<rect x="1215.0" y="1683.5" width="69.5" height="124.0" fill="#c4c7c9"/>
<line x1="1215.0" y1="1683.5" x2="1215.0" y2="1807.5" stroke="#000" stroke-width="2"/>
<line x1="1284.5" y1="1683.5" x2="1284.5" y2="1807.5" stroke="#000" stroke-width="2"/>
<rect x="812" y="1821" width="165.5" height="123.0" filter="url(#tf10)"/>
<rect x="862.5" y="1821.0" width="62.5" height="123.0" fill="#b4b4b6"/>
<line x1="862.5" y1="1821.0" x2="862.5" y2="1944.0" stroke="#000" stroke-width="2"/>
<line x1="925.0" y1="1821.0" x2="925.0" y2="1944.0" stroke="#000" stroke-width="2"/>
<rect x="988.5" y="1821" width="164.0" height="123.0" filter="url(#tf11)"/>
<rect x="1038.5" y="1821.0" width="61.0" height="123.0" fill="#bbbab9"/>
<line x1="1038.5" y1="1821.0" x2="1038.5" y2="1944.0" stroke="#000" stroke-width="2"/>
<line x1="1099.5" y1="1821.0" x2="1099.5" y2="1944.0" stroke="#000" stroke-width="2"/>
<rect x="1164.5" y="1821" width="165.5" height="123.0" filter="url(#tf12)"/>
<rect x="1212.0" y="1821.0" width="68.0" height="123.0" fill="#b8b6b3"/>
<line x1="1212.0" y1="1821.0" x2="1212.0" y2="1944.0" stroke="#000" stroke-width="2"/>
<line x1="1280.0" y1="1821.0" x2="1280.0" y2="1944.0" stroke="#000" stroke-width="2"/>
<rect x="812" y="1957.5" width="165.5" height="123.5" filter="url(#tf20)"/>
<rect x="872.5" y="1957.5" width="43.5" height="123.5" fill="#bec0bd"/>
<line x1="872.5" y1="1957.5" x2="872.5" y2="2081.0" stroke="#000" stroke-width="2"/>
<line x1="916.0" y1="1957.5" x2="916.0" y2="2081.0" stroke="#000" stroke-width="2"/>
<rect x="988.5" y="1957.5" width="164.0" height="123.5" filter="url(#tf21)"/>
<rect x="1048.0" y="1957.5" width="44.5" height="123.5" fill="#d0d0ce"/>
<line x1="1048.0" y1="1957.5" x2="1048.0" y2="2081.0" stroke="#000" stroke-width="2"/>
<line x1="1092.5" y1="1957.5" x2="1092.5" y2="2081.0" stroke="#000" stroke-width="2"/>
<rect x="1164.5" y="1957.5" width="165.5" height="123.5" filter="url(#tf22)"/>
<rect x="1219.5" y="1957.5" width="57.0" height="123.5" fill="#cdced0"/>
<line x1="1219.5" y1="1957.5" x2="1219.5" y2="2081.0" stroke="#000" stroke-width="2"/>
<line x1="1276.5" y1="1957.5" x2="1276.5" y2="2081.0" stroke="#000" stroke-width="2"/>
<text x="216.5" y="1674.2" font-size="20.6" text-anchor="middle">Control</text>
<text x="397.2" y="1674.2" font-size="20.6" text-anchor="middle">sh-NC</text>
<text x="576.1" y="1674.2" font-size="20.6" text-anchor="middle">sh-HMG20A</text>
<text x="899.0" y="1672.5" font-size="20.6" text-anchor="middle">Control</text>
<text x="1079.0" y="1672.5" font-size="20.6" text-anchor="middle">sh-NC</text>
<text x="1255.0" y="1672.5" font-size="20.6" text-anchor="middle">sh-HMG20A</text>
<text x="122.8" y="1755.7" font-size="20.6" text-anchor="end">0h</text>
<text x="126.3" y="1888.0" font-size="20.6" text-anchor="end">48h</text>
<text x="126.3" y="2023.0" font-size="20.6" text-anchor="end">72h</text>
<text x="806.5" y="1754.0" font-size="20.6" text-anchor="end">0h</text>
<text x="810.0" y="1888.0" font-size="20.6" text-anchor="end">48h</text>
<text x="810.0" y="2022.0" font-size="20.6" text-anchor="end">72h</text>
<text x="66.6" y="1884.2" font-size="26.5" text-anchor="middle" transform="rotate(-90 66.6 1884.2)">HCT-116/5-FU</text>
<text x="753.0" y="1888.8" font-size="26.5" text-anchor="middle" transform="rotate(-90 753.0 1888.8)">SW620-116/5-FU</text>
<line x1="604.0" y1="2072.0" x2="639.0" y2="2072.0" stroke="#000" stroke-width="2.5"/>
<line x1="1284.5" y1="2073.5" x2="1317.0" y2="2073.5" stroke="#000" stroke-width="2.5"/>
<text x="11.7" y="2133.2" font-size="45">G</text>
<defs>
<radialGradient id="rim1"><stop offset="0.86" stop-color="#f4f4f9"/><stop offset="0.96" stop-color="#dcdcf0"/><stop offset="1" stop-color="#9a9ad4"/></radialGradient>
<radialGradient id="rim2"><stop offset="0.82" stop-color="#d8d7e3"/><stop offset="0.95" stop-color="#c0bedf"/><stop offset="1" stop-color="#8580d0"/></radialGradient>
</defs>
<rect x="123.6" y="2126.3" width="171.3" height="169.3" fill="#f2f0e2"/>
<circle cx="209.2" cy="2210.9" r="83.1" fill="url(#rim1)" stroke="#7c7cc4" stroke-width="1.4"/>
<path d="M198.1 2132.8h0m6.3 0.1h0m5.7 -0.2h0m3.4 -0.1h0m10.6 0.2h0m-47.7 6.2h0m4.3 -0.0h0m4.3 -1.6h0m1.5 -2.7h0m2.7 4.0h0m1.2 -4.9h0m0.6 3.5h0m6.0 -1.5h0m0.9 1.1h0m1.1 -0.8h0m1.0 -1.7h0m1.4 1.8h0m1.5 -2.6h0m1.5 1.1h0m2.2 2.2h0m1.8 -0.2h0m1.5 0.7h0m0.8 -2.3h0m0.6 -0.1h0m0.9 -0.6h0m0.4 -0.8h0m1.0 4.1h0m1.3 0.2h0m1.2 0.3h0m0.4 -0.4h0m1.8 -3.9h0m1.1 0.2h0m0.4 -0.4h0m1.2 3.4h0m1.1 0.0h0m1.8 -1.3h0m1.9 0.8h0m1.2 0.5h0m0.3 1.9h0m0.5 -2.5h0m0.8 -2.7h0m2.6 4.3h0m1.2 -1.0h0m2.7 1.4h0m3.4 0.6h0m0.8 -0.2h0m0.3 -0.4h0m-70.6 6.5h0m3.0 -3.9h0m0.5 -0.6h0m1.4 0.1h0m0.4 0.7h0m0.1 0.3h0m0.9 3.1h0m2.0 -1.4h0m1.1 -3.8h0m0.6 3.7h0m0.8 -2.4h0m0.4 -1.8h0m2.1 0.2h0m2.4 3.4h0m0.2 1.1h0m1.1 -2.2h0m3.2 -1.5h0m1.2 0.8h0m1.9 1.0h0m2.9 -1.6h0m1.3 4.2h0m0.5 -0.8h0m1.3 -0.3h0m2.0 -2.3h0m2.1 -0.2h0m3.9 2.0h0m0.7 0.2h0m4.5 -3.8h0m4.2 -0.0h0m2.6 1.6h0m0.7 -1.1h0m2.5 4.4h0m3.6 -1.4h0m2.6 1.5h0m6.1 -5.0h0m0.6 4.7h0m2.0 0.7h0m2.6 -2.3h0m2.3 -0.7h0m0.3 2.2h0m1.9 -2.3h0m2.3 3.0h0m2.3 -2.2h0m1.9 0.1h0m-91.7 8.0h0m0.3 -0.9h0m2.7 -0.5h0m3.9 -2.9h0m2.2 3.8h0m1.1 -0.3h0m0.4 -4.0h0m2.6 1.1h0m2.3 1.2h0m10.6 0.9h0m3.8 -0.5h0m1.3 0.5h0m2.2 -4.0h0m0.9 3.8h0m3.5 1.8h0m1.5 -4.3h0m3.0 -0.6h0m0.7 1.0h0m2.1 0.9h0m1.7 -1.2h0m2.0 -1.1h0m2.4 1.7h0m4.1 -2.0h0m2.8 0.8h0m1.5 4.4h0m1.4 -2.3h0m2.8 0.9h0m3.9 -1.9h0m5.0 0.1h0m1.9 -1.3h0m1.7 -0.1h0m5.1 1.0h0m1.8 0.6h0m0.6 1.1h0m3.9 -1.0h0m3.8 2.5h0m4.9 -0.2h0m1.3 -2.3h0m2.2 1.2h0m-105.3 7.4h0m2.6 -0.0h0m1.3 -0.6h0m2.2 1.2h0m2.2 -1.8h0m1.9 -2.9h0m2.6 1.2h0m0.6 -0.6h0m6.3 3.7h0m0.7 -3.8h0m0.7 -1.3h0m4.1 4.1h0m3.9 -2.8h0m3.2 1.6h0m5.2 2.9h0m1.3 -5.6h0m6.6 3.7h0m6.2 1.8h0m0.3 -0.8h0m5.2 -1.5h0m3.9 2.2h0m0.6 -4.7h0m6.1 0.2h0m3.4 2.3h0m1.7 -0.8h0m0.6 -1.8h0m0.5 -0.6h0m2.8 0.6h0m1.1 0.2h0m3.4 4.7h0m3.7 -5.5h0m1.6 5.7h0m0.3 -0.9h0m0.3 -1.3h0m5.9 -1.4h0m4.1 0.6h0m2.0 2.7h0m0.6 -4.5h0m2.5 0.4h0m1.1 3.9h0m2.2 -3.4h0m0.8 -1.4h0m2.3 2.3h0m-114.5 8.4h0m5.6 -5.2h0m2.8 0.7h0m1.4 0.7h0m1.9 -0.8h0m3.2 1.0h0m1.1 -1.4h0m9.4 0.6h0m2.6 2.9h0m4.7 1.9h0m2.5 -3.6h0m4.6 -0.6h0m1.6 0.2h0m1.2 0.2h0m1.7 2.8h0m4.3 -2.4h0m7.4 2.4h0m5.2 -4.5h0m1.9 5.2h0m1.2 -2.2h0m6.2 1.2h0m5.1 -2.4h0m1.3 0.9h0m4.2 -2.9h0m0.9 5.3h0m3.6 -3.0h0m3.1 -0.5h0m5.2 1.2h0m1.4 2.0h0m3.1 -4.3h0m1.8 -0.4h0m1.5 0.4h0m3.6 -0.4h0m2.1 -0.2h0m2.2 -0.2h0m2.3 0.7h0m1.4 4.9h0m1.6 -3.9h0m1.0 1.3h0m1.3 -2.0h0m0.7 0.3h0m2.2 0.8h0m2.3 1.2h0m1.1 1.0h0m1.0 0.1h0m-124.3 6.7h0m0.8 -4.3h0m1.0 -0.2h0m0.4 2.4h0m8.4 2.2h0m2.5 -3.2h0m3.1 2.1h0m1.4 1.8h0m2.2 -2.1h0m2.0 -1.8h0m7.2 2.7h0m2.7 -1.4h0m4.6 2.1h0m8.5 -1.1h0m3.4 -3.6h0m8.1 3.7h0m3.6 1.5h0m1.8 -0.3h0m3.1 -0.9h0m5.5 0.6h0m2.8 -1.7h0m7.3 1.5h0m3.5 -1.3h0m2.3 0.9h0m2.5 -0.0h0m2.9 -0.7h0m1.0 -0.4h0m1.9 0.9h0m1.9 -1.0h0m1.6 0.2h0m2.1 -3.2h0m10.3 1.3h0m4.1 1.1h0m2.5 -2.3h0m1.8 4.5h0m0.3 -2.7h0m1.9 3.3h0m1.9 -4.1h0m1.0 2.2h0m0.8 -0.1h0m2.7 -1.0h0m0.3 3.2h0m-134.4 5.8h0m0.7 -2.1h0m1.3 -0.7h0m1.6 -2.3h0m2.6 3.2h0m0.9 0.4h0m6.8 -0.2h0m0.2 -0.5h0m6.1 -3.0h0m5.2 2.7h0m10.2 -2.1h0m3.1 1.7h0m1.3 -0.8h0m5.5 3.3h0m3.7 -3.4h0m2.5 -0.1h0m0.7 3.3h0m1.3 -0.5h0m2.3 -1.9h0m2.9 2.7h0m1.6 -0.3h0m3.9 0.0h0m0.7 0.6h0m8.7 -2.0h0m5.9 -2.0h0m4.8 2.2h0m2.3 1.4h0m4.4 -2.6h0m2.7 -2.4h0m8.1 2.5h0m4.6 0.3h0m4.6 -2.5h0m1.7 -0.1h0m0.9 4.1h0m1.7 -0.5h0m1.1 0.8h0m1.9 -3.1h0m7.6 1.6h0m0.6 -1.7h0m1.7 1.4h0m2.9 1.3h0m0.9 -3.1h0m3.6 -0.0h0m-139.4 9.4h0m1.3 -0.4h0m0.5 -3.8h0m1.3 4.2h0m1.3 1.0h0m3.6 -3.2h0m0.3 2.8h0m0.4 -2.5h0m0.7 -0.8h0m1.1 3.1h0m1.9 -2.1h0m2.7 -1.3h0m3.5 1.3h0m1.0 2.9h0m1.3 -1.6h0m1.7 0.6h0m1.7 -1.0h0m1.6 -1.2h0m2.2 3.0h0m4.2 -3.9h0m2.2 -1.6h0m3.1 3.2h0m4.4 -0.5h0m3.6 -1.0h0m4.8 1.1h0m0.9 -1.6h0m4.4 0.2h0m2.0 -0.7h0m4.2 3.8h0m3.4 -0.5h0m0.8 -1.5h0m2.9 -1.3h0m0.5 3.1h0m2.1 -0.6h0m7.2 0.8h0m9.6 -1.4h0m2.5 -2.9h0m9.1 5.4h0m3.6 -5.3h0m4.7 1.0h0m2.2 4.2h0m3.8 -2.2h0m1.9 0.2h0m0.9 -1.7h0m7.4 -0.5h0m1.2 3.5h0m5.7 -2.4h0m1.0 0.8h0m2.0 -3.1h0m1.8 3.2h0m3.1 -2.5h0m3.9 -0.6h0m1.2 3.9h0m-145.6 3.6h0m0.2 2.4h0m0.7 -1.4h0m0.7 2.3h0m2.7 -3.8h0m1.4 3.3h0m1.8 -2.8h0m1.5 -0.2h0m1.7 -0.2h0m2.1 3.3h0m2.1 -3.8h0m1.8 3.0h0m0.1 -0.5h0m1.6 -1.6h0m0.5 0.9h0m1.7 -1.2h0m6.3 -0.9h0m3.5 0.7h0m5.4 2.2h0m0.7 -2.5h0m8.2 1.1h0m1.3 1.0h0m3.0 -3.0h0m12.1 3.5h0m5.6 1.0h0m1.8 0.7h0m2.1 -4.0h0m5.7 -0.8h0m2.7 3.6h0m4.7 0.2h0m0.8 -3.6h0m4.2 -0.2h0m9.9 3.4h0m2.2 1.3h0m8.2 -2.9h0m2.3 2.8h0m1.4 -1.2h0m1.3 -2.7h0m1.3 3.8h0m4.9 -0.5h0m5.7 -4.2h0m0.6 5.4h0m3.1 -0.5h0m5.7 0.4h0m1.3 -2.8h0m3.8 -0.7h0m0.9 -0.2h0m1.7 -1.0h0m2.8 1.1h0m2.8 -0.4h0m1.0 3.4h0m-150.8 4.7h0m1.0 -0.7h0m1.5 0.8h0m0.5 -2.3h0m1.8 1.7h0m2.4 -2.7h0m0.9 0.2h0m1.6 1.5h0m2.2 1.2h0m2.3 -2.8h0m6.7 3.0h0m3.8 0.7h0m0.8 -1.4h0m0.4 -0.9h0m1.9 -1.9h0m2.4 1.3h0m6.0 3.6h0m4.3 -1.2h0m4.1 -0.0h0m2.9 -0.7h0m2.6 1.0h0m9.1 -2.6h0m2.7 4.0h0m2.4 -5.5h0m4.1 4.1h0m1.8 0.5h0m3.7 -0.5h0m2.2 -1.1h0m1.5 1.3h0m0.7 1.3h0m0.8 -4.2h0m3.0 3.7h0m7.9 0.3h0m2.6 -2.8h0m0.5 -2.5h0m2.6 2.8h0m1.1 0.8h0m0.9 -3.8h0m2.9 0.8h0m2.0 2.1h0m0.5 -1.5h0m0.9 3.4h0m0.8 -3.5h0m5.6 2.6h0m1.3 -2.9h0m4.2 2.2h0m2.7 2.5h0m1.9 -3.5h0m0.3 2.6h0m2.9 0.7h0m1.0 -0.1h0m3.7 -0.2h0m2.2 -5.1h0m0.9 0.8h0m4.7 1.6h0m0.6 1.3h0m3.1 -3.8h0m1.8 2.3h0m2.2 2.6h0m0.3 -1.3h0m0.7 0.3h0m0.3 0.5h0m0.7 -1.5h0m1.2 0.8h0m1.1 -0.6h0m-147.6 3.5h0m1.8 4.1h0m1.9 -3.4h0m0.9 3.5h0m1.6 0.1h0m7.5 -4.8h0m4.0 4.0h0m4.6 -2.4h0m4.7 0.5h0m0.8 2.8h0m1.2 0.5h0m1.3 -2.7h0m1.4 -1.8h0m1.1 1.1h0m1.5 2.6h0m6.8 -2.5h0m4.2 3.5h0m3.6 0.0h0m6.8 -0.3h0m6.0 -4.2h0m2.6 4.5h0m5.5 -2.8h0m7.3 0.4h0m1.5 1.6h0m1.2 -2.0h0m2.1 1.5h0m5.3 -2.9h0m4.0 1.3h0m5.3 2.5h0m3.5 -4.9h0m2.0 2.7h0m3.1 -0.2h0m2.6 -1.3h0m3.2 -0.9h0m4.0 2.0h0m5.3 -1.5h0m6.9 0.5h0m4.4 1.3h0m0.7 -2.4h0m8.4 4.7h0m0.6 -1.5h0m1.5 -1.7h0m7.5 2.3h0m2.0 -2.9h0m-155.5 7.3h0m2.7 1.9h0m3.6 0.2h0m3.3 -4.8h0m1.6 0.3h0m4.1 2.5h0m2.4 1.1h0m4.3 -3.0h0m5.1 2.7h0m3.2 0.6h0m1.6 0.6h0m1.3 -3.1h0m2.3 -1.6h0m5.8 0.0h0m5.0 0.3h0m3.4 -0.5h0m3.2 3.8h0m12.7 -3.9h0m0.6 -0.0h0m0.8 1.9h0m2.3 1.1h0m1.6 -1.9h0m0.2 -0.1h0m3.2 -0.7h0m1.7 2.2h0m6.0 0.1h0m1.4 0.9h0m5.9 0.0h0m3.5 1.0h0m3.1 -4.3h0m2.0 3.6h0m5.6 -2.4h0m1.4 2.0h0m1.7 2.4h0m2.9 -1.1h0m2.0 -1.2h0m1.5 -0.6h0m6.5 1.1h0m3.1 1.6h0m3.6 -5.5h0m6.0 5.2h0m0.8 -0.3h0m4.7 -3.0h0m4.8 -0.4h0m4.6 -1.2h0m1.6 5.4h0m6.0 -0.9h0m1.8 -2.1h0m-156.8 4.2h0m1.7 -1.0h0m1.0 2.2h0m0.9 0.7h0m2.0 0.5h0m1.3 2.1h0m0.6 -1.4h0m1.3 -3.9h0m4.8 1.4h0m2.3 -1.7h0m0.7 2.6h0m1.1 -1.9h0m3.6 3.2h0m5.3 -2.3h0m4.2 3.4h0m2.6 -0.1h0m1.6 0.9h0m3.0 -0.3h0m1.9 -4.0h0m1.7 0.4h0m1.9 3.4h0m4.9 -2.2h0m4.2 -2.5h0m6.3 -0.3h0m4.5 0.8h0m2.9 3.1h0m3.7 1.1h0m5.9 -1.8h0m3.1 -1.7h0m4.1 0.2h0m5.1 0.4h0m2.2 0.3h0m2.7 1.4h0m3.6 1.2h0m1.5 -2.5h0m1.1 1.7h0m2.3 1.5h0m1.4 -4.7h0m4.0 -0.1h0m2.6 2.8h0m5.3 -1.0h0m1.9 -1.5h0m3.4 -0.5h0m1.2 0.8h0m2.2 3.2h0m2.3 -3.9h0m11.8 -0.0h0m3.4 0.1h0m0.6 0.2h0m5.8 -0.1h0m1.2 -1.2h0m3.6 2.3h0m0.7 1.1h0m0.5 -0.7h0m1.5 -1.8h0m2.5 3.0h0m-158.0 4.6h0m1.2 2.9h0m1.5 -2.8h0m0.3 1.5h0m1.0 -3.1h0m1.3 4.5h0m1.2 -5.1h0m5.2 -0.4h0m0.4 5.9h0m2.4 -5.9h0m3.7 5.4h0m5.7 -2.8h0m2.0 1.5h0m3.0 1.1h0m2.2 0.6h0m1.4 -1.7h0m4.4 1.0h0m5.6 -0.3h0m7.1 -4.3h0m11.9 3.5h0m5.8 0.5h0m0.6 0.7h0m1.7 -0.1h0m4.7 -4.0h0m4.8 -0.4h0m5.6 3.5h0m1.5 -1.2h0m4.1 -2.2h0m7.9 1.1h0m4.2 1.2h0m2.2 0.6h0m3.2 -1.4h0m3.0 0.3h0m1.9 -1.1h0m2.9 -0.5h0m5.1 3.0h0m6.8 -2.7h0m4.2 1.1h0m2.5 2.4h0m2.6 -3.5h0m1.7 0.5h0m2.3 1.6h0m2.6 -0.9h0m1.9 2.1h0m0.6 -2.7h0m3.0 3.7h0m4.2 -4.3h0m1.5 -0.3h0m0.8 4.0h0m0.5 -3.7h0m0.8 2.9h0m0.9 -0.7h0m-155.6 7.5h0m1.5 -1.4h0m3.6 1.2h0m2.4 -2.4h0m2.8 0.8h0m7.1 2.3h0m1.3 -2.9h0m5.0 -2.3h0m3.0 3.0h0m1.4 -1.8h0m1.3 1.5h0m3.5 -2.8h0m8.1 3.2h0m3.0 0.4h0m2.1 -2.5h0m0.9 2.7h0m4.3 -3.3h0m3.4 -0.5h0m2.6 1.8h0m3.8 -1.5h0m3.1 1.9h0m10.3 2.3h0m1.1 -4.3h0m7.5 -0.4h0m5.8 4.9h0m0.9 -3.6h0m2.7 3.6h0m6.5 -1.7h0m3.9 -2.5h0m0.7 4.1h0m3.6 -0.7h0m1.1 -2.8h0m1.3 3.3h0m1.1 -0.3h0m3.1 1.3h0m7.5 -3.0h0m0.6 0.1h0m3.6 -0.0h0m4.9 0.5h0m0.6 -0.2h0m3.7 -1.2h0m4.9 2.8h0m4.2 -0.1h0m3.0 -3.8h0m4.1 0.9h0m2.3 1.9h0m0.5 -0.5h0m0.4 1.6h0m1.3 -3.4h0m-155.4 7.4h0m0.0 -0.9h0m2.6 -1.9h0m1.4 0.2h0m0.0 4.8h0m0.7 0.7h0m1.1 -3.8h0m1.6 1.9h0m0.9 -2.7h0m1.7 1.4h0m1.9 -1.4h0m2.6 2.2h0m0.6 -2.8h0m2.5 4.7h0m3.4 0.3h0m2.9 -1.5h0m4.8 -3.6h0m1.3 1.1h0m2.5 4.3h0m3.3 -1.1h0m0.7 -3.0h0m4.8 -1.1h0m1.3 -0.1h0m6.8 0.5h0m2.8 4.8h0m0.6 -0.8h0m4.1 -0.0h0m5.5 0.5h0m6.5 -1.4h0m3.4 -0.7h0m7.9 -0.9h0m4.3 1.5h0m1.5 -3.3h0m1.9 2.7h0m2.5 -0.8h0m1.9 1.8h0m3.4 -3.1h0m9.7 -1.0h0m2.7 0.5h0m2.0 0.3h0m5.6 -0.1h0m4.5 -0.6h0m5.7 1.7h0m2.8 2.8h0m0.6 -3.8h0m1.7 0.3h0m2.7 3.3h0m5.5 -1.4h0m1.1 -2.7h0m3.0 4.5h0m1.4 -2.5h0m2.4 -2.7h0m0.5 4.3h0m1.8 -2.9h0m1.1 -0.8h0m2.4 0.5h0m0.5 0.2h0m-152.5 8.3h0m1.1 2.1h0m3.1 -5.2h0m3.8 2.7h0m1.4 -2.1h0m4.5 -1.1h0m10.9 2.0h0m6.0 1.5h0m9.5 -2.5h0m1.2 1.2h0m4.5 0.4h0m7.0 3.0h0m4.4 -2.0h0m5.0 0.3h0m2.2 0.7h0m2.7 -2.9h0m1.7 1.4h0m0.3 -1.7h0m6.5 2.1h0m0.8 0.2h0m0.4 -2.5h0m5.2 1.3h0m4.0 1.3h0m7.3 -0.7h0m3.2 1.5h0m3.6 0.1h0m2.3 -0.3h0m1.9 -0.9h0m2.3 1.8h0m2.0 -3.3h0m1.7 -0.9h0m3.9 5.0h0m1.6 -3.6h0m1.8 -1.3h0m2.9 4.6h0m2.2 -1.5h0m3.2 -3.4h0m3.3 0.1h0m3.5 4.3h0m5.9 -0.5h0m2.1 -1.1h0m3.7 -3.4h0m1.9 0.8h0m1.0 4.9h0m1.0 -4.3h0m1.1 1.4h0m0.6 -0.2h0m0.3 -0.2h0m0.7 -0.8h0m-148.3 7.3h0m1.1 -0.6h0m0.4 -1.5h0m4.0 2.0h0m2.3 0.5h0m5.9 -3.0h0m4.2 3.9h0m1.4 0.3h0m1.4 1.0h0m1.0 -2.3h0m4.7 2.7h0m2.4 -3.1h0m1.7 2.9h0m1.0 -2.5h0m3.3 1.9h0m2.5 0.3h0m4.0 -0.7h0m4.3 -1.6h0m2.1 1.6h0m5.9 -4.3h0m3.0 5.3h0m1.3 -5.6h0m0.7 4.2h0m1.3 -0.2h0m0.9 -0.0h0m12.9 -3.7h0m1.6 5.3h0m1.0 -4.5h0m4.8 1.0h0m6.1 2.0h0m2.8 -2.4h0m1.9 1.8h0m3.4 1.0h0m2.6 0.6h0m2.9 -2.2h0m2.3 2.2h0m4.1 -0.1h0m0.4 -2.4h0m0.5 3.3h0m1.2 -4.1h0m3.8 3.9h0m1.1 -5.5h0m3.7 1.0h0m4.7 0.5h0m3.5 0.8h0m5.0 -0.1h0m4.4 3.5h0m3.3 -4.6h0m1.9 0.9h0m1.2 0.4h0m0.9 0.7h0m0.4 -3.2h0m2.6 0.5h0m0.2 -0.6h0m-144.8 10.1h0m0.3 -1.3h0m1.1 2.3h0m0.6 -1.4h0m0.2 0.0h0m4.3 -2.2h0m0.5 -1.4h0m2.6 1.1h0m6.7 2.5h0m0.6 2.3h0m5.8 -5.2h0m2.3 5.0h0m2.7 -3.8h0m7.5 3.5h0m2.4 -4.7h0m4.9 0.8h0m0.6 4.3h0m1.4 -3.8h0m6.1 -0.1h0m2.3 1.9h0m5.6 1.3h0m2.1 -0.6h0m3.9 1.5h0m4.8 -5.1h0m0.6 1.2h0m3.5 3.4h0m0.5 -4.3h0m1.7 4.2h0m6.4 -5.3h0m1.1 3.2h0m1.1 0.9h0m1.2 0.3h0m1.9 -0.5h0m1.1 -0.2h0m9.7 0.8h0m1.0 -4.3h0m5.3 5.4h0m3.1 -1.6h0m0.3 -3.5h0m2.8 2.7h0m2.7 -0.1h0m5.7 1.9h0m0.6 -3.2h0m0.5 0.9h0m1.4 -1.4h0m1.0 1.4h0m3.1 1.2h0m2.1 0.7h0m2.0 -1.2h0m6.2 1.0h0m0.3 1.1h0m3.4 -4.0h0m1.9 2.1h0m1.1 -0.8h0m-139.0 6.8h0m0.5 0.7h0m0.8 -3.8h0m0.9 2.4h0m3.7 2.4h0m1.0 0.1h0m1.0 -5.3h0m3.5 3.2h0m1.4 -2.8h0m1.6 2.0h0m3.9 0.7h0m8.4 -2.0h0m0.4 2.4h0m5.7 -2.6h0m0.8 2.2h0m4.0 -2.6h0m1.0 -0.5h0m4.7 2.3h0m5.3 -1.2h0m3.0 -0.4h0m3.7 3.5h0m0.2 -1.1h0m0.6 -1.7h0m1.7 -0.7h0m3.9 4.0h0m2.6 -4.1h0m2.1 4.0h0m4.7 -1.9h0m5.9 -0.8h0m2.6 -0.7h0m0.5 2.1h0m4.9 -2.6h0m3.8 0.1h0m3.9 1.5h0m0.7 -1.5h0m1.1 4.8h0m1.0 -3.6h0m10.2 1.1h0m5.9 2.0h0m3.6 -5.1h0m0.6 1.1h0m2.7 4.1h0m3.9 -5.4h0m0.6 5.9h0m0.6 -4.2h0m2.0 -0.1h0m0.8 1.7h0m0.9 1.8h0m4.6 -3.3h0m1.5 3.2h0m0.8 -2.8h0m1.8 2.4h0m1.0 -3.1h0m0.1 -0.7h0m-134.6 5.5h0m2.3 1.5h0m0.8 -1.8h0m1.6 1.5h0m1.4 1.4h0m2.1 -1.6h0m2.8 1.5h0m1.1 0.9h0m0.8 -1.9h0m0.8 3.7h0m2.1 -1.5h0m3.4 -1.7h0m1.2 0.7h0m3.4 2.7h0m7.2 -1.6h0m2.3 -0.9h0m5.8 -1.9h0m2.3 2.7h0m5.5 -1.6h0m2.4 2.9h0m4.0 -0.0h0m1.9 -0.1h0m4.5 -3.8h0m3.5 4.4h0m5.5 -4.7h0m5.0 0.4h0m0.4 0.3h0m4.2 2.4h0m1.2 -3.0h0m1.4 1.9h0m2.5 -2.6h0m1.4 5.4h0m7.2 -5.4h0m2.4 4.5h0m8.9 -0.7h0m2.9 0.3h0m4.3 -2.0h0m2.2 -1.9h0m1.0 2.6h0m0.4 -3.3h0m2.0 3.0h0m1.5 2.2h0m1.9 0.6h0m0.6 -1.1h0m3.0 -3.6h0m3.0 1.5h0m0.4 2.6h0m0.8 -4.0h0m-120.0 5.8h0m2.1 1.3h0m1.2 -0.1h0m0.7 -1.0h0m0.9 0.9h0m4.9 -0.7h0m1.4 1.9h0m2.2 0.6h0m7.5 -3.1h0m8.5 -1.0h0m3.9 3.6h0m2.0 -3.1h0m3.5 4.6h0m4.4 -3.4h0m2.4 1.6h0m4.3 1.9h0m6.6 -5.1h0m1.9 0.8h0m9.0 2.5h0m3.6 0.9h0m3.1 1.5h0m2.0 -4.7h0m5.0 1.2h0m2.0 -0.0h0m3.9 3.5h0m2.0 -2.0h0m6.7 -2.5h0m7.5 3.3h0m2.1 0.1h0m1.1 0.9h0m0.4 -5.2h0m2.3 2.8h0m0.4 -2.6h0m1.0 4.5h0m2.7 -1.2h0m1.6 -2.4h0m1.0 -0.2h0m1.1 -1.2h0m-114.3 7.6h0m1.7 1.3h0m0.1 1.7h0m1.6 -1.2h0m1.3 -3.0h0m1.8 0.1h0m2.8 4.3h0m1.7 -3.5h0m1.5 2.7h0m1.4 -2.9h0m2.2 1.7h0m5.5 2.6h0m1.9 -3.8h0m1.8 -0.7h0m0.8 3.4h0m2.0 1.0h0m0.4 -3.0h0m1.7 -1.8h0m1.7 4.1h0m1.7 -3.1h0m1.7 0.6h0m4.4 0.0h0m2.5 -0.6h0m4.1 -0.4h0m2.0 3.9h0m2.6 -4.3h0m0.4 3.0h0m3.2 -1.1h0m3.3 -2.0h0m3.2 0.5h0m1.4 3.5h0m14.0 1.4h0m5.2 -1.3h0m3.3 1.4h0m2.6 -0.6h0m4.4 -1.6h0m3.0 -1.0h0m0.3 3.1h0m3.1 -1.6h0m0.4 -1.0h0m1.7 1.6h0m0.7 -3.2h0m1.6 0.1h0m2.5 -0.9h0m0.6 0.5h0m0.7 0.3h0m1.2 -0.5h0m2.6 1.0h0m0.2 1.3h0m-105.5 2.9h0m2.3 1.4h0m1.9 0.3h0m0.8 1.9h0m2.1 -2.8h0m1.8 -0.5h0m1.9 0.5h0m1.0 5.0h0m0.6 -4.2h0m1.0 1.3h0m2.0 -2.8h0m1.9 5.5h0m1.3 -3.3h0m2.6 3.7h0m1.0 -4.6h0m0.8 3.6h0m4.4 -1.4h0m3.3 0.7h0m0.1 -1.0h0m2.6 -0.0h0m3.1 1.1h0m1.3 0.2h0m0.6 -4.0h0m6.8 0.2h0m1.0 1.3h0m4.0 0.5h0m0.5 0.5h0m2.4 3.0h0m14.9 -5.7h0m3.9 0.6h0m0.8 1.2h0m2.0 2.0h0m4.7 -0.7h0m2.4 2.2h0m0.7 -4.2h0m2.5 3.7h0m0.8 -0.8h0m1.5 0.7h0m0.9 -3.1h0m1.4 -0.8h0m1.6 4.4h0m2.1 -5.1h0m0.8 0.5h0m0.2 0.3h0m2.1 1.5h0m1.8 -0.8h0m0.8 0.0h0m1.7 -1.1h0m-91.7 6.6h0m6.0 3.3h0m0.9 -3.4h0m0.5 2.4h0m4.2 2.1h0m2.0 -1.1h0m3.3 -4.0h0m0.3 1.8h0m3.3 3.2h0m1.0 -3.4h0m0.9 2.9h0m3.7 0.1h0m1.4 -2.3h0m3.9 -2.1h0m0.7 4.6h0m1.2 -2.4h0m1.8 2.2h0m0.5 -3.0h0m3.9 -1.0h0m0.9 1.9h0m1.5 2.3h0m2.2 -2.0h0m1.6 -0.6h0m8.4 -1.0h0m1.6 1.8h0m1.7 2.2h0m2.2 -3.8h0m1.2 2.4h0m2.8 -2.7h0m1.5 2.3h0m0.9 -0.1h0m1.7 -3.1h0m0.8 2.7h0m1.8 -1.8h0m2.7 -1.0h0m2.8 4.5h0m0.5 -1.9h0m2.2 0.9h0m1.7 -1.9h0m-70.3 3.8h0m1.5 0.4h0m3.1 1.2h0m1.6 -0.2h0m4.0 -0.1h0m0.5 0.4h0m0.8 2.2h0m0.7 0.1h0m1.4 0.7h0m1.8 -0.8h0m1.4 -0.1h0m0.6 0.9h0m1.3 0.9h0m1.8 -2.1h0m1.0 -1.3h0m1.1 2.8h0m2.2 -3.4h0m1.1 0.9h0m0.5 2.0h0m0.5 0.8h0m0.4 -1.9h0m1.3 2.2h0m0.7 -2.0h0m0.9 2.0h0m0.8 -1.2h0m4.1 -0.5h0m1.2 -1.7h0m4.3 2.0h0m0.6 -0.2h0m3.3 -1.2h0m1.2 2.3h0m1.5 -4.0h0m0.8 -0.8h0m1.9 0.9h0m1.4 -1.4h0m2.3 1.8h0m-32.9 4.7h0m2.4 0.5h0m9.9 -1.0h0" stroke="#3022b4" stroke-width="1.7" stroke-linecap="round" fill="none" opacity="1.0"/>
<path d="M200.9 2131.7h0m3.7 0.7h0m6.9 -0.9h0m6.0 1.2h0m7.6 0.2h0m-47.8 5.2h0m6.6 -0.3h0m2.0 -2.8h0m2.4 3.9h0m1.7 -2.6h0m0.8 -1.4h0m4.0 2.5h0m2.5 -3.6h0m1.1 0.4h0m0.8 -1.0h0m1.9 1.2h0m1.0 2.5h0m2.0 -0.4h0m1.9 1.2h0m2.0 -3.1h0m1.2 0.3h0m1.0 2.9h0m0.6 -4.6h0m1.0 1.6h0m0.5 3.9h0m0.2 -5.7h0m1.0 5.1h0m1.8 -0.9h0m0.9 -0.5h0m1.3 -2.4h0m0.8 0.3h0m0.9 2.2h0m1.3 -2.9h0m1.0 4.3h0m0.5 -4.1h0m2.6 3.2h0m1.6 -2.3h0m0.7 1.7h0m0.2 -2.0h0m0.7 1.5h0m1.8 -0.3h0m2.4 3.0h0m2.7 -3.1h0m1.3 1.0h0m2.4 1.0h0m0.7 1.0h0m1.7 -0.6h0m-69.6 4.0h0m0.8 0.4h0m1.1 -1.1h0m0.6 -0.6h0m0.2 -1.6h0m0.5 1.5h0m0.7 2.2h0m2.6 -2.5h0m0.7 1.4h0m0.3 2.9h0m0.8 -0.2h0m2.2 -3.0h0m0.4 -0.3h0m2.3 -2.1h0m0.6 3.1h0m3.2 -0.7h0m0.9 -2.4h0m2.0 2.7h0m2.7 -0.2h0m1.7 1.6h0m0.6 -4.0h0m1.4 5.2h0m0.9 -2.1h0m2.3 -0.2h0m3.5 -2.6h0m2.2 3.2h0m3.9 1.2h0m0.6 -0.6h0m5.5 1.6h0m1.6 -4.1h0m1.8 1.7h0m1.3 -2.0h0m6.0 2.0h0m4.8 -1.0h0m1.9 2.1h0m0.3 -4.7h0m2.7 2.0h0m2.3 -0.7h0m2.2 -1.2h0m1.3 5.8h0m2.6 -3.0h0m2.5 0.1h0m0.9 0.0h0m2.9 2.7h0m-93.5 6.1h0m2.8 0.0h0m1.1 -3.7h0m4.2 0.5h0m1.2 2.7h0m0.8 -4.9h0m0.9 0.9h0m3.5 -1.1h0m1.9 5.8h0m9.7 -1.9h0m4.4 -0.8h0m2.6 -2.4h0m1.1 0.0h0m2.5 2.5h0m1.1 2.2h0m1.9 -3.6h0m2.9 3.9h0m0.5 -2.7h0m3.2 1.2h0m0.9 -1.5h0m2.0 -0.8h0m3.1 -0.3h0m3.8 3.9h0m3.1 -4.6h0m0.4 -0.4h0m1.6 2.0h0m5.7 2.4h0m2.2 -2.5h0m5.0 2.6h0m1.6 -3.8h0m4.8 1.8h0m1.7 -0.6h0m1.1 -2.1h0m0.4 -0.1h0m3.9 4.3h0m6.7 -1.9h0m2.0 -0.6h0m1.3 2.5h0m-103.4 7.2h0m1.5 0.1h0m2.3 -3.2h0m2.3 1.3h0m0.9 -0.6h0m1.9 -0.7h0m3.4 -1.1h0m0.6 -1.0h0m4.2 3.1h0m2.8 -3.4h0m0.7 4.8h0m3.8 -1.2h0m3.0 0.1h0m2.9 -2.5h0m6.5 1.3h0m1.9 -2.6h0m3.1 0.9h0m7.6 2.4h0m2.2 0.9h0m2.0 0.5h0m4.5 -2.5h0m3.1 -1.9h0m3.8 2.2h0m3.4 0.9h0m2.7 -3.8h0m2.0 5.3h0m0.4 0.1h0m0.4 0.3h0m3.4 -4.2h0m3.5 -0.9h0m1.9 0.3h0m3.3 -0.3h0m0.9 5.3h0m0.1 -5.5h0m1.9 0.3h0m7.6 -0.0h0m1.9 2.2h0m1.2 0.6h0m0.4 1.9h0m3.2 -4.0h0m1.4 -0.4h0m0.9 2.2h0m1.8 -0.2h0m6.1 2.9h0m-115.5 5.5h0m2.4 -3.8h0m2.9 0.8h0m0.8 -1.2h0m4.7 1.6h0m0.3 2.7h0m9.7 -2.9h0m1.4 -0.1h0m2.4 1.0h0m5.7 -3.3h0m4.6 1.8h0m1.7 1.3h0m1.0 0.7h0m2.1 1.4h0m1.2 -1.4h0m6.9 -2.2h0m6.7 -1.1h0m3.1 3.3h0m2.1 -0.3h0m4.0 -2.9h0m3.0 -1.0h0m6.1 4.1h0m1.3 -0.4h0m3.3 1.1h0m0.7 -4.6h0m4.6 2.1h0m6.1 1.8h0m1.6 -0.3h0m3.5 -2.5h0m0.5 -0.6h0m2.2 4.3h0m2.5 0.4h0m2.7 -4.8h0m3.0 2.4h0m1.8 1.6h0m1.4 -2.5h0m1.1 2.8h0m2.0 -4.9h0m1.4 0.6h0m0.7 -0.1h0m1.2 -0.5h0m3.0 1.0h0m1.0 4.6h0m0.6 -0.3h0m-125.9 4.4h0m2.9 -1.2h0m0.8 0.0h0m0.8 0.1h0m4.2 -2.2h0m5.0 5.1h0m3.8 0.1h0m1.4 -0.0h0m1.9 -2.9h0m2.8 1.0h0m6.8 -2.3h0m3.3 -1.6h0m1.4 2.2h0m6.9 -0.1h0m7.6 -0.6h0m1.4 -1.3h0m10.9 0.2h0m1.3 3.7h0m1.9 -4.1h0m4.1 3.5h0m4.2 -3.5h0m4.8 2.0h0m5.1 -1.7h0m3.5 4.4h0m4.0 -3.9h0m1.3 3.0h0m2.6 0.1h0m0.6 -2.6h0m2.0 2.3h0m1.8 -0.9h0m1.7 1.7h0m10.1 1.2h0m3.2 -3.7h0m5.3 3.8h0m0.4 -2.4h0m1.9 1.1h0m1.5 -1.2h0m1.3 -1.7h0m1.2 2.3h0m1.0 -3.5h0m2.6 5.3h0m0.7 -0.9h0m-134.3 5.0h0m0.5 -0.1h0m1.5 -0.2h0m0.7 -1.0h0m2.1 -1.0h0m2.1 -0.7h0m0.6 -0.6h0m6.7 5.8h0m4.2 -4.9h0m5.3 4.6h0m2.2 -5.3h0m12.4 4.0h0m0.5 -1.2h0m3.6 -2.7h0m4.2 -0.2h0m3.9 4.5h0m1.5 -3.8h0m0.9 -0.8h0m1.2 2.2h0m4.5 -1.8h0m1.3 4.8h0m3.7 -1.0h0m1.3 -4.0h0m5.8 1.8h0m5.5 0.7h0m4.0 -2.4h0m6.2 4.6h0m0.8 -3.8h0m4.1 3.0h0m5.2 -0.2h0m10.0 -2.1h0m2.0 3.1h0m4.2 -0.9h0m0.6 -1.4h0m0.4 1.9h0m2.6 1.6h0m0.9 -2.3h0m5.9 -1.4h0m3.2 2.9h0m1.0 -2.6h0m3.4 3.0h0m0.6 -0.7h0m2.9 -4.3h0m3.3 0.8h0m-140.6 9.9h0m0.7 -2.3h0m1.7 1.2h0m0.6 -0.0h0m1.7 -0.7h0m2.9 0.9h0m0.4 -2.6h0m0.7 2.4h0m0.9 0.8h0m0.4 -1.8h0m2.4 -1.2h0m4.3 -1.3h0m1.5 0.0h0m1.2 0.3h0m2.1 4.3h0m1.8 -2.1h0m1.0 1.3h0m2.5 -0.3h0m3.4 -1.1h0m2.3 2.2h0m1.8 -5.0h0m3.9 5.0h0m3.4 -3.8h0m7.4 0.3h0m1.1 3.4h0m1.6 -0.7h0m4.4 -2.3h0m4.7 -1.0h0m1.4 4.4h0m2.8 -4.7h0m1.4 0.1h0m1.9 4.7h0m1.3 -4.9h0m5.3 -0.2h0m3.3 5.2h0m9.4 -2.6h0m10.5 -2.4h0m3.6 1.1h0m1.5 -1.5h0m5.4 3.3h0m3.0 -2.2h0m2.4 3.0h0m1.8 -0.4h0m3.3 -3.1h0m5.3 3.8h0m5.9 -0.3h0m0.3 -3.5h0m1.2 1.8h0m2.1 0.3h0m2.4 1.1h0m5.8 -4.2h0m0.6 2.3h0m-145.0 5.8h0m0.1 1.5h0m0.8 -3.3h0m0.4 3.8h0m1.8 -1.1h0m2.3 -2.3h0m1.8 4.6h0m0.8 0.1h0m1.4 -5.1h0m2.7 -0.4h0m1.0 3.6h0m3.5 0.6h0m0.2 0.1h0m0.2 -3.0h0m1.7 -1.0h0m1.1 4.3h0m6.9 -1.3h0m1.9 2.1h0m2.2 -3.2h0m5.3 -2.0h0m7.9 1.2h0m2.0 2.1h0m2.7 2.3h0m1.9 -1.5h0m12.6 0.8h0m5.5 -3.3h0m1.5 3.1h0m4.0 0.1h0m3.0 -3.4h0m2.6 -0.6h0m4.2 2.8h0m2.1 1.2h0m3.1 -4.0h0m10.1 1.1h0m8.5 2.3h0m3.0 1.2h0m1.7 -3.1h0m1.5 1.7h0m0.3 0.5h0m5.3 -2.1h0m4.4 0.9h0m2.4 -1.2h0m1.1 1.9h0m6.8 -1.9h0m2.6 -0.3h0m3.7 -1.3h0m0.6 3.6h0m1.3 0.9h0m1.7 -1.1h0m2.6 0.3h0m2.3 -2.1h0m-151.0 6.2h0m1.2 1.7h0m1.0 1.2h0m1.5 -3.9h0m2.2 0.5h0m1.1 0.9h0m2.2 2.3h0m1.1 -4.9h0m0.7 2.9h0m4.2 2.0h0m3.8 -4.0h0m6.9 2.8h0m0.6 -3.7h0m0.4 4.8h0m0.3 -1.7h0m4.2 -2.8h0m3.9 3.6h0m4.5 1.1h0m5.6 -0.5h0m2.0 -2.3h0m3.0 -2.1h0m5.4 3.3h0m6.8 -0.4h0m1.0 0.4h0m6.0 -3.1h0m0.4 1.3h0m5.0 -0.3h0m0.1 0.4h0m3.2 0.5h0m1.0 3.1h0m0.3 0.0h0m1.0 -3.4h0m10.2 -0.3h0m2.5 2.0h0m0.8 -1.9h0m1.5 0.1h0m1.2 -1.0h0m1.8 -0.9h0m1.0 5.4h0m2.5 -1.3h0m1.5 1.4h0m0.9 -5.7h0m0.7 3.2h0m1.2 -0.7h0m4.9 -1.6h0m2.0 1.5h0m4.1 1.5h0m2.5 -1.4h0m1.4 0.1h0m1.8 0.2h0m1.9 2.7h0m2.1 -5.1h0m3.3 2.7h0m1.7 -1.0h0m3.1 -1.2h0m2.2 3.5h0m2.8 -2.6h0m1.0 0.6h0m3.4 -0.9h0m0.3 2.7h0m0.4 -1.2h0m0.6 -0.8h0m0.7 -1.8h0m1.2 2.0h0m0.5 -2.0h0m-148.2 6.3h0m1.7 2.3h0m2.1 2.0h0m2.2 -1.3h0m1.1 -1.2h0m6.7 1.3h0m4.5 -2.8h0m4.0 -0.3h0m2.6 4.6h0m3.9 0.1h0m1.4 0.2h0m1.3 -2.3h0m1.8 -0.9h0m0.5 -0.8h0m1.0 1.2h0m7.0 -0.4h0m4.3 2.3h0m3.5 -3.4h0m6.7 0.8h0m6.8 3.4h0m0.5 -1.7h0m4.7 0.7h0m5.1 -0.9h0m5.9 0.9h0m0.9 -2.9h0m1.6 2.0h0m6.0 1.6h0m2.7 0.7h0m4.3 -1.6h0m3.3 -2.5h0m4.5 -0.1h0m2.6 2.3h0m3.1 -3.5h0m3.1 0.3h0m4.6 2.2h0m3.8 -1.7h0m6.1 1.5h0m6.3 1.1h0m1.0 -0.2h0m3.2 -2.0h0m5.9 -1.7h0m0.5 2.2h0m2.8 2.0h0m6.5 -3.8h0m1.8 0.8h0m-153.3 9.7h0m3.7 -0.4h0m3.3 -0.4h0m1.2 1.7h0m2.6 -1.1h0m3.7 -0.1h0m4.8 -2.5h0m4.4 2.2h0m1.7 -3.9h0m2.8 1.2h0m1.7 3.2h0m2.0 -1.0h0m5.1 -1.9h0m3.4 -0.4h0m6.3 1.5h0m1.1 -1.0h0m12.7 0.9h0m3.0 0.7h0m0.6 2.2h0m1.8 -0.3h0m1.8 -1.7h0m0.7 1.7h0m2.7 -3.3h0m0.6 0.3h0m4.5 1.8h0m4.0 -2.8h0m0.8 4.1h0m7.6 -5.3h0m4.4 4.0h0m0.4 -0.1h0m5.2 -2.8h0m3.1 -0.5h0m2.0 -0.6h0m0.6 2.9h0m2.9 -1.0h0m1.7 -0.4h0m4.6 -1.2h0m3.3 1.1h0m4.0 -0.6h0m6.7 1.3h0m2.3 3.0h0m1.9 -1.4h0m4.5 -1.6h0m7.2 -1.7h0m2.0 2.7h0m5.4 -1.3h0m2.6 -1.0h0m-157.4 9.8h0m1.7 -1.3h0m1.2 -0.4h0m1.3 1.3h0m0.8 -1.9h0m1.5 -0.0h0m1.6 3.2h0m0.5 0.4h0m1.7 -3.7h0m5.1 3.3h0m1.8 -2.7h0m0.1 2.6h0m4.5 0.4h0m0.5 -4.1h0m5.4 1.7h0m6.5 1.6h0m0.3 -1.4h0m1.4 -2.2h0m4.1 3.3h0m0.9 -2.5h0m2.6 -0.9h0m2.5 0.4h0m3.8 1.3h0m6.1 -1.0h0m6.3 1.4h0m2.9 0.1h0m3.1 -1.8h0m7.9 -1.0h0m0.7 0.1h0m6.1 4.8h0m1.9 -5.3h0m5.3 1.4h0m2.1 1.7h0m2.3 -3.0h0m3.4 4.1h0m1.4 -0.9h0m2.4 -2.2h0m1.7 3.2h0m1.0 -2.4h0m4.0 3.0h0m6.4 -3.1h0m1.8 -2.0h0m1.5 2.0h0m2.6 2.8h0m2.1 -3.6h0m1.9 2.4h0m8.5 -0.5h0m7.2 1.0h0m1.2 -3.9h0m2.8 5.4h0m4.2 -3.3h0m0.8 1.7h0m3.5 -3.8h0m1.0 4.8h0m0.5 -1.6h0m2.0 2.1h0m-156.6 3.6h0m0.6 1.8h0m1.2 -3.3h0m1.1 2.0h0m1.2 -1.4h0m1.0 1.3h0m0.9 -0.8h0m0.9 -2.5h0m5.2 0.2h0m1.3 1.7h0m2.1 -0.8h0m7.2 0.0h0m1.9 -1.4h0m2.2 1.8h0m3.8 -0.6h0m1.2 4.0h0m3.1 -2.9h0m5.9 3.0h0m2.1 -2.4h0m10.4 -0.0h0m11.9 2.6h0m2.6 -2.7h0m0.9 -1.7h0m1.6 3.6h0m6.7 0.3h0m6.9 -3.5h0m2.1 -0.4h0m0.7 1.4h0m8.4 2.9h0m3.7 0.2h0m4.2 -3.6h0m2.2 -1.4h0m2.9 4.0h0m3.6 0.0h0m1.7 -0.3h0m4.2 -0.5h0m6.1 1.4h0m5.2 -5.3h0m4.2 0.9h0m2.2 2.6h0m2.5 -3.3h0m2.4 1.8h0m0.9 2.4h0m3.0 0.6h0m1.4 -1.3h0m0.4 0.6h0m3.6 0.1h0m3.6 -0.3h0m1.9 1.3h0m0.4 0.3h0m1.0 -3.1h0m0.3 1.4h0m-156.3 7.2h0m1.5 -0.6h0m2.1 -4.3h0m3.3 4.0h0m4.3 -2.5h0m2.9 -0.8h0m5.2 3.0h0m5.9 1.6h0m2.5 -1.3h0m1.9 -4.0h0m0.9 1.8h0m2.9 0.4h0m8.3 -1.9h0m1.2 4.9h0m4.0 -4.6h0m1.7 1.0h0m2.4 -1.3h0m2.9 4.0h0m3.1 -3.6h0m5.4 1.7h0m3.0 1.2h0m0.6 -2.2h0m10.5 -1.4h0m1.9 4.9h0m9.9 -2.9h0m2.9 3.0h0m0.6 -3.7h0m8.1 2.9h0m4.5 -2.3h0m0.4 -1.5h0m2.5 1.5h0m2.0 -1.7h0m0.7 0.3h0m2.1 3.5h0m0.5 1.6h0m2.8 -0.4h0m7.9 -1.9h0m2.6 -0.1h0m1.7 -0.9h0m5.1 2.7h0m1.1 -3.6h0m5.0 1.4h0m3.7 0.1h0m5.1 0.6h0m0.9 1.7h0m5.4 -0.0h0m1.2 -3.1h0m0.3 -0.7h0m1.1 4.0h0m-155.7 5.5h0m0.8 -1.0h0m0.2 -1.8h0m3.5 0.2h0m0.3 -0.8h0m0.5 0.4h0m1.3 0.5h0m1.5 0.3h0m0.8 -1.5h0m1.0 3.9h0m1.8 -1.4h0m2.9 -3.7h0m1.2 0.8h0m2.2 0.3h0m2.4 3.2h0m3.7 -0.5h0m3.1 -1.9h0m3.2 -2.0h0m2.4 1.9h0m3.4 -2.0h0m1.0 -0.1h0m4.3 3.3h0m1.1 -1.8h0m3.3 0.7h0m6.6 -1.6h0m0.5 3.6h0m1.9 1.4h0m6.0 -2.0h0m4.7 0.1h0m6.1 0.4h0m1.2 -1.1h0m9.0 -0.2h0m3.8 -2.4h0m2.4 0.9h0m2.7 0.3h0m1.2 2.5h0m4.1 1.4h0m0.6 0.1h0m11.0 -0.1h0m1.2 -1.5h0m4.5 1.5h0m6.6 -4.4h0m5.9 1.3h0m3.2 1.1h0m0.6 1.4h0m1.1 -4.6h0m1.5 5.1h0m2.7 -4.5h0m6.0 0.9h0m0.3 1.7h0m3.1 -1.4h0m2.6 3.0h0m0.9 -3.6h0m1.7 0.1h0m0.9 4.1h0m2.3 -2.1h0m1.1 1.4h0m-152.3 0.9h0m0.3 3.4h0m2.3 2.0h0m4.7 0.3h0m1.0 -0.3h0m2.5 -3.9h0m4.7 4.2h0m14.9 -5.8h0m7.6 0.7h0m2.8 1.6h0m4.6 2.2h0m7.2 1.4h0m4.1 -5.4h0m3.6 4.9h0m4.0 -1.3h0m1.1 -0.5h0m3.2 -2.4h0m0.8 3.4h0m4.6 -4.1h0m2.6 3.6h0m0.4 -0.4h0m0.9 1.3h0m6.1 -3.1h0m3.6 -1.6h0m6.7 0.4h0m5.3 3.0h0m2.7 1.7h0m2.5 -0.1h0m1.2 -2.5h0m2.4 1.0h0m1.6 1.0h0m3.3 -3.3h0m3.0 0.3h0m0.8 0.2h0m1.5 -1.1h0m4.3 2.1h0m0.8 2.9h0m3.6 -0.8h0m3.2 -3.3h0m5.9 -1.3h0m3.1 4.3h0m3.8 -2.9h0m1.9 0.1h0m1.9 -1.4h0m1.7 3.3h0m1.0 -0.8h0m0.7 0.5h0m0.4 -0.0h0m0.3 1.0h0m1.4 -4.0h0m-148.5 10.4h0m0.8 -0.7h0m2.7 -3.3h0m2.6 1.0h0m4.0 3.1h0m6.7 -0.5h0m0.7 0.9h0m1.7 -5.1h0m1.1 3.2h0m4.5 -1.3h0m3.4 -1.8h0m0.6 5.3h0m1.4 -4.2h0m3.7 2.8h0m2.2 -0.0h0m4.0 -1.1h0m3.9 -3.2h0m2.8 3.9h0m1.0 -0.8h0m7.4 -0.0h0m1.3 -2.2h0m1.0 4.2h0m0.9 -3.1h0m0.9 -0.2h0m12.0 2.2h0m1.9 -2.2h0m1.6 2.6h0m2.9 -1.3h0m7.8 1.4h0m2.7 -3.3h0m1.2 1.5h0m4.1 -1.7h0m3.2 1.2h0m0.5 0.6h0m4.6 -1.3h0m2.2 2.4h0m2.8 -2.0h0m0.2 -0.8h0m0.5 4.2h0m3.8 0.1h0m1.2 -4.4h0m4.4 1.6h0m4.7 2.7h0m0.9 -4.2h0m3.5 3.0h0m7.6 -0.5h0m1.8 -2.5h0m3.4 4.2h0m2.0 -4.9h0m1.2 3.9h0m0.5 0.2h0m2.7 0.8h0m0.2 -1.6h0m-145.2 3.9h0m0.7 -0.6h0m0.6 0.6h0m0.7 4.2h0m0.4 -0.8h0m1.9 0.2h0m3.0 -0.6h0m0.9 0.9h0m3.6 -0.8h0m5.3 0.1h0m3.6 0.9h0m3.4 -3.9h0m1.8 -1.1h0m7.9 4.2h0m2.5 0.9h0m2.9 -5.5h0m4.2 2.2h0m1.3 1.2h0m6.1 -3.7h0m1.4 2.3h0m1.2 -1.8h0m5.8 4.0h0m3.8 -0.9h0m2.1 -2.4h0m4.5 1.0h0m3.2 1.4h0m0.9 -2.5h0m1.9 3.8h0m5.0 -4.5h0m1.8 1.4h0m1.0 0.3h0m1.8 0.7h0m1.4 -0.4h0m2.0 0.2h0m3.9 0.8h0m6.5 0.5h0m0.9 -2.2h0m6.2 1.0h0m1.9 1.4h0m0.4 -1.1h0m3.1 -2.7h0m3.5 3.5h0m4.6 -0.3h0m0.5 -2.6h0m1.5 1.7h0m0.6 -2.2h0m3.4 3.3h0m0.5 -2.7h0m2.0 1.5h0m2.4 3.3h0m5.9 -0.1h0m1.1 -2.5h0m3.8 0.6h0m0.9 -2.0h0m-140.5 4.8h0m2.5 -0.7h0m0.2 5.1h0m0.9 -0.4h0m2.7 0.1h0m2.0 -0.6h0m1.0 1.7h0m1.4 -3.2h0m3.5 -0.1h0m1.9 -0.6h0m3.2 0.3h0m3.3 3.1h0m6.5 -3.0h0m0.5 3.6h0m5.5 -2.1h0m0.8 -0.6h0m4.2 -1.5h0m4.5 2.1h0m2.9 -1.3h0m4.1 -1.7h0m5.0 -0.8h0m0.8 5.6h0m0.4 -2.7h0m1.3 -0.6h0m3.6 3.3h0m2.6 -0.3h0m1.7 -1.7h0m3.7 1.2h0m8.0 -2.0h0m1.9 -0.2h0m1.0 3.0h0m5.0 -1.8h0m2.2 -4.0h0m4.3 2.5h0m1.9 -0.1h0m1.2 -2.2h0m0.6 5.1h0m9.9 -2.4h0m5.6 2.8h0m2.0 -2.5h0m2.8 -0.9h0m1.8 1.5h0m5.2 -2.9h0m0.6 4.8h0m0.3 -4.9h0m1.1 1.6h0m1.9 -1.5h0m0.4 4.2h0m1.5 -0.7h0m5.2 -4.0h0m0.6 5.4h0m1.6 -2.0h0m1.1 -3.1h0m0.3 1.8h0m-136.1 3.9h0m2.4 3.1h0m1.5 -2.2h0m2.3 0.6h0m0.2 2.9h0m1.4 -4.5h0m2.6 0.1h0m2.5 3.6h0m1.2 0.4h0m0.5 -1.9h0m1.2 1.9h0m2.1 1.0h0m3.3 -0.2h0m3.0 -0.1h0m3.3 -2.4h0m5.8 2.5h0m5.7 -5.3h0m1.7 3.8h0m4.0 -2.8h0m5.2 4.8h0m2.1 -0.9h0m4.3 0.2h0m2.7 -1.6h0m2.3 0.5h0m7.4 1.7h0m6.0 -0.3h0m0.3 -4.8h0m4.2 5.1h0m1.4 -2.4h0m1.5 -0.3h0m0.5 -2.8h0m3.3 -0.3h0m2.8 2.6h0m5.6 -2.4h0m7.6 1.0h0m5.2 0.5h0m1.3 2.1h0m4.5 -3.0h0m2.1 0.9h0m0.6 -0.1h0m0.2 -0.8h0m3.2 1.1h0m1.7 0.5h0m0.6 1.4h0m1.9 -0.7h0m1.7 0.6h0m3.2 -3.6h0m0.7 5.4h0m4.3 -5.0h0m-123.9 11.4h0m1.9 -5.1h0m1.4 -0.5h0m1.2 2.1h0m3.2 -1.2h0m2.7 1.2h0m1.2 -1.5h0m4.4 4.7h0m5.0 -4.3h0m8.9 4.5h0m4.2 -5.8h0m2.3 1.7h0m2.5 0.7h0m6.1 -0.5h0m2.8 -0.2h0m5.6 3.2h0m4.5 -1.8h0m7.4 -3.1h0m3.7 2.5h0m3.1 2.0h0m1.9 -3.8h0m5.6 4.2h0m1.5 -4.1h0m3.6 4.0h0m2.1 -0.2h0m5.3 -3.1h0m3.6 2.4h0m8.1 -4.1h0m1.1 0.6h0m1.0 3.7h0m0.9 1.1h0m2.1 -4.8h0m0.4 4.3h0m2.3 -0.1h0m2.3 -1.4h0m0.7 2.3h0m0.8 -0.9h0m2.4 -1.5h0m-114.4 4.2h0m0.4 1.0h0m0.7 0.5h0m1.6 2.4h0m0.9 -3.1h0m2.9 2.5h0m2.1 0.5h0m1.1 -0.1h0m2.8 -0.2h0m1.7 0.5h0m4.4 0.2h0m1.8 -3.5h0m2.2 2.8h0m1.5 -1.5h0m1.6 -2.7h0m1.2 0.3h0m0.6 -1.1h0m2.2 5.6h0m2.0 -5.5h0m0.8 5.6h0m4.7 -2.1h0m3.5 -3.1h0m2.0 3.8h0m3.9 -2.1h0m3.0 -1.3h0m0.6 3.5h0m2.1 -2.4h0m1.4 -2.2h0m4.7 4.4h0m1.9 -1.8h0m3.0 -1.8h0m13.3 2.3h0m6.8 2.1h0m2.7 0.6h0m3.4 -2.9h0m1.5 -2.0h0m2.9 1.0h0m3.2 -0.6h0m0.3 2.8h0m0.8 0.3h0m1.7 -1.1h0m0.7 2.4h0m1.8 -3.0h0m1.9 -0.7h0m0.6 -1.6h0m1.4 0.0h0m0.8 1.9h0m1.9 0.8h0m1.5 -1.3h0m-106.4 5.4h0m2.6 1.0h0m1.9 -1.4h0m1.6 3.4h0m2.3 -2.1h0m1.8 -1.5h0m1.0 2.4h0m0.4 2.1h0m1.2 -2.8h0m0.4 1.2h0m2.1 -2.8h0m2.7 -0.4h0m1.4 4.0h0m1.5 -3.3h0m1.6 -1.0h0m1.6 0.7h0m3.6 0.4h0m2.7 -0.7h0m2.4 2.0h0m2.1 -1.8h0m1.4 4.0h0m1.3 -0.0h0m3.7 0.4h0m3.8 -3.7h0m3.3 2.0h0m1.7 2.1h0m2.7 -3.4h0m11.1 -1.5h0m4.7 3.8h0m3.4 0.8h0m1.1 -2.9h0m5.6 1.2h0m2.6 -0.8h0m0.8 -0.9h0m0.5 0.0h0m2.5 3.1h0m0.8 -4.1h0m1.7 2.1h0m1.2 -2.8h0m1.5 0.9h0m2.8 0.9h0m0.7 1.2h0m0.2 0.9h0m0.5 -0.8h0m2.0 -3.3h0m2.2 2.3h0m0.7 -2.3h0m-91.7 5.9h0m2.2 2.1h0m5.1 -0.4h0m1.0 1.9h0m3.9 -0.4h0m0.6 0.7h0m3.3 -0.1h0m2.1 -0.3h0m2.3 -1.0h0m1.2 0.8h0m1.3 1.8h0m1.8 -3.8h0m2.6 4.3h0m4.1 -3.7h0m1.0 2.6h0m0.8 -0.6h0m2.4 0.6h0m0.7 -2.8h0m2.6 0.1h0m1.7 0.6h0m0.9 -2.2h0m3.2 5.5h0m0.5 -2.7h0m9.0 1.4h0m2.1 -4.3h0m1.9 2.5h0m1.1 -0.1h0m1.6 1.2h0m0.7 -0.1h0m3.6 2.0h0m0.8 -3.2h0m1.9 2.8h0m1.0 -4.8h0m0.7 4.4h0m3.1 -3.0h0m1.9 3.0h0m2.5 -1.9h0m1.1 -0.4h0m1.8 -1.3h0m3.0 0.7h0m-71.4 4.9h0m2.4 0.4h0m2.6 -0.1h0m0.6 1.3h0m4.0 2.1h0m0.7 -0.5h0m0.7 -2.2h0m1.4 0.1h0m2.0 -0.5h0m0.5 -1.1h0m1.6 -0.3h0m0.1 2.1h0m2.3 0.6h0m1.3 1.1h0m1.2 -1.3h0m0.9 2.7h0m1.9 -3.8h0m1.2 2.3h0m0.3 -1.9h0m0.5 1.2h0m0.6 2.4h0m1.4 -0.7h0m0.3 -3.6h0m1.5 2.4h0m1.4 -2.3h0m3.4 2.7h0m2.4 -3.3h0m2.9 0.1h0m2.4 4.3h0m1.7 -1.3h0m0.5 1.6h0m1.6 -0.8h0m1.2 0.0h0m1.4 -3.0h0m2.0 1.7h0m11.0 -2.9h0m-41.7 5.9h0m9.2 1.1h0m4.3 -1.3h0" stroke="#3022b4" stroke-width="2.4" stroke-linecap="round" fill="none" opacity="1.0"/>
<rect x="299.6" y="2123.5" width="170.4" height="171.3" fill="#f2f0e2"/>
<circle cx="384.8" cy="2209.2" r="83.7" fill="url(#rim1)" stroke="#7c7cc4" stroke-width="1.4"/>
<path d="M363.0 2132.0h0m6.9 -0.6h0m2.1 -0.3h0m0.1 0.1h0m2.1 -1.3h0m0.8 1.5h0m2.6 -0.8h0m2.3 0.5h0m1.3 -0.7h0m1.0 1.8h0m2.4 -1.8h0m2.2 -1.1h0m0.8 2.0h0m3.3 -2.2h0m0.8 3.0h0m2.2 -0.6h0m1.3 -1.4h0m3.1 0.1h0m3.7 0.7h0m3.5 1.7h0m-56.2 5.7h0m5.7 -1.3h0m2.0 1.1h0m1.6 -2.6h0m0.8 2.3h0m0.9 -4.1h0m0.1 2.1h0m0.4 -1.0h0m1.6 2.9h0m0.9 -2.7h0m1.5 0.3h0m0.5 1.2h0m0.7 0.1h0m0.5 -1.5h0m1.5 0.7h0m0.4 -2.8h0m0.8 3.9h0m2.4 -2.6h0m1.6 3.3h0m1.5 -2.2h0m2.6 1.3h0m3.8 -0.4h0m1.0 -2.5h0m1.4 4.3h0m1.2 -3.3h0m1.5 2.6h0m2.7 -2.3h0m3.2 3.2h0m1.0 -1.4h0m0.7 -1.7h0m1.1 3.5h0m4.9 -3.2h0m1.6 2.8h0m0.4 -4.4h0m1.5 0.2h0m0.4 -1.0h0m0.6 3.9h0m1.4 -0.2h0m2.4 1.1h0m1.5 -2.9h0m1.0 3.0h0m0.9 0.9h0m0.6 -4.0h0m0.5 3.3h0m3.7 -2.8h0m-77.0 8.6h0m0.9 0.0h0m3.7 -3.3h0m1.2 1.0h0m1.0 -1.7h0m1.5 2.9h0m2.8 0.5h0m1.3 -3.5h0m0.9 4.1h0m0.3 -1.4h0m0.9 -2.5h0m1.1 -0.1h0m1.7 0.8h0m0.6 -0.4h0m4.5 2.6h0m2.0 -0.9h0m0.9 1.8h0m2.0 -3.1h0m3.2 2.1h0m5.2 -0.0h0m6.0 -3.5h0m3.3 5.5h0m2.6 -0.7h0m8.3 -2.3h0m1.2 2.2h0m3.3 -4.2h0m2.0 2.8h0m1.2 2.0h0m3.0 -5.0h0m1.3 3.0h0m3.9 0.8h0m1.4 -0.5h0m0.6 -3.6h0m0.7 1.2h0m0.1 -0.4h0m1.2 2.0h0m0.2 0.9h0m1.2 -2.5h0m0.6 0.0h0m1.3 1.9h0m2.2 1.0h0m0.6 -1.9h0m0.7 -0.8h0m2.3 2.6h0m0.5 -3.0h0m3.1 4.0h0m0.7 0.2h0m1.5 0.0h0m-95.6 5.9h0m4.4 -3.1h0m1.2 2.9h0m1.2 -0.7h0m1.3 0.3h0m1.4 -1.7h0m1.3 1.7h0m3.3 -0.4h0m1.3 -1.7h0m7.7 2.8h0m0.4 -0.5h0m1.1 -2.0h0m0.7 -2.6h0m1.4 4.2h0m3.7 -2.1h0m4.7 3.3h0m1.4 -3.0h0m2.1 0.1h0m5.6 -1.4h0m7.3 4.4h0m2.4 -0.2h0m4.7 -0.5h0m2.7 -4.4h0m4.1 1.6h0m1.9 2.4h0m1.5 -3.8h0m3.0 4.3h0m5.3 -1.8h0m1.2 -0.7h0m5.0 -1.4h0m1.6 2.8h0m1.8 1.4h0m1.0 -5.1h0m1.7 1.6h0m1.4 1.9h0m0.7 1.9h0m2.6 -5.0h0m1.2 4.7h0m0.9 -4.1h0m1.8 2.7h0m0.2 -2.8h0m1.6 3.9h0m1.3 -3.9h0m1.7 3.2h0m0.7 1.3h0m-109.6 2.8h0m1.3 -0.0h0m1.1 2.7h0m2.7 -5.3h0m0.2 2.5h0m0.3 -2.5h0m0.8 3.4h0m0.3 2.1h0m1.0 -3.0h0m1.0 2.0h0m1.4 -1.6h0m6.2 -2.7h0m2.3 0.5h0m3.9 2.0h0m4.9 -2.5h0m2.5 2.6h0m4.1 1.3h0m9.2 -0.7h0m8.8 0.3h0m5.0 -2.1h0m0.9 3.7h0m4.2 -5.2h0m5.3 5.6h0m3.3 -4.0h0m2.2 1.1h0m5.0 -0.6h0m4.5 0.4h0m2.4 1.4h0m3.4 -2.5h0m1.1 2.2h0m5.3 -0.2h0m2.2 -3.4h0m3.8 4.3h0m1.0 1.1h0m2.3 -1.8h0m4.6 -0.6h0m0.6 2.4h0m3.6 -2.6h0m-120.1 8.3h0m3.8 -1.1h0m0.3 -1.9h0m1.9 0.3h0m3.5 2.6h0m1.5 -2.2h0m1.0 0.9h0m4.6 -2.7h0m1.0 2.8h0m0.8 0.5h0m0.6 -1.2h0m7.4 -0.8h0m2.9 3.2h0m2.1 -3.2h0m4.7 2.4h0m3.7 -3.8h0m0.4 0.5h0m4.5 1.3h0m3.0 -1.2h0m2.8 2.2h0m4.9 1.5h0m3.5 -2.5h0m1.0 -2.3h0m7.2 3.8h0m3.5 -3.5h0m1.6 3.6h0m4.3 1.0h0m1.1 -0.2h0m3.8 -3.5h0m0.8 1.7h0m2.3 2.0h0m14.5 -3.6h0m1.3 2.7h0m2.1 -1.0h0m0.7 2.1h0m2.7 -4.5h0m3.3 3.8h0m0.2 -4.9h0m2.3 5.3h0m0.5 -1.0h0m2.9 -1.3h0m3.5 0.2h0m0.6 -0.7h0m0.5 1.6h0m3.0 -2.0h0m0.2 -0.3h0m0.5 1.4h0m1.3 -3.0h0m0.4 0.7h0m0.9 4.7h0m2.3 -0.8h0m0.7 -0.0h0m-131.2 4.1h0m1.3 2.9h0m3.9 -0.0h0m0.9 -4.0h0m3.6 2.6h0m3.2 1.4h0m6.7 -0.5h0m2.3 -4.6h0m1.6 -0.1h0m1.0 2.3h0m2.7 -2.2h0m6.7 1.0h0m3.9 -1.3h0m5.2 4.3h0m5.8 -0.2h0m2.3 0.7h0m1.2 -1.6h0m3.1 -0.9h0m3.4 2.9h0m4.0 -1.1h0m2.9 -0.5h0m4.4 0.7h0m14.4 -1.7h0m3.2 2.5h0m1.5 -4.4h0m3.2 1.7h0m4.1 0.5h0m4.2 0.5h0m4.7 -3.2h0m1.7 4.2h0m0.1 -2.1h0m0.6 -0.8h0m2.1 1.7h0m3.1 0.0h0m2.1 -2.2h0m3.3 -0.5h0m3.6 4.9h0m0.8 -3.7h0m0.8 -1.2h0m2.8 4.5h0m1.3 -2.7h0m3.1 -1.8h0m3.2 2.3h0m-137.3 7.1h0m0.7 -4.0h0m0.8 4.8h0m1.1 -1.7h0m2.3 -2.2h0m2.6 0.6h0m2.6 0.2h0m8.9 -1.3h0m3.4 3.0h0m2.3 1.3h0m6.0 -1.6h0m1.2 -1.6h0m2.2 4.0h0m1.0 -4.3h0m0.5 2.1h0m1.1 -0.7h0m3.3 -1.3h0m5.2 -1.6h0m1.6 3.8h0m5.6 1.1h0m1.3 -3.0h0m4.8 2.8h0m4.2 0.0h0m1.4 -0.4h0m0.3 -3.5h0m0.9 1.1h0m6.8 1.2h0m3.8 -2.7h0m1.4 2.4h0m4.8 -2.2h0m4.4 0.5h0m1.5 -0.1h0m3.8 1.6h0m6.2 -0.9h0m0.7 0.1h0m3.5 0.5h0m1.4 -0.1h0m9.3 -1.7h0m2.0 3.6h0m3.8 -2.2h0m1.0 3.1h0m0.5 0.3h0m1.2 -3.0h0m3.3 -0.7h0m0.7 -1.6h0m1.7 2.4h0m2.8 0.6h0m1.9 2.2h0m1.2 -2.5h0m1.3 0.9h0m0.9 -0.0h0m1.9 0.7h0m2.8 -0.0h0m1.1 1.1h0m-144.8 5.8h0m0.6 -1.5h0m1.0 -3.2h0m2.2 3.8h0m3.7 -3.0h0m0.3 1.0h0m0.5 3.0h0m4.1 -0.4h0m2.0 -4.3h0m7.0 1.5h0m2.1 2.3h0m2.7 -0.3h0m13.2 -0.1h0m3.9 -2.9h0m6.7 0.1h0m4.1 3.1h0m0.8 -0.3h0m1.8 0.7h0m1.2 -2.5h0m3.2 -0.3h0m3.8 -1.0h0m6.6 2.3h0m2.2 -3.1h0m0.1 4.7h0m1.9 -4.1h0m1.3 4.0h0m7.6 0.1h0m0.7 -3.2h0m3.1 3.4h0m4.1 -1.6h0m3.0 -3.6h0m4.9 4.1h0m3.7 -2.1h0m1.6 -1.7h0m13.0 2.7h0m2.8 1.3h0m3.4 0.2h0m1.1 0.2h0m5.0 1.2h0m2.9 -5.0h0m0.9 3.8h0m2.6 0.8h0m0.6 -2.4h0m4.1 2.5h0m1.3 -1.6h0m0.7 -0.1h0m0.7 -0.3h0m1.1 0.3h0m1.5 -0.5h0m1.0 -0.7h0m-149.7 8.8h0m3.0 -1.2h0m0.6 -2.2h0m0.2 1.0h0m1.3 1.8h0m1.0 -3.6h0m0.4 0.8h0m1.5 -1.4h0m2.0 2.2h0m3.9 0.9h0m1.6 -1.7h0m4.5 3.4h0m2.4 -5.4h0m1.6 4.1h0m13.8 -4.1h0m0.4 1.0h0m4.6 1.0h0m3.9 0.4h0m4.0 1.3h0m0.8 -0.8h0m0.6 0.7h0m7.4 1.2h0m4.1 -3.4h0m0.3 0.4h0m2.7 0.8h0m0.3 0.6h0m4.0 -2.0h0m6.5 3.8h0m2.1 -4.5h0m1.2 3.2h0m2.3 -1.5h0m3.9 -0.3h0m0.8 0.8h0m1.8 2.0h0m4.3 -2.1h0m1.0 3.1h0m3.1 -3.2h0m4.8 -1.5h0m2.4 3.1h0m1.0 -4.2h0m0.5 1.8h0m1.6 1.9h0m2.3 -2.8h0m6.7 2.5h0m2.6 -0.7h0m0.2 1.8h0m7.0 -3.5h0m2.9 0.8h0m1.4 0.9h0m4.9 -2.6h0m0.2 5.0h0m1.7 -2.5h0m0.9 -2.9h0m3.6 0.6h0m0.7 4.7h0m3.0 -3.2h0m1.2 0.0h0m3.8 2.4h0m-151.4 2.0h0m3.4 2.1h0m2.3 1.2h0m4.6 -1.2h0m4.8 -0.8h0m8.2 0.4h0m2.5 1.4h0m4.1 1.4h0m1.8 0.6h0m3.4 -5.8h0m4.3 5.3h0m3.1 -1.3h0m2.3 -1.0h0m1.1 -1.4h0m5.5 3.7h0m0.1 -2.4h0m1.2 -1.1h0m5.5 -1.0h0m3.8 3.0h0m5.1 -0.1h0m1.8 -2.5h0m2.7 -1.0h0m9.6 4.9h0m1.2 -0.9h0m8.1 0.5h0m5.1 -0.9h0m1.5 1.4h0m1.1 -4.6h0m2.0 3.7h0m0.6 -2.5h0m1.6 3.1h0m1.7 -1.2h0m0.6 1.2h0m2.4 -1.3h0m8.6 -0.8h0m4.0 -0.5h0m7.0 0.9h0m8.7 -1.3h0m4.2 2.3h0m0.5 -1.2h0m0.9 -0.7h0m1.5 -1.4h0m0.5 0.2h0m0.1 0.2h0m1.8 4.0h0m4.1 -0.9h0m2.0 0.9h0m0.6 -4.5h0m2.9 5.1h0m-155.1 5.0h0m2.4 0.1h0m2.1 -0.2h0m2.0 -4.4h0m2.0 4.3h0m3.3 0.1h0m3.8 -4.4h0m3.8 5.4h0m2.9 -5.3h0m3.4 0.2h0m3.8 0.3h0m7.5 0.3h0m3.2 1.6h0m2.6 -1.2h0m6.3 -0.6h0m14.0 -0.1h0m0.7 0.2h0m12.7 0.8h0m7.1 3.0h0m1.6 -1.6h0m1.7 1.3h0m0.8 0.2h0m2.5 -1.1h0m0.5 1.5h0m2.1 -3.2h0m3.2 -0.9h0m3.0 -1.0h0m5.3 4.9h0m7.7 -1.6h0m1.6 -1.1h0m5.0 -0.5h0m2.1 1.6h0m1.1 -1.6h0m1.4 -0.8h0m1.6 -0.8h0m1.7 0.7h0m3.0 3.1h0m2.5 -3.9h0m0.6 5.1h0m3.5 -1.2h0m4.3 -2.5h0m4.9 0.4h0m0.6 -2.0h0m3.9 4.9h0m1.7 -3.3h0m2.5 0.2h0m0.5 2.9h0m-157.2 1.7h0m0.2 3.9h0m1.8 -0.7h0m2.6 -3.2h0m2.3 2.1h0m1.2 0.9h0m2.1 0.9h0m1.2 -3.9h0m3.9 2.5h0m5.6 -1.3h0m1.0 3.2h0m1.2 -4.2h0m0.2 5.0h0m2.3 -3.8h0m1.9 2.3h0m1.9 -3.8h0m6.4 0.6h0m6.7 4.9h0m4.5 -1.9h0m1.2 -1.9h0m3.2 -0.0h0m1.5 3.3h0m4.3 0.2h0m6.5 -5.1h0m8.5 3.6h0m1.0 -0.9h0m0.5 -1.9h0m1.8 0.6h0m1.7 0.0h0m4.7 2.5h0m2.1 1.1h0m2.3 -5.3h0m1.4 2.2h0m7.0 -1.1h0m1.6 0.9h0m0.3 -1.9h0m7.7 1.7h0m2.3 2.2h0m4.2 -2.7h0m2.3 3.0h0m2.2 -2.0h0m1.0 -0.4h0m9.2 -0.2h0m4.8 -0.8h0m9.9 2.0h0m3.8 0.0h0m1.1 -2.1h0m1.3 -0.9h0m1.2 4.4h0m2.1 -4.1h0m4.7 4.1h0m0.4 1.2h0m0.9 -2.7h0m1.1 1.0h0m2.2 0.8h0m-158.6 5.5h0m1.4 -1.9h0m1.2 0.2h0m0.1 -2.6h0m1.5 4.8h0m1.7 -2.5h0m1.8 -1.4h0m1.2 -0.3h0m5.5 3.3h0m4.8 -0.9h0m19.6 0.1h0m5.2 -2.4h0m3.0 4.7h0m0.7 -0.3h0m1.6 0.3h0m1.1 -5.1h0m1.4 5.6h0m0.8 -4.2h0m0.2 3.6h0m4.1 -3.1h0m1.8 2.5h0m1.1 0.3h0m6.8 -0.8h0m3.1 0.2h0m2.2 -0.8h0m1.6 1.0h0m7.4 -3.1h0m2.9 1.7h0m1.5 1.6h0m3.0 -0.9h0m5.3 -1.2h0m7.2 -2.2h0m4.5 3.6h0m0.9 -3.1h0m1.8 3.3h0m2.1 1.0h0m1.8 -5.1h0m1.2 2.1h0m12.0 -1.8h0m7.4 4.0h0m6.9 -2.4h0m1.8 2.0h0m3.1 1.7h0m3.2 -0.2h0m1.9 -2.1h0m1.3 1.3h0m2.7 -1.2h0m0.3 0.3h0m0.2 -3.1h0m0.3 0.9h0m0.7 3.4h0m2.7 -1.9h0m1.2 1.2h0m-159.6 4.5h0m1.0 -2.3h0m1.4 -0.1h0m0.9 3.2h0m5.7 0.1h0m0.8 0.9h0m0.8 -3.8h0m2.7 1.3h0m3.7 -0.0h0m1.7 0.4h0m8.3 3.1h0m1.1 -3.0h0m10.6 -2.2h0m0.5 3.2h0m1.7 -0.2h0m3.2 1.9h0m0.2 -2.0h0m5.2 -1.3h0m0.9 -1.8h0m5.1 4.2h0m4.0 1.1h0m3.5 -3.4h0m0.4 4.1h0m1.4 -4.7h0m4.0 -0.7h0m3.0 1.1h0m5.6 1.3h0m0.9 -0.9h0m0.7 -0.3h0m3.3 2.4h0m5.1 -2.2h0m8.4 3.4h0m1.2 -4.9h0m0.2 5.2h0m2.3 -3.2h0m6.0 1.1h0m3.6 -3.4h0m1.5 0.6h0m5.0 0.0h0m1.3 -0.6h0m2.5 1.7h0m5.5 1.7h0m0.9 0.6h0m3.6 -3.8h0m4.9 0.1h0m4.3 -0.2h0m2.0 2.9h0m4.4 -1.2h0m1.4 1.2h0m1.6 -3.0h0m6.5 1.5h0m1.1 2.0h0m1.5 0.7h0m1.1 -2.1h0m1.0 1.9h0m-158.5 6.3h0m1.0 -1.7h0m0.5 -2.8h0m0.6 4.4h0m0.4 -3.9h0m0.6 4.9h0m2.6 -0.5h0m2.0 -2.3h0m2.3 1.9h0m1.4 1.3h0m3.6 -1.8h0m5.5 1.1h0m4.2 -3.8h0m4.5 2.5h0m3.1 -0.9h0m1.3 0.9h0m2.4 0.6h0m2.4 -2.7h0m3.9 2.0h0m5.9 -1.1h0m2.7 1.7h0m3.6 1.1h0m3.1 -0.3h0m1.6 -2.0h0m3.7 -0.4h0m2.9 3.3h0m5.2 -5.0h0m2.6 1.3h0m8.3 -0.6h0m1.1 2.7h0m1.0 0.9h0m4.7 -3.3h0m5.7 1.5h0m6.3 -1.6h0m1.3 4.0h0m1.5 -3.3h0m4.0 0.9h0m7.3 0.1h0m5.2 1.6h0m6.5 -2.7h0m1.1 0.6h0m7.1 1.0h0m1.6 0.6h0m3.1 0.6h0m10.6 -2.2h0m0.6 1.2h0m1.3 -3.6h0m3.0 4.9h0m1.6 0.2h0m-155.5 2.7h0m0.4 2.8h0m0.5 -3.5h0m2.4 3.3h0m1.1 -4.2h0m2.4 4.2h0m2.6 -1.7h0m1.6 0.4h0m2.3 2.1h0m6.6 -2.0h0m1.0 -1.4h0m4.2 1.7h0m0.5 -3.4h0m2.6 3.3h0m0.9 2.1h0m2.2 -2.2h0m2.5 -1.3h0m2.2 2.8h0m1.1 0.8h0m0.4 -1.5h0m4.5 0.8h0m0.2 -4.1h0m6.1 4.9h0m2.7 -0.8h0m2.1 -1.5h0m1.4 2.3h0m8.9 -1.1h0m3.4 0.0h0m1.9 -0.4h0m0.4 -3.7h0m2.9 3.4h0m2.7 0.2h0m4.4 -2.7h0m2.8 3.4h0m2.5 -1.1h0m2.5 1.1h0m2.7 -2.4h0m2.6 -2.1h0m3.5 3.7h0m1.0 -0.3h0m1.2 -1.1h0m1.0 3.1h0m2.3 -4.5h0m0.6 -0.1h0m6.5 1.0h0m3.6 1.3h0m2.9 0.2h0m1.5 1.6h0m0.2 -1.3h0m9.1 -1.6h0m3.8 0.1h0m6.0 1.1h0m3.7 -3.1h0m2.2 2.2h0m2.7 1.2h0m2.8 -0.5h0m1.3 1.1h0m1.0 -2.9h0m1.2 1.3h0m2.0 -1.1h0m3.7 -1.2h0m0.5 0.7h0m-151.8 4.6h0m3.6 2.2h0m1.7 -0.3h0m0.8 -0.5h0m1.7 1.4h0m1.3 2.2h0m3.6 -0.5h0m3.0 -1.4h0m1.3 1.7h0m1.3 -3.2h0m0.8 -1.1h0m0.7 2.3h0m3.0 -1.9h0m1.9 3.9h0m3.6 -3.2h0m0.8 2.8h0m3.4 -0.4h0m9.2 0.0h0m6.0 -2.6h0m5.0 2.8h0m1.4 -2.0h0m2.5 1.6h0m1.9 -0.6h0m8.7 -0.5h0m7.8 -2.1h0m0.6 1.6h0m1.7 1.1h0m1.1 -0.0h0m2.5 -1.3h0m3.5 1.0h0m1.2 2.2h0m3.3 -4.2h0m4.5 0.4h0m4.7 4.1h0m5.3 0.4h0m0.4 -0.6h0m2.9 -4.7h0m0.8 4.5h0m1.3 -1.2h0m0.7 -2.4h0m0.9 2.5h0m1.3 -1.7h0m5.5 -2.2h0m2.2 3.9h0m2.0 -0.3h0m1.9 -0.1h0m2.7 -3.5h0m0.2 1.2h0m4.4 2.8h0m0.5 -2.0h0m3.9 2.3h0m3.4 -2.1h0m6.0 2.3h0m1.1 0.6h0m0.3 -0.5h0m1.0 -0.2h0m0.8 -4.2h0m2.2 3.3h0m-149.7 6.5h0m0.5 -2.0h0m0.9 -0.3h0m1.4 -0.8h0m1.9 -0.7h0m1.0 5.1h0m3.6 -1.7h0m5.7 0.9h0m2.5 -1.4h0m5.3 2.0h0m2.1 0.4h0m0.9 -3.7h0m1.0 2.9h0m0.3 -2.8h0m2.1 2.2h0m2.1 -0.2h0m4.4 0.8h0m4.3 -1.3h0m0.5 -0.2h0m3.7 -2.8h0m3.5 1.8h0m3.7 2.0h0m0.9 -3.4h0m1.1 3.5h0m2.5 -0.5h0m2.8 -0.2h0m3.2 0.7h0m0.4 -0.3h0m2.6 -2.1h0m7.8 3.3h0m1.3 -0.7h0m2.2 0.4h0m1.8 -4.7h0m2.4 2.5h0m0.7 1.4h0m5.0 1.4h0m4.8 -2.5h0m4.1 1.0h0m0.6 -3.3h0m4.8 1.6h0m3.1 2.1h0m1.0 -1.2h0m4.1 1.2h0m5.6 -2.2h0m4.2 3.6h0m5.0 -3.0h0m9.8 -1.4h0m1.6 0.7h0m1.3 1.9h0m2.1 0.6h0m3.5 -2.6h0m1.7 0.4h0m1.2 0.3h0m0.3 -0.0h0m0.1 1.2h0m2.4 -3.3h0m-144.3 8.0h0m0.4 -2.6h0m1.7 1.7h0m0.7 -1.5h0m1.0 0.4h0m3.9 4.2h0m0.9 -0.3h0m2.6 -3.6h0m3.9 2.3h0m1.4 -2.4h0m1.9 1.8h0m1.1 -0.8h0m0.9 -1.2h0m2.8 4.7h0m2.6 -5.3h0m2.9 0.7h0m2.6 4.0h0m7.7 0.4h0m3.3 -1.6h0m0.7 -1.3h0m3.8 1.8h0m1.5 -2.1h0m1.1 -0.1h0m3.9 0.2h0m1.3 0.4h0m0.8 -0.5h0m1.3 1.5h0m2.8 1.5h0m3.9 -2.3h0m5.0 0.1h0m0.3 0.8h0m6.9 -1.6h0m0.9 -0.4h0m3.2 2.3h0m2.2 -3.0h0m3.4 5.0h0m4.7 -2.9h0m3.6 0.7h0m0.9 -2.7h0m4.2 4.7h0m4.7 -5.0h0m5.7 -0.0h0m3.4 1.4h0m2.9 -0.7h0m0.6 0.6h0m6.2 -0.4h0m2.0 2.0h0m3.3 0.2h0m3.2 -2.0h0m0.7 -0.5h0m2.9 -0.4h0m1.2 -0.3h0m2.0 2.3h0m2.7 -0.4h0m1.1 -1.2h0m1.9 -0.2h0m-141.1 5.8h0m2.0 3.6h0m2.4 -3.2h0m2.2 3.3h0m3.4 -1.3h0m0.9 -1.7h0m5.4 0.5h0m1.4 3.7h0m3.2 -1.8h0m5.3 -1.5h0m2.8 0.1h0m1.9 -0.5h0m0.2 -0.0h0m1.9 1.4h0m1.6 1.8h0m1.2 0.6h0m4.6 -1.0h0m2.2 -0.8h0m3.4 -2.6h0m0.6 3.7h0m4.6 -2.4h0m9.5 3.0h0m4.3 -4.0h0m0.2 -0.5h0m5.7 1.9h0m1.3 0.5h0m5.0 2.1h0m2.0 -0.4h0m3.9 -0.9h0m5.1 1.7h0m3.7 -0.5h0m9.4 -5.0h0m1.1 2.1h0m4.7 -1.4h0m1.1 1.3h0m2.4 -1.5h0m4.1 3.6h0m1.0 -4.4h0m7.2 3.4h0m1.2 -2.1h0m1.7 -0.7h0m1.1 5.0h0m4.1 -5.1h0m0.7 3.1h0m0.6 2.0h0m2.8 -0.8h0m-133.6 1.9h0m2.7 3.5h0m4.7 -1.0h0m1.8 -0.1h0m1.8 -2.9h0m0.9 5.8h0m2.5 -0.4h0m1.3 -3.7h0m2.1 4.0h0m3.2 -1.7h0m6.7 -3.4h0m3.7 3.3h0m7.2 -2.2h0m6.6 0.4h0m2.0 3.0h0m11.7 -4.3h0m1.6 0.2h0m5.9 4.0h0m2.5 -4.4h0m2.9 1.1h0m3.7 2.5h0m4.1 -1.1h0m4.1 2.4h0m3.1 -0.0h0m8.9 -4.4h0m2.0 2.3h0m0.4 2.2h0m4.6 -0.1h0m6.4 -1.4h0m1.3 1.2h0m3.0 -2.3h0m1.1 -1.6h0m2.8 4.3h0m0.6 -0.6h0m3.3 -3.7h0m1.3 1.0h0m1.2 0.4h0m1.4 2.8h0m2.7 -3.4h0m1.2 2.4h0m0.2 -0.0h0m1.6 -2.3h0m1.4 -0.2h0m-124.3 6.2h0m1.9 0.1h0m0.7 0.4h0m0.9 -1.2h0m1.2 3.3h0m0.3 -0.1h0m2.8 -1.1h0m2.0 -1.6h0m0.5 2.4h0m0.5 -0.6h0m2.3 1.0h0m1.9 -4.5h0m3.8 4.4h0m2.9 -0.5h0m1.8 -1.1h0m4.2 -0.5h0m0.4 1.0h0m6.3 -0.9h0m3.0 -1.4h0m3.6 0.8h0m2.5 -0.7h0m0.4 3.2h0m0.3 0.1h0m2.1 -0.3h0m2.2 0.9h0m3.6 -1.0h0m6.9 -1.3h0m3.3 0.9h0m2.3 -2.8h0m0.5 3.3h0m1.3 -2.6h0m6.6 3.6h0m0.9 -4.6h0m2.0 3.9h0m1.4 -4.4h0m2.4 4.1h0m4.2 -0.7h0m4.9 2.1h0m2.9 -5.1h0m1.3 4.3h0m1.7 -3.4h0m5.7 -0.9h0m2.5 2.5h0m0.9 -2.8h0m3.1 4.0h0m1.2 -0.3h0m1.2 0.9h0m1.0 0.4h0m5.2 -1.6h0m2.3 0.2h0m-115.4 2.6h0m1.9 -0.4h0m0.4 -0.2h0m2.6 0.6h0m2.3 -0.2h0m0.3 0.5h0m2.3 4.6h0m1.2 0.2h0m1.9 -5.8h0m0.7 4.5h0m0.6 -3.9h0m3.0 5.1h0m0.6 -2.7h0m1.2 1.2h0m5.4 -2.3h0m1.8 3.3h0m0.1 0.6h0m4.0 -5.4h0m3.2 5.2h0m4.4 -0.1h0m3.2 -4.4h0m1.5 -0.8h0m3.8 -0.5h0m3.0 1.4h0m1.3 2.4h0m4.8 -3.6h0m2.7 4.2h0m11.5 0.3h0m1.3 0.0h0m3.5 -4.0h0m2.2 1.8h0m1.0 0.6h0m3.1 0.7h0m1.3 0.9h0m0.8 -0.6h0m2.4 0.7h0m4.2 0.5h0m4.1 0.1h0m1.2 -4.5h0m0.7 4.6h0m1.3 -1.0h0m1.8 -3.0h0m1.0 -0.7h0m0.8 4.0h0m1.5 -0.8h0m0.8 -4.0h0m2.3 3.3h0m0.3 -0.2h0m0.9 2.4h0m1.5 -3.9h0m2.3 1.5h0m0.2 -3.3h0m2.1 0.5h0m-103.9 6.8h0m6.4 -1.1h0m1.3 4.5h0m1.8 -1.7h0m0.8 1.2h0m0.7 -2.9h0m7.3 3.0h0m0.9 -1.4h0m1.4 -2.7h0m1.0 0.5h0m3.4 5.0h0m1.6 -3.3h0m4.8 -0.5h0m1.7 -0.6h0m3.3 3.0h0m6.5 -1.3h0m4.4 1.7h0m3.1 -0.6h0m3.5 0.5h0m0.2 -1.7h0m0.8 -1.8h0m1.6 4.9h0m1.0 -4.3h0m1.3 2.3h0m0.7 0.2h0m1.7 -2.0h0m4.7 -0.8h0m2.0 3.1h0m2.6 1.0h0m0.5 -1.2h0m3.9 0.9h0m2.4 -3.3h0m3.5 3.7h0m1.0 -4.9h0m1.8 5.5h0m0.2 -4.1h0m1.4 3.8h0m1.4 -2.3h0m0.7 1.0h0m2.7 1.5h0m1.0 -5.3h0m2.9 2.3h0m0.5 -0.4h0m-85.0 4.9h0m2.6 0.2h0m3.5 2.8h0m4.2 -0.8h0m1.0 -2.7h0m1.3 2.5h0m1.1 -0.3h0m0.9 -1.0h0m1.5 -1.5h0m1.6 3.6h0m3.3 -0.3h0m0.2 -2.3h0m0.4 3.9h0m1.0 -0.2h0m2.7 -0.7h0m2.1 -4.4h0m3.0 1.8h0m1.6 2.5h0m2.4 -2.4h0m0.9 -0.2h0m3.6 -1.2h0m3.2 4.0h0m3.6 -2.2h0m1.5 2.9h0m1.3 -0.2h0m0.9 -2.7h0m2.4 1.5h0m0.2 1.9h0m1.9 -3.2h0m3.9 3.3h0m1.9 -5.7h0m3.1 3.2h0m0.4 -1.4h0m1.5 -1.4h0m1.3 0.0h0m1.5 1.6h0m1.0 -1.2h0m2.9 3.9h0m1.6 -2.4h0m1.0 -1.8h0m1.7 -0.2h0m3.5 -0.0h0m-69.7 6.2h0m7.3 -0.0h0m0.2 -0.4h0m1.1 2.4h0m1.9 -0.5h0m0.6 2.1h0m2.3 -4.1h0m0.5 3.7h0m1.4 -1.2h0m1.2 -1.8h0m1.6 3.0h0m1.8 -2.0h0m1.8 1.1h0m2.7 -0.6h0m2.0 0.8h0m2.7 0.1h0m1.6 -2.4h0m1.5 4.0h0m2.6 -4.2h0m0.3 3.1h0m2.1 0.3h0m1.8 -3.9h0m0.7 2.6h0m0.2 -0.6h0m1.5 -1.0h0m0.7 1.4h0m0.8 1.6h0m6.6 -3.8h0m2.3 2.1h0m0.8 -1.6h0" stroke="#3022b4" stroke-width="1.7" stroke-linecap="round" fill="none" opacity="1.0"/>
<path d="M369.0 2131.6h0m1.8 0.4h0m1.3 -0.5h0m0.7 -0.9h0m2.0 -0.7h0m0.3 1.8h0m4.1 -2.2h0m1.3 1.6h0m1.2 0.6h0m0.7 -1.0h0m3.5 -0.7h0m1.3 1.9h0m0.6 -1.3h0m3.6 -0.3h0m0.2 2.1h0m3.0 -0.8h0m2.6 -0.9h0m3.3 1.5h0m1.6 -0.6h0m3.5 1.1h0m-52.6 5.0h0m2.8 -2.6h0m1.5 1.9h0m1.8 0.1h0m0.7 1.2h0m0.3 -1.6h0m0.3 1.9h0m0.5 -2.4h0m1.7 -0.8h0m0.7 2.9h0m1.3 -2.1h0m0.9 0.1h0m0.2 -1.4h0m0.3 1.1h0m1.6 -0.0h0m0.8 -2.3h0m0.2 2.8h0m3.3 -2.8h0m2.1 2.1h0m0.2 0.3h0m6.2 0.6h0m0.6 -0.7h0m0.8 1.1h0m1.5 2.0h0m2.0 -5.9h0m2.7 1.1h0m3.2 4.1h0m0.6 -1.6h0m1.1 -3.4h0m1.1 3.6h0m2.6 -2.1h0m4.1 -0.2h0m0.5 0.2h0m0.4 0.0h0m1.5 1.0h0m0.6 -1.6h0m0.4 -0.0h0m2.0 0.3h0m2.1 -0.5h0m1.1 -0.6h0m1.3 3.9h0m0.8 -0.5h0m0.6 -1.4h0m1.6 2.4h0m2.7 0.1h0m-77.2 5.9h0m3.8 -2.2h0m1.8 2.1h0m0.6 -4.1h0m0.5 2.6h0m1.3 2.4h0m3.5 -4.7h0m0.9 2.7h0m0.8 -0.3h0m0.3 1.4h0m1.0 -3.2h0m2.3 2.3h0m0.1 0.9h0m2.5 1.3h0m3.1 -4.2h0m1.8 2.6h0m0.6 -2.4h0m2.4 3.8h0m3.6 -2.7h0m10.1 0.5h0m2.2 0.3h0m1.7 0.1h0m3.8 -3.4h0m7.3 5.2h0m2.2 0.3h0m2.5 -1.3h0m2.3 -0.6h0m1.5 -2.3h0m2.9 3.2h0m2.8 -0.1h0m2.4 -4.1h0m0.8 -0.5h0m0.5 1.9h0m0.2 1.5h0m0.7 -0.4h0m0.6 -1.9h0m0.9 0.3h0m0.9 3.3h0m1.3 -0.9h0m1.7 0.6h0m0.8 -3.5h0m0.7 1.5h0m2.3 -2.3h0m1.1 3.2h0m2.9 1.7h0m0.4 -1.2h0m0.8 1.6h0m-94.7 5.3h0m1.5 -0.2h0m4.2 0.5h0m1.0 0.0h0m1.7 -1.1h0m1.0 0.4h0m1.1 -1.2h0m0.8 -2.0h0m3.6 -0.5h0m2.4 4.9h0m6.5 -4.0h0m0.3 -1.5h0m1.4 1.1h0m0.6 4.7h0m3.1 -0.4h0m3.8 -0.1h0m2.9 -3.1h0m1.8 -1.7h0m6.9 3.6h0m7.2 -3.8h0m1.3 4.7h0m3.9 -4.2h0m4.2 3.1h0m3.6 -3.1h0m2.0 0.5h0m1.1 -0.5h0m4.0 3.7h0m0.6 -1.7h0m6.3 -0.3h0m4.2 -2.6h0m2.3 2.7h0m0.2 1.0h0m2.8 -2.0h0m0.7 4.2h0m1.8 -4.0h0m0.9 -1.0h0m0.6 3.8h0m2.5 -0.5h0m1.6 -4.1h0m0.3 5.5h0m1.8 -1.9h0m0.2 -0.7h0m1.6 -0.6h0m1.5 0.1h0m2.0 1.3h0m-111.5 8.0h0m3.2 -4.6h0m1.3 1.7h0m2.3 2.4h0m0.6 0.1h0m0.2 -2.2h0m0.2 0.8h0m0.8 -3.8h0m1.0 1.1h0m0.6 3.1h0m1.6 -0.7h0m5.4 0.1h0m1.8 -0.8h0m4.8 0.8h0m3.6 -3.7h0m3.1 0.1h0m2.7 1.6h0m9.8 1.4h0m7.3 -0.9h0m6.6 3.1h0m3.1 -2.1h0m1.3 2.6h0m5.8 -5.3h0m2.8 2.4h0m4.0 2.0h0m6.0 -2.6h0m2.2 3.1h0m4.2 -0.3h0m2.4 -4.1h0m2.7 4.4h0m3.4 -3.7h0m4.1 1.8h0m2.9 -1.4h0m1.0 -1.9h0m2.1 0.2h0m4.8 2.0h0m1.1 3.1h0m1.7 -3.6h0m-117.9 9.7h0m3.6 -0.4h0m0.5 -2.8h0m0.6 0.5h0m2.4 1.2h0m3.6 1.4h0m0.7 -2.0h0m2.4 -3.2h0m3.0 4.0h0m1.5 -2.6h0m0.5 2.5h0m7.3 -0.9h0m1.0 2.3h0m4.1 -5.5h0m2.6 1.5h0m4.3 2.4h0m2.2 -0.8h0m3.9 2.3h0m2.8 -2.3h0m1.7 -2.5h0m6.4 0.9h0m1.2 -1.1h0m3.5 4.5h0m1.9 -0.8h0m7.2 -1.1h0m3.5 2.6h0m0.2 -1.4h0m5.2 -2.2h0m0.7 -1.2h0m3.9 3.8h0m2.1 -4.1h0m5.9 3.0h0m9.4 2.2h0m2.6 -2.1h0m0.6 -1.0h0m0.9 3.3h0m3.8 -5.5h0m1.6 4.0h0m0.4 -2.6h0m2.5 4.2h0m0.7 -4.6h0m5.5 1.8h0m0.6 0.4h0m0.6 -1.1h0m1.8 2.7h0m1.3 0.2h0m0.2 -0.6h0m1.2 -3.0h0m0.8 -0.2h0m0.7 0.6h0m2.2 2.5h0m0.6 -1.0h0m0.9 1.6h0m-131.2 6.4h0m2.8 -1.6h0m2.0 -2.8h0m2.6 -0.7h0m4.5 4.8h0m5.5 -2.5h0m2.9 1.4h0m1.8 -3.0h0m1.7 4.5h0m2.7 -3.3h0m6.3 2.3h0m3.3 -4.5h0m6.0 0.5h0m0.9 3.7h0m6.0 -0.6h0m1.6 -0.2h0m4.1 -2.6h0m3.0 1.9h0m4.4 -2.3h0m0.8 0.4h0m3.1 3.0h0m10.6 -0.7h0m8.2 -2.6h0m3.8 5.2h0m1.8 -4.0h0m4.1 2.5h0m2.5 -0.3h0m7.8 -1.4h0m1.3 1.8h0m0.7 -1.6h0m0.3 -0.5h0m1.9 0.1h0m0.9 2.5h0m4.3 -2.7h0m3.5 2.3h0m2.1 -2.5h0m2.6 3.9h0m0.7 -1.8h0m2.0 -2.3h0m2.0 2.6h0m2.8 -4.2h0m3.8 2.8h0m-137.5 6.2h0m0.8 0.7h0m1.0 -2.1h0m0.3 -1.8h0m1.5 1.2h0m3.1 -1.0h0m1.1 2.0h0m11.2 1.8h0m0.9 -3.9h0m3.4 1.9h0m7.3 -1.8h0m1.2 3.5h0m2.0 -1.4h0m1.3 -2.1h0m0.5 2.6h0m0.6 -2.7h0m2.5 2.6h0m3.7 -1.7h0m4.4 4.0h0m2.7 -4.4h0m4.4 0.9h0m0.3 2.8h0m6.6 -0.9h0m3.3 0.6h0m0.5 -2.8h0m0.3 -0.2h0m2.9 1.7h0m6.0 0.7h0m2.5 -1.0h0m3.2 -0.3h0m3.8 -0.5h0m3.5 1.1h0m1.7 -2.6h0m7.8 0.2h0m2.6 3.9h0m0.8 -0.7h0m4.0 0.4h0m9.0 -1.1h0m1.5 0.1h0m4.2 -0.4h0m1.3 2.4h0m0.5 -1.8h0m0.2 0.9h0m2.6 0.4h0m2.0 -2.4h0m1.4 -0.7h0m3.6 4.2h0m1.6 -3.7h0m0.8 3.7h0m1.1 -3.1h0m1.1 -1.2h0m2.6 -0.5h0m0.3 0.9h0m3.3 -0.1h0m-144.7 10.3h0m0.6 -2.2h0m0.6 -0.8h0m1.1 1.5h0m2.0 0.5h0m3.5 1.0h0m0.2 -4.8h0m0.6 -0.2h0m5.9 0.2h0m0.9 0.5h0m6.3 0.1h0m4.3 -0.6h0m1.4 2.1h0m14.7 1.0h0m6.6 -1.7h0m3.1 2.4h0m2.9 -2.0h0m0.9 -1.8h0m1.7 2.0h0m1.6 -0.5h0m4.8 1.6h0m6.2 -0.1h0m3.9 -1.8h0m0.3 -1.7h0m0.7 -0.0h0m2.5 4.2h0m2.2 0.5h0m6.0 -1.3h0m1.4 1.0h0m3.3 -5.1h0m4.9 3.9h0m2.1 -1.3h0m4.6 -1.9h0m2.8 4.1h0m12.7 -2.8h0m2.8 1.5h0m2.9 1.3h0m2.3 -1.0h0m4.1 -3.3h0m4.7 2.8h0m1.1 -0.3h0m2.1 -2.7h0m0.7 5.3h0m1.7 -5.7h0m3.5 2.7h0m0.9 1.2h0m0.3 -1.6h0m1.6 -2.0h0m0.6 0.2h0m1.1 5.1h0m-149.0 3.4h0m2.9 -2.1h0m0.5 2.2h0m0.3 2.5h0m0.9 -3.1h0m1.5 -1.6h0m0.3 -0.9h0m1.0 2.5h0m1.2 -1.4h0m1.7 0.1h0m4.5 -0.9h0m1.7 4.3h0m4.4 0.1h0m3.0 -4.5h0m6.3 3.4h0m7.8 1.9h0m0.8 -3.7h0m6.4 -0.3h0m5.2 0.4h0m0.8 1.3h0m0.3 -3.1h0m1.7 0.4h0m6.5 4.8h0m4.1 -1.4h0m2.4 0.0h0m0.3 -2.6h0m0.5 3.2h0m9.2 -3.5h0m1.5 2.4h0m1.8 -0.5h0m2.1 -1.6h0m2.4 1.4h0m3.1 -2.2h0m1.1 -1.0h0m4.0 0.6h0m1.7 4.4h0m3.2 -4.7h0m1.5 5.6h0m3.9 -3.2h0m2.7 -2.4h0m1.3 1.7h0m1.0 3.8h0m2.4 -2.7h0m2.5 0.8h0m6.5 -1.1h0m0.8 -0.7h0m4.9 2.6h0m2.5 -3.9h0m3.4 4.8h0m3.1 -0.4h0m2.6 -3.7h0m0.9 -0.6h0m0.9 3.8h0m1.1 -1.7h0m3.9 -2.6h0m1.7 3.4h0m2.5 -3.3h0m2.1 0.2h0m3.3 4.4h0m-151.2 3.2h0m1.7 0.3h0m6.2 0.4h0m4.1 -0.9h0m5.0 3.0h0m5.6 -2.7h0m3.6 1.6h0m3.6 -0.4h0m3.0 -3.1h0m3.6 1.4h0m2.8 -0.0h0m2.7 -0.5h0m1.8 0.1h0m4.0 2.5h0m2.0 -2.2h0m0.3 1.7h0m5.1 -3.0h0m5.0 1.9h0m4.7 2.7h0m0.7 -3.4h0m3.9 1.9h0m4.2 -1.0h0m6.8 1.7h0m5.6 -1.6h0m4.8 1.3h0m3.2 -2.9h0m1.9 3.8h0m1.8 -0.7h0m1.2 -3.9h0m0.8 3.1h0m1.2 2.2h0m2.1 -1.3h0m1.4 0.7h0m6.5 -1.5h0m3.8 -0.3h0m9.5 1.3h0m8.7 -2.7h0m3.8 1.4h0m1.8 -2.9h0m0.2 3.7h0m1.4 -2.4h0m1.3 2.7h0m0.1 -0.4h0m1.2 -3.0h0m4.4 3.0h0m1.3 0.0h0m1.3 0.6h0m1.3 0.8h0m-153.2 4.3h0m1.3 0.7h0m2.2 -3.6h0m1.8 3.6h0m1.5 -1.9h0m1.8 -0.0h0m3.3 -1.1h0m5.0 2.1h0m3.7 0.2h0m3.6 0.5h0m5.0 -1.7h0m3.4 -2.1h0m5.9 -0.3h0m3.3 3.0h0m2.9 2.3h0m16.3 -3.4h0m2.6 1.2h0m8.7 -2.2h0m6.5 3.4h0m5.9 0.2h0m0.8 1.1h0m2.2 -2.1h0m0.6 -3.0h0m2.2 -0.6h0m1.1 4.9h0m1.8 -1.9h0m3.5 -0.6h0m7.3 0.6h0m2.8 1.4h0m5.1 -3.1h0m2.9 0.6h0m4.6 0.6h0m1.4 -0.6h0m1.8 -1.1h0m1.0 -0.7h0m1.8 3.1h0m1.7 -2.3h0m4.2 3.9h0m0.8 -0.2h0m0.9 -3.2h0m4.2 -0.1h0m3.1 3.5h0m4.9 0.3h0m1.4 -3.8h0m3.2 0.5h0m2.9 -1.3h0m1.3 4.0h0m0.7 0.4h0m-157.4 4.4h0m1.5 -1.6h0m3.1 1.2h0m2.1 -2.1h0m1.3 1.5h0m0.2 0.3h0m2.3 2.0h0m3.4 -2.9h0m4.7 0.1h0m2.5 -1.7h0m1.7 1.4h0m0.4 1.9h0m2.4 -2.9h0m1.3 5.3h0m0.8 -1.4h0m4.1 -3.1h0m7.4 -0.5h0m3.6 -0.6h0m5.1 1.1h0m1.3 1.0h0m3.0 0.3h0m2.7 2.5h0m7.0 -4.1h0m6.0 1.6h0m4.7 -0.9h0m0.7 -0.6h0m2.0 1.3h0m1.8 -2.5h0m1.1 2.0h0m4.3 3.3h0m2.4 -4.7h0m2.1 1.0h0m3.7 3.2h0m4.3 0.7h0m1.4 -2.9h0m5.0 -0.5h0m3.1 -2.0h0m6.0 1.2h0m0.6 4.5h0m3.4 -0.1h0m1.8 -4.1h0m5.6 -1.6h0m4.3 1.3h0m7.9 2.1h0m7.8 -1.4h0m2.5 -0.8h0m1.2 1.7h0m2.0 -0.4h0m0.5 2.6h0m3.3 -1.3h0m3.5 1.7h0m0.2 -1.5h0m1.6 -2.0h0m1.2 0.6h0m-157.8 3.9h0m1.3 2.2h0m1.4 1.6h0m0.5 -0.8h0m0.0 -1.6h0m2.3 0.6h0m1.1 -1.1h0m2.0 0.1h0m4.3 4.0h0m2.6 -4.7h0m7.7 0.9h0m18.7 -0.2h0m4.5 -0.1h0m1.2 -1.0h0m1.8 1.2h0m0.8 1.0h0m1.5 -0.9h0m1.1 0.4h0m0.4 -2.0h0m0.7 5.8h0m4.9 -1.8h0m0.5 -3.6h0m3.1 5.4h0m6.2 -5.3h0m3.0 1.3h0m1.7 -1.9h0m7.8 1.9h0m0.4 -0.7h0m2.6 2.1h0m2.0 2.2h0m4.5 -2.9h0m8.2 0.4h0m6.0 -0.0h0m0.9 0.9h0m1.7 -0.8h0m1.1 -0.9h0m2.6 0.1h0m2.1 2.5h0m0.1 -3.1h0m14.3 -1.2h0m9.5 4.8h0m4.0 -1.1h0m2.3 -1.4h0m2.4 -1.1h0m3.8 3.2h0m0.2 -2.1h0m3.9 1.1h0m0.2 2.1h0m0.4 -0.7h0m0.1 -0.2h0m0.7 -3.1h0m0.7 3.8h0m3.3 -3.4h0m0.3 0.1h0m-159.1 4.3h0m1.7 3.8h0m0.7 -4.1h0m1.9 5.0h0m4.5 0.4h0m1.0 -2.1h0m0.6 1.8h0m3.9 -3.5h0m2.5 1.2h0m1.9 -0.1h0m8.2 0.4h0m10.2 -0.9h0m1.4 0.5h0m1.7 -1.9h0m3.1 4.3h0m0.5 -2.5h0m0.9 1.4h0m5.2 -2.4h0m1.0 3.0h0m4.9 -0.9h0m6.0 -2.6h0m1.1 2.9h0m0.9 -3.1h0m2.8 1.3h0m4.6 2.2h0m2.7 -4.8h0m3.7 1.5h0m0.4 0.8h0m1.2 1.7h0m4.7 -1.3h0m4.2 -2.3h0m7.6 2.7h0m1.1 -1.8h0m2.1 0.8h0m2.1 2.6h0m4.4 -3.4h0m4.0 -1.1h0m5.2 4.9h0m0.8 -4.9h0m1.9 5.0h0m4.4 -2.0h0m3.4 0.4h0m0.8 -0.2h0m7.9 -0.3h0m2.1 -3.3h0m2.6 4.1h0m3.9 -3.8h0m3.2 2.6h0m1.0 1.7h0m7.0 -2.4h0m1.2 0.1h0m1.1 2.6h0m0.9 0.9h0m1.6 -1.6h0m-158.2 7.1h0m0.5 -3.1h0m0.6 0.4h0m0.9 3.3h0m0.1 -2.2h0m0.6 1.4h0m2.3 -2.6h0m1.2 2.6h0m2.1 -0.0h0m2.0 -0.9h0m2.0 -0.7h0m4.4 1.8h0m6.1 -0.3h0m2.3 -1.8h0m5.6 0.9h0m1.8 -2.6h0m1.7 1.5h0m2.5 1.7h0m5.4 0.8h0m4.4 -2.6h0m3.2 -0.8h0m4.4 -0.5h0m3.1 -0.5h0m1.6 2.0h0m1.6 -0.8h0m3.9 -1.0h0m2.8 3.5h0m4.3 1.4h0m3.0 -1.9h0m7.7 0.3h0m1.4 -0.9h0m1.7 -0.5h0m5.8 1.9h0m3.9 0.2h0m6.4 0.9h0m1.0 -1.1h0m2.3 -3.8h0m3.3 0.6h0m8.7 -0.5h0m4.8 1.4h0m5.7 2.5h0m2.1 -5.0h0m6.6 1.0h0m1.4 1.1h0m2.8 3.2h0m9.9 -2.3h0m1.2 0.6h0m3.1 -2.4h0m1.6 -0.3h0m1.7 4.9h0m-156.5 0.6h0m0.4 1.0h0m1.0 -1.0h0m2.3 3.5h0m2.4 -1.5h0m1.7 1.3h0m1.8 0.4h0m2.6 -1.6h0m1.0 1.8h0m7.1 -3.8h0m2.9 4.6h0m2.0 -3.0h0m2.3 1.6h0m0.5 -2.3h0m2.0 3.8h0m2.2 -0.3h0m1.3 -1.3h0m3.0 1.6h0m0.4 -1.7h0m2.2 2.4h0m2.6 -0.1h0m4.6 -2.8h0m3.7 -2.5h0m2.6 4.6h0m0.1 -3.0h0m9.8 3.5h0m2.8 -4.9h0m1.8 1.9h0m1.4 0.3h0m1.2 2.5h0m2.2 -3.7h0m2.6 -1.1h0m6.8 3.8h0m1.7 -3.0h0m2.9 1.9h0m2.2 2.0h0m1.5 0.6h0m3.8 -2.4h0m2.8 2.3h0m0.7 -1.2h0m1.1 0.7h0m2.8 -3.6h0m0.7 2.2h0m6.1 -1.6h0m0.7 -1.7h0m3.9 2.5h0m3.1 0.5h0m0.9 0.9h0m1.1 -0.2h0m10.9 -3.2h0m4.3 2.8h0m2.9 -2.7h0m3.6 -0.5h0m2.3 3.3h0m3.4 -1.2h0m2.6 2.8h0m1.4 -0.1h0m0.6 -4.9h0m2.4 4.2h0m1.4 -2.9h0m2.6 -0.7h0m-152.1 5.6h0m3.0 0.2h0m2.0 0.5h0m1.8 3.6h0m1.1 -1.1h0m0.7 -2.5h0m2.5 1.9h0m4.6 1.4h0m1.6 1.2h0m0.5 -3.9h0m1.7 0.1h0m1.0 -0.5h0m2.7 3.4h0m0.7 -1.7h0m3.7 -0.6h0m2.0 -2.7h0m2.4 3.2h0m3.4 -1.9h0m9.6 -0.1h0m6.0 3.4h0m3.7 0.2h0m0.3 -2.6h0m3.5 3.2h0m1.2 -4.9h0m13.7 0.9h0m2.6 2.3h0m1.5 0.8h0m1.1 0.6h0m1.9 0.3h0m3.0 -1.6h0m2.6 -2.0h0m1.3 -0.5h0m5.5 3.7h0m2.1 -1.9h0m4.6 0.7h0m4.7 -1.3h0m0.5 3.3h0m3.0 -0.4h0m1.3 0.3h0m0.9 -0.3h0m0.5 -2.4h0m1.0 -2.6h0m2.5 3.6h0m4.4 -0.8h0m2.3 -3.1h0m1.9 2.2h0m2.7 -0.4h0m1.1 -1.5h0m1.6 5.0h0m3.3 -1.0h0m4.0 0.6h0m2.7 -3.4h0m1.6 -0.7h0m5.6 3.7h0m0.9 -2.4h0m0.7 3.1h0m0.9 -0.9h0m1.0 -2.3h0m2.8 -2.0h0m-150.5 8.0h0m0.2 2.8h0m1.6 -2.2h0m2.4 2.5h0m1.1 0.4h0m2.0 -2.5h0m2.3 1.9h0m5.7 -3.9h0m6.0 3.5h0m3.0 -2.4h0m0.8 0.8h0m1.4 -0.5h0m0.2 -0.1h0m2.0 -2.0h0m1.5 3.5h0m2.2 -3.6h0m6.7 1.2h0m0.7 -1.2h0m2.2 5.0h0m2.7 -2.0h0m3.5 0.1h0m3.4 -2.4h0m1.0 4.9h0m1.2 -1.1h0m2.4 -1.5h0m3.4 0.8h0m2.1 -1.8h0m0.3 -0.1h0m6.3 1.8h0m4.8 -3.8h0m0.8 4.3h0m2.1 1.1h0m3.0 -1.0h0m1.0 -3.7h0m1.4 3.8h0m6.3 -3.0h0m5.1 3.5h0m1.8 -1.1h0m3.9 1.9h0m2.7 -0.7h0m1.8 -1.5h0m3.1 -2.3h0m4.3 1.8h0m6.1 -0.8h0m6.0 -1.7h0m2.3 4.1h0m8.2 1.1h0m1.7 -2.2h0m1.1 -1.5h0m2.6 -1.9h0m4.2 3.3h0m0.5 2.1h0m0.9 -2.0h0m0.2 -3.1h0m0.4 0.6h0m-142.8 8.9h0m0.7 -0.1h0m0.9 1.4h0m1.7 -5.2h0m0.7 1.7h0m1.6 2.2h0m3.5 -2.0h0m0.4 1.1h0m5.9 0.6h0m0.5 -2.2h0m1.4 1.3h0m1.7 -0.7h0m1.6 1.6h0m2.5 -1.3h0m3.0 -0.9h0m2.8 3.1h0m2.0 0.4h0m1.5 -1.0h0m10.0 -1.6h0m0.9 -1.6h0m1.8 1.2h0m2.2 -0.5h0m2.1 0.9h0m2.7 0.1h0m2.7 0.6h0m1.0 1.4h0m0.4 -4.3h0m2.8 3.2h0m1.4 -0.9h0m5.3 -0.6h0m3.4 -1.6h0m6.8 4.2h0m0.5 -2.7h0m0.7 3.1h0m4.2 -4.1h0m3.6 3.3h0m4.4 -0.8h0m2.7 1.1h0m2.6 1.1h0m4.0 0.0h0m2.1 -2.8h0m4.6 -0.9h0m4.9 -1.8h0m5.4 -0.1h0m1.0 1.1h0m5.0 1.1h0m1.3 -1.2h0m4.1 2.1h0m4.3 -2.4h0m0.7 1.6h0m1.3 3.0h0m2.8 -3.7h0m0.2 -1.0h0m1.9 4.3h0m2.6 -3.5h0m1.6 0.1h0m-141.2 4.9h0m2.1 3.8h0m1.9 -1.1h0m3.9 0.0h0m0.6 0.4h0m3.3 2.3h0m3.9 -4.5h0m2.9 3.9h0m3.2 -4.2h0m4.1 -0.9h0m4.0 5.1h0m0.8 -1.3h0m1.9 -4.0h0m0.2 4.6h0m2.1 -0.2h0m1.9 -3.1h0m2.6 3.4h0m3.5 -0.1h0m2.7 -0.2h0m2.4 -3.6h0m2.4 2.6h0m6.1 -1.8h0m7.3 1.4h0m3.2 -2.0h0m5.2 1.2h0m0.8 1.0h0m1.1 -0.7h0m6.1 2.4h0m1.6 -1.5h0m6.0 0.8h0m5.6 1.1h0m9.2 -2.1h0m0.9 -1.1h0m4.7 -1.7h0m1.3 3.7h0m1.5 -1.5h0m5.0 1.6h0m0.6 0.1h0m7.7 -3.3h0m0.7 0.1h0m1.4 4.6h0m1.6 -3.4h0m1.6 -1.1h0m3.7 2.8h0m0.3 -2.0h0m0.6 -0.8h0m3.4 1.2h0m-131.7 7.9h0m4.0 -0.4h0m0.8 -1.5h0m3.0 2.2h0m1.3 0.3h0m1.7 0.1h0m1.0 -0.5h0m1.5 -4.1h0m2.6 2.4h0m6.2 -0.2h0m5.4 -0.7h0m1.5 3.0h0m8.3 -2.4h0m6.0 1.3h0m9.8 0.2h0m3.7 -2.3h0m3.1 0.2h0m6.3 3.3h0m0.3 -1.0h0m6.0 0.4h0m3.5 -1.9h0m3.5 2.5h0m3.3 -4.6h0m2.2 -0.0h0m8.4 -0.2h0m1.7 5.1h0m0.4 -3.8h0m8.3 -0.9h0m3.7 4.0h0m1.7 -4.3h0m2.2 -0.5h0m3.2 5.3h0m0.6 -2.6h0m2.9 1.7h0m1.0 -3.7h0m1.2 1.8h0m1.6 1.5h0m2.8 1.0h0m0.7 0.6h0m1.0 -3.2h0m0.1 2.7h0m2.0 -3.9h0m-124.0 6.9h0m1.7 -1.0h0m1.6 3.3h0m0.1 -1.2h0m0.8 -0.7h0m1.3 2.2h0m2.0 0.7h0m1.4 -1.1h0m1.7 0.7h0m0.6 -3.2h0m2.3 1.5h0m1.3 -2.5h0m1.5 2.3h0m5.3 -2.9h0m1.7 3.4h0m3.5 -0.9h0m1.8 3.0h0m3.4 -1.8h0m3.6 -1.2h0m3.3 0.7h0m3.3 -1.2h0m2.1 0.1h0m0.6 -1.3h0m2.0 -0.6h0m1.1 0.9h0m2.8 -0.4h0m7.9 0.4h0m2.5 2.3h0m3.4 0.8h0m0.7 1.4h0m1.3 -3.0h0m2.8 -0.6h0m4.8 0.8h0m1.4 -1.8h0m1.2 -1.3h0m2.8 0.2h0m4.5 -0.0h0m4.5 4.0h0m0.7 1.1h0m2.8 -2.7h0m1.2 -2.4h0m4.0 -0.2h0m5.0 2.8h0m0.9 2.8h0m2.9 -1.6h0m2.1 -3.2h0m0.7 3.9h0m1.5 -3.6h0m5.0 2.8h0m1.2 -3.4h0m1.5 0.5h0m-113.9 5.9h0m0.6 0.6h0m1.0 1.8h0m2.6 2.4h0m1.6 -3.0h0m1.0 -2.0h0m2.3 2.0h0m1.1 -1.4h0m1.4 3.0h0m0.6 0.8h0m2.6 -4.6h0m1.0 -0.0h0m1.6 0.2h0m0.7 4.6h0m6.3 -0.5h0m0.3 -4.5h0m3.0 3.1h0m1.6 -0.6h0m4.3 1.3h0m4.3 -3.6h0m1.8 4.8h0m2.1 -0.9h0m5.2 -0.2h0m1.4 -1.5h0m4.7 -1.1h0m2.7 -0.8h0m11.8 2.1h0m1.3 -0.6h0m1.3 -1.9h0m4.4 1.6h0m0.9 3.7h0m0.7 -1.7h0m3.1 -2.9h0m1.6 0.9h0m2.3 -0.5h0m1.0 2.3h0m6.5 -1.1h0m2.4 0.8h0m0.5 1.0h0m0.4 -3.3h0m1.6 3.8h0m2.3 -3.6h0m0.4 -1.3h0m1.0 0.1h0m1.7 0.6h0m2.4 -0.8h0m0.2 4.5h0m0.7 -3.7h0m1.5 -0.3h0m0.6 1.5h0m1.9 1.3h0m1.9 -1.2h0m-104.0 4.7h0m6.8 1.4h0m1.1 -2.1h0m0.7 3.1h0m2.0 0.1h0m0.7 -0.4h0m1.0 2.4h0m7.1 -2.7h0m1.0 2.3h0m1.3 -1.6h0m2.6 1.5h0m2.3 -4.6h0m4.2 1.8h0m2.7 -1.5h0m3.1 0.3h0m6.2 1.0h0m4.7 -1.5h0m1.2 2.0h0m4.4 -0.6h0m1.5 4.0h0m0.8 -4.8h0m0.5 1.0h0m1.6 2.4h0m1.5 -2.3h0m0.8 -0.2h0m0.4 2.3h0m3.2 -3.1h0m3.2 0.1h0m4.0 1.8h0m0.8 0.6h0m3.8 -2.3h0m1.5 2.8h0m2.6 1.0h0m2.8 -0.7h0m2.2 0.5h0m0.4 -2.8h0m1.0 3.8h0m1.4 -3.8h0m0.7 -0.3h0m3.1 3.7h0m0.2 -4.3h0m1.1 3.0h0m3.0 -3.0h0m2.1 0.7h0m-85.8 5.9h0m3.1 -0.7h0m2.0 -0.0h0m4.6 0.8h0m0.5 3.9h0m1.3 -4.7h0m1.3 1.3h0m1.8 2.2h0m1.0 -3.6h0m2.3 4.4h0m1.9 -0.2h0m0.1 -2.2h0m0.8 -0.2h0m3.0 0.7h0m0.3 -2.2h0m2.2 -0.4h0m3.4 2.2h0m1.8 2.8h0m2.4 0.2h0m2.1 -4.9h0m2.2 2.4h0m5.8 -0.3h0m0.8 0.2h0m2.0 -3.3h0m1.1 1.1h0m0.9 3.4h0m1.9 -0.2h0m2.0 -4.3h0m1.0 2.2h0m3.3 1.1h0m1.9 1.1h0m3.2 -2.9h0m0.4 3.6h0m1.1 -0.1h0m1.9 -2.9h0m1.0 1.1h0m2.3 -1.4h0m1.8 -0.5h0m2.3 -0.5h0m1.5 1.7h0m3.3 -1.0h0m-69.6 4.7h0m3.5 0.9h0m4.2 -0.8h0m0.1 1.4h0m2.5 1.6h0m0.7 -0.6h0m2.3 1.0h0m0.8 -2.8h0m0.4 -0.4h0m1.6 1.1h0m1.6 3.3h0m1.9 -1.5h0m1.9 2.0h0m0.8 -2.3h0m3.4 1.1h0m1.2 0.3h0m3.9 0.8h0m0.4 -3.5h0m2.8 3.7h0m1.3 -1.8h0m0.2 -3.4h0m2.8 3.2h0m1.4 -0.5h0m0.5 0.1h0m0.9 -2.1h0m1.3 0.2h0m0.7 3.5h0m0.1 -0.6h0m8.6 -3.3h0m1.0 -0.1h0m0.4 1.9h0" stroke="#3022b4" stroke-width="2.4" stroke-linecap="round" fill="none" opacity="1.0"/>
<rect x="474.0" y="2126.0" width="170.0" height="170.0" fill="#f2f0e2"/>
<circle cx="559.0" cy="2211.0" r="83.5" fill="url(#rim1)" stroke="#7c7cc4" stroke-width="1.4"/>
<path d="M545.2 2132.7h0m18.0 -0.2h0m-32.2 5.7h0m1.0 0.4h0m0.9 -0.1h0m2.5 -3.4h0m3.3 2.7h0m1.9 0.0h0m0.9 -0.4h0m5.4 -3.5h0m3.6 1.2h0m1.0 3.5h0m1.9 -5.5h0m7.8 1.6h0m2.3 -0.8h0m1.7 1.4h0m5.1 0.8h0m5.3 -0.9h0m1.7 -2.0h0m1.9 5.5h0m1.1 -1.8h0m2.2 -1.9h0m2.7 3.7h0m-67.6 4.1h0m2.4 -1.3h0m3.1 -0.8h0m4.2 3.1h0m0.7 1.2h0m5.5 -4.0h0m5.0 -1.5h0m4.0 4.3h0m1.5 -0.8h0m5.5 -2.6h0m4.0 2.2h0m7.3 -2.3h0m2.0 4.7h0m0.7 -1.7h0m9.3 -3.2h0m3.5 2.2h0m11.5 -1.7h0m3.0 0.0h0m2.4 3.9h0m2.5 -1.5h0m-85.8 6.9h0m4.4 -1.5h0m1.8 -1.9h0m2.5 2.1h0m3.3 -2.5h0m4.5 -0.5h0m3.9 4.0h0m7.2 -2.3h0m2.2 2.1h0m6.7 0.8h0m7.6 0.8h0m5.9 -4.3h0m5.9 3.6h0m0.3 -3.0h0m3.3 3.7h0m12.2 -0.1h0m4.3 -2.3h0m1.2 -0.1h0m7.7 -0.3h0m2.3 0.7h0m7.6 -0.9h0m-100.6 7.5h0m6.4 -2.9h0m3.6 2.3h0m12.9 -1.6h0m10.5 0.6h0m2.3 -0.1h0m10.4 -0.3h0m2.6 1.5h0m1.6 -3.7h0m5.1 4.4h0m12.5 -1.7h0m10.1 0.4h0m1.5 -1.0h0m7.1 1.5h0m6.2 -0.2h0m2.1 2.5h0m1.0 -5.5h0m8.3 5.4h0m2.6 -4.9h0m4.1 4.8h0m-114.6 5.6h0m3.3 -0.5h0m2.4 -0.7h0m27.7 0.8h0m9.3 -4.0h0m5.6 2.9h0m7.6 -2.4h0m7.9 1.2h0m2.1 3.0h0m0.8 -1.8h0m7.0 -2.8h0m2.4 1.3h0m4.5 2.7h0m7.0 0.5h0m4.6 -1.8h0m6.7 -1.5h0m6.5 -1.9h0m5.1 0.6h0m3.9 -0.5h0m1.7 4.1h0m2.1 -4.0h0m-120.3 9.2h0m0.9 0.2h0m3.7 -3.6h0m5.0 5.6h0m8.0 -5.5h0m4.6 4.7h0m13.1 0.5h0m8.4 -1.6h0m11.2 0.7h0m10.1 -3.1h0m8.3 0.8h0m0.3 -0.8h0m9.6 2.6h0m6.3 -1.7h0m1.2 -2.3h0m2.0 0.4h0m8.4 4.5h0m13.1 -0.2h0m1.0 -2.8h0m3.0 3.8h0m1.8 -1.5h0m3.5 -1.4h0m0.6 2.1h0m0.5 -0.1h0m-133.0 4.8h0m3.8 -2.0h0m1.4 1.7h0m2.8 -2.7h0m3.3 3.5h0m3.7 -2.1h0m3.5 -0.8h0m1.3 2.5h0m4.9 0.3h0m11.4 0.1h0m3.8 -2.6h0m2.7 -1.1h0m6.0 -0.3h0m3.5 1.1h0m3.5 1.9h0m8.5 -0.4h0m10.7 2.4h0m3.1 -4.9h0m2.4 -0.4h0m1.7 3.4h0m7.3 -2.8h0m6.5 -0.5h0m12.3 -0.2h0m22.1 4.9h0m3.2 0.3h0m2.6 -3.7h0m2.3 3.0h0m-140.0 5.7h0m0.8 -1.3h0m2.9 0.1h0m1.5 0.3h0m4.2 0.6h0m13.8 -4.0h0m3.6 2.8h0m6.1 -2.7h0m7.8 3.7h0m11.6 -0.3h0m4.2 -0.9h0m8.4 -0.9h0m14.3 2.3h0m3.8 1.3h0m3.2 -0.2h0m14.2 -0.4h0m8.8 -1.1h0m5.5 -0.5h0m0.9 0.4h0m1.5 1.9h0m5.5 -0.4h0m0.9 -1.7h0m7.1 -0.3h0m2.4 -0.0h0m3.0 -1.7h0m0.1 -1.2h0m6.0 5.6h0m-142.9 4.8h0m6.4 -2.2h0m2.8 1.3h0m4.6 -3.3h0m21.4 2.2h0m7.5 1.6h0m4.1 -2.1h0m1.2 -0.3h0m8.2 1.5h0m4.6 1.3h0m1.6 -0.6h0m9.0 -1.6h0m8.0 -2.3h0m4.4 0.2h0m4.8 5.2h0m8.6 -5.4h0m6.4 0.1h0m9.0 5.1h0m17.5 -0.0h0m3.7 -1.6h0m0.6 1.0h0m6.1 -3.6h0m1.5 0.7h0m4.0 2.7h0m1.2 -0.0h0m-147.8 6.0h0m2.1 -4.4h0m2.0 1.4h0m5.0 0.3h0m3.1 0.3h0m10.7 -0.3h0m2.1 -1.7h0m1.8 2.4h0m11.6 0.2h0m10.0 1.9h0m1.9 -1.6h0m1.7 1.8h0m21.8 -4.1h0m10.0 4.7h0m3.4 -4.1h0m4.3 0.1h0m14.6 3.1h0m6.6 -3.0h0m14.7 2.2h0m5.2 0.3h0m0.9 -3.9h0m1.3 2.4h0m2.5 -1.5h0m3.6 -0.2h0m3.5 3.8h0m4.0 0.6h0m-153.5 0.8h0m1.2 0.2h0m3.0 3.4h0m4.0 -1.3h0m5.6 0.6h0m11.9 -2.8h0m1.3 2.7h0m5.6 0.2h0m10.9 2.3h0m2.4 -3.9h0m0.8 0.7h0m2.1 1.5h0m4.5 -1.8h0m4.3 1.8h0m1.5 -3.8h0m11.6 1.1h0m7.5 3.0h0m6.4 -3.7h0m2.7 0.5h0m7.1 2.6h0m1.3 1.0h0m2.0 1.4h0m10.8 -1.7h0m2.1 1.1h0m2.3 -4.8h0m7.7 5.5h0m0.7 -4.4h0m1.5 0.5h0m1.9 1.7h0m2.3 2.3h0m5.5 -2.8h0m6.0 0.8h0m10.8 0.8h0m3.4 -4.1h0m1.3 0.2h0m-147.9 11.0h0m2.3 -5.4h0m9.6 2.6h0m1.5 0.3h0m2.3 -2.6h0m10.3 0.3h0m3.9 1.3h0m14.4 1.2h0m0.8 -1.6h0m5.7 -0.4h0m5.1 0.1h0m7.7 3.8h0m4.5 -0.8h0m15.9 -4.2h0m5.3 5.6h0m4.9 -4.4h0m4.3 1.4h0m4.5 2.7h0m2.7 -2.8h0m9.5 -1.9h0m5.9 4.6h0m1.7 -3.8h0m3.4 1.5h0m6.8 -1.8h0m6.3 1.1h0m0.3 2.5h0m2.6 -1.8h0m8.0 -0.8h0m0.4 1.1h0m-153.6 8.5h0m4.8 -3.2h0m0.6 1.3h0m4.2 -0.6h0m3.4 2.4h0m2.2 -5.4h0m12.9 0.7h0m24.0 0.3h0m10.2 -0.7h0m2.2 1.4h0m12.0 0.1h0m2.5 3.3h0m6.6 -4.8h0m4.1 1.8h0m7.0 3.4h0m2.5 -2.3h0m21.3 -2.8h0m3.8 4.1h0m7.5 -4.4h0m9.6 2.1h0m7.0 2.7h0m4.4 -1.6h0m-157.5 2.9h0m5.4 2.6h0m4.3 -2.5h0m1.2 0.3h0m24.3 4.9h0m4.1 -0.2h0m5.9 -3.8h0m8.7 4.2h0m6.4 -0.2h0m1.2 -0.2h0m14.5 -3.2h0m0.3 -0.9h0m0.6 3.2h0m10.9 -2.8h0m7.5 3.1h0m4.1 -1.4h0m1.3 -0.0h0m10.6 0.9h0m3.1 -0.6h0m8.5 -3.6h0m15.1 0.5h0m8.9 2.0h0m1.4 3.3h0m4.8 -1.3h0m5.7 -3.6h0m-156.1 10.6h0m1.4 -4.7h0m12.5 4.5h0m2.2 0.2h0m12.0 -4.6h0m3.0 4.5h0m4.2 -0.5h0m21.7 -1.8h0m1.8 -2.8h0m5.9 5.3h0m8.8 -2.6h0m6.7 0.1h0m7.7 1.3h0m3.9 -2.4h0m2.4 -1.3h0m4.0 3.2h0m2.4 -0.5h0m1.9 -2.2h0m1.6 -0.6h0m3.6 0.5h0m4.6 -0.0h0m12.5 -1.3h0m9.9 0.7h0m3.3 0.8h0m4.4 2.6h0m4.2 0.6h0m1.5 -2.0h0m2.4 2.6h0m1.0 -3.3h0m1.1 -0.9h0m2.2 -0.3h0m-154.2 5.3h0m0.7 1.9h0m3.2 3.8h0m0.2 0.2h0m7.7 -0.4h0m5.9 -4.0h0m4.6 3.0h0m3.5 -3.1h0m0.7 3.4h0m2.4 -2.2h0m3.9 2.9h0m2.1 -0.8h0m2.9 -0.3h0m5.4 -1.1h0m3.6 -0.9h0m5.0 3.4h0m16.4 0.2h0m7.8 -1.9h0m12.5 1.6h0m4.5 -1.5h0m2.7 -3.4h0m4.2 1.7h0m9.3 -0.6h0m10.1 0.9h0m11.2 -2.5h0m6.5 5.0h0m0.9 -3.1h0m0.6 -1.7h0m4.0 3.9h0m2.2 -0.6h0m4.0 1.4h0m0.2 -1.9h0m3.5 1.7h0m-153.7 1.7h0m3.5 0.3h0m3.7 4.0h0m3.6 -0.5h0m4.1 -3.3h0m0.8 0.0h0m32.2 0.5h0m6.6 2.2h0m2.7 1.1h0m3.5 -2.9h0m3.1 3.4h0m4.8 -1.7h0m1.5 1.7h0m7.2 -3.2h0m8.2 1.8h0m13.0 -0.2h0m4.2 0.2h0m8.1 -1.9h0m4.2 0.8h0m7.6 2.8h0m15.8 -1.0h0m2.5 0.7h0m7.2 -1.7h0m2.5 0.2h0m1.4 -0.6h0m-150.7 4.0h0m1.4 1.2h0m2.3 -2.5h0m3.6 1.7h0m10.9 4.2h0m4.8 -4.3h0m7.0 1.9h0m7.7 0.5h0m4.7 0.5h0m14.2 -4.1h0m17.8 5.0h0m13.4 -2.5h0m13.6 -0.1h0m5.3 1.9h0m4.6 -4.2h0m6.8 2.7h0m2.8 0.1h0m3.6 0.7h0m0.7 -3.1h0m5.8 0.2h0m4.3 3.0h0m5.4 -1.9h0m0.5 -2.0h0m0.7 0.7h0m1.1 3.1h0m0.3 -0.8h0m1.4 -1.4h0m3.0 0.8h0m-143.3 6.4h0m0.7 0.4h0m2.4 -2.0h0m3.7 0.6h0m1.1 1.4h0m3.2 -1.0h0m12.9 0.7h0m8.3 -2.7h0m8.0 2.3h0m5.8 0.6h0m2.5 -2.2h0m11.5 -0.3h0m10.0 1.1h0m4.2 2.3h0m8.4 -2.8h0m1.4 4.0h0m9.2 -3.9h0m3.8 -0.3h0m4.3 1.2h0m3.7 -0.7h0m3.3 2.4h0m4.9 -4.0h0m4.3 0.3h0m4.0 5.6h0m6.3 -4.6h0m10.4 2.7h0m2.2 -3.0h0m2.9 0.2h0m-137.3 8.3h0m2.6 1.5h0m4.5 0.0h0m8.1 -2.9h0m8.1 -0.3h0m10.9 -1.0h0m0.6 4.9h0m13.2 -4.3h0m4.5 0.8h0m4.7 -0.6h0m7.0 4.1h0m2.1 -4.3h0m7.3 3.1h0m2.7 -3.4h0m3.4 3.0h0m7.6 1.6h0m14.7 -2.6h0m13.8 0.5h0m1.5 -3.5h0m8.0 1.8h0m2.3 -0.3h0m2.1 2.7h0m0.2 -1.1h0m4.3 -1.2h0m-135.5 5.2h0m5.0 2.6h0m4.2 -0.9h0m7.9 2.5h0m3.7 -1.9h0m10.0 -2.0h0m3.2 4.5h0m9.1 -0.2h0m9.3 -0.9h0m23.6 1.3h0m3.3 -3.6h0m8.9 2.6h0m2.3 -2.4h0m1.8 3.2h0m6.9 -3.0h0m7.3 2.9h0m2.1 -1.1h0m1.4 0.7h0m3.8 0.2h0m3.8 -0.3h0m4.7 0.1h0m6.5 -2.1h0m2.9 -1.5h0m-127.0 5.4h0m3.6 -0.0h0m2.9 3.2h0m5.4 0.4h0m5.7 -1.0h0m1.8 -3.3h0m4.7 1.0h0m8.6 3.2h0m1.5 -4.0h0m5.6 4.7h0m4.8 -0.8h0m2.4 -1.8h0m9.5 1.2h0m10.9 0.1h0m3.2 -0.7h0m5.4 -2.0h0m10.3 3.6h0m1.7 -0.2h0m3.8 -3.9h0m2.7 -0.5h0m12.0 4.5h0m7.2 -2.1h0m1.5 1.4h0m5.1 -1.2h0m-113.4 3.7h0m2.3 1.8h0m3.9 2.0h0m15.7 -2.6h0m3.3 3.6h0m16.9 -0.7h0m6.6 -3.9h0m3.8 5.0h0m1.9 -1.9h0m3.2 2.0h0m9.7 -0.1h0m4.6 -3.2h0m7.1 -0.9h0m3.9 -0.2h0m6.3 2.2h0m7.7 -0.6h0m2.1 -0.7h0m1.6 0.8h0m2.2 1.4h0m5.3 -3.2h0m0.8 1.8h0m2.5 -3.2h0m-96.5 9.7h0m7.4 1.5h0m5.3 -2.8h0m1.1 -1.1h0m4.5 -0.2h0m3.1 -0.8h0m2.9 4.2h0m0.9 -1.3h0m2.9 -0.1h0m6.0 -1.6h0m5.1 -0.5h0m1.8 4.9h0m3.4 -4.9h0m7.4 3.8h0m2.2 1.0h0m3.2 -2.8h0m4.4 -1.7h0m8.2 1.6h0m4.7 -0.1h0m8.7 -0.7h0m0.8 2.0h0m1.9 1.2h0m5.1 -4.3h0m-91.2 6.3h0m4.5 3.7h0m2.2 -2.3h0m1.4 -1.3h0m3.9 3.5h0m2.4 0.9h0m1.4 -1.9h0m2.8 1.8h0m9.9 -0.3h0m5.2 -1.1h0m5.5 -2.0h0m0.8 0.3h0m1.5 -2.0h0m4.3 0.8h0m3.0 -0.6h0m7.9 -0.2h0m5.2 4.2h0m3.3 -3.5h0m2.9 -0.4h0m6.2 -0.7h0m1.1 4.8h0m-66.0 0.9h0m5.2 3.5h0m5.1 -2.0h0m2.1 4.4h0m3.1 -1.2h0m0.9 -3.7h0m1.4 2.0h0m0.6 -1.8h0m2.4 -0.8h0m0.6 0.7h0m0.6 1.7h0m8.2 -0.8h0m1.2 1.9h0m2.0 1.6h0m8.8 -0.1h0m3.7 -1.4h0m0.7 -3.1h0m1.2 0.9h0m2.4 -0.5h0m5.9 0.8h0m3.8 -1.3h0m-35.6 5.9h0m12.8 -0.2h0" stroke="#3022b4" stroke-width="1.7" stroke-linecap="round" fill="none" opacity="1.0"/>
<path d="M559.0 2132.6h0m5.5 -1.4h0m-33.2 6.2h0m1.1 -0.6h0m1.7 -1.6h0m2.9 2.6h0m3.0 -3.9h0m0.9 2.9h0m0.7 0.3h0m6.3 -2.5h0m3.4 1.7h0m1.3 -2.8h0m7.5 2.5h0m1.8 1.6h0m3.3 -1.2h0m0.0 -2.7h0m7.0 4.8h0m4.4 -3.2h0m0.7 3.0h0m2.0 -0.1h0m1.3 0.2h0m4.4 -2.3h0m5.6 2.1h0m-72.3 4.1h0m2.9 -0.2h0m4.9 0.2h0m1.8 -2.7h0m1.0 0.2h0m6.9 0.0h0m5.2 0.7h0m1.6 1.1h0m4.8 2.5h0m3.9 -2.4h0m2.3 3.1h0m8.7 0.1h0m0.8 -0.7h0m3.6 -2.7h0m9.3 1.2h0m11.1 -2.4h0m1.9 1.1h0m2.6 2.4h0m2.9 -3.6h0m4.7 2.8h0m-89.0 5.9h0m5.2 1.2h0m2.3 -4.2h0m1.7 2.4h0m6.7 -1.6h0m2.7 1.6h0m3.8 0.9h0m6.2 -2.3h0m3.8 1.6h0m5.1 -1.9h0m8.6 2.4h0m7.5 0.9h0m1.9 -4.6h0m2.5 0.9h0m3.2 4.2h0m10.3 -1.3h0m4.9 -1.1h0m2.1 0.1h0m7.4 1.3h0m7.4 0.7h0m2.5 -3.4h0m-96.6 8.0h0m3.8 -1.8h0m0.8 -0.3h0m14.8 3.1h0m10.2 -1.0h0m0.6 -0.4h0m12.5 2.2h0m1.0 -1.5h0m5.6 -2.9h0m11.9 3.7h0m1.7 -0.5h0m11.0 -2.6h0m1.7 0.2h0m6.8 -0.7h0m6.4 2.5h0m1.2 1.4h0m4.2 -2.4h0m5.8 -1.5h0m2.1 1.3h0m5.4 2.8h0m-116.5 4.0h0m5.1 0.5h0m16.5 0.7h0m14.3 -0.9h0m7.9 1.6h0m5.1 -3.8h0m13.5 3.3h0m3.1 -2.6h0m0.7 -0.5h0m5.4 -0.2h0m3.2 4.0h0m4.5 -3.2h0m7.8 3.2h0m2.5 -1.4h0m8.1 -2.1h0m7.3 2.7h0m2.7 -0.9h0m3.1 1.0h0m4.6 1.4h0m2.0 -3.4h0m3.8 2.6h0m-123.3 1.5h0m1.3 0.8h0m5.4 2.3h0m8.6 -1.0h0m3.6 2.2h0m14.3 0.9h0m3.3 -0.7h0m15.3 0.2h0m5.3 -3.5h0m10.9 3.5h0m5.2 -4.9h0m6.1 2.0h0m6.5 0.8h0m3.7 -0.1h0m2.6 -1.8h0m2.7 0.6h0m9.9 0.0h0m9.6 1.3h0m2.9 1.2h0m0.8 -2.8h0m4.7 3.6h0m1.1 -3.8h0m0.5 1.1h0m0.4 2.2h0m-131.1 2.4h0m1.6 4.6h0m2.0 -5.4h0m5.0 2.0h0m0.5 -0.9h0m4.0 4.1h0m4.2 -0.5h0m4.6 -0.9h0m1.4 -2.3h0m12.2 3.4h0m4.1 -2.8h0m4.0 0.2h0m3.3 3.6h0m3.6 -2.1h0m10.8 1.6h0m10.3 -5.2h0m2.1 2.9h0m4.1 -3.1h0m0.9 1.9h0m2.3 1.1h0m6.5 -2.2h0m16.9 -0.5h0m10.2 0.7h0m13.7 -1.0h0m3.8 5.2h0m3.0 -4.3h0m1.1 3.7h0m-139.8 6.0h0m0.3 -2.5h0m4.3 0.7h0m0.7 -1.3h0m6.2 2.3h0m13.8 -2.5h0m4.3 2.5h0m8.6 1.7h0m2.3 -4.8h0m13.0 1.5h0m6.4 -1.4h0m14.3 0.3h0m6.0 0.7h0m5.1 2.9h0m3.3 -4.4h0m15.6 4.0h0m6.5 -1.6h0m4.4 2.1h0m1.5 -4.8h0m0.6 0.3h0m5.7 1.1h0m4.7 3.3h0m4.3 -3.6h0m1.4 -0.9h0m2.4 0.8h0m1.7 0.4h0m-141.0 8.7h0m3.8 -1.5h0m5.5 2.9h0m6.5 -4.6h0m8.5 3.1h0m14.0 1.1h0m10.7 -2.7h0m1.2 2.1h0m5.2 -3.1h0m5.6 1.9h0m2.5 -2.3h0m5.0 2.2h0m13.3 -1.5h0m4.0 0.5h0m1.8 0.0h0m11.4 0.6h0m5.3 2.0h0m9.2 -4.1h0m10.1 0.6h0m11.9 3.8h0m1.3 -1.4h0m3.0 -3.6h0m3.7 2.7h0m4.7 -0.1h0m1.2 2.4h0m-149.4 4.2h0m3.4 -0.5h0m0.9 1.7h0m6.2 -2.6h0m2.5 -0.9h0m4.1 1.2h0m8.1 -2.5h0m2.5 5.3h0m5.5 -4.4h0m10.4 3.8h0m6.9 -3.5h0m1.6 -0.9h0m22.7 2.7h0m4.9 0.4h0m8.8 -1.5h0m1.6 1.6h0m5.6 1.5h0m12.4 -4.4h0m18.8 0.2h0m5.7 3.2h0m2.2 -1.1h0m1.1 -1.2h0m1.3 -1.6h0m4.5 1.1h0m2.7 4.3h0m2.0 -5.2h0m4.8 1.5h0m-153.2 7.8h0m0.5 -1.6h0m3.4 -1.6h0m7.1 0.8h0m3.9 0.9h0m9.8 -0.2h0m4.7 2.3h0m11.4 -3.8h0m1.5 3.1h0m2.8 1.3h0m0.5 -4.1h0m5.2 1.5h0m3.4 -0.8h0m3.0 3.3h0m7.4 -1.6h0m10.9 -2.4h0m1.7 3.4h0m6.5 -2.8h0m8.6 0.3h0m1.8 -0.7h0m1.0 3.2h0m9.5 -1.1h0m4.4 2.0h0m2.6 -3.4h0m6.7 3.6h0m1.3 -0.3h0m0.5 0.5h0m3.1 -3.0h0m0.5 -2.2h0m2.3 1.3h0m8.6 -0.4h0m7.9 3.4h0m8.7 -3.8h0m0.7 3.6h0m1.9 -3.0h0m-148.8 7.7h0m6.0 1.2h0m5.7 -0.2h0m3.3 -0.2h0m7.1 -2.7h0m5.4 4.6h0m9.9 -1.5h0m6.7 0.0h0m1.8 -4.4h0m8.8 5.8h0m6.5 -2.1h0m2.0 -0.5h0m8.6 -2.9h0m13.5 2.9h0m4.0 -2.6h0m7.9 0.6h0m1.1 4.0h0m6.6 -4.7h0m5.3 5.1h0m5.5 -0.9h0m6.0 -2.2h0m1.9 3.1h0m3.8 -1.6h0m10.2 -0.0h0m1.4 -0.4h0m0.6 0.6h0m8.4 0.9h0m1.9 -1.7h0m-157.8 7.4h0m7.0 0.1h0m2.4 -2.9h0m4.1 3.3h0m2.1 -1.3h0m3.1 -1.8h0m10.0 -0.8h0m16.0 -0.1h0m21.2 4.4h0m2.4 -3.1h0m2.2 1.0h0m11.6 -3.3h0m4.5 5.2h0m5.6 -3.2h0m8.4 0.3h0m1.7 0.1h0m21.6 -1.3h0m3.7 2.0h0m3.7 -0.1h0m12.0 -1.0h0m5.1 2.3h0m7.7 -1.2h0m-156.2 4.9h0m2.5 2.5h0m6.6 -0.2h0m1.8 -0.8h0m17.9 1.5h0m7.0 -1.3h0m6.2 -2.1h0m5.8 0.8h0m12.0 3.1h0m0.8 -0.9h0m1.6 -0.4h0m14.2 -0.4h0m0.0 -2.8h0m3.7 1.2h0m13.9 1.6h0m2.9 -2.5h0m3.7 0.3h0m8.1 -0.8h0m4.1 4.4h0m2.5 -3.8h0m9.4 -0.4h0m20.3 -1.0h0m2.6 1.1h0m4.3 -0.3h0m6.3 0.6h0m0.8 -1.0h0m-155.6 6.8h0m1.2 -0.5h0m12.4 -0.2h0m13.2 0.7h0m1.0 2.7h0m2.7 -0.4h0m14.3 -3.0h0m12.6 -0.5h0m4.7 0.9h0m10.2 3.6h0m2.8 -2.5h0m11.1 -0.7h0m1.1 3.1h0m4.1 -2.0h0m2.4 0.1h0m5.0 2.5h0m1.1 -3.7h0m2.9 2.3h0m2.5 1.3h0m5.9 -4.2h0m7.1 4.4h0m13.8 -4.5h0m3.7 0.3h0m4.9 1.5h0m1.9 -1.1h0m3.5 3.7h0m3.3 -3.7h0m1.0 -1.5h0m0.8 1.5h0m1.6 1.4h0m1.8 0.4h0m-154.3 4.3h0m3.0 4.0h0m0.6 -2.4h0m0.4 -2.1h0m11.9 3.4h0m5.6 -2.5h0m1.2 2.7h0m2.7 -0.3h0m1.8 -2.8h0m3.7 -1.2h0m2.1 0.9h0m4.0 0.2h0m1.2 3.5h0m5.8 -3.6h0m3.6 2.3h0m13.4 -1.8h0m14.2 0.3h0m8.9 0.1h0m6.0 1.4h0m3.5 -1.4h0m2.1 0.7h0m7.5 -1.7h0m14.8 2.1h0m4.6 0.7h0m13.5 -0.5h0m1.2 -2.6h0m0.5 -0.9h0m2.9 3.1h0m1.9 -0.2h0m2.6 0.2h0m3.3 -2.8h0m2.4 3.7h0m1.9 -0.9h0m-153.6 5.8h0m3.6 -1.2h0m6.0 -1.8h0m0.8 3.1h0m4.2 2.2h0m9.3 -2.0h0m29.0 -1.3h0m3.0 2.9h0m3.2 -4.1h0m2.9 4.7h0m1.3 -0.8h0m4.4 -5.0h0m2.2 2.4h0m12.6 -1.2h0m11.7 0.8h0m5.8 0.2h0m4.2 -1.6h0m9.7 3.1h0m2.4 -2.1h0m18.2 1.0h0m5.0 1.2h0m6.4 1.2h0m1.9 -1.2h0m2.4 -3.7h0m2.8 2.5h0m-151.5 5.3h0m1.6 3.7h0m2.0 -4.5h0m5.2 4.2h0m10.0 -0.4h0m5.1 -4.6h0m8.5 4.0h0m8.6 1.5h0m0.5 -2.4h0m23.9 -1.6h0m14.7 1.5h0m9.4 1.3h0m15.3 1.0h0m4.3 -3.4h0m3.3 -1.2h0m6.5 1.1h0m3.0 0.7h0m1.6 -0.1h0m1.6 0.1h0m7.7 -2.0h0m4.2 0.7h0m2.6 2.7h0m0.3 -1.1h0m1.8 1.3h0m0.1 -3.8h0m1.5 2.3h0m0.7 0.9h0m4.3 -1.9h0m-144.9 5.2h0m0.9 0.7h0m4.4 3.8h0m1.3 -0.4h0m1.9 -0.7h0m3.7 1.1h0m15.8 -0.8h0m8.7 -0.1h0m6.8 -2.3h0m2.5 -1.0h0m2.6 3.2h0m16.7 0.7h0m8.1 -0.6h0m3.3 -1.0h0m6.2 0.7h0m8.0 -2.8h0m4.9 1.3h0m2.8 1.9h0m4.2 -0.2h0m2.6 -2.9h0m5.0 -1.0h0m5.3 2.8h0m5.4 0.2h0m2.9 2.4h0m13.4 -4.6h0m1.4 3.7h0m1.8 -2.2h0m2.5 -2.2h0m-134.9 9.1h0m0.8 -3.4h0m5.0 1.7h0m13.9 3.7h0m6.6 -4.2h0m6.2 0.3h0m0.2 -1.7h0m15.8 3.0h0m3.6 -2.4h0m8.3 0.8h0m3.1 3.6h0m3.3 -4.6h0m4.6 0.4h0m5.0 3.7h0m8.0 0.8h0m11.1 -3.4h0m7.4 0.6h0m10.9 0.0h0m7.6 2.0h0m2.6 -1.5h0m3.0 -1.4h0m0.4 3.0h0m1.4 -2.4h0m4.6 -1.7h0m-132.8 6.0h0m2.1 2.8h0m7.1 1.1h0m5.8 -4.2h0m10.1 2.5h0m3.4 2.6h0m1.6 0.2h0m15.5 -3.0h0m24.0 -1.5h0m3.1 -0.1h0m6.4 0.4h0m5.5 2.2h0m2.0 -0.2h0m4.5 -0.3h0m5.1 0.7h0m6.5 -0.3h0m2.7 -1.8h0m1.5 3.6h0m4.0 -2.7h0m5.6 1.4h0m6.1 -2.9h0m4.2 1.5h0m0.8 -1.4h0m-124.6 9.4h0m2.3 -0.4h0m4.3 -3.0h0m4.8 3.8h0m4.2 0.4h0m4.1 -2.7h0m6.6 1.1h0m4.3 -1.3h0m1.2 2.3h0m8.7 0.0h0m2.9 -2.6h0m7.5 0.3h0m9.5 -2.1h0m7.0 0.8h0m2.1 -0.5h0m7.1 3.0h0m8.6 0.2h0m1.4 -0.4h0m3.9 -2.7h0m1.7 4.8h0m14.0 -0.7h0m6.0 -5.0h0m2.0 4.2h0m-111.1 2.4h0m1.4 1.6h0m4.3 2.3h0m15.1 -3.6h0m5.0 1.9h0m3.7 2.3h0m15.1 -2.5h0m5.3 1.8h0m5.1 -2.0h0m2.0 0.5h0m4.1 2.6h0m7.8 -0.7h0m4.9 -4.7h0m7.8 0.1h0m2.8 2.5h0m7.4 1.9h0m6.7 -1.6h0m1.9 -2.1h0m2.7 4.7h0m2.5 -0.8h0m4.2 -0.8h0m2.0 -2.0h0m-103.6 7.3h0m12.1 -3.4h0m7.3 2.1h0m1.4 2.7h0m4.2 -2.2h0m1.2 2.4h0m5.3 -0.8h0m1.2 -1.5h0m2.8 -2.5h0m3.0 3.3h0m4.3 1.0h0m4.8 1.3h0m4.1 -1.7h0m2.2 -3.8h0m6.2 3.7h0m3.2 -2.1h0m5.1 -0.4h0m7.2 0.3h0m4.5 2.1h0m7.1 0.8h0m3.9 -3.3h0m2.2 0.9h0m2.2 -1.8h0m-88.0 6.9h0m3.6 0.9h0m2.3 0.7h0m1.8 -2.5h0m4.2 -0.3h0m1.7 3.6h0m2.3 0.7h0m1.9 0.3h0m4.2 -0.4h0m8.7 0.2h0m5.5 -4.8h0m3.5 2.8h0m1.6 1.7h0m3.9 -1.7h0m1.3 1.3h0m4.9 0.3h0m8.2 -4.4h0m3.8 4.1h0m4.6 -0.1h0m3.8 -2.1h0m3.1 2.5h0m1.1 -1.4h0m-63.4 5.1h0m7.4 2.9h0m1.1 -3.4h0m3.9 0.3h0m0.5 -0.6h0m1.1 2.3h0m1.4 -1.4h0m1.6 1.6h0m1.4 2.2h0m0.2 -4.5h0m1.5 2.6h0m7.4 -1.5h0m2.8 2.1h0m0.3 -1.7h0m9.6 -2.0h0m3.2 2.7h0m0.7 -3.0h0m1.5 2.5h0m3.3 1.0h0m7.8 -3.1h0m-38.1 5.4h0m10.1 1.5h0m8.9 -0.5h0" stroke="#3022b4" stroke-width="2.4" stroke-linecap="round" fill="none" opacity="1.0"/>
<rect x="124.4" y="2325.9" width="168.6" height="171.1" fill="#cdcecc"/>
<circle cx="208.2" cy="2410.4" r="82.8" fill="url(#rim2)" stroke="#6a60c4" stroke-width="1.6"/>
<path d="M186.3 2335.3h0m8.2 -2.3h0m5.6 2.2h0m1.7 -0.5h0m0.8 -2.1h0m1.8 0.9h0m0.5 1.5h0m2.4 -1.2h0m1.4 -0.3h0m3.9 0.7h0m4.3 -1.9h0m2.5 1.1h0m5.8 1.3h0m3.0 0.6h0m1.0 -0.1h0m3.9 1.7h0m-60.5 4.4h0m1.0 0.2h0m9.8 -2.1h0m3.4 -2.0h0m4.4 4.5h0m4.0 -4.9h0m4.8 3.9h0m2.1 -0.4h0m5.7 -1.2h0m1.6 0.1h0m1.1 0.2h0m2.6 -1.0h0m4.7 3.3h0m4.8 -2.7h0m0.9 2.6h0m2.7 -3.6h0m5.1 1.2h0m0.3 2.6h0m1.7 -3.8h0m1.6 2.6h0m1.3 1.1h0m1.9 -3.6h0m0.5 3.1h0m1.6 -0.4h0m2.5 1.3h0m-78.4 3.4h0m2.0 0.4h0m1.1 2.0h0m2.1 -0.6h0m1.1 -1.5h0m3.9 0.6h0m3.5 1.6h0m2.6 -2.7h0m9.5 -0.4h0m3.4 -0.5h0m12.2 3.8h0m2.3 -4.4h0m7.0 4.1h0m15.0 -4.2h0m3.8 1.7h0m9.6 2.5h0m2.3 -0.2h0m1.9 -4.2h0m2.4 1.8h0m0.3 1.0h0m5.6 1.9h0m-97.5 6.2h0m5.5 -4.8h0m1.2 2.5h0m2.1 -0.5h0m2.3 0.8h0m3.6 -1.6h0m5.1 -0.6h0m18.3 -1.2h0m8.7 -0.5h0m7.9 1.0h0m4.2 3.3h0m11.4 -1.6h0m1.9 -2.1h0m3.2 1.9h0m4.8 1.4h0m4.0 -2.7h0m9.0 0.0h0m2.6 3.8h0m4.7 -1.9h0m-104.5 4.4h0m1.5 0.4h0m1.4 1.1h0m7.0 2.3h0m6.2 -3.8h0m10.6 4.0h0m4.5 -1.4h0m6.7 -4.1h0m4.8 2.8h0m25.5 -1.9h0m4.7 1.1h0m20.6 -1.9h0m5.7 3.0h0m6.6 2.2h0m3.8 -4.8h0m3.7 5.2h0m-120.5 4.0h0m2.1 -2.3h0m2.4 -0.8h0m2.4 0.2h0m3.3 2.2h0m9.8 -2.0h0m6.6 3.5h0m3.5 -1.8h0m2.0 1.7h0m10.3 1.5h0m12.8 -3.5h0m5.4 -1.9h0m3.2 4.5h0m15.2 -4.4h0m3.1 0.3h0m10.2 -0.3h0m2.1 0.4h0m9.2 4.5h0m6.9 0.3h0m6.0 -0.8h0m3.8 0.3h0m2.1 -3.4h0m-128.8 8.7h0m2.0 -0.5h0m2.9 0.6h0m1.3 -4.1h0m7.4 0.4h0m1.6 4.0h0m3.6 -0.8h0m18.6 1.4h0m1.9 -3.1h0m4.9 3.2h0m32.8 -2.4h0m10.9 -2.3h0m8.6 4.8h0m15.8 -2.7h0m6.7 -1.8h0m6.8 1.8h0m3.1 -1.8h0m3.2 -0.3h0m2.7 4.5h0m-135.1 1.5h0m0.7 2.0h0m1.8 -1.3h0m5.1 -1.1h0m3.7 0.5h0m13.9 0.2h0m10.4 1.4h0m15.5 1.1h0m15.0 0.5h0m9.3 -0.8h0m18.3 1.0h0m7.1 1.2h0m2.9 -4.4h0m5.4 1.7h0m20.9 0.2h0m4.1 1.4h0m2.9 -0.4h0m-142.3 3.9h0m1.3 1.9h0m0.7 -2.1h0m0.7 2.2h0m0.2 -3.3h0m2.8 4.8h0m2.9 -3.9h0m2.0 3.8h0m2.3 -5.1h0m7.8 2.9h0m13.5 0.0h0m2.1 2.3h0m3.0 -3.8h0m8.2 3.2h0m12.6 0.6h0m11.6 -0.1h0m12.0 -1.5h0m11.7 -2.2h0m1.3 1.5h0m13.0 -2.8h0m7.7 0.1h0m15.2 5.1h0m5.3 -1.4h0m3.1 0.5h0m1.6 0.4h0m-144.9 5.6h0m1.5 -3.7h0m2.2 0.2h0m0.2 0.5h0m6.1 -1.5h0m4.1 2.9h0m3.4 -3.2h0m7.5 4.8h0m4.9 -4.2h0m2.2 0.8h0m11.1 3.2h0m3.6 1.1h0m21.0 -5.5h0m9.3 0.2h0m9.0 3.2h0m0.9 0.9h0m9.8 -3.6h0m2.7 3.9h0m21.8 0.2h0m4.8 -4.6h0m5.8 3.6h0m3.6 0.4h0m4.3 -3.0h0m2.5 2.8h0m1.6 -4.2h0m4.4 5.3h0m0.7 -0.9h0m1.7 0.2h0m-151.6 5.8h0m2.4 -1.0h0m2.7 -1.3h0m3.2 0.3h0m6.1 0.1h0m11.7 -0.4h0m8.7 1.4h0m6.2 -1.6h0m9.6 3.0h0m11.6 -2.5h0m16.4 -2.4h0m5.3 1.6h0m13.0 3.2h0m8.3 0.2h0m10.8 -3.0h0m10.1 2.2h0m13.4 1.4h0m3.1 -4.6h0m2.8 4.5h0m1.8 -0.8h0m0.3 -2.2h0m1.7 -0.7h0m2.2 4.0h0m0.6 0.1h0m-149.2 3.3h0m7.2 0.9h0m6.4 -2.7h0m5.2 1.4h0m14.7 -1.3h0m22.5 2.4h0m18.2 -0.1h0m9.2 0.5h0m0.9 -1.8h0m13.6 -0.8h0m1.7 -1.1h0m1.1 2.8h0m6.5 -0.7h0m11.4 1.9h0m11.7 -3.5h0m5.8 1.2h0m6.8 2.8h0m6.6 -1.8h0m-154.1 6.1h0m0.4 0.8h0m11.7 -3.5h0m6.5 1.4h0m3.4 2.2h0m3.5 -3.0h0m2.1 2.9h0m2.2 -0.6h0m11.8 -2.4h0m17.3 3.0h0m15.8 0.7h0m26.6 -3.0h0m15.3 -0.4h0m8.5 2.8h0m4.7 -3.9h0m12.9 1.8h0m4.6 -0.3h0m5.7 -1.7h0m3.1 5.5h0m-155.3 2.8h0m9.1 -0.8h0m2.6 -1.5h0m6.4 -0.3h0m14.3 3.0h0m5.2 -2.2h0m8.4 3.7h0m12.4 1.0h0m15.0 -2.3h0m1.4 0.8h0m9.5 1.1h0m1.9 -5.1h0m12.8 2.7h0m8.5 -0.0h0m2.2 2.4h0m6.7 -4.0h0m4.3 1.0h0m4.4 2.5h0m1.2 -2.2h0m18.7 -1.9h0m1.7 5.0h0m5.0 -1.5h0m0.8 0.3h0m2.4 0.5h0m-153.6 2.0h0m2.1 3.4h0m1.2 -3.8h0m6.1 2.9h0m1.6 -2.8h0m6.0 3.0h0m4.1 0.7h0m3.6 -3.3h0m12.7 0.7h0m5.5 3.9h0m13.4 -3.4h0m10.4 -1.4h0m8.8 1.8h0m8.1 1.3h0m10.3 -1.3h0m11.7 -1.8h0m1.1 0.7h0m5.6 0.4h0m4.3 2.5h0m15.0 -1.6h0m8.4 -0.7h0m4.0 1.7h0m3.8 -1.1h0m2.0 2.2h0m2.4 -2.1h0m2.2 -0.7h0m-152.3 5.1h0m1.1 2.7h0m0.8 0.3h0m1.6 -1.1h0m3.4 -2.0h0m3.9 4.1h0m29.9 -2.9h0m17.4 2.1h0m18.2 -2.7h0m10.8 1.5h0m5.9 0.3h0m2.2 0.5h0m5.3 1.0h0m6.7 0.4h0m6.5 -0.2h0m16.4 -3.2h0m7.8 2.5h0m7.2 -3.2h0m2.5 1.7h0m3.5 -1.2h0m-152.1 9.1h0m2.3 -1.8h0m0.4 -1.6h0m2.2 -0.2h0m4.9 -1.0h0m20.6 0.6h0m5.4 2.5h0m8.5 -1.8h0m10.7 3.8h0m4.8 -4.9h0m3.5 1.6h0m3.2 2.9h0m2.0 -3.5h0m4.0 2.9h0m2.4 1.4h0m2.7 -5.2h0m4.4 5.2h0m8.4 -5.3h0m8.5 0.8h0m11.3 2.8h0m3.8 -2.2h0m23.5 3.4h0m5.7 -3.3h0m3.9 -0.2h0m-145.0 7.0h0m0.5 -0.4h0m4.7 -1.6h0m2.4 0.3h0m6.7 3.8h0m12.4 -1.2h0m3.9 -1.4h0m16.1 -1.6h0m9.6 1.7h0m13.9 2.7h0m11.0 -3.3h0m9.3 2.1h0m2.3 -1.8h0m6.8 1.3h0m1.0 0.8h0m1.6 0.5h0m4.4 -2.0h0m7.7 -0.9h0m5.2 -0.9h0m6.7 4.8h0m6.8 -5.1h0m10.8 3.5h0m-139.5 2.1h0m3.4 4.3h0m1.2 -2.1h0m5.3 -2.1h0m3.4 0.3h0m12.7 3.8h0m4.1 -3.7h0m3.7 1.3h0m5.2 2.0h0m10.0 -3.7h0m12.2 1.6h0m18.6 0.7h0m13.3 -0.2h0m12.6 1.0h0m4.2 -0.2h0m6.1 -1.8h0m5.5 3.6h0m14.2 0.5h0m2.7 -1.9h0m-136.9 3.4h0m4.8 3.5h0m3.2 -3.6h0m5.9 2.5h0m5.3 1.8h0m9.4 0.6h0m6.9 -4.9h0m10.8 3.1h0m12.3 0.7h0m8.5 -4.2h0m12.8 1.8h0m15.1 3.1h0m10.1 -2.7h0m0.7 0.7h0m9.1 0.5h0m0.7 -1.2h0m10.8 3.3h0m5.1 -2.4h0m1.5 -2.6h0m1.7 0.7h0m-130.1 9.4h0m1.4 0.9h0m3.1 -4.0h0m6.0 3.1h0m10.1 0.3h0m9.7 -1.6h0m10.6 -1.6h0m11.9 4.0h0m10.1 -4.4h0m4.7 0.3h0m6.7 1.7h0m3.3 0.6h0m7.7 -3.4h0m11.7 4.2h0m6.6 -4.5h0m4.0 2.8h0m4.2 -1.9h0m3.6 3.5h0m8.3 -0.4h0m1.6 -2.5h0m1.4 2.4h0m0.4 -3.6h0m1.1 -0.2h0m-121.8 7.0h0m0.4 -0.8h0m1.0 2.3h0m1.5 -2.3h0m6.0 1.4h0m1.0 -2.1h0m5.5 1.2h0m6.7 4.5h0m7.1 -3.6h0m2.8 3.1h0m13.7 -3.6h0m17.1 2.2h0m2.2 -3.2h0m20.4 0.1h0m2.2 0.9h0m14.5 3.2h0m5.5 -4.3h0m5.5 4.9h0m-109.5 0.7h0m2.2 4.6h0m7.9 -0.3h0m2.9 -4.0h0m1.0 2.2h0m2.8 -1.9h0m4.3 4.7h0m3.6 0.1h0m12.9 -5.3h0m8.7 3.5h0m3.6 -0.1h0m1.7 -2.4h0m13.5 3.5h0m4.9 -3.6h0m2.1 -0.3h0m4.4 2.5h0m7.9 -1.9h0m1.7 -0.9h0m10.5 5.4h0m6.4 -2.6h0m0.9 -2.3h0m2.3 0.5h0m0.5 2.5h0m-102.4 3.1h0m4.2 3.9h0m0.7 -2.9h0m2.2 3.0h0m7.0 -2.9h0m1.4 3.6h0m3.8 -4.9h0m6.0 1.0h0m2.5 0.7h0m7.0 -2.2h0m8.8 3.0h0m8.3 -1.1h0m11.6 -1.9h0m7.7 0.4h0m0.7 1.4h0m8.1 2.7h0m5.2 -1.6h0m6.1 -2.1h0m4.8 -0.4h0m-91.3 5.7h0m2.9 0.3h0m4.6 0.9h0m2.9 -0.7h0m1.7 0.1h0m0.5 4.1h0m5.7 -0.1h0m2.8 -2.0h0m2.7 1.1h0m5.7 -2.2h0m9.9 -1.0h0m3.5 3.9h0m8.1 -2.9h0m1.5 1.2h0m8.0 1.3h0m5.8 0.4h0m6.9 0.4h0m0.7 -2.2h0m2.2 2.9h0m0.7 -3.6h0m1.0 2.7h0m6.7 -4.0h0m-70.4 7.4h0m6.1 -0.5h0m3.7 0.7h0m2.5 2.3h0m4.8 0.2h0m4.0 -0.7h0m6.0 1.0h0m6.9 -1.5h0m6.1 -0.5h0m2.1 2.7h0m6.7 -6.0h0m1.8 1.1h0m2.5 2.0h0m4.4 -0.8h0m-40.0 3.8h0m2.6 0.9h0m3.9 0.9h0m2.0 0.0h0m4.1 -1.7h0m5.7 0.3h0m6.8 0.2h0" stroke="#4c2ccc" stroke-width="2.3" stroke-linecap="round" fill="none" opacity="1.0"/>
<path d="M192.8 2334.6h0m6.0 -0.7h0m2.5 2.2h0m0.8 -4.1h0m1.8 0.2h0m0.7 3.4h0m1.6 1.0h0m1.3 -1.0h0m4.7 -0.5h0m4.0 -1.3h0m2.0 1.9h0m1.8 -0.6h0m5.9 -0.6h0m2.4 1.4h0m3.2 0.6h0m2.7 -0.3h0m-61.3 4.2h0m4.6 -1.4h0m8.8 3.4h0m3.7 -0.7h0m2.3 -0.9h0m6.0 -0.7h0m2.6 1.7h0m3.4 -3.5h0m5.2 2.5h0m0.1 -0.3h0m1.8 0.7h0m6.2 -0.0h0m4.2 -3.8h0m1.6 3.5h0m2.8 1.1h0m1.2 0.7h0m4.2 -3.1h0m0.2 -2.3h0m1.5 2.8h0m2.5 -0.3h0m1.6 -1.1h0m0.7 3.8h0m2.0 -0.2h0m0.1 0.0h0m-77.3 4.2h0m2.8 0.5h0m1.3 -0.8h0m0.3 -0.8h0m3.0 -1.1h0m3.1 -0.2h0m2.9 4.7h0m3.5 -0.8h0m6.0 -3.7h0m5.9 -0.1h0m2.4 0.1h0m13.3 3.4h0m7.3 -3.3h0m1.8 1.2h0m16.5 1.7h0m10.2 -2.6h0m1.8 4.4h0m2.1 0.3h0m0.4 -4.2h0m2.4 3.1h0m3.3 0.1h0m-94.9 4.6h0m1.7 -1.3h0m5.0 0.5h0m0.2 1.8h0m2.7 -2.2h0m4.6 -0.4h0m2.0 -1.5h0m15.3 5.6h0m13.1 -5.8h0m2.5 2.0h0m10.4 3.1h0m9.3 -2.3h0m4.4 0.4h0m3.6 -1.3h0m4.8 0.8h0m4.5 2.0h0m2.5 -3.5h0m7.1 3.4h0m3.0 -2.2h0m-102.7 5.5h0m3.2 2.6h0m1.9 -1.4h0m5.4 0.1h0m4.9 -3.1h0m5.7 1.9h0m11.0 -0.5h0m3.8 -1.0h0m6.2 4.6h0m24.1 -4.5h0m5.7 1.3h0m9.0 -1.7h0m20.3 1.7h0m5.5 -0.0h0m3.8 0.2h0m2.1 3.6h0m-118.1 1.0h0m2.4 1.9h0m2.8 1.7h0m2.1 -0.2h0m0.9 -2.9h0m6.0 0.4h0m12.5 -0.6h0m1.6 4.5h0m2.9 -2.9h0m5.7 -2.7h0m13.3 5.9h0m10.5 -0.8h0m2.7 -5.1h0m11.0 5.5h0m8.5 -1.0h0m6.0 0.5h0m5.1 -0.7h0m2.4 -4.3h0m13.5 1.9h0m3.9 -1.0h0m6.3 0.5h0m3.0 1.0h0m-129.2 6.7h0m1.0 -1.3h0m3.6 2.0h0m1.3 0.9h0m2.8 -0.9h0m6.0 -2.9h0m1.2 3.5h0m12.6 0.1h0m9.7 -0.2h0m2.1 0.8h0m31.1 -1.2h0m16.4 -3.7h0m2.8 2.4h0m7.9 -1.5h0m18.3 3.0h0m3.9 -0.8h0m6.5 -0.2h0m2.9 -2.7h0m2.8 3.5h0m-133.7 1.9h0m0.8 2.6h0m2.0 0.5h0m4.4 -2.4h0m2.3 4.0h0m13.6 -2.2h0m3.1 -0.2h0m16.1 0.2h0m20.7 1.2h0m10.8 -0.4h0m12.0 -1.4h0m13.1 3.4h0m3.4 -2.7h0m4.5 1.7h0m12.3 0.1h0m15.0 -3.9h0m0.9 0.4h0m-139.9 7.9h0m0.8 -0.6h0m1.4 3.0h0m0.6 -2.0h0m0.2 -3.5h0m1.9 5.6h0m1.6 -4.7h0m3.6 4.4h0m0.8 -4.2h0m8.6 2.6h0m3.5 -0.1h0m11.8 2.1h0m3.2 -2.3h0m9.5 -2.9h0m8.1 0.6h0m14.5 3.1h0m4.4 -2.5h0m14.4 0.3h0m7.2 -0.2h0m2.2 2.2h0m16.3 -0.2h0m13.7 -1.7h0m7.0 1.1h0m3.9 0.8h0m3.0 -3.9h0m3.6 1.6h0m-147.0 7.3h0m1.4 -2.4h0m1.6 -0.1h0m3.6 1.1h0m2.8 2.4h0m6.8 -2.0h0m7.5 3.2h0m1.3 0.2h0m5.2 0.5h0m11.5 -1.7h0m2.4 1.7h0m18.9 -4.1h0m10.7 0.3h0m11.1 -0.7h0m1.1 2.8h0m2.8 1.2h0m7.7 0.6h0m5.3 -3.0h0m20.0 0.8h0m4.4 0.1h0m7.2 0.1h0m3.2 1.5h0m4.2 -0.9h0m0.8 -3.7h0m2.6 -0.8h0m3.6 5.6h0m0.6 -3.2h0m1.3 2.1h0m-150.0 6.0h0m1.0 -4.3h0m2.9 4.5h0m6.0 -2.6h0m4.4 -2.0h0m13.8 3.7h0m7.0 -3.0h0m6.1 1.5h0m13.7 -1.9h0m18.0 2.5h0m7.8 1.3h0m7.1 -1.5h0m10.5 0.7h0m8.7 -3.5h0m9.8 5.7h0m10.9 0.1h0m12.5 -1.2h0m3.0 -2.2h0m1.3 -1.1h0m1.3 -1.0h0m1.6 3.8h0m1.0 -0.2h0m1.6 -1.3h0m1.1 -2.2h0m-143.5 7.1h0m3.0 3.8h0m8.9 -2.2h0m2.7 2.7h0m22.2 -3.5h0m29.0 3.0h0m7.9 -3.3h0m3.8 0.1h0m8.1 1.0h0m6.5 -1.8h0m1.1 0.1h0m3.0 -0.7h0m13.4 3.3h0m13.8 0.9h0m0.5 -1.8h0m9.3 0.8h0m6.0 -1.5h0m4.2 -0.9h0m-154.8 7.3h0m1.2 -1.6h0m16.0 2.6h0m3.3 -0.3h0m2.5 -2.7h0m3.7 4.5h0m2.1 -0.6h0m1.5 -3.4h0m18.8 4.2h0m17.5 -2.8h0m15.1 0.8h0m29.7 -2.1h0m6.2 3.6h0m7.8 -2.1h0m6.8 -2.2h0m14.3 1.8h0m1.8 -1.7h0m6.7 0.0h0m1.4 1.0h0m-150.8 6.4h0m5.7 3.7h0m1.9 -1.6h0m6.6 -1.4h0m16.5 2.0h0m6.1 -3.5h0m8.6 2.7h0m12.2 -1.2h0m10.8 0.1h0m9.3 -3.0h0m3.3 2.1h0m6.6 0.5h0m13.9 -1.1h0m1.8 4.3h0m7.3 -2.1h0m1.4 -0.2h0m5.9 2.1h0m3.2 -3.6h0m13.9 -1.8h0m5.5 2.8h0m4.4 -2.4h0m2.1 4.2h0m1.1 -1.6h0m3.1 -0.6h0m-153.0 5.8h0m0.5 2.1h0m3.9 1.3h0m4.4 -3.3h0m3.8 2.8h0m4.3 -4.8h0m5.9 1.2h0m11.4 3.4h0m2.7 -1.2h0m13.9 0.6h0m11.8 -0.7h0m10.8 0.2h0m8.4 -3.1h0m7.7 -0.2h0m3.1 4.7h0m11.4 -3.1h0m3.2 1.9h0m3.4 -1.4h0m12.6 1.2h0m9.6 1.3h0m6.9 0.4h0m3.9 -1.2h0m3.6 1.0h0m1.7 0.4h0m3.7 -4.0h0m-153.2 9.6h0m2.1 -3.2h0m0.3 2.2h0m1.6 0.3h0m2.5 -0.8h0m4.4 -1.9h0m13.0 1.8h0m30.9 -3.3h0m12.2 2.9h0m11.8 0.4h0m13.8 1.6h0m2.7 -1.8h0m4.9 -0.7h0m6.2 -0.4h0m7.6 -2.3h0m7.2 1.2h0m14.0 1.0h0m7.9 -2.2h0m5.6 3.0h0m2.8 -2.2h0m-151.8 6.2h0m2.2 1.4h0m1.0 2.7h0m1.3 -2.3h0m4.6 -0.1h0m5.5 -2.7h0m19.5 -0.5h0m5.0 3.7h0m11.2 -1.2h0m5.8 2.9h0m5.5 -1.0h0m4.1 0.3h0m2.7 -0.0h0m1.1 -2.1h0m6.2 -1.4h0m1.4 -1.2h0m1.8 4.5h0m10.4 -2.7h0m9.5 -1.6h0m6.8 4.3h0m9.0 -0.9h0m15.4 -3.3h0m10.1 -0.1h0m6.1 3.1h0m-145.6 2.8h0m2.8 -0.1h0m1.5 4.0h0m3.7 -1.3h0m7.7 1.9h0m4.8 -4.4h0m8.7 0.3h0m19.5 2.9h0m6.4 -2.4h0m6.6 3.4h0m19.2 -2.0h0m3.3 -0.3h0m9.4 2.0h0m6.9 -2.5h0m1.7 2.2h0m1.1 -2.5h0m1.3 1.6h0m8.4 -0.5h0m3.5 -1.9h0m8.1 0.2h0m7.2 1.3h0m6.0 3.4h0m-133.8 5.7h0m5.8 -3.5h0m1.0 -0.3h0m2.6 0.9h0m5.2 0.9h0m9.3 -1.1h0m8.5 0.7h0m3.0 -2.4h0m1.3 1.6h0m9.7 -1.8h0m5.6 -0.3h0m24.4 3.5h0m6.1 -1.7h0m14.3 2.5h0m13.6 -0.9h0m7.7 -1.7h0m2.8 3.8h0m16.7 -2.2h0m2.4 1.2h0m1.4 1.3h0m-134.2 5.3h0m3.8 -1.3h0m6.2 -0.1h0m2.5 -2.3h0m12.0 1.1h0m4.3 1.0h0m10.1 -1.3h0m14.0 2.8h0m5.5 -2.0h0m15.3 0.3h0m6.8 -0.8h0m14.2 2.4h0m7.4 -4.0h0m3.5 3.6h0m6.5 1.0h0m10.3 -3.5h0m1.5 3.0h0m5.0 -1.9h0m2.3 -1.3h0m0.3 0.7h0m-129.2 4.8h0m0.6 -0.5h0m5.8 -0.7h0m3.7 0.9h0m17.7 0.3h0m8.2 0.2h0m15.3 2.5h0m3.3 0.7h0m11.2 -3.2h0m2.7 2.4h0m5.2 -1.7h0m9.6 1.0h0m3.7 -0.2h0m9.5 -2.0h0m7.6 3.0h0m3.7 -4.3h0m4.5 4.1h0m7.1 -3.8h0m4.1 -0.1h0m2.0 3.4h0m0.5 -0.1h0m1.1 -2.9h0m-123.5 8.0h0m2.1 -0.7h0m0.9 2.8h0m1.0 -0.6h0m5.0 -3.8h0m2.1 5.2h0m2.3 -3.4h0m8.2 0.4h0m2.2 -1.5h0m9.3 1.1h0m1.4 -0.9h0m18.9 2.6h0m11.5 1.8h0m6.5 -4.9h0m17.8 4.9h0m13.9 -4.6h0m5.4 3.5h0m2.7 0.3h0m-107.7 3.4h0m3.4 -1.0h0m0.8 4.3h0m8.7 -4.8h0m2.7 4.6h0m2.5 -1.8h0m0.4 -0.6h0m6.2 -1.0h0m14.0 0.7h0m6.2 -2.0h0m4.2 1.9h0m3.7 -1.4h0m7.2 4.2h0m7.3 -4.1h0m6.2 2.9h0m2.1 -4.5h0m8.1 2.3h0m4.0 2.1h0m1.0 1.4h0m12.5 -2.9h0m4.1 2.8h0m2.3 -4.1h0m0.8 0.3h0m1.4 -0.3h0m-102.2 4.4h0m3.1 3.7h0m2.4 0.8h0m0.2 -3.6h0m7.6 2.6h0m2.9 -2.0h0m7.4 0.2h0m2.3 3.8h0m4.1 -0.0h0m6.7 -1.1h0m8.5 -2.6h0m15.4 0.4h0m5.9 1.4h0m3.7 -3.6h0m4.7 5.1h0m5.7 -2.0h0m6.6 -2.6h0m6.0 1.4h0m4.4 -1.3h0m-92.3 5.4h0m3.5 0.9h0m4.3 1.3h0m1.2 3.3h0m1.8 -3.1h0m0.8 0.1h0m7.3 2.5h0m2.9 -4.9h0m5.3 2.6h0m5.7 -2.3h0m7.5 3.1h0m5.3 0.0h0m4.6 -0.5h0m2.8 -0.7h0m6.4 1.4h0m10.0 -0.8h0m2.1 0.9h0m2.4 1.2h0m0.6 -1.0h0m1.3 -1.9h0m4.8 -0.1h0m-70.4 5.1h0m7.8 1.9h0m1.7 -0.1h0m4.1 -0.8h0m5.2 0.8h0m3.8 1.6h0m3.4 0.7h0m8.2 -0.5h0m2.6 -2.6h0m5.6 2.3h0m3.7 -1.3h0m4.7 -2.6h0m2.5 3.5h0m4.0 -4.4h0m2.9 1.7h0m-39.3 4.8h0m4.9 1.0h0m1.0 -0.7h0m1.6 1.1h0m8.3 -0.6h0m5.2 -1.1h0m5.2 0.0h0" stroke="#4c2ccc" stroke-width="3.3" stroke-linecap="round" fill="none" opacity="1.0"/>
<rect x="298.0" y="2325.9" width="170.1" height="171.1" fill="#cdcecc"/>
<circle cx="382.6" cy="2410.4" r="83.6" fill="url(#rim2)" stroke="#6a60c4" stroke-width="1.6"/>
<path d="M356.5 2336.3h0m5.7 0.5h0m5.7 -3.4h0m2.1 2.3h0m1.9 -3.8h0m2.1 2.8h0m1.9 -2.0h0m2.0 2.6h0m1.4 -3.4h0m0.9 2.7h0m0.7 -1.9h0m1.5 1.1h0m3.8 2.3h0m1.4 -2.6h0m3.3 0.8h0m0.9 1.2h0m5.3 -1.8h0m1.4 2.5h0m0.8 1.0h0m4.9 -2.1h0m-51.4 3.2h0m3.7 2.0h0m4.0 2.3h0m4.1 -2.5h0m3.8 0.6h0m4.0 -0.3h0m0.4 -1.6h0m1.1 3.4h0m7.6 -4.5h0m0.9 0.9h0m2.3 3.0h0m4.5 -4.1h0m5.1 5.4h0m5.2 -0.5h0m4.6 -3.2h0m4.2 0.0h0m0.3 2.9h0m6.6 -1.6h0m0.6 0.8h0m-77.2 4.9h0m1.4 1.0h0m1.9 1.3h0m3.1 -1.5h0m1.5 -1.5h0m2.1 1.8h0m9.2 -0.5h0m6.5 -0.5h0m13.3 -2.9h0m2.1 1.6h0m1.8 3.1h0m6.1 -3.2h0m7.6 -0.1h0m11.6 0.3h0m6.4 0.5h0m5.9 2.2h0m2.6 -3.5h0m1.4 2.8h0m3.8 -2.0h0m-100.1 9.2h0m4.8 -0.0h0m1.5 -0.5h0m0.9 -0.5h0m3.6 -3.5h0m1.3 2.0h0m5.1 -1.7h0m6.6 2.4h0m21.1 2.5h0m7.3 -2.4h0m18.4 -1.3h0m3.7 0.9h0m3.7 0.0h0m2.6 -2.6h0m6.9 1.3h0m7.9 -0.1h0m1.1 4.7h0m1.8 -5.0h0m0.7 3.2h0m2.0 -1.4h0m0.3 -0.2h0m3.0 -2.2h0m6.6 4.2h0m-116.5 7.2h0m3.5 -1.0h0m2.0 -1.0h0m4.2 -3.8h0m0.9 5.8h0m3.1 -5.3h0m8.0 3.3h0m2.3 -0.5h0m12.1 2.4h0m8.6 -0.3h0m6.3 -2.8h0m5.4 0.7h0m3.9 -3.0h0m6.1 4.9h0m11.3 -5.1h0m2.4 3.2h0m12.8 1.2h0m10.4 -2.8h0m1.3 3.0h0m2.5 -0.3h0m5.9 -1.5h0m1.8 0.9h0m2.8 0.3h0m0.6 1.6h0m-121.5 4.4h0m2.3 1.6h0m4.9 -2.3h0m3.2 0.2h0m3.2 1.6h0m4.0 -4.5h0m17.3 5.3h0m8.9 -3.8h0m8.9 2.9h0m3.7 -1.1h0m3.7 -0.6h0m4.0 -0.7h0m1.7 -0.7h0m3.6 1.6h0m7.2 -0.8h0m8.8 -0.5h0m4.0 -0.5h0m3.7 1.6h0m9.5 1.5h0m6.8 0.8h0m12.5 -0.2h0m4.7 -1.1h0m3.7 0.3h0m-128.0 1.8h0m3.7 2.8h0m3.4 -2.4h0m20.3 4.9h0m13.6 -5.1h0m2.7 1.2h0m7.4 3.7h0m8.2 -3.4h0m2.9 -1.6h0m2.3 2.5h0m15.2 0.8h0m9.5 -1.6h0m6.4 1.1h0m6.9 2.5h0m8.4 -0.8h0m3.8 -1.6h0m3.9 1.5h0m2.7 1.0h0m0.6 -4.9h0m1.4 3.7h0m2.6 -4.6h0m1.0 4.2h0m2.5 1.1h0m-136.2 1.1h0m0.9 2.3h0m0.4 1.7h0m2.4 -3.5h0m4.6 0.6h0m3.9 -1.2h0m6.3 0.4h0m5.4 0.5h0m8.0 2.3h0m5.1 -2.7h0m0.8 1.6h0m8.3 2.9h0m3.8 -1.2h0m2.9 0.2h0m12.5 -2.4h0m11.5 1.4h0m0.6 -3.5h0m3.8 4.8h0m29.1 -4.3h0m9.7 2.8h0m5.7 -0.3h0m2.0 -0.7h0m3.3 -2.1h0m2.8 3.9h0m4.0 -2.5h0m0.3 0.1h0m0.3 -0.9h0m-143.0 9.8h0m0.6 -3.4h0m1.2 2.2h0m3.8 -0.6h0m5.2 -0.7h0m3.6 2.0h0m8.9 -2.8h0m13.2 0.9h0m15.0 -0.3h0m10.4 0.0h0m23.5 0.5h0m4.3 -1.0h0m6.5 2.0h0m6.6 -1.1h0m11.6 -1.3h0m2.8 4.0h0m5.2 -1.1h0m1.2 0.5h0m8.8 -4.3h0m9.3 4.7h0m4.4 -4.5h0m-147.8 7.5h0m0.8 -0.7h0m0.8 4.7h0m7.0 -4.4h0m0.1 0.2h0m6.8 -0.7h0m7.9 0.8h0m2.9 2.2h0m23.8 -3.4h0m8.6 1.6h0m5.9 3.6h0m11.9 -4.3h0m1.6 0.4h0m12.2 1.8h0m3.1 2.2h0m13.3 -3.5h0m4.6 3.6h0m10.5 -2.2h0m4.0 -0.2h0m2.3 1.3h0m5.2 0.8h0m9.5 -3.5h0m3.1 2.5h0m1.0 -4.3h0m1.8 1.5h0m1.7 -0.5h0m1.8 3.1h0m-149.5 5.3h0m1.0 -0.7h0m3.3 -2.6h0m13.1 1.7h0m7.8 1.8h0m4.3 -0.9h0m6.5 -0.2h0m9.1 1.8h0m2.8 0.4h0m4.4 -1.7h0m4.1 -3.3h0m5.9 3.8h0m15.1 -1.7h0m0.8 -2.0h0m25.6 2.7h0m3.7 0.8h0m10.6 2.0h0m6.7 -2.4h0m14.1 -0.7h0m3.4 -0.6h0m3.1 0.6h0m3.8 3.5h0m-152.1 3.3h0m8.4 0.2h0m11.7 -2.0h0m2.0 -1.1h0m9.2 1.2h0m6.2 1.6h0m4.7 1.8h0m5.3 -4.9h0m9.8 3.6h0m5.5 -1.2h0m3.8 -2.1h0m9.8 -0.2h0m7.1 4.9h0m14.8 -5.0h0m12.8 1.3h0m8.4 1.0h0m9.2 -1.0h0m15.9 -1.5h0m6.5 3.7h0m3.8 1.9h0m-157.6 2.2h0m1.4 1.2h0m0.6 0.2h0m2.6 -2.1h0m2.5 1.1h0m7.7 0.2h0m4.7 -1.2h0m3.5 3.3h0m3.8 -2.4h0m5.0 0.4h0m18.3 -0.5h0m2.5 1.5h0m3.3 -2.7h0m5.5 3.3h0m29.1 1.1h0m3.1 -2.5h0m9.9 -2.3h0m3.6 4.2h0m5.9 -2.1h0m2.4 0.7h0m6.6 -2.8h0m6.0 3.1h0m3.3 -0.1h0m3.0 1.1h0m9.8 -0.1h0m3.0 -2.2h0m2.9 -2.1h0m1.9 -0.1h0m1.8 6.0h0m1.1 -5.8h0m-155.6 7.5h0m0.1 -1.0h0m0.6 0.7h0m5.0 0.4h0m1.3 2.7h0m2.9 -1.1h0m2.2 0.4h0m7.7 -0.8h0m3.6 -0.1h0m4.9 -0.4h0m4.0 0.1h0m19.4 -0.8h0m3.2 1.5h0m14.5 0.2h0m2.8 2.4h0m0.8 -4.1h0m0.7 2.8h0m2.8 -3.2h0m2.7 0.3h0m1.6 2.8h0m12.5 1.4h0m11.4 -3.5h0m11.1 3.0h0m5.6 -2.1h0m4.4 -2.7h0m4.2 5.0h0m8.8 -4.9h0m1.2 3.6h0m7.4 1.8h0m2.2 -5.2h0m6.7 -0.1h0m2.4 2.8h0m-157.2 4.0h0m3.6 4.2h0m9.8 -0.5h0m17.0 -0.5h0m7.7 0.7h0m4.3 0.3h0m6.5 -5.1h0m7.5 4.0h0m4.3 -1.2h0m2.7 0.4h0m3.2 -2.6h0m5.3 1.4h0m4.3 3.1h0m5.3 -3.2h0m1.8 -2.5h0m1.3 3.1h0m8.7 -2.0h0m1.8 0.8h0m1.0 1.3h0m4.0 -1.7h0m7.3 0.5h0m11.1 3.5h0m7.4 -2.7h0m3.8 3.0h0m8.1 -5.8h0m10.7 5.4h0m3.1 0.0h0m-151.2 3.9h0m2.3 1.8h0m1.7 -1.0h0m0.8 0.6h0m8.2 -4.4h0m2.1 -0.0h0m2.3 0.9h0m2.3 1.3h0m7.7 -1.2h0m2.4 -0.6h0m1.1 0.5h0m3.6 3.8h0m16.9 -3.8h0m12.6 3.3h0m1.2 0.3h0m11.4 -0.7h0m2.9 -3.5h0m4.1 5.1h0m2.0 -1.8h0m5.3 0.4h0m6.9 -4.2h0m7.4 3.6h0m1.2 0.1h0m22.6 0.2h0m3.4 1.4h0m2.3 -1.9h0m13.6 1.3h0m4.0 -2.0h0m2.1 0.2h0m-151.7 6.9h0m0.5 -4.1h0m2.5 0.5h0m1.1 0.6h0m2.2 1.4h0m9.0 0.2h0m8.0 3.0h0m4.3 -2.4h0m8.1 -2.5h0m1.3 0.3h0m6.4 -0.8h0m5.0 2.5h0m17.5 0.5h0m9.3 -0.4h0m1.9 1.8h0m8.0 -3.3h0m6.4 1.2h0m4.8 3.2h0m8.0 -2.7h0m3.7 0.9h0m3.6 -3.8h0m8.2 1.6h0m10.7 2.1h0m3.3 -1.0h0m4.1 1.6h0m6.4 -2.8h0m5.0 -0.2h0m2.3 0.6h0m-149.9 5.1h0m2.4 1.6h0m4.2 -2.6h0m3.7 4.0h0m13.0 -3.5h0m2.0 2.9h0m14.3 1.3h0m4.5 0.0h0m15.4 -2.4h0m5.2 3.3h0m7.9 -1.0h0m17.6 -1.1h0m6.3 -1.9h0m3.8 -2.0h0m12.7 5.7h0m0.8 -1.5h0m5.1 -0.9h0m14.2 2.0h0m12.0 -1.4h0m2.7 -2.4h0m-147.6 7.6h0m4.1 -1.0h0m20.8 2.7h0m2.9 -0.7h0m0.5 -2.7h0m3.4 4.4h0m0.6 -2.2h0m7.1 1.5h0m2.8 0.0h0m18.2 0.2h0m7.5 0.2h0m8.7 -3.1h0m4.3 3.4h0m10.7 -0.9h0m2.4 0.1h0m22.0 -2.5h0m0.8 -0.7h0m2.8 4.0h0m14.9 -1.0h0m7.0 -0.6h0m1.3 -2.2h0m3.7 -1.0h0m-141.3 11.1h0m1.1 -0.1h0m4.2 -5.0h0m3.7 0.1h0m11.8 -0.3h0m14.1 3.1h0m1.0 0.3h0m4.8 -4.0h0m9.4 3.5h0m5.9 -1.3h0m14.1 1.8h0m12.6 -2.5h0m15.9 3.0h0m10.4 -2.1h0m17.5 -0.0h0m4.1 3.5h0m1.6 -1.7h0m3.0 -2.9h0m-135.0 5.9h0m6.2 0.2h0m4.4 -0.2h0m13.6 1.4h0m9.6 3.0h0m26.6 -5.3h0m17.3 2.7h0m4.1 -2.6h0m3.9 3.6h0m4.8 -0.5h0m13.3 0.5h0m8.1 -1.6h0m6.3 -1.2h0m3.3 -0.4h0m4.3 0.8h0m5.7 3.0h0m3.8 -3.9h0m-127.1 11.1h0m2.6 -2.3h0m4.7 -3.2h0m2.0 3.3h0m2.8 2.2h0m10.3 -5.1h0m1.4 4.6h0m4.2 -3.4h0m4.3 4.3h0m18.4 -2.2h0m12.6 -1.7h0m9.8 2.8h0m5.1 -1.6h0m3.7 2.1h0m7.0 -4.1h0m4.5 4.5h0m2.2 -0.5h0m8.4 -4.8h0m6.2 1.9h0m5.5 0.1h0m1.3 0.8h0m4.6 -1.2h0m-117.7 6.0h0m3.8 2.6h0m10.9 -1.7h0m13.6 -0.8h0m9.6 2.3h0m7.4 -2.2h0m7.8 1.0h0m16.1 -1.1h0m4.4 -0.5h0m6.1 -1.1h0m2.3 -0.2h0m6.0 5.5h0m3.3 -3.1h0m3.8 0.2h0m7.5 0.1h0m3.1 0.7h0m2.8 1.3h0m1.5 0.1h0m-106.8 1.0h0m5.3 2.2h0m0.9 2.5h0m1.5 -4.6h0m3.8 5.3h0m7.5 -1.3h0m6.2 -3.2h0m4.5 3.1h0m6.7 -2.9h0m8.3 1.9h0m4.5 -0.8h0m13.4 -1.3h0m5.7 0.8h0m1.3 1.8h0m14.7 2.5h0m1.2 -3.9h0m5.6 0.9h0m5.3 0.1h0m6.4 -1.6h0m-87.7 7.2h0m3.3 -0.3h0m4.7 1.5h0m0.6 -1.5h0m5.3 -1.2h0m5.6 2.6h0m1.0 1.5h0m4.2 -1.9h0m4.1 -1.0h0m1.9 -0.4h0m4.4 3.8h0m4.9 -1.4h0m12.1 -1.4h0m4.3 2.3h0m9.0 -3.8h0m3.8 -1.1h0m5.4 0.4h0m5.4 -0.2h0m-76.8 7.1h0m2.0 -0.6h0m5.7 1.3h0m1.7 -1.5h0m1.8 1.6h0m5.5 3.8h0m4.8 -4.4h0m0.7 3.8h0m2.6 -3.9h0m1.6 -0.3h0m1.3 0.5h0m1.4 0.7h0m3.9 1.7h0m3.2 -0.0h0m2.3 -0.6h0m3.8 -2.9h0m2.9 1.3h0m2.6 -1.0h0m1.0 -0.4h0m0.2 5.6h0m6.1 -0.1h0m2.8 -3.8h0m3.7 1.3h0m1.1 -1.3h0m2.5 0.0h0m-45.2 4.8h0m9.1 1.0h0m1.3 -1.0h0m3.9 1.1h0m4.2 -0.5h0m4.3 0.5h0m6.5 -0.6h0" stroke="#4c2ccc" stroke-width="2.3" stroke-linecap="round" fill="none" opacity="1.0"/>
<path d="M360.0 2335.8h0m4.5 0.7h0m3.7 -4.1h0m2.6 3.8h0m2.8 -0.2h0m0.4 0.2h0m2.9 -2.3h0m1.3 -0.9h0m1.2 2.2h0m0.8 -4.1h0m2.0 2.7h0m1.9 -0.8h0m3.1 -0.0h0m1.3 1.5h0m3.0 1.2h0m3.0 -1.2h0m3.1 0.2h0m1.6 0.3h0m1.5 -1.9h0m8.7 2.9h0m-53.2 5.6h0m0.4 -2.2h0m7.4 -1.3h0m2.8 2.1h0m4.6 -2.1h0m1.4 2.4h0m0.2 -2.2h0m7.2 -0.5h0m1.7 1.4h0m2.7 -0.9h0m3.1 3.4h0m4.1 -2.6h0m6.5 -1.6h0m3.2 1.8h0m4.5 -0.2h0m2.7 -1.1h0m1.9 4.9h0m5.4 -2.7h0m3.2 0.1h0m-79.0 7.9h0m1.1 -1.0h0m3.4 -1.9h0m1.2 -1.5h0m2.4 -0.3h0m5.6 0.2h0m5.9 2.9h0m11.9 1.4h0m6.2 -1.4h0m2.6 -0.6h0m5.2 -2.8h0m2.5 0.5h0m12.4 3.4h0m10.4 -3.7h0m2.5 2.4h0m6.3 2.9h0m2.3 -5.6h0m3.1 1.4h0m4.6 4.2h0m-100.1 3.1h0m3.1 1.2h0m1.2 0.4h0m3.2 -0.5h0m1.5 0.6h0m3.6 0.0h0m5.7 -1.7h0m9.1 -1.4h0m18.8 1.0h0m20.5 1.3h0m2.5 -0.9h0m4.3 -2.0h0m3.9 -0.4h0m5.7 0.1h0m3.9 1.5h0m6.5 0.4h0m1.1 3.0h0m1.6 -5.0h0m1.0 2.0h0m1.1 2.6h0m0.4 -2.1h0m5.6 -1.5h0m4.2 4.1h0m-113.6 3.9h0m1.2 -1.3h0m1.2 1.8h0m4.8 0.1h0m0.5 0.7h0m6.2 0.6h0m5.2 -3.1h0m4.7 -0.1h0m14.6 0.2h0m4.6 1.7h0m9.0 -3.8h0m1.4 5.2h0m7.7 -0.3h0m4.5 -3.6h0m11.1 1.9h0m6.4 1.5h0m10.2 -4.7h0m7.0 2.8h0m1.1 2.2h0m5.5 -0.7h0m4.2 -2.7h0m2.0 2.2h0m1.3 -0.0h0m2.9 0.8h0m-123.5 6.0h0m5.1 -3.2h0m3.8 -1.2h0m2.0 5.0h0m3.6 -2.0h0m7.1 -2.0h0m16.7 1.4h0m7.0 -0.8h0m8.1 1.0h0m5.5 2.3h0m4.0 -1.9h0m2.3 -3.0h0m2.3 5.8h0m4.3 -3.5h0m4.8 -0.2h0m11.3 -1.4h0m2.5 1.9h0m3.3 -0.2h0m10.3 1.3h0m9.8 -0.2h0m7.9 -0.2h0m6.0 -1.6h0m-129.2 9.7h0m4.7 -0.0h0m3.9 -0.3h0m8.2 0.5h0m19.3 -2.5h0m10.4 1.6h0m2.2 -3.4h0m13.6 2.9h0m0.7 -0.1h0m3.4 -1.5h0m7.3 1.3h0m12.8 -0.4h0m11.0 1.9h0m2.6 -4.9h0m13.9 5.0h0m3.7 -3.2h0m3.4 0.0h0m1.2 -1.9h0m2.6 2.9h0m1.4 0.5h0m0.7 -2.4h0m3.1 4.1h0m2.1 -4.1h0m-138.4 9.9h0m3.2 -0.8h0m0.9 -2.8h0m0.4 2.7h0m5.3 0.7h0m4.8 -2.1h0m5.2 -0.7h0m5.3 -0.9h0m3.1 3.4h0m9.0 -3.0h0m3.4 4.1h0m3.4 -2.7h0m5.9 0.8h0m5.1 -2.9h0m6.6 3.0h0m16.7 1.7h0m1.8 -5.2h0m3.4 1.8h0m26.4 2.0h0m4.3 -2.9h0m9.4 2.6h0m5.4 -2.5h0m4.5 0.5h0m2.2 2.6h0m4.5 -2.3h0m0.6 -1.5h0m0.2 0.1h0m2.4 4.8h0m-144.8 4.0h0m0.5 -1.4h0m4.5 2.3h0m2.3 0.1h0m4.9 -1.5h0m7.5 2.2h0m8.7 -5.1h0m19.5 2.2h0m5.3 0.9h0m28.1 -0.7h0m7.0 0.7h0m2.2 -0.3h0m11.5 -1.2h0m3.3 0.5h0m9.4 -0.8h0m6.5 3.9h0m1.2 -3.3h0m9.0 -2.3h0m8.9 1.3h0m4.9 1.5h0m3.2 2.0h0m-150.0 6.9h0m0.7 -4.4h0m3.5 1.7h0m4.2 0.3h0m0.4 -2.9h0m10.1 3.6h0m6.2 -3.2h0m18.9 3.9h0m14.4 -4.6h0m4.0 -0.1h0m5.1 2.2h0m9.0 2.2h0m12.3 -4.1h0m2.8 4.7h0m14.1 -4.5h0m2.2 4.8h0m11.4 -3.9h0m5.2 1.2h0m3.3 -0.6h0m4.6 1.3h0m10.1 0.6h0m3.2 -2.5h0m0.5 1.7h0m1.3 -2.9h0m1.5 -0.0h0m2.5 1.4h0m-152.1 4.4h0m3.7 5.4h0m1.4 0.1h0m7.0 -0.2h0m9.6 -1.6h0m10.8 -0.5h0m1.1 -2.3h0m10.3 -0.5h0m7.1 -0.2h0m0.7 2.1h0m6.6 -1.5h0m1.7 1.9h0m11.8 -1.3h0m9.4 3.7h0m24.0 -4.0h0m2.9 -0.5h0m12.4 -0.2h0m4.1 0.2h0m10.4 0.6h0m9.8 -1.1h0m3.1 2.4h0m3.1 2.2h0m1.8 -0.2h0m-149.7 3.6h0m6.4 0.2h0m11.6 3.3h0m10.3 -2.2h0m5.4 0.6h0m3.4 -2.4h0m5.5 3.7h0m5.5 -2.5h0m8.6 0.7h0m5.7 -1.3h0m3.1 3.1h0m11.3 -3.7h0m15.3 1.7h0m15.6 -0.9h0m3.8 -0.0h0m6.6 -0.1h0m16.1 0.8h0m9.3 -1.4h0m5.9 -1.9h0m-155.6 10.6h0m1.2 -2.1h0m1.6 -0.8h0m1.6 1.9h0m2.1 -0.1h0m2.2 -2.2h0m7.1 3.8h0m6.9 -5.0h0m2.3 0.8h0m5.5 3.9h0m19.3 -2.2h0m1.7 1.2h0m3.9 -0.7h0m5.7 -0.3h0m16.3 2.7h0m15.7 0.1h0m1.7 -1.4h0m10.5 -0.5h0m4.2 -3.7h0m6.5 1.4h0m1.6 -0.3h0m11.2 -1.4h0m1.2 1.6h0m3.2 0.6h0m5.6 -2.2h0m9.2 5.7h0m2.4 -3.2h0m2.1 1.9h0m1.9 -4.4h0m0.9 5.9h0m0.9 -2.9h0m-155.8 8.5h0m0.1 -5.0h0m4.7 3.3h0m0.9 -0.9h0m3.2 2.2h0m1.2 -0.7h0m6.4 -1.6h0m3.9 2.7h0m3.3 -0.8h0m8.2 -1.6h0m0.7 -2.8h0m19.5 3.8h0m6.1 -0.0h0m12.7 -1.4h0m1.9 2.3h0m0.5 -4.7h0m2.5 2.6h0m3.0 0.7h0m0.8 1.8h0m9.3 -4.1h0m6.7 -0.2h0m19.6 3.4h0m4.2 0.8h0m5.7 -1.0h0m4.4 -3.6h0m9.0 -0.1h0m0.8 4.9h0m7.5 -1.1h0m2.1 -4.5h0m2.0 1.7h0m7.5 3.1h0m-157.0 3.5h0m0.6 0.2h0m11.2 0.0h0m12.8 2.2h0m8.3 -0.1h0m6.1 -2.7h0m9.0 0.3h0m5.9 2.8h0m5.1 -1.1h0m4.2 -2.0h0m2.4 2.7h0m5.2 -4.8h0m4.6 1.1h0m5.7 2.4h0m2.0 0.1h0m1.2 0.3h0m0.3 -1.2h0m9.1 -1.9h0m2.2 0.6h0m1.3 3.1h0m9.9 -0.4h0m9.3 -3.0h0m2.2 4.4h0m9.8 -2.2h0m2.6 -1.8h0m8.0 -1.4h0m10.6 0.8h0m5.6 -0.7h0m-154.8 9.5h0m3.2 -1.0h0m1.0 1.6h0m4.5 -1.4h0m5.9 1.9h0m0.2 -2.3h0m2.7 -1.9h0m4.0 2.3h0m7.1 -1.1h0m1.6 2.5h0m3.9 1.2h0m6.8 -2.1h0m15.8 0.6h0m8.1 1.7h0m0.2 -0.9h0m12.9 -1.1h0m4.9 0.6h0m0.9 -3.2h0m5.8 0.3h0m2.5 1.0h0m9.8 -2.1h0m3.9 0.4h0m3.4 3.3h0m21.2 0.6h0m3.7 -0.2h0m2.0 0.3h0m13.0 -3.4h0m4.8 -1.2h0m-152.6 11.1h0m1.4 -1.8h0m1.8 -3.4h0m1.7 1.8h0m1.2 0.6h0m5.4 0.7h0m7.7 -3.0h0m6.6 1.4h0m10.6 0.8h0m0.6 1.2h0m6.5 1.0h0m2.0 -0.9h0m21.2 -1.3h0m7.6 3.2h0m3.4 -4.9h0m8.2 -0.1h0m2.7 0.3h0m6.5 -0.4h0m7.6 5.4h0m4.5 -1.2h0m2.8 -2.8h0m10.5 -0.3h0m10.8 -1.1h0m2.4 0.6h0m5.2 -0.6h0m4.5 4.1h0m6.9 -4.4h0m2.4 4.3h0m0.5 -1.5h0m-149.5 6.1h0m5.2 2.8h0m1.0 -2.8h0m3.7 -1.6h0m14.4 -0.7h0m8.2 2.2h0m9.5 0.1h0m16.7 -0.9h0m1.5 0.9h0m6.2 3.1h0m13.2 -3.9h0m13.9 2.1h0m3.6 -4.1h0m8.0 4.7h0m7.6 -3.7h0m2.7 0.9h0m13.2 2.9h0m5.9 -3.5h0m11.2 0.0h0m1.8 0.8h0m-146.6 4.1h0m12.8 2.9h0m11.7 1.4h0m2.3 0.1h0m1.5 -1.0h0m2.2 -2.4h0m5.7 1.0h0m4.5 2.3h0m12.8 -3.8h0m12.8 3.8h0m3.5 -0.9h0m6.3 0.7h0m6.9 -1.4h0m7.6 -1.8h0m22.7 -0.9h0m2.1 5.2h0m2.9 -0.9h0m8.8 1.2h0m7.3 -2.0h0m5.9 0.9h0m4.6 -2.0h0m-142.6 7.0h0m2.5 -2.3h0m2.4 3.6h0m3.7 -3.7h0m5.1 1.9h0m16.6 2.0h0m7.2 -0.0h0m0.2 -2.8h0m12.5 3.9h0m6.5 -3.4h0m7.5 1.6h0m18.6 0.6h0m8.4 -2.7h0m18.8 2.6h0m3.3 -2.2h0m18.0 -1.2h0m2.5 4.1h0m0.9 -1.6h0m3.1 -1.9h0m-132.8 6.0h0m7.1 -0.8h0m0.6 3.2h0m22.8 -0.7h0m20.5 -1.1h0m12.1 -1.4h0m12.3 1.3h0m6.4 -1.3h0m2.6 0.9h0m4.1 3.1h0m12.8 -0.4h0m11.3 -1.2h0m4.9 -3.5h0m4.2 4.4h0m1.6 1.2h0m7.2 -4.4h0m-126.1 9.4h0m1.5 -0.7h0m5.9 -2.4h0m1.9 4.2h0m1.1 -5.4h0m8.3 2.8h0m4.8 -0.0h0m4.8 0.8h0m3.4 -1.0h0m1.7 -1.0h0m29.7 3.4h0m8.2 -1.8h0m3.6 0.8h0m4.5 -3.8h0m10.3 2.4h0m3.7 -2.3h0m1.3 2.1h0m6.2 -1.7h0m9.6 -0.3h0m5.5 0.3h0m1.4 0.9h0m2.9 2.0h0m-116.3 2.1h0m0.6 1.1h0m8.3 1.5h0m18.6 -0.8h0m1.5 0.1h0m15.6 -1.4h0m2.6 3.2h0m15.6 -2.5h0m7.6 4.1h0m7.7 -2.7h0m3.1 -0.6h0m5.4 2.4h0m2.1 -0.4h0m4.4 0.0h0m5.4 -2.7h0m7.3 -0.9h0m1.1 1.4h0m3.1 3.6h0m2.3 -4.7h0m-103.6 7.8h0m0.1 -1.0h0m1.1 0.8h0m3.2 0.3h0m3.1 2.7h0m10.1 -1.0h0m4.0 -4.2h0m9.7 2.9h0m0.2 -2.2h0m11.9 -0.6h0m9.0 3.3h0m9.3 0.5h0m1.6 -2.9h0m4.3 4.7h0m11.7 -5.3h0m4.7 3.7h0m4.5 1.0h0m5.6 -1.6h0m-90.4 2.5h0m7.8 5.3h0m3.1 0.5h0m3.8 -2.8h0m5.1 1.7h0m2.0 0.1h0m5.0 0.5h0m3.3 -0.8h0m2.0 -1.4h0m4.2 0.8h0m5.0 2.0h0m3.0 -2.3h0m4.1 1.5h0m10.3 0.5h0m6.8 -3.4h0m6.8 2.6h0m8.3 0.4h0m1.0 -3.2h0m-72.8 4.6h0m2.1 0.0h0m4.4 2.4h0m2.0 -0.4h0m3.0 0.6h0m3.9 2.5h0m2.0 -1.5h0m5.2 1.7h0m0.4 -5.4h0m3.1 3.3h0m1.8 -1.5h0m1.2 1.5h0m2.1 -1.3h0m4.6 -1.9h0m3.0 2.3h0m2.0 2.8h0m3.3 -4.6h0m3.6 4.5h0m1.6 0.0h0m0.1 -5.6h0m0.6 3.1h0m7.9 -2.5h0m0.6 3.7h0m4.0 -3.2h0m3.0 0.1h0m-46.6 5.6h0m4.1 -0.7h0m6.8 0.1h0m4.3 1.0h0m2.2 0.4h0m2.8 0.2h0m6.0 -0.1h0m7.7 -1.9h0" stroke="#4c2ccc" stroke-width="3.3" stroke-linecap="round" fill="none" opacity="1.0"/>
<rect x="472.8" y="2325.9" width="169.2" height="171.1" fill="#cdcecc"/>
<circle cx="556.9" cy="2410.4" r="83.1" fill="url(#rim2)" stroke="#6a60c4" stroke-width="1.6"/>
<path d="M532.2 2335.7h0m15.1 0.3h0m1.4 -2.1h0m7.4 0.2h0m2.1 1.7h0m4.7 -3.8h0m9.0 4.2h0m10.4 0.4h0m-57.9 4.9h0m3.9 0.4h0m1.3 -3.3h0m0.7 3.5h0m7.4 -4.3h0m2.4 1.1h0m1.9 3.6h0m2.3 0.1h0m5.9 -4.0h0m3.8 0.6h0m7.5 -0.4h0m5.8 0.1h0m1.2 2.3h0m1.0 0.2h0m6.3 -2.3h0m1.9 0.0h0m4.4 -0.3h0m3.3 0.3h0m1.1 2.4h0m1.5 -0.9h0m-76.3 6.6h0m6.7 -3.2h0m1.0 0.7h0m3.2 4.0h0m5.6 -1.2h0m2.7 -0.5h0m7.3 -1.8h0m11.4 2.8h0m8.8 -4.7h0m15.5 5.6h0m3.4 -5.6h0m8.0 1.3h0m6.1 3.4h0m9.3 -0.1h0m1.7 0.2h0m-96.2 3.7h0m2.2 2.1h0m1.1 -2.9h0m14.2 0.0h0m7.0 3.2h0m26.7 -4.0h0m10.3 1.4h0m7.3 0.5h0m1.9 -1.4h0m6.6 -1.4h0m16.2 3.5h0m0.3 -1.4h0m3.3 -1.0h0m1.3 -0.2h0m-104.2 9.4h0m2.6 -4.1h0m3.3 1.0h0m0.5 0.4h0m2.2 2.0h0m20.1 -1.3h0m26.6 -2.1h0m2.2 4.6h0m18.4 -2.4h0m12.3 -3.0h0m11.1 1.5h0m1.6 0.4h0m5.6 0.2h0m2.7 -1.6h0m3.0 0.1h0m1.0 3.1h0m-119.2 4.2h0m2.2 3.0h0m2.6 -0.6h0m4.2 -3.0h0m5.0 -1.3h0m24.4 0.5h0m13.3 4.9h0m23.7 -4.9h0m7.0 4.7h0m9.7 -3.5h0m6.1 -1.0h0m16.1 3.1h0m4.4 -2.1h0m4.7 0.8h0m0.9 2.9h0m1.7 -0.6h0m-127.4 3.6h0m12.0 -1.2h0m10.3 -0.6h0m0.7 1.7h0m11.9 -0.1h0m14.1 1.8h0m1.1 -3.5h0m14.3 4.4h0m29.1 -0.9h0m21.0 -1.6h0m5.5 -0.3h0m6.2 2.7h0m0.6 -4.2h0m2.4 1.3h0m-134.0 8.5h0m5.9 0.6h0m7.3 -1.1h0m14.0 -0.3h0m5.1 2.0h0m6.9 -5.0h0m23.0 2.3h0m2.1 1.8h0m8.3 -1.0h0m9.1 0.1h0m8.7 -1.9h0m7.6 -1.2h0m1.7 -0.3h0m11.2 2.5h0m4.9 2.2h0m13.9 -3.8h0m3.8 1.5h0m-136.5 6.6h0m4.1 -2.0h0m4.1 0.4h0m3.4 3.6h0m2.2 -3.9h0m1.4 -0.5h0m1.0 5.1h0m8.2 -0.9h0m5.9 -3.9h0m4.7 -0.9h0m16.2 0.4h0m7.2 0.9h0m8.1 3.4h0m23.1 -4.8h0m18.9 3.3h0m10.6 -2.4h0m7.4 4.2h0m10.7 -3.8h0m3.2 2.9h0m2.7 -2.5h0m-140.8 8.3h0m0.6 -0.8h0m8.8 -3.2h0m5.5 4.4h0m3.6 -0.0h0m8.5 1.0h0m6.3 -0.6h0m11.0 -2.3h0m5.2 -2.4h0m7.1 2.9h0m13.3 0.4h0m0.9 -1.3h0m18.4 0.2h0m7.4 3.4h0m4.0 -4.6h0m13.3 -0.5h0m10.6 4.1h0m17.7 -1.1h0m2.0 -1.1h0m-148.5 5.8h0m2.3 3.0h0m6.8 -2.2h0m6.3 2.4h0m2.8 -2.3h0m31.3 -2.6h0m5.9 3.4h0m14.7 1.8h0m20.7 -0.9h0m18.9 -4.2h0m6.8 0.7h0m5.8 0.1h0m4.8 1.8h0m10.9 2.0h0m7.3 -2.7h0m1.3 -1.2h0m-148.2 5.4h0m2.0 0.6h0m3.8 3.7h0m0.9 -0.8h0m10.7 -0.7h0m5.5 1.9h0m13.0 -0.6h0m10.3 -0.6h0m11.5 0.3h0m5.1 -1.1h0m7.0 0.6h0m15.2 -0.7h0m15.6 -1.1h0m20.0 -2.2h0m4.7 1.9h0m14.8 -0.9h0m4.1 3.1h0m5.0 -1.4h0m1.2 -1.2h0m-153.4 7.7h0m1.1 -1.1h0m3.8 2.5h0m3.1 -0.8h0m9.8 1.0h0m7.3 -4.9h0m5.7 5.8h0m9.5 -0.9h0m2.8 0.2h0m16.8 -2.1h0m1.6 -1.5h0m11.1 -0.6h0m7.4 1.1h0m12.4 1.4h0m9.3 -0.5h0m35.4 -1.6h0m9.6 2.9h0m2.9 0.9h0m1.5 -2.6h0m1.9 1.6h0m3.0 -0.6h0m-150.1 5.6h0m1.3 -2.2h0m6.9 0.1h0m2.0 1.6h0m16.9 0.3h0m23.0 -0.2h0m7.7 -2.8h0m24.2 0.9h0m33.5 2.5h0m13.9 0.1h0m4.8 -1.7h0m2.7 0.7h0m3.0 2.5h0m9.3 -4.4h0m-154.1 10.5h0m3.9 -1.3h0m1.3 -2.2h0m1.0 0.4h0m5.7 0.3h0m7.4 2.0h0m24.0 -1.9h0m12.6 2.4h0m2.3 -4.5h0m2.9 3.3h0m1.6 2.0h0m16.7 -0.3h0m1.1 -2.8h0m33.9 1.9h0m22.7 0.8h0m3.8 -4.3h0m4.7 4.4h0m2.1 -2.4h0m5.9 0.8h0m-152.6 3.2h0m6.5 1.4h0m3.0 3.7h0m6.6 -0.7h0m3.4 -2.8h0m10.8 -0.8h0m17.1 4.4h0m10.0 -2.8h0m1.3 -2.6h0m32.0 5.4h0m3.3 -1.1h0m23.4 -2.1h0m26.1 2.2h0m5.7 -2.2h0m4.5 1.1h0m-152.0 7.0h0m7.0 -0.6h0m8.0 -2.2h0m19.5 3.2h0m4.3 -3.4h0m17.3 0.3h0m0.1 -0.0h0m3.6 2.9h0m2.0 -4.0h0m27.0 5.1h0m19.1 -4.4h0m9.0 2.1h0m7.1 -1.0h0m19.4 0.4h0m-144.0 3.1h0m2.4 2.3h0m0.9 -2.0h0m3.9 -0.4h0m4.6 5.1h0m40.7 -2.4h0m2.4 0.7h0m9.9 -0.0h0m6.6 1.3h0m14.5 0.3h0m8.5 0.5h0m1.2 -5.1h0m15.6 2.2h0m1.1 2.4h0m17.1 -2.0h0m9.8 -2.1h0m4.0 4.2h0m3.3 -0.2h0m2.7 -2.9h0m-140.2 6.0h0m0.9 2.7h0m16.7 0.6h0m9.1 -3.7h0m10.4 -1.2h0m6.4 1.1h0m1.7 -0.7h0m8.7 3.8h0m6.1 -2.7h0m13.4 -1.4h0m4.6 5.3h0m7.2 -3.0h0m17.8 -0.3h0m11.5 2.9h0m7.1 -1.4h0m5.8 0.6h0m9.4 -2.4h0m-139.0 8.5h0m5.6 -1.1h0m1.8 0.6h0m3.7 1.2h0m10.4 -0.7h0m6.5 0.6h0m8.4 -1.8h0m5.5 0.6h0m11.7 -2.3h0m7.2 1.5h0m3.2 0.2h0m4.2 2.1h0m11.1 -4.4h0m11.5 1.3h0m34.2 1.8h0m5.7 -0.1h0m4.3 0.5h0m1.3 -0.9h0m-133.0 2.8h0m7.6 4.8h0m0.6 0.4h0m20.5 -0.3h0m5.6 -4.4h0m2.5 3.3h0m19.2 -2.5h0m8.8 2.2h0m14.0 1.6h0m7.0 -0.9h0m9.1 -1.2h0m25.5 -2.4h0m3.8 -0.7h0m5.9 0.4h0m-125.3 8.8h0m1.4 1.5h0m2.0 -4.8h0m0.8 0.7h0m5.2 -0.2h0m7.7 0.7h0m18.3 -1.2h0m5.4 2.4h0m28.5 1.5h0m11.2 0.6h0m14.0 0.8h0m10.5 -3.5h0m6.3 3.0h0m0.7 -2.1h0m1.8 0.2h0m7.0 -2.9h0m-115.9 5.6h0m1.5 2.1h0m6.8 1.7h0m3.0 -3.7h0m2.4 0.7h0m2.2 -0.9h0m3.6 1.7h0m9.1 2.9h0m16.5 -2.3h0m5.3 2.6h0m13.7 -4.4h0m13.9 4.7h0m5.9 -1.4h0m1.8 -3.7h0m5.0 5.3h0m9.5 -0.7h0m2.5 -4.2h0m5.8 0.6h0m1.5 -0.7h0m0.9 0.4h0m-100.7 5.5h0m2.3 0.9h0m4.1 4.1h0m6.5 -1.5h0m0.7 -2.6h0m9.0 0.6h0m16.2 0.8h0m6.1 0.4h0m14.2 1.4h0m14.9 1.2h0m9.8 -4.7h0m3.9 1.1h0m-83.6 4.5h0m4.3 4.7h0m3.8 -3.6h0m1.5 1.3h0m8.4 -0.3h0m11.8 0.1h0m0.6 -0.5h0m5.2 -0.4h0m4.5 3.5h0m12.6 0.4h0m4.2 -0.6h0m7.8 0.1h0m1.7 0.0h0m1.1 -4.1h0m1.9 0.7h0m8.7 -1.0h0m3.6 0.9h0m-61.1 5.0h0m1.1 3.8h0m2.0 -4.0h0m6.7 5.0h0m1.4 -1.0h0m3.6 1.5h0m7.2 -5.2h0m13.1 2.6h0m0.2 0.5h0m5.7 -2.5h0m3.4 2.2h0m3.6 -1.1h0m3.7 -0.4h0m-39.6 5.6h0m9.2 -0.9h0" stroke="#4c2ccc" stroke-width="1.8" stroke-linecap="round" fill="none" opacity="1.0"/>
<path d="M545.7 2335.9h0m2.8 -2.2h0m0.7 -1.5h0m8.4 3.6h0m3.7 -2.3h0m8.4 1.9h0m7.1 -0.7h0m5.8 1.9h0m-56.0 1.3h0m2.7 -0.8h0m0.4 5.6h0m5.4 -2.8h0m4.7 1.5h0m1.7 -1.9h0m2.4 -1.4h0m0.7 3.2h0m8.1 1.1h0m6.0 -3.4h0m7.1 1.2h0m2.5 -1.8h0m0.3 1.6h0m1.5 -1.0h0m6.2 0.2h0m5.0 -1.5h0m2.9 5.3h0m1.8 -2.2h0m1.7 1.9h0m0.7 -1.4h0m-75.0 6.4h0m5.1 -3.9h0m1.9 -0.1h0m7.0 5.0h0m2.0 -4.6h0m6.4 -0.6h0m9.8 4.5h0m9.8 -2.9h0m2.9 -1.0h0m16.5 3.9h0m9.6 -0.9h0m5.8 -2.8h0m9.1 0.2h0m1.7 2.3h0m4.6 1.8h0m-99.4 5.2h0m2.5 -3.2h0m3.6 0.0h0m17.6 0.3h0m11.6 -0.2h0m25.2 2.7h0m6.3 0.4h0m3.3 0.3h0m4.1 -0.7h0m14.5 -3.8h0m4.7 4.5h0m1.8 -3.7h0m2.1 1.9h0m-105.2 5.9h0m2.1 2.1h0m3.7 -3.0h0m2.3 -2.4h0m0.7 4.6h0m2.8 -4.5h0m38.9 3.7h0m7.7 -2.1h0m2.4 3.1h0m20.0 -3.9h0m13.5 0.5h0m8.2 4.0h0m4.2 -1.2h0m2.4 -1.5h0m3.2 -0.5h0m2.7 -0.5h0m2.7 1.0h0m-120.5 8.9h0m1.4 -0.3h0m4.1 -4.4h0m2.7 0.1h0m8.2 1.3h0m26.7 1.8h0m28.4 1.7h0m9.6 -3.7h0m8.1 -0.8h0m3.6 2.1h0m20.0 0.8h0m1.3 1.0h0m7.6 -4.7h0m1.3 -0.3h0m1.6 3.1h0m-127.6 4.8h0m2.1 1.4h0m13.3 -0.3h0m7.8 -1.7h0m9.1 0.5h0m9.8 2.8h0m7.8 -3.7h0m4.0 -0.6h0m27.2 4.9h0m27.3 -0.7h0m10.8 -1.1h0m4.1 -1.0h0m4.1 0.8h0m2.2 1.9h0m0.5 -1.3h0m-130.9 5.1h0m8.3 -1.3h0m12.9 1.2h0m5.0 1.8h0m5.3 0.3h0m11.6 -0.3h0m16.8 -4.8h0m5.9 0.1h0m8.6 1.2h0m8.5 1.7h0m5.1 -0.4h0m7.0 -0.4h0m8.0 -0.2h0m7.6 2.5h0m10.0 -2.6h0m7.0 2.0h0m5.8 -2.8h0m-139.1 8.2h0m4.4 -1.1h0m3.5 -2.1h0m3.7 4.4h0m2.0 0.7h0m2.0 -3.7h0m1.1 3.8h0m10.0 -1.9h0m5.9 -2.0h0m3.6 2.2h0m21.4 -1.0h0m3.3 1.5h0m10.0 2.3h0m20.9 -1.6h0m20.8 -1.2h0m9.3 -0.6h0m12.4 0.7h0m4.5 0.0h0m1.8 2.3h0m-142.7 3.5h0m4.5 2.1h0m8.0 -3.2h0m2.4 -0.2h0m4.1 1.7h0m5.2 -2.2h0m8.3 3.8h0m15.4 -1.6h0m4.6 0.7h0m5.4 -3.6h0m10.8 1.3h0m5.6 4.0h0m8.1 -1.7h0m11.0 -1.6h0m7.6 2.3h0m4.0 -3.1h0m15.5 0.7h0m24.8 0.7h0m1.3 -1.4h0m-148.7 5.5h0m2.7 4.7h0m1.4 -1.3h0m8.7 0.5h0m5.5 -5.1h0m21.0 4.2h0m16.2 -1.3h0m4.3 -1.6h0m21.6 1.4h0m27.4 -0.7h0m6.2 2.7h0m6.7 -3.5h0m5.5 0.7h0m3.2 3.2h0m13.8 -3.1h0m3.9 1.3h0m2.4 0.3h0m-148.7 2.9h0m1.3 1.1h0m3.2 -1.1h0m9.6 1.3h0m2.4 0.1h0m4.8 1.2h0m16.4 -1.3h0m18.1 3.8h0m3.9 -2.1h0m3.3 -2.4h0m6.1 3.1h0m21.0 -1.3h0m15.5 2.8h0m14.6 -4.2h0m10.9 3.8h0m9.1 -4.1h0m6.8 2.4h0m0.8 -3.6h0m1.6 0.5h0m-153.8 5.5h0m2.3 5.0h0m2.9 -1.4h0m3.2 0.6h0m10.7 -3.1h0m6.7 2.0h0m5.8 0.7h0m11.1 0.8h0m4.5 -2.8h0m12.8 -0.9h0m9.1 4.5h0m5.0 -4.4h0m15.1 -0.9h0m5.4 5.2h0m23.5 -3.9h0m27.4 3.8h0m3.3 0.3h0m1.3 -0.8h0m2.7 -0.6h0m0.8 -3.4h0m-151.5 10.6h0m5.1 -5.4h0m2.5 1.9h0m4.7 3.3h0m17.2 -3.6h0m3.3 1.8h0m25.4 -1.0h0m19.7 -1.8h0m17.6 3.8h0m31.5 -2.3h0m7.2 0.6h0m4.2 1.3h0m2.6 1.6h0m7.5 -3.5h0m-150.0 6.3h0m4.0 -1.0h0m1.2 -1.0h0m1.0 5.1h0m3.3 -3.9h0m9.4 -0.3h0m12.5 -0.5h0m19.8 -0.5h0m6.1 5.4h0m2.5 -4.9h0m3.4 2.4h0m1.1 1.1h0m15.9 -3.8h0m24.4 1.5h0m30.9 -1.1h0m2.4 3.5h0m7.9 -2.2h0m0.9 1.6h0m7.2 -3.4h0m-154.2 7.3h0m3.3 2.4h0m7.4 -2.8h0m1.5 -0.4h0m6.8 0.7h0m8.0 -0.7h0m9.3 0.4h0m20.1 4.6h0m3.5 -2.4h0m6.3 2.5h0m27.1 -4.3h0m18.4 0.8h0m14.5 -0.2h0m23.5 0.6h0m3.6 -2.2h0m-150.4 5.8h0m4.8 1.0h0m4.2 4.4h0m8.9 -0.8h0m21.0 -2.0h0m10.0 -2.1h0m7.8 1.0h0m3.6 0.8h0m1.6 1.7h0m18.2 -3.9h0m17.4 4.7h0m14.0 -4.0h0m8.5 3.0h0m16.8 1.1h0m9.5 -2.3h0m-145.5 5.8h0m2.5 2.8h0m3.5 -3.6h0m0.9 0.0h0m25.1 0.4h0m20.5 0.0h0m7.4 3.5h0m10.0 -5.6h0m14.5 2.2h0m2.2 -1.3h0m8.0 -1.0h0m10.6 3.1h0m5.3 -0.3h0m2.0 -1.8h0m18.8 -1.0h0m11.0 5.3h0m1.2 -1.1h0m2.8 -3.9h0m-142.9 6.9h0m5.0 0.7h0m2.5 -1.8h0m24.0 4.4h0m3.4 -0.9h0m9.4 -1.6h0m5.4 1.8h0m4.1 -3.1h0m7.9 -0.1h0m7.7 1.0h0m10.2 3.9h0m5.2 -4.5h0m15.4 3.4h0m18.2 0.9h0m5.7 -0.6h0m7.3 -2.7h0m5.8 -1.1h0m4.8 -1.2h0m-137.8 6.2h0m4.0 2.0h0m5.1 -1.9h0m1.0 3.9h0m12.9 -2.2h0m7.3 -0.9h0m7.8 1.0h0m6.5 2.6h0m13.7 -2.6h0m2.7 -2.0h0m2.7 5.4h0m6.9 -0.1h0m9.6 -2.7h0m29.2 1.2h0m15.4 -2.2h0m4.5 2.1h0m4.2 0.2h0m2.5 -2.4h0m-133.1 4.9h0m6.9 3.3h0m4.2 1.2h0m21.0 -4.7h0m2.4 2.4h0m8.6 -0.8h0m13.2 -0.8h0m9.4 0.7h0m12.0 3.6h0m13.9 -4.6h0m17.9 0.3h0m12.5 3.7h0m4.1 -0.1h0m-122.8 4.8h0m1.7 -1.2h0m1.0 1.2h0m1.4 0.4h0m3.9 -2.8h0m7.3 1.4h0m12.6 0.8h0m8.1 -2.4h0m26.3 4.7h0m8.8 -5.2h0m21.6 5.2h0m3.0 -3.0h0m12.9 2.7h0m3.3 -1.5h0m1.7 -2.1h0m4.2 -1.7h0m5.4 1.1h0m-117.2 6.4h0m2.7 3.6h0m5.9 -2.7h0m1.9 -2.8h0m3.6 1.6h0m3.8 0.6h0m0.8 -1.5h0m25.0 4.8h0m0.4 -1.2h0m7.2 -1.9h0m16.3 0.6h0m11.5 1.9h0m5.0 -2.1h0m2.5 2.5h0m6.9 -0.9h0m7.5 1.4h0m5.1 -4.3h0m1.8 2.1h0m1.0 -0.2h0m-100.7 5.8h0m2.7 2.1h0m2.8 -4.1h0m7.8 0.8h0m0.3 2.9h0m3.1 -3.8h0m11.0 -1.2h0m15.0 3.3h0m11.6 2.6h0m7.6 -2.9h0m18.8 -1.3h0m6.1 -0.2h0m4.0 4.1h0m-84.7 3.9h0m4.8 -1.1h0m3.0 0.4h0m7.1 1.6h0m6.7 -0.1h0m7.3 -1.0h0m2.9 0.6h0m4.2 1.9h0m13.3 -5.2h0m3.8 2.2h0m7.6 1.4h0m3.1 1.6h0m2.2 -4.7h0m0.7 3.1h0m1.6 0.8h0m10.7 -4.5h0m-65.3 6.9h0m5.8 2.9h0m0.8 -1.0h0m6.4 0.7h0m2.8 -1.2h0m1.9 0.4h0m7.5 -2.8h0m7.7 4.9h0m7.7 -2.0h0m5.2 1.6h0m1.8 -2.1h0m5.1 0.4h0m0.7 -0.2h0m-42.4 3.5h0m11.9 1.6h0m7.0 -2.1h0" stroke="#4c2ccc" stroke-width="2.6" stroke-linecap="round" fill="none" opacity="1.0"/>
<text x="221.0" y="2122.5" font-size="17.8" text-anchor="middle">Control</text>
<text x="385.0" y="2122.5" font-size="17.8" text-anchor="middle">sh-NC</text>
<text x="560.0" y="2122.5" font-size="17.8" text-anchor="middle">sh-HMG20A</text>
<text x="220.3" y="2324.0" font-size="17.8" text-anchor="middle">Control</text>
<text x="394.2" y="2324.0" font-size="17.8" text-anchor="middle">sh-NC</text>
<text x="564.5" y="2324.0" font-size="17.8" text-anchor="middle">sh-HMG20A</text>
<text x="103.9" y="2213.0" font-size="23.8" text-anchor="middle" transform="rotate(-90 103.9 2213.0)">HCT-116/5-FU</text>
<text x="105.5" y="2399.8" font-size="23.4" text-anchor="middle" transform="rotate(-90 105.5 2399.8)">SW620/5-FU</text>
<text x="695.0" y="2129.5" font-size="45">H</text>
<defs>
<filter id="hbg" x="0" y="0" width="100%" height="100%" color-interpolation-filters="sRGB"><feTurbulence type="fractalNoise" baseFrequency="0.7" numOctaves="2" seed="11"/><feColorMatrix type="matrix" values="0.16 0 0 0 0.657  0.16 0 0 0 0.685  0.16 0 0 0 0.716  0 0 0 0 1"/></filter>
<filter id="hl0" x="0" y="0" width="100%" height="100%" color-interpolation-filters="sRGB"><feTurbulence type="fractalNoise" baseFrequency="0.07" numOctaves="3" seed="3" result="a0"/><feColorMatrix in="a0" type="matrix" values="1 0 0 0 0  1 0 0 0 0  1 0 0 0 0  0 0 0 0 1" result="a"/><feTurbulence type="fractalNoise" baseFrequency="0.013" numOctaves="2" seed="50" result="b0"/><feColorMatrix in="b0" type="matrix" values="1 0 0 0 0  1 0 0 0 0  1 0 0 0 0  0 0 0 0 1" result="b"/><feComposite in="a" in2="b" operator="arithmetic" k1="0" k2="1" k3="0.22" k4="-0.110" result="c"/><feColorMatrix in="c" type="matrix" values="0 0 0 0 0.502  0 0 0 0 0.533  0 0 0 0 0.863  12 0 0 0 -6.540"/></filter>
<filter id="hd0" x="0" y="0" width="100%" height="100%" color-interpolation-filters="sRGB"><feTurbulence type="fractalNoise" baseFrequency="0.12" numOctaves="3" seed="13" result="a0"/><feColorMatrix in="a0" type="matrix" values="1 0 0 0 0  1 0 0 0 0  1 0 0 0 0  0 0 0 0 1" result="a"/><feTurbulence type="fractalNoise" baseFrequency="0.013" numOctaves="2" seed="50" result="b0"/><feColorMatrix in="b0" type="matrix" values="1 0 0 0 0  1 0 0 0 0  1 0 0 0 0  0 0 0 0 1" result="b"/><feComposite in="a" in2="b" operator="arithmetic" k1="0" k2="1" k3="0.22" k4="-0.110" result="c"/><feColorMatrix in="c" type="matrix" values="0 0 0 0 0.196  0 0 0 0 0.235  0 0 0 0 0.765  12 0 0 0 -7.380"/></filter>
<filter id="hl1" x="0" y="0" width="100%" height="100%" color-interpolation-filters="sRGB"><feTurbulence type="fractalNoise" baseFrequency="0.07" numOctaves="3" seed="10" result="a0"/><feColorMatrix in="a0" type="matrix" values="1 0 0 0 0  1 0 0 0 0  1 0 0 0 0  0 0 0 0 1" result="a"/><feTurbulence type="fractalNoise" baseFrequency="0.013" numOctaves="2" seed="55" result="b0"/><feColorMatrix in="b0" type="matrix" values="1 0 0 0 0  1 0 0 0 0  1 0 0 0 0  0 0 0 0 1" result="b"/><feComposite in="a" in2="b" operator="arithmetic" k1="0" k2="1" k3="0.22" k4="-0.110" result="c"/><feColorMatrix in="c" type="matrix" values="0 0 0 0 0.502  0 0 0 0 0.533  0 0 0 0 0.863  12 0 0 0 -6.480"/></filter>
<filter id="hd1" x="0" y="0" width="100%" height="100%" color-interpolation-filters="sRGB"><feTurbulence type="fractalNoise" baseFrequency="0.12" numOctaves="3" seed="20" result="a0"/><feColorMatrix in="a0" type="matrix" values="1 0 0 0 0  1 0 0 0 0  1 0 0 0 0  0 0 0 0 1" result="a"/><feTurbulence type="fractalNoise" baseFrequency="0.013" numOctaves="2" seed="55" result="b0"/><feColorMatrix in="b0" type="matrix" values="1 0 0 0 0  1 0 0 0 0  1 0 0 0 0  0 0 0 0 1" result="b"/><feComposite in="a" in2="b" operator="arithmetic" k1="0" k2="1" k3="0.22" k4="-0.110" result="c"/><feColorMatrix in="c" type="matrix" values="0 0 0 0 0.196  0 0 0 0 0.235  0 0 0 0 0.765  12 0 0 0 -7.320"/></filter>
<filter id="hl2" x="0" y="0" width="100%" height="100%" color-interpolation-filters="sRGB"><feTurbulence type="fractalNoise" baseFrequency="0.07" numOctaves="3" seed="17" result="a0"/><feColorMatrix in="a0" type="matrix" values="1 0 0 0 0  1 0 0 0 0  1 0 0 0 0  0 0 0 0 1" result="a"/><feTurbulence type="fractalNoise" baseFrequency="0.013" numOctaves="2" seed="60" result="b0"/><feColorMatrix in="b0" type="matrix" values="1 0 0 0 0  1 0 0 0 0  1 0 0 0 0  0 0 0 0 1" result="b"/><feComposite in="a" in2="b" operator="arithmetic" k1="0" k2="1" k3="0.22" k4="-0.110" result="c"/><feColorMatrix in="c" type="matrix" values="0 0 0 0 0.502  0 0 0 0 0.533  0 0 0 0 0.863  12 0 0 0 -6.660"/></filter>
<filter id="hd2" x="0" y="0" width="100%" height="100%" color-interpolation-filters="sRGB"><feTurbulence type="fractalNoise" baseFrequency="0.12" numOctaves="3" seed="27" result="a0"/><feColorMatrix in="a0" type="matrix" values="1 0 0 0 0  1 0 0 0 0  1 0 0 0 0  0 0 0 0 1" result="a"/><feTurbulence type="fractalNoise" baseFrequency="0.013" numOctaves="2" seed="60" result="b0"/><feColorMatrix in="b0" type="matrix" values="1 0 0 0 0  1 0 0 0 0  1 0 0 0 0  0 0 0 0 1" result="b"/><feComposite in="a" in2="b" operator="arithmetic" k1="0" k2="1" k3="0.22" k4="-0.110" result="c"/><feColorMatrix in="c" type="matrix" values="0 0 0 0 0.196  0 0 0 0 0.235  0 0 0 0 0.765  12 0 0 0 -7.500"/></filter>
<filter id="hl3" x="0" y="0" width="100%" height="100%" color-interpolation-filters="sRGB"><feTurbulence type="fractalNoise" baseFrequency="0.07" numOctaves="3" seed="24" result="a0"/><feColorMatrix in="a0" type="matrix" values="1 0 0 0 0  1 0 0 0 0  1 0 0 0 0  0 0 0 0 1" result="a"/><feTurbulence type="fractalNoise" baseFrequency="0.013" numOctaves="2" seed="65" result="b0"/><feColorMatrix in="b0" type="matrix" values="1 0 0 0 0  1 0 0 0 0  1 0 0 0 0  0 0 0 0 1" result="b"/><feComposite in="a" in2="b" operator="arithmetic" k1="0" k2="1" k3="0.22" k4="-0.110" result="c"/><feColorMatrix in="c" type="matrix" values="0 0 0 0 0.502  0 0 0 0 0.533  0 0 0 0 0.863  12 0 0 0 -6.660"/></filter>
<filter id="hd3" x="0" y="0" width="100%" height="100%" color-interpolation-filters="sRGB"><feTurbulence type="fractalNoise" baseFrequency="0.12" numOctaves="3" seed="34" result="a0"/><feColorMatrix in="a0" type="matrix" values="1 0 0 0 0  1 0 0 0 0  1 0 0 0 0  0 0 0 0 1" result="a"/><feTurbulence type="fractalNoise" baseFrequency="0.013" numOctaves="2" seed="65" result="b0"/><feColorMatrix in="b0" type="matrix" values="1 0 0 0 0  1 0 0 0 0  1 0 0 0 0  0 0 0 0 1" result="b"/><feComposite in="a" in2="b" operator="arithmetic" k1="0" k2="1" k3="0.22" k4="-0.110" result="c"/><feColorMatrix in="c" type="matrix" values="0 0 0 0 0.196  0 0 0 0 0.235  0 0 0 0 0.765  12 0 0 0 -7.500"/></filter>
<filter id="hl4" x="0" y="0" width="100%" height="100%" color-interpolation-filters="sRGB"><feTurbulence type="fractalNoise" baseFrequency="0.07" numOctaves="3" seed="31" result="a0"/><feColorMatrix in="a0" type="matrix" values="1 0 0 0 0  1 0 0 0 0  1 0 0 0 0  0 0 0 0 1" result="a"/><feTurbulence type="fractalNoise" baseFrequency="0.013" numOctaves="2" seed="70" result="b0"/><feColorMatrix in="b0" type="matrix" values="1 0 0 0 0  1 0 0 0 0  1 0 0 0 0  0 0 0 0 1" result="b"/><feComposite in="a" in2="b" operator="arithmetic" k1="0" k2="1" k3="0.22" k4="-0.110" result="c"/><feColorMatrix in="c" type="matrix" values="0 0 0 0 0.502  0 0 0 0 0.533  0 0 0 0 0.863  12 0 0 0 -6.660"/></filter>
<filter id="hd4" x="0" y="0" width="100%" height="100%" color-interpolation-filters="sRGB"><feTurbulence type="fractalNoise" baseFrequency="0.12" numOctaves="3" seed="41" result="a0"/><feColorMatrix in="a0" type="matrix" values="1 0 0 0 0  1 0 0 0 0  1 0 0 0 0  0 0 0 0 1" result="a"/><feTurbulence type="fractalNoise" baseFrequency="0.013" numOctaves="2" seed="70" result="b0"/><feColorMatrix in="b0" type="matrix" values="1 0 0 0 0  1 0 0 0 0  1 0 0 0 0  0 0 0 0 1" result="b"/><feComposite in="a" in2="b" operator="arithmetic" k1="0" k2="1" k3="0.22" k4="-0.110" result="c"/><feColorMatrix in="c" type="matrix" values="0 0 0 0 0.196  0 0 0 0 0.235  0 0 0 0 0.765  12 0 0 0 -7.500"/></filter>
<filter id="hl5" x="0" y="0" width="100%" height="100%" color-interpolation-filters="sRGB"><feTurbulence type="fractalNoise" baseFrequency="0.07" numOctaves="3" seed="38" result="a0"/><feColorMatrix in="a0" type="matrix" values="1 0 0 0 0  1 0 0 0 0  1 0 0 0 0  0 0 0 0 1" result="a"/><feTurbulence type="fractalNoise" baseFrequency="0.013" numOctaves="2" seed="75" result="b0"/><feColorMatrix in="b0" type="matrix" values="1 0 0 0 0  1 0 0 0 0  1 0 0 0 0  0 0 0 0 1" result="b"/><feComposite in="a" in2="b" operator="arithmetic" k1="0" k2="1" k3="0.22" k4="-0.110" result="c"/><feColorMatrix in="c" type="matrix" values="0 0 0 0 0.502  0 0 0 0 0.533  0 0 0 0 0.863  12 0 0 0 -7.020"/></filter>
<filter id="hd5" x="0" y="0" width="100%" height="100%" color-interpolation-filters="sRGB"><feTurbulence type="fractalNoise" baseFrequency="0.12" numOctaves="3" seed="48" result="a0"/><feColorMatrix in="a0" type="matrix" values="1 0 0 0 0  1 0 0 0 0  1 0 0 0 0  0 0 0 0 1" result="a"/><feTurbulence type="fractalNoise" baseFrequency="0.013" numOctaves="2" seed="75" result="b0"/><feColorMatrix in="b0" type="matrix" values="1 0 0 0 0  1 0 0 0 0  1 0 0 0 0  0 0 0 0 1" result="b"/><feComposite in="a" in2="b" operator="arithmetic" k1="0" k2="1" k3="0.22" k4="-0.110" result="c"/><feColorMatrix in="c" type="matrix" values="0 0 0 0 0.196  0 0 0 0 0.235  0 0 0 0 0.765  12 0 0 0 -7.860"/></filter>
</defs>
<rect x="775.7" y="2149.8" width="205.9" height="153.8" filter="url(#hbg)"/>
<rect x="775.7" y="2149.8" width="205.9" height="153.8" filter="url(#hl0)"/>
<rect x="775.7" y="2149.8" width="205.9" height="153.8" filter="url(#hd0)"/>
<rect x="988.5" y="2149.8" width="205.0" height="153.8" filter="url(#hbg)"/>
<rect x="988.5" y="2149.8" width="205.0" height="153.8" filter="url(#hl1)"/>
<rect x="988.5" y="2149.8" width="205.0" height="153.8" filter="url(#hd1)"/>
<rect x="1200" y="2149.8" width="206.0" height="153.8" filter="url(#hbg)"/>
<rect x="1200" y="2149.8" width="206.0" height="153.8" filter="url(#hl2)"/>
<rect x="1200" y="2149.8" width="206.0" height="153.8" filter="url(#hd2)"/>
<rect x="775.7" y="2336.5" width="205.9" height="153.5" filter="url(#hbg)"/>
<rect x="775.7" y="2336.5" width="205.9" height="153.5" filter="url(#hl3)"/>
<rect x="775.7" y="2336.5" width="205.9" height="153.5" filter="url(#hd3)"/>
<rect x="988.5" y="2336.5" width="205.0" height="153.5" filter="url(#hbg)"/>
<rect x="988.5" y="2336.5" width="205.0" height="153.5" filter="url(#hl4)"/>
<rect x="988.5" y="2336.5" width="205.0" height="153.5" filter="url(#hd4)"/>
<rect x="1200" y="2336.5" width="206.0" height="153.5" filter="url(#hbg)"/>
<rect x="1200" y="2336.5" width="206.0" height="153.5" filter="url(#hl5)"/>
<rect x="1200" y="2336.5" width="206.0" height="153.5" filter="url(#hd5)"/>
<defs><filter id="hsb" x="-50%" y="-50%" width="200%" height="200%"><feGaussianBlur stdDeviation="7"/></filter><clipPath id="hclip"><rect x="775.7" y="2149.8" width="205.9" height="153.8"/><rect x="988.5" y="2149.8" width="205" height="153.8"/><rect x="1200" y="2149.8" width="206" height="153.8"/><rect x="775.7" y="2336.5" width="205.9" height="153.5"/><rect x="988.5" y="2336.5" width="205" height="153.5"/><rect x="1200" y="2336.5" width="206" height="153.5"/></clipPath></defs>
<g clip-path="url(#hclip)" filter="url(#hsb)" fill="#bcc3c8" opacity="0.8"><ellipse cx="840" cy="2230" rx="22" ry="25"/><ellipse cx="900" cy="2282" rx="24" ry="18"/><ellipse cx="798" cy="2180" rx="14" ry="24"/><ellipse cx="1140" cy="2272" rx="36" ry="28"/><ellipse cx="1012" cy="2160" rx="18" ry="12"/><ellipse cx="1060" cy="2292" rx="20" ry="12"/><ellipse cx="1295" cy="2232" rx="40" ry="30"/><ellipse cx="1232" cy="2170" rx="25" ry="15"/><ellipse cx="1330" cy="2165" rx="20" ry="12"/><ellipse cx="825" cy="2375" rx="30" ry="22"/><ellipse cx="945" cy="2362" rx="20" ry="15"/><ellipse cx="1110" cy="2372" rx="30" ry="22"/><ellipse cx="1060" cy="2462" rx="25" ry="18"/><ellipse cx="1250" cy="2405" rx="45" ry="45"/><ellipse cx="1215" cy="2465" rx="20" ry="18"/><ellipse cx="1300" cy="2360" rx="25" ry="18"/></g>
<text x="893.6" y="2141.4" font-size="21.5" text-anchor="middle">Control</text>
<text x="1094.3" y="2141.4" font-size="21.5" text-anchor="middle">sh-NC</text>
<text x="1303.0" y="2141.4" font-size="21.5" text-anchor="middle">sh-HMG20A</text>
<text x="893.6" y="2329.7" font-size="21.5" text-anchor="middle">Control</text>
<text x="1094.3" y="2329.7" font-size="21.5" text-anchor="middle">sh-NC</text>
<text x="1303.0" y="2329.7" font-size="21.5" text-anchor="middle">sh-HMG20A</text>
<text x="759.0" y="2227.5" font-size="24.5" text-anchor="middle" transform="rotate(-90 759.0 2227.5)">HCT-116/5-FU</text>
<text x="759.0" y="2416.2" font-size="24.2" text-anchor="middle" transform="rotate(-90 759.0 2416.2)">SW620/5-FU</text>
<line x1="1357.5" y1="2479.0" x2="1392.5" y2="2479.0" stroke="#000" stroke-width="2.5"/>
</svg></body></html>
